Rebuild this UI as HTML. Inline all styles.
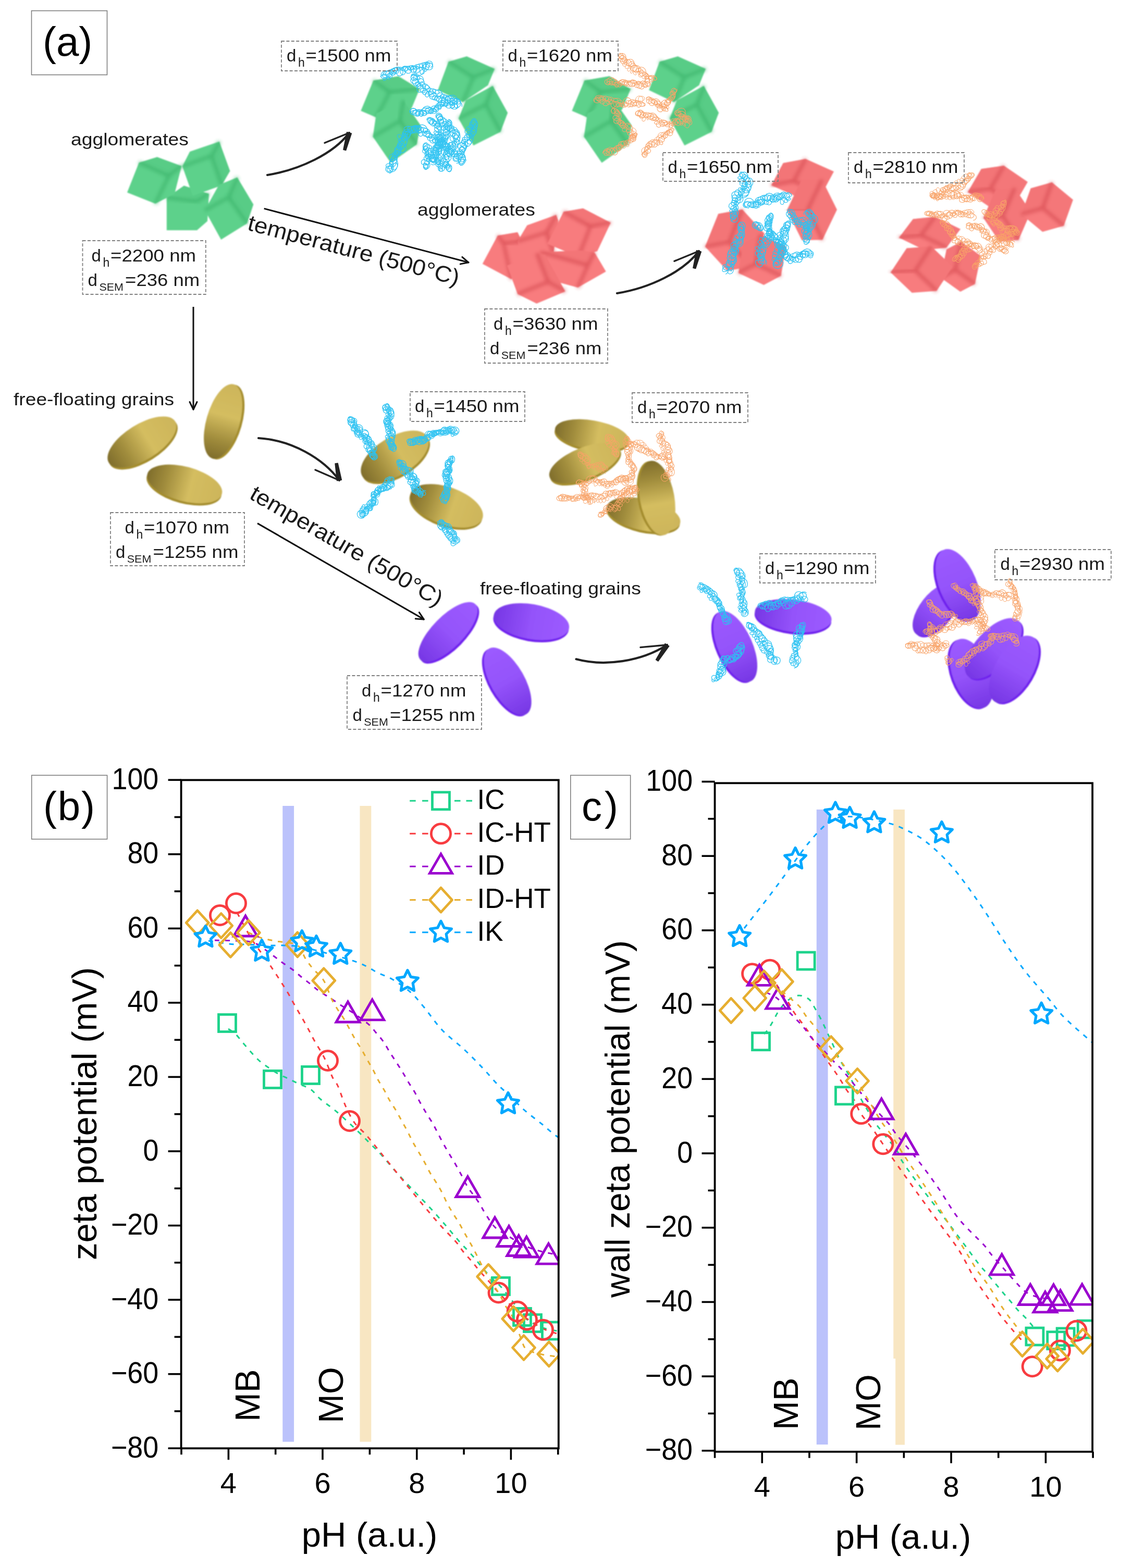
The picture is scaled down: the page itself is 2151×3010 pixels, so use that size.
<!DOCTYPE html>
<html><head><meta charset="utf-8"><title>Figure</title>
<style>html,body{margin:0;padding:0;background:#fff;overflow:hidden}svg{display:block}</style>
</head><body>
<svg width="2151" height="3010" viewBox="0 0 2151 3010">
<rect width="100%" height="100%" fill="#fff"/>
<defs>
<filter id="blur3" x="-50%" y="-50%" width="200%" height="200%"><feGaussianBlur stdDeviation="3"/></filter>
<filter id="blur1" x="-10%" y="-10%" width="120%" height="120%"><feGaussianBlur stdDeviation="0.8"/></filter>
<linearGradient id="ggold" x1="0" y1="0" x2="1" y2="0">
<stop offset="0" stop-color="#7f6d2b"/><stop offset="0.25" stop-color="#a08c3c"/><stop offset="0.58" stop-color="#d4bd60"/><stop offset="1" stop-color="#cdb55a"/></linearGradient>
<linearGradient id="gpurp" x1="0" y1="0" x2="1" y2="0">
<stop offset="0" stop-color="#7636e4"/><stop offset="0.5" stop-color="#9453fa"/><stop offset="1" stop-color="#9c5bff"/></linearGradient>
</defs>
<rect x="60.5" y="20.6" width="145" height="123" fill="none" stroke="#7f7f7f" stroke-width="1.6"/>
<text x="82" y="107" font-family="'Liberation Sans', Arial, sans-serif" font-size="78" fill="#000">(a)</text>
<g filter="url(#blur1)"><g><polygon points="319.8,379.7 353.0,356.4 401.0,372.0 398.0,424.6 378.0,442.0 319.8,442.0" fill="#5dd18b"/><polygon points="378.0,387.0 319.8,379.7 353.0,356.4 401.0,372.0" fill="#52c681" opacity="0.45"/><line x1="378.0" y1="387.0" x2="319.8" y2="379.7" stroke="#3db36b" stroke-width="7" opacity="0.65" filter="url(#blur3)"/><line x1="378.0" y1="387.0" x2="401.0" y2="372.0" stroke="#3db36b" stroke-width="7" opacity="0.65" filter="url(#blur3)"/><line x1="378.0" y1="387.0" x2="378.0" y2="442.0" stroke="#3db36b" stroke-width="7" opacity="0.65" filter="url(#blur3)"/></g>
<g><polygon points="266.6,312.3 301.5,301.6 348.4,318.7 335.0,372.0 298.0,391.0 244.0,369.4" fill="#5dd18b"/><polygon points="323.7,337.9 266.6,312.3 301.5,301.6 348.4,318.7" fill="#52c681" opacity="0.45"/><line x1="323.7" y1="337.9" x2="266.6" y2="312.3" stroke="#3db36b" stroke-width="7" opacity="0.65" filter="url(#blur3)"/><line x1="323.7" y1="337.9" x2="348.4" y2="318.7" stroke="#3db36b" stroke-width="7" opacity="0.65" filter="url(#blur3)"/><line x1="323.7" y1="337.9" x2="298.0" y2="391.0" stroke="#3db36b" stroke-width="7" opacity="0.65" filter="url(#blur3)"/></g>
<g><polygon points="364.3,291.0 420.8,271.7 441.3,328.2 425.3,355.9 369.9,375.8 349.9,319.3" fill="#5dd18b"/><polygon points="405.4,299.5 420.8,271.7 441.3,328.2 425.3,355.9" fill="#52c681" opacity="0.45"/><line x1="405.4" y1="299.5" x2="420.8" y2="271.7" stroke="#3db36b" stroke-width="7" opacity="0.65" filter="url(#blur3)"/><line x1="405.4" y1="299.5" x2="425.3" y2="355.9" stroke="#3db36b" stroke-width="7" opacity="0.65" filter="url(#blur3)"/><line x1="405.4" y1="299.5" x2="349.9" y2="319.3" stroke="#3db36b" stroke-width="7" opacity="0.65" filter="url(#blur3)"/></g>
<g><polygon points="455.2,340.4 486.2,392.5 474.0,429.0 424.2,460.1 393.1,403.6 420.0,355.0" fill="#5dd18b"/><polygon points="438.3,379.0 455.2,340.4 486.2,392.5 474.0,429.0" fill="#52c681" opacity="0.45"/><line x1="438.3" y1="379.0" x2="455.2" y2="340.4" stroke="#3db36b" stroke-width="7" opacity="0.65" filter="url(#blur3)"/><line x1="438.3" y1="379.0" x2="474.0" y2="429.0" stroke="#3db36b" stroke-width="7" opacity="0.65" filter="url(#blur3)"/><line x1="438.3" y1="379.0" x2="393.1" y2="403.6" stroke="#3db36b" stroke-width="7" opacity="0.65" filter="url(#blur3)"/></g>
<g><polygon points="716.4,154.5 764.4,146.2 805.1,171.1 788.5,210.8 722.0,225.6 692.4,212.7" fill="#5dd18b"/><polygon points="747.5,177.2 716.4,154.5 764.4,146.2 805.1,171.1" fill="#52c681" opacity="0.45"/><line x1="747.5" y1="177.2" x2="716.4" y2="154.5" stroke="#3db36b" stroke-width="7" opacity="0.65" filter="url(#blur3)"/><line x1="747.5" y1="177.2" x2="805.1" y2="171.1" stroke="#3db36b" stroke-width="7" opacity="0.65" filter="url(#blur3)"/><line x1="747.5" y1="177.2" x2="722.0" y2="225.6" stroke="#3db36b" stroke-width="7" opacity="0.65" filter="url(#blur3)"/></g>
<g><polygon points="773.7,192.4 807.0,240.4 799.5,277.4 749.7,312.4 715.5,262.6 722.0,218.0" fill="#5dd18b"/><polygon points="766.7,232.4 773.7,192.4 807.0,240.4 799.5,277.4" fill="#52c681" opacity="0.45"/><line x1="766.7" y1="232.4" x2="773.7" y2="192.4" stroke="#3db36b" stroke-width="7" opacity="0.65" filter="url(#blur3)"/><line x1="766.7" y1="232.4" x2="799.5" y2="277.4" stroke="#3db36b" stroke-width="7" opacity="0.65" filter="url(#blur3)"/><line x1="766.7" y1="232.4" x2="715.5" y2="262.6" stroke="#3db36b" stroke-width="7" opacity="0.65" filter="url(#blur3)"/></g>
<g><polygon points="860.5,118.5 895.6,108.3 949.2,132.3 936.3,163.7 888.2,196.0 840.2,173.0" fill="#5dd18b"/><polygon points="907.9,148.8 860.5,118.5 895.6,108.3 949.2,132.3" fill="#52c681" opacity="0.45"/><line x1="907.9" y1="148.8" x2="860.5" y2="118.5" stroke="#3db36b" stroke-width="7" opacity="0.65" filter="url(#blur3)"/><line x1="907.9" y1="148.8" x2="949.2" y2="132.3" stroke="#3db36b" stroke-width="7" opacity="0.65" filter="url(#blur3)"/><line x1="907.9" y1="148.8" x2="888.2" y2="196.0" stroke="#3db36b" stroke-width="7" opacity="0.65" filter="url(#blur3)"/></g>
<g><polygon points="893.8,192.4 945.5,164.7 974.1,216.4 960.3,253.3 908.5,279.2 879.9,227.5" fill="#5dd18b"/><polygon points="931.7,200.9 945.5,164.7 974.1,216.4 960.3,253.3" fill="#52c681" opacity="0.45"/><line x1="931.7" y1="200.9" x2="945.5" y2="164.7" stroke="#3db36b" stroke-width="7" opacity="0.65" filter="url(#blur3)"/><line x1="931.7" y1="200.9" x2="960.3" y2="253.3" stroke="#3db36b" stroke-width="7" opacity="0.65" filter="url(#blur3)"/><line x1="931.7" y1="200.9" x2="879.9" y2="227.5" stroke="#3db36b" stroke-width="7" opacity="0.65" filter="url(#blur3)"/></g>
<g><polygon points="1121.4,154.5 1169.4,146.2 1210.1,171.1 1193.5,210.8 1127.0,225.6 1097.4,212.7" fill="#5dd18b"/><polygon points="1152.5,177.2 1121.4,154.5 1169.4,146.2 1210.1,171.1" fill="#52c681" opacity="0.45"/><line x1="1152.5" y1="177.2" x2="1121.4" y2="154.5" stroke="#3db36b" stroke-width="7" opacity="0.65" filter="url(#blur3)"/><line x1="1152.5" y1="177.2" x2="1210.1" y2="171.1" stroke="#3db36b" stroke-width="7" opacity="0.65" filter="url(#blur3)"/><line x1="1152.5" y1="177.2" x2="1127.0" y2="225.6" stroke="#3db36b" stroke-width="7" opacity="0.65" filter="url(#blur3)"/></g>
<g><polygon points="1178.7,192.4 1212.0,240.4 1204.5,277.4 1154.7,312.4 1120.5,262.6 1127.0,218.0" fill="#5dd18b"/><polygon points="1171.7,232.4 1178.7,192.4 1212.0,240.4 1204.5,277.4" fill="#52c681" opacity="0.45"/><line x1="1171.7" y1="232.4" x2="1178.7" y2="192.4" stroke="#3db36b" stroke-width="7" opacity="0.65" filter="url(#blur3)"/><line x1="1171.7" y1="232.4" x2="1204.5" y2="277.4" stroke="#3db36b" stroke-width="7" opacity="0.65" filter="url(#blur3)"/><line x1="1171.7" y1="232.4" x2="1120.5" y2="262.6" stroke="#3db36b" stroke-width="7" opacity="0.65" filter="url(#blur3)"/></g>
<g><polygon points="1265.5,118.5 1300.6,108.3 1354.2,132.3 1341.3,163.7 1293.2,196.0 1245.2,173.0" fill="#5dd18b"/><polygon points="1312.9,148.8 1265.5,118.5 1300.6,108.3 1354.2,132.3" fill="#52c681" opacity="0.45"/><line x1="1312.9" y1="148.8" x2="1265.5" y2="118.5" stroke="#3db36b" stroke-width="7" opacity="0.65" filter="url(#blur3)"/><line x1="1312.9" y1="148.8" x2="1354.2" y2="132.3" stroke="#3db36b" stroke-width="7" opacity="0.65" filter="url(#blur3)"/><line x1="1312.9" y1="148.8" x2="1293.2" y2="196.0" stroke="#3db36b" stroke-width="7" opacity="0.65" filter="url(#blur3)"/></g>
<g><polygon points="1298.8,192.4 1350.5,164.7 1379.1,216.4 1365.3,253.3 1313.5,279.2 1284.9,227.5" fill="#5dd18b"/><polygon points="1336.7,200.9 1350.5,164.7 1379.1,216.4 1365.3,253.3" fill="#52c681" opacity="0.45"/><line x1="1336.7" y1="200.9" x2="1350.5" y2="164.7" stroke="#3db36b" stroke-width="7" opacity="0.65" filter="url(#blur3)"/><line x1="1336.7" y1="200.9" x2="1365.3" y2="253.3" stroke="#3db36b" stroke-width="7" opacity="0.65" filter="url(#blur3)"/><line x1="1336.7" y1="200.9" x2="1284.9" y2="227.5" stroke="#3db36b" stroke-width="7" opacity="0.65" filter="url(#blur3)"/></g>
<g><polygon points="954.9,452.3 993.1,445.7 1001.5,463.2 1001.5,496.4 981.5,536.3 925.8,506.4" fill="#f87c7e"/><polygon points="966.5,468.1 954.9,452.3 993.1,445.7 1001.5,463.2" fill="#ee6c6f" opacity="0.45"/><line x1="966.5" y1="468.1" x2="954.9" y2="452.3" stroke="#d64d52" stroke-width="7" opacity="0.65" filter="url(#blur3)"/><line x1="966.5" y1="468.1" x2="1001.5" y2="463.2" stroke="#d64d52" stroke-width="7" opacity="0.65" filter="url(#blur3)"/><line x1="966.5" y1="468.1" x2="981.5" y2="536.3" stroke="#d64d52" stroke-width="7" opacity="0.65" filter="url(#blur3)"/></g>
<g><polygon points="1011.4,432.4 1067.1,412.4 1071.3,423.2 1062.0,486.0 1000.0,501.0 993.1,463.2" fill="#f87c7e"/><polygon points="1048.0,446.5 1067.1,412.4 1071.3,423.2 1062.0,486.0" fill="#ee6c6f" opacity="0.45"/><line x1="1048.0" y1="446.5" x2="1067.1" y2="412.4" stroke="#d64d52" stroke-width="7" opacity="0.65" filter="url(#blur3)"/><line x1="1048.0" y1="446.5" x2="1062.0" y2="486.0" stroke="#d64d52" stroke-width="7" opacity="0.65" filter="url(#blur3)"/><line x1="1048.0" y1="446.5" x2="993.1" y2="463.2" stroke="#d64d52" stroke-width="7" opacity="0.65" filter="url(#blur3)"/></g>
<g><polygon points="1081.3,406.6 1118.7,400.0 1171.9,427.4 1146.1,482.3 1110.0,493.0 1050.0,468.0" fill="#f87c7e"/><polygon points="1132.8,434.9 1081.3,406.6 1118.7,400.0 1171.9,427.4" fill="#ee6c6f" opacity="0.45"/><line x1="1132.8" y1="434.9" x2="1081.3" y2="406.6" stroke="#d64d52" stroke-width="7" opacity="0.65" filter="url(#blur3)"/><line x1="1132.8" y1="434.9" x2="1171.9" y2="427.4" stroke="#d64d52" stroke-width="7" opacity="0.65" filter="url(#blur3)"/><line x1="1132.8" y1="434.9" x2="1110.0" y2="493.0" stroke="#d64d52" stroke-width="7" opacity="0.65" filter="url(#blur3)"/></g>
<g><polygon points="1037.0,484.0 1114.5,481.0 1141.1,484.8 1162.7,521.3 1108.7,552.1 1072.0,542.0" fill="#f87c7e"/><polygon points="1127.8,509.7 1037.0,484.0 1114.5,481.0 1141.1,484.8" fill="#ee6c6f" opacity="0.45"/><line x1="1127.8" y1="509.7" x2="1037.0" y2="484.0" stroke="#d64d52" stroke-width="7" opacity="0.65" filter="url(#blur3)"/><line x1="1127.8" y1="509.7" x2="1141.1" y2="484.8" stroke="#d64d52" stroke-width="7" opacity="0.65" filter="url(#blur3)"/><line x1="1127.8" y1="509.7" x2="1108.7" y2="552.1" stroke="#d64d52" stroke-width="7" opacity="0.65" filter="url(#blur3)"/></g>
<g><polygon points="973.2,509.7 1029.7,486.4 1046.3,489.7 1084.6,559.6 1029.7,582.8 993.1,564.6" fill="#f87c7e"/><polygon points="1051.3,541.3 1029.7,486.4 1046.3,489.7 1084.6,559.6" fill="#ee6c6f" opacity="0.45"/><line x1="1051.3" y1="541.3" x2="1029.7" y2="486.4" stroke="#d64d52" stroke-width="7" opacity="0.65" filter="url(#blur3)"/><line x1="1051.3" y1="541.3" x2="1084.6" y2="559.6" stroke="#d64d52" stroke-width="7" opacity="0.65" filter="url(#blur3)"/><line x1="1051.3" y1="541.3" x2="993.1" y2="564.6" stroke="#d64d52" stroke-width="7" opacity="0.65" filter="url(#blur3)"/></g>
<g><polygon points="1480.0,355.7 1502.8,313.0 1545.8,305.0 1600.0,329.3 1577.2,372.0 1534.2,380.0" fill="#f87c7e"/><polygon points="1523.0,347.8 1545.8,305.0 1502.8,313.0 1480.0,355.7" fill="#ee6c6f" opacity="0.45"/><polygon points="1523.0,347.8 1545.8,305.0 1600.0,329.3 1577.2,372.0" fill="#d64d52" opacity="0.10"/><line x1="1523.0" y1="347.8" x2="1545.8" y2="305.0" stroke="#d64d52" stroke-width="7" opacity="0.65" filter="url(#blur3)"/><line x1="1523.0" y1="347.8" x2="1480.0" y2="355.7" stroke="#d64d52" stroke-width="7" opacity="0.65" filter="url(#blur3)"/><line x1="1523.0" y1="347.8" x2="1577.2" y2="372.0" stroke="#d64d52" stroke-width="7" opacity="0.65" filter="url(#blur3)"/></g>
<g><polygon points="1510.0,403.5 1537.9,345.5 1577.5,345.0 1606.0,402.5 1578.1,460.5 1538.5,461.0" fill="#f87c7e"/><polygon points="1549.6,402.9 1577.5,345.0 1537.9,345.5 1510.0,403.5" fill="#ee6c6f" opacity="0.45"/><polygon points="1549.6,402.9 1577.5,345.0 1606.0,402.5 1578.1,460.5" fill="#d64d52" opacity="0.10"/><line x1="1549.6" y1="402.9" x2="1577.5" y2="345.0" stroke="#d64d52" stroke-width="7" opacity="0.65" filter="url(#blur3)"/><line x1="1549.6" y1="402.9" x2="1510.0" y2="403.5" stroke="#d64d52" stroke-width="7" opacity="0.65" filter="url(#blur3)"/><line x1="1549.6" y1="402.9" x2="1578.1" y2="460.5" stroke="#d64d52" stroke-width="7" opacity="0.65" filter="url(#blur3)"/></g>
<g><polygon points="1353.0,473.5 1378.3,410.4 1424.4,402.0 1467.0,448.5 1441.7,511.6 1395.6,520.0" fill="#f87c7e"/><polygon points="1399.2,465.1 1424.4,402.0 1378.3,410.4 1353.0,473.5" fill="#ee6c6f" opacity="0.45"/><polygon points="1399.2,465.1 1424.4,402.0 1467.0,448.5 1441.7,511.6" fill="#d64d52" opacity="0.10"/><line x1="1399.2" y1="465.1" x2="1424.4" y2="402.0" stroke="#d64d52" stroke-width="7" opacity="0.65" filter="url(#blur3)"/><line x1="1399.2" y1="465.1" x2="1353.0" y2="473.5" stroke="#d64d52" stroke-width="7" opacity="0.65" filter="url(#blur3)"/><line x1="1399.2" y1="465.1" x2="1441.7" y2="511.6" stroke="#d64d52" stroke-width="7" opacity="0.65" filter="url(#blur3)"/></g>
<g><polygon points="1417.0,524.2 1426.4,467.4 1459.4,450.0 1508.0,472.8 1498.6,529.6 1465.6,547.0" fill="#f87c7e"/><polygon points="1450.1,506.8 1459.4,450.0 1426.4,467.4 1417.0,524.2" fill="#ee6c6f" opacity="0.45"/><polygon points="1450.1,506.8 1459.4,450.0 1508.0,472.8 1498.6,529.6" fill="#d64d52" opacity="0.10"/><line x1="1450.1" y1="506.8" x2="1459.4" y2="450.0" stroke="#d64d52" stroke-width="7" opacity="0.65" filter="url(#blur3)"/><line x1="1450.1" y1="506.8" x2="1417.0" y2="524.2" stroke="#d64d52" stroke-width="7" opacity="0.65" filter="url(#blur3)"/><line x1="1450.1" y1="506.8" x2="1498.6" y2="529.6" stroke="#d64d52" stroke-width="7" opacity="0.65" filter="url(#blur3)"/></g>
<g><polygon points="1857.0,368.8 1882.9,324.2 1926.3,318.0 1972.0,349.2 1946.1,393.8 1902.7,400.0" fill="#f87c7e"/><polygon points="1900.4,362.6 1926.3,318.0 1882.9,324.2 1857.0,368.8" fill="#ee6c6f" opacity="0.45"/><polygon points="1900.4,362.6 1926.3,318.0 1972.0,349.2 1946.1,393.8" fill="#d64d52" opacity="0.10"/><line x1="1900.4" y1="362.6" x2="1926.3" y2="318.0" stroke="#d64d52" stroke-width="7" opacity="0.65" filter="url(#blur3)"/><line x1="1900.4" y1="362.6" x2="1857.0" y2="368.8" stroke="#d64d52" stroke-width="7" opacity="0.65" filter="url(#blur3)"/><line x1="1900.4" y1="362.6" x2="1946.1" y2="393.8" stroke="#d64d52" stroke-width="7" opacity="0.65" filter="url(#blur3)"/></g>
<g><polygon points="1887.0,418.5 1910.6,364.3 1947.3,361.0 1978.0,406.5 1954.4,460.7 1917.7,464.0" fill="#f87c7e"/><polygon points="1923.8,415.2 1947.3,361.0 1910.6,364.3 1887.0,418.5" fill="#ee6c6f" opacity="0.45"/><polygon points="1923.8,415.2 1947.3,361.0 1978.0,406.5 1954.4,460.7" fill="#d64d52" opacity="0.10"/><line x1="1923.8" y1="415.2" x2="1947.3" y2="361.0" stroke="#d64d52" stroke-width="7" opacity="0.65" filter="url(#blur3)"/><line x1="1923.8" y1="415.2" x2="1887.0" y2="418.5" stroke="#d64d52" stroke-width="7" opacity="0.65" filter="url(#blur3)"/><line x1="1923.8" y1="415.2" x2="1954.4" y2="460.7" stroke="#d64d52" stroke-width="7" opacity="0.65" filter="url(#blur3)"/></g>
<g><polygon points="1960.0,411.4 1977.8,361.5 2018.6,350.0 2059.0,383.6 2041.2,433.5 2000.4,445.0" fill="#f87c7e"/><polygon points="2000.8,399.8 2018.6,350.0 1977.8,361.5 1960.0,411.4" fill="#ee6c6f" opacity="0.45"/><polygon points="2000.8,399.8 2018.6,350.0 2059.0,383.6 2041.2,433.5" fill="#d64d52" opacity="0.10"/><line x1="2000.8" y1="399.8" x2="2018.6" y2="350.0" stroke="#d64d52" stroke-width="7" opacity="0.65" filter="url(#blur3)"/><line x1="2000.8" y1="399.8" x2="1960.0" y2="411.4" stroke="#d64d52" stroke-width="7" opacity="0.65" filter="url(#blur3)"/><line x1="2000.8" y1="399.8" x2="2041.2" y2="433.5" stroke="#d64d52" stroke-width="7" opacity="0.65" filter="url(#blur3)"/></g>
<g><polygon points="1725.0,456.3 1752.0,420.6 1794.1,416.0 1843.0,439.7 1816.0,475.4 1773.9,480.0" fill="#f87c7e"/><polygon points="1767.1,451.7 1794.1,416.0 1752.0,420.6 1725.0,456.3" fill="#ee6c6f" opacity="0.45"/><polygon points="1767.1,451.7 1794.1,416.0 1843.0,439.7 1816.0,475.4" fill="#d64d52" opacity="0.10"/><line x1="1767.1" y1="451.7" x2="1794.1" y2="416.0" stroke="#d64d52" stroke-width="7" opacity="0.65" filter="url(#blur3)"/><line x1="1767.1" y1="451.7" x2="1725.0" y2="456.3" stroke="#d64d52" stroke-width="7" opacity="0.65" filter="url(#blur3)"/><line x1="1767.1" y1="451.7" x2="1816.0" y2="475.4" stroke="#d64d52" stroke-width="7" opacity="0.65" filter="url(#blur3)"/></g>
<g><polygon points="1805.0,532.9 1816.2,478.8 1844.3,464.0 1882.0,491.1 1870.8,545.2 1842.7,560.0" fill="#f87c7e"/><polygon points="1833.1,518.1 1844.3,464.0 1816.2,478.8 1805.0,532.9" fill="#ee6c6f" opacity="0.45"/><polygon points="1833.1,518.1 1844.3,464.0 1882.0,491.1 1870.8,545.2" fill="#d64d52" opacity="0.10"/><line x1="1833.1" y1="518.1" x2="1844.3" y2="464.0" stroke="#d64d52" stroke-width="7" opacity="0.65" filter="url(#blur3)"/><line x1="1833.1" y1="518.1" x2="1805.0" y2="532.9" stroke="#d64d52" stroke-width="7" opacity="0.65" filter="url(#blur3)"/><line x1="1833.1" y1="518.1" x2="1870.8" y2="545.2" stroke="#d64d52" stroke-width="7" opacity="0.65" filter="url(#blur3)"/></g>
<g><polygon points="1709.0,523.0 1739.8,476.5 1787.1,473.0 1828.0,512.0 1797.2,558.5 1749.9,562.0" fill="#f87c7e"/><polygon points="1756.3,519.5 1787.1,473.0 1739.8,476.5 1709.0,523.0" fill="#ee6c6f" opacity="0.45"/><polygon points="1756.3,519.5 1787.1,473.0 1828.0,512.0 1797.2,558.5" fill="#d64d52" opacity="0.10"/><line x1="1756.3" y1="519.5" x2="1787.1" y2="473.0" stroke="#d64d52" stroke-width="7" opacity="0.65" filter="url(#blur3)"/><line x1="1756.3" y1="519.5" x2="1709.0" y2="523.0" stroke="#d64d52" stroke-width="7" opacity="0.65" filter="url(#blur3)"/><line x1="1756.3" y1="519.5" x2="1797.2" y2="558.5" stroke="#d64d52" stroke-width="7" opacity="0.65" filter="url(#blur3)"/></g></g>
<g filter="url(#blur1)"><ellipse cx="274.8" cy="852.3" rx="75.0" ry="34.0" transform="rotate(-32.0 274.8 852.3)" fill="#a48d2e"/><ellipse cx="272.4" cy="848.5" rx="75.0" ry="34.0" transform="rotate(-32.0 272.4 848.5)" fill="url(#ggold)"/>
<ellipse cx="432.3" cy="810.2" rx="74.0" ry="32.0" transform="rotate(-74.0 432.3 810.2)" fill="#a48d2e"/><ellipse cx="428.0" cy="809.0" rx="74.0" ry="32.0" transform="rotate(-74.0 428.0 809.0)" fill="url(#ggold)"/>
<ellipse cx="353.1" cy="933.3" rx="74.0" ry="33.0" transform="rotate(15.0 353.1 933.3)" fill="#a48d2e"/><ellipse cx="354.3" cy="929.0" rx="74.0" ry="33.0" transform="rotate(15.0 354.3 929.0)" fill="url(#ggold)"/>
<ellipse cx="759.9" cy="879.8" rx="73.0" ry="37.0" transform="rotate(-31.5 759.9 879.8)" fill="#a48d2e"/><ellipse cx="757.5" cy="876.0" rx="73.0" ry="37.0" transform="rotate(-31.5 757.5 876.0)" fill="url(#ggold)"/>
<ellipse cx="855.5" cy="975.2" rx="73.0" ry="36.0" transform="rotate(19.5 855.5 975.2)" fill="#a48d2e"/><ellipse cx="857.0" cy="971.0" rx="73.0" ry="36.0" transform="rotate(19.5 857.0 971.0)" fill="url(#ggold)"/>
<ellipse cx="1135.2" cy="839.4" rx="72.0" ry="28.0" transform="rotate(10.0 1135.2 839.4)" fill="#a48d2e"/><ellipse cx="1136.0" cy="835.0" rx="72.0" ry="28.0" transform="rotate(10.0 1136.0 835.0)" fill="url(#ggold)"/>
<ellipse cx="1123.7" cy="893.2" rx="72.5" ry="30.0" transform="rotate(-22.0 1123.7 893.2)" fill="#a48d2e"/><ellipse cx="1122.0" cy="889.0" rx="72.5" ry="30.0" transform="rotate(-22.0 1122.0 889.0)" fill="url(#ggold)"/>
<ellipse cx="1234.0" cy="992.4" rx="72.0" ry="30.0" transform="rotate(12.8 1234.0 992.4)" fill="#a48d2e"/><ellipse cx="1235.0" cy="988.0" rx="72.0" ry="30.0" transform="rotate(12.8 1235.0 988.0)" fill="url(#ggold)"/>
<ellipse cx="1256.6" cy="956.8" rx="72.4" ry="33.0" transform="rotate(79.9 1256.6 956.8)" fill="#a48d2e"/><ellipse cx="1261.0" cy="956.0" rx="72.4" ry="33.0" transform="rotate(79.9 1261.0 956.0)" fill="url(#ggold)"/>
<ellipse cx="862.7" cy="1216.4" rx="75.0" ry="30.0" transform="rotate(-45.5 862.7 1216.4)" fill="#6f22ee"/><ellipse cx="859.5" cy="1213.2" rx="75.0" ry="30.0" transform="rotate(-45.5 859.5 1213.2)" fill="url(#gpurp)"/>
<ellipse cx="1018.9" cy="1197.7" rx="73.3" ry="33.5" transform="rotate(9.9 1018.9 1197.7)" fill="#6f22ee"/><ellipse cx="1019.7" cy="1193.3" rx="73.3" ry="33.5" transform="rotate(9.9 1019.7 1193.3)" fill="url(#gpurp)"/>
<ellipse cx="970.3" cy="1310.2" rx="72.3" ry="32.5" transform="rotate(-119.5 970.3 1310.2)" fill="#6f22ee"/><ellipse cx="974.2" cy="1308.0" rx="72.3" ry="32.5" transform="rotate(-119.5 974.2 1308.0)" fill="url(#gpurp)"/>
<ellipse cx="1406.9" cy="1242.8" rx="73.0" ry="33.0" transform="rotate(-113.7 1406.9 1242.8)" fill="#6f22ee"/><ellipse cx="1411.0" cy="1241.0" rx="73.0" ry="33.0" transform="rotate(-113.7 1411.0 1241.0)" fill="url(#gpurp)"/>
<ellipse cx="1521.5" cy="1186.5" rx="74.0" ry="31.0" transform="rotate(6.8 1521.5 1186.5)" fill="#6f22ee"/><ellipse cx="1522.0" cy="1182.0" rx="74.0" ry="31.0" transform="rotate(6.8 1522.0 1182.0)" fill="url(#gpurp)"/>
<ellipse cx="1798.5" cy="1172.8" rx="60.0" ry="30.0" transform="rotate(-52.0 1798.5 1172.8)" fill="#6f22ee"/><ellipse cx="1795.0" cy="1170.0" rx="60.0" ry="30.0" transform="rotate(-52.0 1795.0 1170.0)" fill="url(#gpurp)"/>
<ellipse cx="1834.3" cy="1124.7" rx="73.0" ry="36.0" transform="rotate(-112.2 1834.3 1124.7)" fill="#6f22ee"/><ellipse cx="1838.5" cy="1123.0" rx="73.0" ry="36.0" transform="rotate(-112.2 1838.5 1123.0)" fill="url(#gpurp)"/>
<ellipse cx="1859.8" cy="1294.6" rx="70.0" ry="36.0" transform="rotate(-110.4 1859.8 1294.6)" fill="#6f22ee"/><ellipse cx="1864.0" cy="1293.0" rx="70.0" ry="36.0" transform="rotate(-110.4 1864.0 1293.0)" fill="url(#gpurp)"/>
<ellipse cx="1909.3" cy="1248.0" rx="72.0" ry="35.0" transform="rotate(-48.0 1909.3 1248.0)" fill="#6f22ee"/><ellipse cx="1906.0" cy="1245.0" rx="72.0" ry="35.0" transform="rotate(-48.0 1906.0 1245.0)" fill="url(#gpurp)"/>
<ellipse cx="1949.4" cy="1287.3" rx="72.0" ry="36.0" transform="rotate(-59.8 1949.4 1287.3)" fill="#6f22ee"/><ellipse cx="1945.5" cy="1285.0" rx="72.0" ry="36.0" transform="rotate(-59.8 1945.5 1285.0)" fill="url(#gpurp)"/></g>
<g opacity="0.95"><path d="M730,147.8 l 1.9,-3.1 3.7,-2.3 3.9,-.3 3.3,1.5 .9,2.9 -1.3,2.7 -2.9,1.8 -3.5,.3 -3.5,-1.8 -1.4,-3.1 .1,-3.7 2,-3.4 3.6,-2.5 4.3,-.9 4.5,1.3 2.4,2.6 -.2,3.9 -2.1,3.3 -4.4,2.2 -4,-.1 -2.9,-1.8 -.6,-3.1 2.2,-4.2 4.2,-3 4.4,-.9 4.4,.8 2.7,2.6 .6,3.2 -1.6,3 -3.1,1.9 -3.8,.2 -3.1,-2.3 -.9,-3.1 1.3,-3.8 2.8,-3.1 3.9,-1.4 3.9,.4 2.5,2 .7,2.7 -1.2,2.3 -2.5,1.3 -2.8,-.3 -1.5,-1.3 -.1,-3 1.5,-3.4 2.5,-2.2 3.2,-.6 3.7,1.2 2.1,2.4 .3,2.9 -1.4,2.2 -2.2,1.3 -2.8,-.6 -2,-2.2 -.3,-2.8 1.3,-3.4 2.7,-2.3 3.8,-.9 3.4,1.1 2.5,2.7 .4,3.4 -1.9,3 -3.3,1.2 -2.6,-.9 -1.8,-2.3 .1,-2.8 1,-3.7 3.5,-2.5 3.9,-.2 4.8,2.3 3.4,4.4 .7,4.2 -1.7,4.3 -3.8,1.9 -4.1,-.8 -2.4,-2.8 -1,-4.3 2.1,-4.1 4.4,-2.8 5,-.2 3.8,2 1.7,3.5 .2,3.4 -2,3.2 -3,.6 -2.6,-1.4 -1.7,-2.9 -.1,-3.9 1.2,-3.2 3.2,-2.6 4.4,-1.2 4,.7 2.2,1.8 .2,1.6 -1.5,2 -2.8,1.7 -3,.3 -2.5,-1.7 -.6,-2.2 1,-2.6 2.7,-1.9 4.1,-.7 4.1,.6 3.8,2.8 1.4,3.9 -1.5,3.9 -2.8,2 -3.4,.3 -3.3,-1.7 -1.9,-3.1 .6,-4.3 2.8,-3 4.5,-2.1 3.9,-.2 2.5,1 1.3,1.9 -.5,2.5 -1.9,2 -2.5,.9 -2.4,-.4 -1.5,-1.5 .1,-2 1.3,-3 2.9,-1.9 4.3,-.3 3.4,1.6 2.4,2.7 .5,4 -1.8,3.4 -3.6,1.6 -3.4,-.7 -2.4,-2.3 -.4,-3.8 1.8,-2.8 3.7,-2.3 4.7,-.5 4.8,1.4 2.8,2.9 .7,3.8 -1.9,3.6 -3.1,1.8 -3.5,.3 -2.8,-1.5 -1.1,-3.4 1.4,-4 3.7,-2.6 5.2,-.7 4.9,1.9 3.5,3.5 .7,3.9 -1.6,3.9 -3.8,2.6 -4.4,.3 -3.5,-1.9 -1.5,-3.2 1.4,-5.2 3.7,-3.5 4,-1.5 4.5,.9 2.8,3.2 .9,3.9 -1.5,3.3 -2.5,2 -2.7,-.1 -2.1,-1.6 -.6,-2.6 1.2,-2.3 2.3,-2.3 3.1,-1.4 3.5,-.3 2.4,.9 .8,2 -.7,1.3 -2.2,.9 -2.5,-.6 -2.3,-1.6 -1.4,-2.9 0,-3.9 2.4,-3.4 3.1,-1.8 4,.3 2.8,2.2 1.1,3.2 -1.1,3.6 -2.3,1.4 -3.5,-.1 -3.2,-2.2 -1.2,-3.8 1.2,-3.2 3.7,-2.8 4.5,-1 4.7,.8 3.3,2.6 1.2,3.7 -1.3,3.9 -3.7,2.8 -4.5,.2 -3.8,-2.2 -1.4,-3.7 1.6,-4.5 3.7,-2.2 5,-.3 4.7,2.5" fill="none" stroke="#2cc2f2" stroke-width="1.25" stroke-linejoin="round"/>
<path d="M733.3,145.4 l 2.5,-1.3 2.9,0 2.5,1.1 1.4,2.3 0,2.7 -1.6,2.5 -2.2,1.6 -2,.4 -1.6,-1.1 0,-2 1.7,-1.9 3.6,-1.5 3.3,.2 2.6,.6 1.5,1.2 .5,1.2 -.7,1 -1.6,.4 -2.1,-.9 -1.5,-2 -.3,-2.8 .7,-2.7 1.5,-2.7 2.3,-.9 3,.2 2.3,1.9 .9,2.1 -.1,2.7 -1.6,1.5 -2.6,.2 -2.1,-1.8 -1.2,-2.6 .3,-3.5 2.6,-1.4 3.4,-1.8 3.9,-.2 2.5,1.1 .9,2.1 -.9,1.7 -2.9,1.4 -3.5,-.2 -2.4,-2.2 -.6,-2.8 1,-3 2.5,-3.5 3.7,-2.1 3.4,-.3 2.6,1.2 1.2,2.4 -.9,3 -2.1,1.7 -3.5,.5 -2.3,-.7 -1.1,-2.6 .5,-3.3 3.4,-2.3 3.6,-1.1 3,0 2.4,.8 1.5,1.9 -.3,1.9 -1.3,1.7 -1.7,.5 -1.6,-.5 -.6,-1.7 .5,-2.4 2.2,-2.1 2.9,-.5 2.7,.5 2.3,1.2 1,2 -.4,1.6 -1.5,1.1 -1.7,0 -1.1,-1.2 .3,-1.8 2,-1.8 2.5,-2.8 3.4,-.8 3,.8 2,2 .4,3.2 -1.6,3.1 -2.3,1.4 -3,-.2 -2.1,-2.7 -.4,-3.1 1.7,-3.2 3.6,-.6 3.4,-.3 3.4,.9 2.1,1.9 .4,2.3 -1.4,1.7 -1.8,.1 -1.9,-.5 -.9,-1.5 .1,-2.3 1.4,-2.1 2.9,-1.1 3.3,-.3 2.6,.6 1.9,2.4 -.2,2.4 -1.9,2 -2.2,.7 -2.2,-.4 -1.1,-1.4 .8,-2.3 2.9,-1.9 3.3,-.7 3,.2 2.4,1 .9,1.3 -.5,1.5 -1.4,1.3 -1.8,.3 -1.8,-.8 -1.1,-1.6 .5,-2.3 1.7,-2 2.8,-2.4 3.6,-.3 2.4,1 1.7,2.5 -.1,2.6 -1.3,1.8 -2,.5 -2,-.8 -1.7,-2.3 .2,-2.7 2,-2.4 3.3,-1.5 3.7,.1 2.7,1.5 1.4,2.4 .1,2.5 -1.6,1.7 -2.2,-.2 -2.2,-1.8 -.8,-2.9 .9,-3 2.7,-1.4 2.9,-.8 3.8,.4 2.5,2 1,2.5 -1.1,2.6 -2.6,1.6 -2.8,-.3 -1.8,-1.5 -.7,-2.4 .8,-2.6 2.8,-2.8 4.3,-1 3.6,.8 2.4,2 1.1,3.3 -.7,2.6 -2.2,1.3 -2.5,0 -2.3,-1.6 -1.1,-2.3 .1,-3 2.2,-3.1 3.6,-2.1 4.3,.5 2.7,2.5 .9,3.4 -.8,3.6 -2.7,3" fill="none" stroke="#2cc2f2" stroke-width="1.15" stroke-linejoin="round"/>
<path d="M789,144.2 l 2.6,-2.4 3.6,-.1 3.7,1.9 2.1,3.2 .2,4 -2.2,3.2 -3.2,1.1 -3.3,-.8 -2.6,-1.9 -1.5,-3.5 .3,-3 3,-1.8 3.6,.3 3.5,2.2 2.7,4.3 .3,4.7 -2.3,4 -3.7,1.5 -4.1,-1.1 -2.7,-2.4 -1,-3.4 1.1,-3.2 2.5,-1.8 4,0 3.7,2.2 3.2,4.4 .8,4.3 -1.6,4 -2.6,1.5 -3.1,-.9 -2.6,-2.6 -1.8,-4.1 .5,-4.4 3.4,-1.8 3.5,.3 3.9,2.7 2.7,3.9 .4,3.3 -.8,2.8 -2.3,1.3 -2.2,-.6 -2.2,-1.8 -1.6,-2.6 .1,-2.3 1.6,-1.4 2.3,.2 3.1,2 2.3,2.7 1,3 -.6,2.9 -1.6,1.5 -2.8,-.3 -2.1,-1.4 -1.2,-2 -.1,-1.9 3.1,-2.5 4.1,-.8 3.9,1.6 2.7,4.3 .2,4.5 -2,4 -4.1,2 -4.1,-.4 -2.4,-2.8 -.6,-4 2.7,-4.2 3.1,-1.1 3.8,.6 3.8,2.8 2.2,3.2 .6,3.1 -1.2,2.9 -2.4,.9 -2.8,-.6 -2.2,-1.9 -.9,-2.6 .2,-1.6 2.7,-1.6 3.3,-.7 3.3,.9 2.2,2.1 1.1,3.3 -.6,3.6 -1.6,2 -2.3,.8 -2.3,-.8 -1.4,-1.9 0,-2.8 2.1,-2.5 3,-1.1 3.2,.6 3,2.5 1.6,2.9 -.2,3.6 -1.5,2.6 -2.8,1.5 -2.1,-.8 -1.3,-2.2 .3,-3.2 1.1,-2.6 2.6,-1.5 3.5,-.3 4.6,1.7 3.5,2.6 1.4,2.7 -.9,2.4 -3.2,.7 -3.6,-.9 -3,-2.1 -1.5,-3.1 1,-2.9 3.5,-2 4.6,.2 3.8,2.2 3.2,4.3 .1,4.1 -2,3.7 -3.5,1.3 -4.3,-.8 -2.4,-2.3 -.7,-3.8 2,-3.2 3.3,-1.6 3.9,.1 3.4,1.8 2.2,3.3 0,3.9 -1.6,2.7 -3.1,1.3 -3.2,-.7 -1.9,-2.5 .5,-3.2 1.5,-1.7 3.1,-.5 3.7,1.5 2.6,2.2 1.8,2.9 -.1,2 -1.5,1.4 -2.3,-.1 -2.8,-1.1 -1.9,-1.8 -.4,-2.1 1.4,-2.3 3.7,-1.5 4.1,.3 3.4,1.8 2.3,2.8 .6,3.8 -1.6,2.6 -3.2,1 -3.6,-1.1 -2.4,-2.8 -.1,-3.1 2.5,-3.5 4.1,-1.5 4.9,.8 4,3.5 1.3,4.4 -1,4.1 -3.3,2.9 -3.7,.6 -3.3,-1.7 -1.8,-3.5 .1,-4.1 2.6,-3.2 4.4,-1.6 5,1.4 3.7,3.1 2.2,4.4 -.8,4.8 -3.3,2.6 -4.4,.1 -4,-2.9 -1.8,-4.3 1.4,-4.9 4.9,-4.5 5.7,-1.5 5,1.5 3,3.9 .2,4.5 -1.8,2.6 -3.1,1.1 -3.1,-.7 -2.5,-2.6 -.5,-3.7 1.4,-4.8 4,-3 4.6,-.5 4.7,2.1 2.9,4.1 .2,5.5 -2.4,3.2 -3.8,1.6 -4.5,-1.5 -3,-3.8 -.4,-4.9 2.3,-4.9 4.7,-2.6 4.8,-.1 4.9,2.9 2.4,5.2 -.4,5.4 -3.1,3.8 -4,1.6 -4.1,-.8 -3,-3.7 .6,-4.9 1.9,-2.4 3.8,-1.3 4.3,.9 3.8,2.5 1.7,3 -.2,2.7 -1.7,1.6 -2.6,.4 -2.5,-.6 -1.8,-1.6 -1.3,-1.7 1,-3.6 3.3,-2.8 3.6,-.6 3.8,1.5 3,4 .9,4.4 -1.3,4.4 -3,3.4 -3.6,1 -3.7,-1.3 -1.9,-4.1 1,-4.7 3.4,-3 4.3,-.3 4.1,2.1 2.6,4.3 .1,4.5" fill="none" stroke="#2cc2f2" stroke-width="1.25" stroke-linejoin="round"/>
<path d="M790.3,147.4 l .4,-2.5 1.8,-1.9 2.7,-.4 2.8,1 2,2.1 .7,2.8 -.8,2.9 -2.1,1.6 -2.1,.2 -2,-1.4 -1,-2.8 1,-2 2.1,-1.6 2.8,-.6 3.3,.8 2.6,2.1 1.2,2 .2,2.1 -.9,1.2 -1.3,.2 -2,-.8 -1.1,-1.6 -.6,-1.8 1.3,-2.4 2.7,-1.2 3.6,.7 3.2,2 1.9,4 -.4,3.6 -2.1,2.8 -3.1,1.3 -2.9,-.4 -2.2,-2.1 -.1,-3.2 1.3,-2.7 2.9,-1 3.5,.9 2.7,2.3 1.8,3.5 .2,3.9 -1.5,2.7 -2.4,.9 -2.4,-.5 -1.9,-2.2 -.3,-2.4 1.1,-1.7 2.1,-.9 2.9,1.1 2.7,2.2 1.4,2.9 .5,3.3 -.9,2.7 -1.8,1.4 -2,-.4 -1.7,-2 -.6,-2.8 .5,-2.4 2.6,-1.8 3,-.2 3.3,1.1 3,2.6 1.4,3.1 -.3,2.6 -1.9,1.3 -2.6,-.4 -2.6,-2.2 -1,-2.5 .7,-1.8 2.2,-1.3 2.6,.6 2.8,1.8 2.1,2.7 .7,3 -.7,2.4 -1.6,1.4 -1.9,.3 -1.9,-1.1 -1.6,-1.2 .7,-2.1 2.1,-1.7 3,-.6 3.8,1.6 2.4,2.9 .9,3.6 -.8,3 -2.1,2.1 -2.7,.4 -2.5,-1.7 -.8,-4.2 1.4,-3.4 2.2,-2.2 3.4,-1 3.1,.5 2.6,2 .8,2.4 -.5,2.1 -1.4,1.2 -1.7,-.2 -1.6,-1.5 .1,-2.9 .7,-1.8 1.8,-.4 3.3,.5 3,1.4 2.3,1.8 .6,2.3 -.3,1.9 -2.2,1 -2.1,-.3 -2.2,-1.7 -.9,-1 1.1,-2.6 2.7,-1.8 3.1,-.5 3.5,1.4 2.5,2.6 .6,3.7 -1.1,3.1 -2.8,1.8 -2.7,.1 -1.8,-1.3 -.1,-2.7 1.4,-2.1 2.5,-.9 3.3,.4 2.8,1.8 2,2.4 .6,3.4 -1.3,2.6 -2.6,.9 -2.6,-.9 -1.8,-2.1 -.2,-1.9 1.7,-2.5 3.4,-1.2 3.3,.1 2.9,1.6 1.4,2 0,2.7 -1.2,2.2 -1.9,.7 -2,-.7 -.8,-2.5 -.3,-2 1.6,-2 3.3,-.5 3.5,.9 3.2,2.5 1.3,2.8 -.3,2.7 -2.1,1.5 -2.9,.1 -2.4,-1.6 -1.5,-1.6 1.3,-3.1 2.6,-2.4 3.9,-.6 3.5,1.7 2,2.7 .7,3.3 -.9,2.9 -2.5,2.2 -2.9,.2 -1.8,-1.2 -.7,-2.6 .6,-2.4 2.4,-1.9 3,-.4 3.5,1.1 2.5,2.4 1.5,3.5 -.2,3.5 -2.3,3 -2.6,1.1 -3.1,-.7 -2,-2.4 .1,-3.8 1.8,-2.1 2.9,-1.4 3.5,.1 3.5,1.2 2.3,1.8 1.1,2.4 -.7,1.7 -2.2,.5 -2.9,-.9 -2.1,-2 -.5,-2.1 1.4,-3.4 3.1,-2.4 3.4,-.1 3,1.5 2,2.2 1,2.8 -.6,2.5 -1.8,1.7 -2.9,-.3 -2.4,-2.5 -1,-2.4 .9,-2.3 2.7,-1.2 3,.4" fill="none" stroke="#2cc2f2" stroke-width="1.15" stroke-linejoin="round"/>
<path d="M786.1,216 l .1,-3.6 2.2,-2.7 3.9,-1.5 4.1,.5 2.6,1.6 1.1,3.2 -1.2,3.1 -2.7,2.3 -3.7,1.3 -3.7,-.9 -1.6,-2 .1,-2 2.3,-2 4.1,-1.4 5.3,.3 4,1.8 1.9,2.7 -.8,2.7 -3,2 -4.3,.5 -3.4,-1.1 -1.6,-2.3 .7,-3.3 2.5,-3.2 3.5,-1.4 4.5,.5 3,1.7 1.5,2.8 -.2,2.9 -1.7,2.2 -2.2,1.2 -3,-.6 -1.5,-1.7 -.3,-2.6 1.7,-2.2 2.7,-1.2 3.8,-.1 3.7,.7 2.1,2.1 .4,3.1 -1.4,2.6 -2.8,1.5 -3,-1 -1.7,-2 -.5,-2.8 1.5,-3.1 4,-2 4.8,0 3.3,1.7 2,2.1 -.3,2.8 -2.3,2.1 -3.4,.5 -3.9,-1.4 -2,-2.6 -.6,-3.8 1.9,-3.5 3.9,-2.6 5.3,-.7 4,1.4 2.5,2.6 -.4,3.7 -2.8,2.7 -4.1,1.1 -4,-.8 -2.8,-2.5 -.2,-4.6 2.5,-3.9 3.9,-2.5 4.9,-.7 4.4,2.2 2.4,3.9 -.4,4.3 -2.5,3 -4.1,1 -3.3,-1.4 -2.1,-2.9 .5,-3.1 2.3,-2.3 4.1,-1.5 3.9,.2 3.7,2 1.7,2.4 0,2.8 -1.6,2.4 -2.4,1.4 -2.5,.2 -2.1,-1 -.9,-2.3 .9,-3.6 3,-2.7 4.2,-.9 4.6,1.3 2.5,2.3 .2,3.5 -1.8,2.2 -3,.9 -3.7,-.6 -2.8,-2.7 -.6,-3.5 1.4,-4.5 2.9,-2.9 4.3,-.9 4.2,1.4 2.5,2.8 .3,3.6 -1.2,3 -3,1.4 -3,-1 -1.9,-2.5 -.5,-3.5 1.7,-2.9 2.8,-2.2 4,-1.2 3.5,.6 1.9,1.6 .1,2.6 -1.8,1.9 -2.7,.6 -2.6,-.8 -2.1,-2.1 -.9,-3.1 1.2,-2.7 3.1,-2.5 4.1,-1.5 3.8,0 3,1.7 .9,2.4 -1.5,2.6 -3.6,1.8 -3.9,.2 -2.8,-1.5 -.2,-3 2,-4.7 3.6,-2.8 3.7,-.8 2.9,.8 1.9,2.3 .7,2.9 -1.3,2.8 -2.2,1.9 -2.8,-.6 -1.9,-2.5 -.3,-3.5 1.4,-2.8 3.5,-1.5 3.3,-.4 3.1,1.3 2.2,2.7 .2,3.5 -1.8,2.9 -2.3,1.3 -2.6,-.4 -1.6,-1.7 -.4,-2.8 1.4,-3.3 2.9,-2 4.2,-.8 4.8,1.5 3.2,3.8 .3,4.1 -1.8,3.7 -3.6,2.3 -3.7,-.3 -2.9,-2 -.5,-3.7 2,-3.4 4.2,-2.4 4.6,0 3.2,1.7 2.4,2.9 .4,2.6 -1.3,2.4 -2.3,1.7 -2.5,-.1 -1.6,-1 -1.1,-2.4 .8,-2 3.2,-2 4.1,-.7 4.6,1.1 2.4,2.4 .1,2.9 -1.9,2.8 -3.4,1.2 -3.9,-.1 -2.8,-1.2 -1.6,-2.7" fill="none" stroke="#2cc2f2" stroke-width="1.25" stroke-linejoin="round"/>
<path d="M790.6,217.9 l -2.2,-1.7 -1,-2.9 .7,-2.7 2.5,-2.1 3.4,-.7 2.6,1 1.9,2.1 .3,2.6 -1.3,2.6 -2.4,1.2 -2.3,-.2 -1.3,-1.4 .6,-1.8 2.2,-1.7 3.4,-.9 3.4,.6 3,2.1 1.5,3.1 -.4,3.4 -2.2,2.7 -2.4,.4 -2.3,-.8 -1.1,-3.6 .4,-4 2,-3.2 4,-1.9 4.1,.8 2.8,2.3 1.5,3.4 -.5,3.3 -2.1,2.6 -2.9,.3 -2.4,-2.6 -1,-2.2 .8,-3.2 2.3,-2.3 4.1,-1.3 4.5,.6 3.1,2.3 1,3.2 -.9,2.6 -1.9,1.6 -3.1,.5 -2.3,-2.4 -.2,-2.1 1.3,-1.9 2.6,-1.9 2.6,-1.2 3,-.2 2.5,.3 .9,.8 -.3,1 -1.3,.5 -1.8,0 -2,.2 -1.4,-2.5 .4,-2.9 2.6,-2.5 3.4,-1 3.5,.5 2.6,1.9 1.3,2.7 -.1,3.2 -2.1,2.2 -2.4,.7 -2.3,-2.3 -.7,-1.8 .9,-1.8 2.3,-1.4 3.6,-1.1 2.9,.2 3,1.1 1,1.4 -.3,1.5 -1.6,1.3 -1.9,.2 -2.2,-.6 -1.4,-1.4 .3,-2.1 1.4,-2.1 2.8,-1.8 3.7,-.9 3.2,.3 2,1.1 .1,1.6 -1.3,1.4 -2.3,.7 -2.5,1.4 -2,-2.7 -.2,-3.3 1.4,-2.8 2.5,-1.9 3.1,-.8 3,.8 1.9,1.9 .7,2.3 -.5,2.5 -1.3,1.4 -2.3,.2 -2.3,-2.2 -.6,-2 1.1,-2.2 2,-1.6 3,-1 2.9,.2 1.9,1 .7,1.1 -.6,.7 -1.5,.4 -1.7,.7 -1.3,-1.7 -.5,-2.3 .9,-2.6 2.3,-2.1 3.1,-.9 3.3,.8 2.4,2.5 .7,2.9 -.7,2.4 -1.6,1 -1.8,-.3 -1.6,-2.5 -.2,-2.2 1,-1.8 2.1,-1.9 2.6,-.8 2.4,.1 1.9,1.1 1,1.6 -.3,1.7 -1.3,1.3 -1.6,.5 -1.2,.5 -1,-1.6 .8,-2.6 2.5,-1.9 3.8,-.8 3.8,1 2.6,2.8 .5,3.7 -.9,2.7 -2.3,1.9 -3,.4 -2.1,-1.8 -.2,-2.5 1.2,-2.4 3,-2.1 3.9,-.5 3.1,.9 2.2,2.3 .3,3.2 -1.2,2.6 -2.2,2" fill="none" stroke="#2cc2f2" stroke-width="1.15" stroke-linejoin="round"/>
<path d="M836.4,225.7 l -.2,-4.2 1.6,-3.1 3.2,-1.6 3.4,.7 3.3,2.8 1.4,3.6 -.7,4 -2.5,3.1 -2.8,.7 -3.2,-1.5 -1.8,-3 -.4,-3.3 1.6,-2.4 3.2,-.9 3.3,1.2 3,3 1.7,3.6 .3,3.5 -1.3,2.7 -2.7,1.3 -2.9,-.6 -2.5,-2.5 -2.7,-2.5 1.7,-3.9 3.4,-2.1 4.9,-.2 4.4,2.7 2.4,4.7 0,4.7 -2.5,3.8 -4.1,2.2 -4.2,-.7 -2.4,-2.6 .9,-4.9 2.1,-3.8 3.4,-2.4 4.4,-.1 3.6,1.6 3,4 .2,4.5 -1.8,3.7 -2.8,1.5 -2.6,-.2 -2.8,-1.8 -.7,-3.3 .9,-2.7 2.4,-1.9 2.8,.1 2.6,1.5 2,3.7 .5,3.3 -1.3,3.5 -2.3,1.7 -2.4,.3 -1.9,-1.7 -1.7,-2.6 1,-2.7 2.6,-1.6 3.6,-.2 3.2,2.2 1.3,3.9 .2,3.2 -1.7,3.2 -3.3,2 -3.4,0 -2.6,-2.3 -1.6,-2.4 2,-2.9 3,-1.4 4.2,.3 3.1,2.7 1.1,4.8 -1.4,4 -2.9,2.5 -3.9,1.2 -3.4,-1.4 -1.8,-2.9 .6,-3.2 2.4,-2.6 3.1,-.5 4.2,1.4 3,4.3 .6,4.5 -1.6,3.8 -3.4,2.5 -4.4,.3 -3.6,-2.3 -1.4,-3.7 1.7,-3.5 2.8,-2 3.8,0 3.1,3.1 .8,4.7 -1.7,4.5 -4.7,3.6 -5,.6 -4.6,-1.9 -2.8,-3.8 -.2,-4.3 2.3,-3.2 3.5,-1 4.1,1.5 1.9,3.1 .2,3.9 -1.6,3.8 -3.2,2.7 -4.1,1 -4.8,-1.3 -3.1,-3.3 -.6,-4 1.4,-3.7 3.1,-1.6 3.4,.5 3,3 .8,3.8 -1.4,5 -3.4,3.3 -3.6,1.1 -4,-1.1 -2.1,-3.2 0,-3.7 1.9,-2.4 3.6,-1.2 4,1 3.3,3 1.4,4.3 -.9,4.1 -2.8,3 -3.3,.7 -2.8,-1.3 -.9,-1.7 .4,-2.7 1.9,-2.3 2.8,-1.4 3.1,.6 2.7,2.9 .9,4 -1.2,4.7 -3.6,3.6 -4,1.2 -3.9,-1.5 -2.4,-3.2 -.1,-4.4 1.9,-3.7 3.1,-1.3 4.5,.8 3.3,3.8 .7,4.3 -1.1,4.5 -3.6,4.2 -3.6,1.5 -4.4,-1.1 -2.7,-2.8 -.7,-3.5 1.2,-4.3 3.3,-2.3 4.8,-.2 3.8,2.5 2.2,4.1 -.3,6 -2.7,4.3 -3.9,2.5 -5.1,.2 -4.1,-2.8 -1.9,-4.5 2.1,-3.8 2.8,-2.9 3.7,-.6 3,1.9 1.5,3.9 -.2,4 -1.7,3.8 -2.9,2.6 -3.3,.4 -2.3,-2 -.8,-3.1 -.8,-3.3 2.3,-2.2 3.6,-.5 3.8,2.1 2,4 -.2,4.1 -2.4,4.2 -4.1,2.3 -3.9,0 -3.4,-1.9 -1.8,-3.3 2.6,-3.1 1.8,-3.3 2.3,-1.2 2.7,1.3 1.6,3.4 .3,4.9 -1.7,4.8 -2.7,2.8 -3.2,.4 -2.6,-1.4 -1.8,-3.4 -.9,-4.2 3.2,-2.7 3.2,-.4 3,1.5 1.6,2.7 .7,3.9 -1,3 -2.2,2 -2.9,.6 -2.6,-.7 -1.8,-2.1 0,-2.5 1.8,-2.4 2.7,-1.8 3.2,.5 2.6,2.4 1.3,4.1 -1.2,4.3 -3.3,2.7 -3.2,.3 -2.9,-1.9" fill="none" stroke="#2cc2f2" stroke-width="1.25" stroke-linejoin="round"/>
<path d="M845.8,227.4 l -2.3,1.9 -2.7,0 -2.3,-2 -.9,-2.7 .5,-3.1 2,-2.1 3,-.5 2.8,1.3 2,2.8 1,3.4 -.6,3.6 -1.5,2 -2.4,.5 -2.2,-1.2 -1.5,-2.6 -.1,-2.6 1.1,-1.8 2.4,-1.1 3.1,1.1 2.2,2.5 1.4,3.7 -.2,3.5 -1,2.9 -3,1.4 -3.2,-.2 -2,-1.8 -.8,-2.6 .9,-3.2 2.4,-1.5 3,.1 3.6,2 1.8,3.3 .3,4.7 -2.1,4.2 -2.8,1.8 -2.8,-.7 -2.1,-2 -.6,-2.8 1.3,-2.8 2.6,-1.3 3.8,.2 3.4,2.8 1.8,3.4 -.1,3.3 -1.2,2.8 -2.8,1.7 -2.7,-.1 -2,-1.8 -.3,-2.8 1.8,-2.6 2.7,-1.5 3.8,.3 3.1,1.9 2,2.9 .6,3.7 -1.2,3.1 -3.1,2 -2.9,.1 -1.7,-1.2 -.6,-2.2 .9,-2 1.9,-1 3.1,.4 2.7,1.8 1.6,2.2 .3,3.4 -.9,2.4 -2.5,1.9 -2.1,.6 -1.2,-1.1 -.3,-1.5 1,-1.7 1.9,-.3 1.5,.6 1.3,2.5 .1,2.8 -1,2.9 -2.4,2.5 -2.5,1.1 -3.2,-1.3 -1.7,-2.1 0,-2.6 2,-2.2 2.9,-.2 3.2,1.2 1.9,3.4 .1,4 -1.9,4 -3.3,2.3 -3.4,-.2 -3.1,-2.2 -1.3,-2.7 .5,-2.5 1.6,-1.4 1.8,.4 1.9,1.8 .5,2.2 -.7,2.7 -2.1,2.6 -3.3,1.1 -2.9,.1 -2,-1.2 -.7,-2.1 .9,-2 2,-.9 2.7,.5 2.2,2 1.5,2.7 .2,4.2 -1.1,2.9 -2.2,1.9 -1.9,-.1 -1,-1.3 .1,-1.6 .5,-2 1.2,-1.1 1.4,.1 1.2,1.1 .8,2.7 -.1,2.9 -1.6,2.6 -2.4,1.9 -2.9,.6 -2.4,-1.5 -1.3,-2.1 .7,-3 2.3,-1.7 2.2,0 2.6,2.1 1.3,3.9 -.5,4.7 -2,3.2 -3.1,1.5 -3.4,-.7 -2.2,-2 -.8,-2.7 1.1,-2.2 1.9,-.5 1.9,.6 2.1,2 .8,2.9 -.6,2.8 -2.1,2.4 -2.7,1.4 -3,-.1 -2,-1.8 -.5,-2.2 1.3,-2.6 2.8,-1.3 4,.3 3.4,2.5 2.1,3.5 .1,4.3 -2,3.5 -2.7,.8 -2.6,-.7 -1.1,-1.7 .1,-2.1 1.2,-1.8 2.3,-1 2.1,.2 2.2,1.7 1.3,2.6 -.5,3.4 -2,3 -2.5,1.4 -2.8,-.4 -2.9,-1.2 -1.3,-2 .1,-2.2 1.1,-1.6 2.1,-.7 2.1,.7" fill="none" stroke="#2cc2f2" stroke-width="1.15" stroke-linejoin="round"/>
<path d="M806.8,255.1 l -3.9,-.2 -3.4,-1.9 -2,-3.1 -.1,-3.8 2.5,-2.9 4.1,-.9 4.5,1.3 3.3,2.8 1.1,3.1 -.6,3.1 -3.1,2.4 -3.9,-.2 -3.2,-2.9 -1.3,-4.2 1.2,-4.3 3.2,-3 5.2,-1.1 4.5,1.5 3.6,3.7 1.4,4.5 -1.5,4.3 -3.2,.9 -3.2,-.6 -3.1,-2.1 -1.6,-3 .6,-2.2 2.1,-1.5 3.3,0 3.5,1.2 2.7,1.7 1.5,2.4 .1,2.3 -1.6,1.7 -2.8,1.7 -2.8,-.6 -1.9,-2.1 -.4,-3.2 1.6,-2.4 3.3,-1 3.5,.8 3.2,2.5 1.9,4 -.1,4 -1.9,3 -3.8,1.5 -3.6,-.6 -2.2,-2.5 -.4,-3.1 2.2,-3 3.6,-1.4 3.6,.3 3.6,2.4 1.5,3.6 -.4,3.2 -2,2.3 -3,1 -2.8,-.4 -1.8,-1.6 -.5,-3 1.7,-2.7 3.4,-1.1 3.9,.5 3.9,2.4 2.3,4.1 -.1,3.6 -1.9,3.2 -3.7,.6 -3.5,-.6 -2.2,-1.6 -.7,-2.4 1.1,-2 2.5,-.9 4.2,0 3.8,1.6 3.1,2.7 1.2,3.2 -.9,2.6 -2.7,2 -3.1,.1 -3.6,-2.1 -1.5,-3.1 .7,-3.3 2.9,-2.3 4.6,-1.1 5.3,1 3.8,2.7 1.5,3.5 -1.1,3.6 -3.7,1.1 -3.9,-.1 -3,-1.4 -1.8,-2.4 .4,-2.6 2.6,-1.4 4.2,.1 3.9,1.6 3.2,2.5 1.5,3.3 -.8,2.2 -3.5,3.5 -3.3,-.1 -2.7,-2.3 -.8,-4.1 1.5,-3.6 3,-2.9 3.3,-.8 3.5,.9 3,3.2 .3,4 -1.4,3.7 -2.1,2.5 -4.3,.4 -3.1,-1.9 -1.2,-3.3 .9,-4.4 3.1,-3.3 4.4,-1.3 5.3,1 4,3.1 1.8,5.2 -1.6,4.4 -3.7,.7 -4.4,-1.3 -3.1,-2.9 -.7,-3.7 1.5,-2.6 3.8,-1.6 4.1,.6 3.9,2.6 2.4,3.4 .4,3.5 -1.5,1.9 -3.4,.8 -3.6,-1.6 -1.7,-3 .1,-3.1 2.1,-2 3,-.4 3.3,1.5 2.8,3.7 1,3.8 -.9,3.7 -2.5,2.2 -3.6,.8 -3.2,-1.3 -1.8,-2.3 -.1,-2.8 2.2,-3.1 3.7,-.8 3.3,.8 3,2.8 1.3,3.7 -1,3.6 -2.4,2.4 -2.3,.2 -3.1,-1.9 -1.5,-2.7 .3,-3.1 1.7,-1.6 3.1,-.2 3.1,1.9 2.4,3.7 .4,3.4 -.2,3 -1.7,1.2 -3.8,.9 -3.1,-1.8 -1.5,-3.3 .8,-4 3.6,-3.6 4.8,-.9 5.2,2.4 2.7,4.5 0,5.6 -2.8,5 -3.5,2.6 -2.9,-1.7 -2.7,-3.4 -.7,-4 1.1,-3.1 2.6,-2 3.6,.2 3.9,2.4 2.6,3.4 1.2,3.4 -.2,2.4 -1.8,1.3 -2.4,-.5 -1.2,-2.5 .1,-3.3 1.5,-2.6 3.4,-1.6 3.6,.5 3.2,2.6 1.6,4.1 0,3.7 -1.5,2.7 -2.8,1.1 -1.7,-.9 -1.8,-2.9 -.5,-3.1 1.1,-2.3 1.8,-1.4 2.9,.8 2.2,2.6 1.2,4.3 -.1,3.7 -1.5,3.3 -2.2,1.2 -4,-.2 -3.3,-2.3 -1.1,-4.4 1.6,-3.8 2.9,-2.4 4.8,-.8 4.3,2.5 1.9,4 -.3,5 -3.3,4.2 -5,1.8" fill="none" stroke="#2cc2f2" stroke-width="1.25" stroke-linejoin="round"/>
<path d="M799.7,245.6 l 1.8,-1.1 2.9,0 2.5,1.5 1.5,2.4 .2,3.1 -1.4,2.7 -1.9,1.5 -2.4,.1 -2.5,-1.3 -.8,-2.2 .8,-2.3 1.7,-1 3.2,.7 2.6,1.7 2.3,3 1.2,3.5 -1.1,2.4 -2.2,1.3 -2.3,-.1 -2.1,-1.4 -.9,-2.1 .6,-2.2 2.3,-1.6 3.2,-.9 3.8,.5 3,1.7 1.6,2 .1,2.2 -1.5,1.6 -2,0 -2.2,-1.5 -1.4,-2.5 .4,-2.8 2.5,-2.2 3,-1.1 3.2,.3 3.2,2.3 1.6,3.5 -.4,3.3 -1.7,2.6 -2.6,.6 -1.7,-1 -.7,-2.1 .5,-2.5 2.3,-2.1 2.9,-.6 3.4,.9 2.3,1.8 .9,2.4 0,2.5 -1.3,1.7 -2.1,.7 -2,-.6 -.7,-1.7 .2,-2.4 1.2,-1.7 2.6,-.8 2.7,0 2.6,1.1 2,2.2 .6,2.4 -1.1,2.4 -1.6,1.3 -2.3,-.4 -1.4,-1.4 -.5,-2.3 .8,-2.8 2.7,-2.1 3.8,-.1 3.1,1.7 1.9,3.2 .4,3.9 -1,3.8 -2.4,2.5 -2.9,1 -3.2,-1.5 -1,-3.6 1.3,-2.7 2.7,-1.1 3.6,.3 3.4,1.2 2.4,2 1.2,1.8 -.7,1.6 -1.8,1 -2,.2 -1.8,-.5 -.9,-1.3 .2,-1.1 1.4,-1.2 2.1,-.5 3,.7 2.6,1.8 1.5,2.5 -.3,2.4 -1.2,1.8 -2.3,.4 -1.9,-.7 -1.5,-2.2 .2,-2 2.2,-2.7 3.4,-1.6 3.8,.5 2.5,2.2 1.5,4 -1,3.6 -2.5,2.8 -3,.9 -3.5,-1.6 -1.2,-3 1,-4.4 3.4,-2.8 4.1,-.5 3.8,1.7 2.2,2.5 .9,3.3 -.8,3.1 -1.9,1.6 -2.7,.5 -2.5,-1.4 -.6,-2.5 1,-2.7 2.4,-2 3.7,-.4 3.6,1.3 2.7,3.4 .4,3.5 -1.4,3.9 -2.6,1.9 -2.6,.3 -2.2,-1.2 -1.1,-2.7 .7,-2.6 2.4,-1.8 2.8,-.2 3.3,1.3 2.7,2.6 1.3,3 -.3,3.7 -1.9,1.8 -2.2,.4 -2.5,-1.4 -1.3,-2.6 .4,-2.7 2.1,-2 2.8,-.1 3.4,1.7 2.5,2.7 1,3.5 -.3,2.8 -1.9,1.1 -1.4,-.7 -1.1,-1.8 -.2,-3 1.1,-2.3 2.5,-1.6 3.4,.6 2.7,1.7 1.5,3.2 .2,3.9 -1,3.1 -1.9,1.2 -1.5,.1 -1.1,-1.7 0,-1.9 .9,-1.8 .8,-.8 2,.2 2.6,1.9 1.5,2.8 .2,3.3 -1.4,3.4 -2.1,1.8 -3.1,0 -2.5,-1.4 -1.2,-2.1 0,-2.5 1.8,-2.1 2.3,-.9 2.7,1.2 1.7,2.5 .4,3.7" fill="none" stroke="#2cc2f2" stroke-width="1.15" stroke-linejoin="round"/>
<path d="M818.4,288 l -3.4,-.3 -2.4,-2.2 -1.2,-4.1 .8,-3.8 2.1,-2.8 3.5,-.9 3.6,2.3 2.1,3.8 .3,4.6 -1.8,4.2 -2.8,2.6 -3.1,-.4 -2.5,-2.6 -.3,-3.9 1.7,-3.9 4.1,-2.8 4.4,0 3.8,2.6 2.2,5.2 -.1,5.3 -2.8,5 -3.8,1.6 -3.6,-1.1 -2.1,-3.3 -.8,-4.1 1.2,-3.4 2.5,-2 3.3,.5 2.5,2.1 1.6,4.1 -.4,4.9 -2,3.6 -3.5,2.5 -2.4,-.3 -1.7,-2.2 -.6,-4.3 1,-3.8 2.2,-2.7 3.7,0 2.6,2.9 1.6,5.1 -.2,5.2 -1.6,4.2 -3.2,1.1 -4.2,-1.4 -2.2,-2.8 -.3,-3.1 1.3,-2.6 2.4,-1.4 2.7,0 2.9,1.7 1.3,2.7 0,3.3 -1.7,3.4 -2.4,2.6 -3.9,1.1 -3.7,-1.5 -1.7,-2.6 .3,-3.5 2.3,-2.7 3.6,-.9 4,1.7 2,3.2 .2,4.6 -1.8,4.7 -4,3.2 -4.7,1 -3.8,-.8 -2.7,-2.6 -.4,-3.7 2,-3 3.7,-1.1 4.3,1.3 3.3,3.8 1.1,4.8 -1.2,4.2 -3.2,2.5 -2.5,-.2 -2.2,-2.1 -1.2,-3.1 .2,-2.7 1.7,-1.9 2.6,.4 2.2,1.9 1.5,3.6 0,3.2 -1,2.6 -2.3,1.4 -2.1,-.5 -2.2,-2.5 -1.1,-3.4" fill="none" stroke="#2cc2f2" stroke-width="1.25" stroke-linejoin="round"/>
<path d="M814.4,285.3 l -1.5,-2.8 0,-3.3 1.4,-2.6 2.1,-1.1 1.9,.5 1.5,2.1 .6,2.9 -.9,3.9 -1.8,2.3 -2.7,1.2 -2,-.4 -1.3,-1.8 0,-2.5 1.7,-2.1 2.5,-1 2.8,.4 2.2,2 .8,3.5 -.8,3.3 -2.2,3 -2.6,1.5 -2.8,-.6 -2.5,-2.1 -.1,-2.9 1.8,-2 3,-.8 3.3,.8 2.8,2.1 1.1,2.7 -.4,3.1 -1.8,2.7 -2.4,1.1 -2.6,-.1 -.4,-1.4 -.4,-2.5 .7,-1.8 2,-.8 2.3,.5 1.7,2 1.3,2.6 .3,3.1 -1,2.9 -1.5,1.6 -2,-.2 -1.7,-1.8 -.5,-2.3 .8,-2.1 2,-.6 2.1,.5 2.3,2.2 1.2,2.7 0,2.8 -1.1,2.3 -2.2,1.2 -1,-.1 -1,-1.1 -.7,-2.2 0,-1.9 1.2,-1 1.6,.7 1.5,1.9 1.1,3.4 .1,3.1 -.8,2.4 -1.6,1.5 -3.7,.3 -2.5,-1.2 -1.3,-2.3 .9,-2.8 2.6,-1.2 3.4,.7 2.9,2.7 1.1,3.6 -1,4.5 -3.1,3.3 -4.1,1.1 -2.2,-1.9 -1.8,-2.7 -.4,-3 .7,-2.1 1.8,-.6 3,.8 1.6,2.3" fill="none" stroke="#2cc2f2" stroke-width="1.15" stroke-linejoin="round"/>
<path d="M818.7,230.9 l .9,-3.4 2.6,-2 3.1,-.1 3.2,1.6 2.7,3.4 .5,4 -1.1,2.8 -2.5,1.4 -2.8,-.3 -2.7,-1.9 -1.8,-3 -.1,-3.6 2.5,-2.6 4.4,-.9 4.7,1.8 3.4,3.8 1.4,4.4 -.8,3.4 -2.7,2.3 -3.7,0 -3.7,-2.4 -1.7,-4.4 1.9,-3.9 1.8,-1.3 3,.3 3.2,1.8 3.1,3.1 1.7,2.8 .4,2.6 -.9,.9 -1.8,-.1 -1.7,-1.6 -1.9,-2.1 -1.9,-1.3 1.5,-2.5 3.6,-1.3 3.5,.3 3.1,1.8 1.7,3.7 -.4,3.6 -2.5,2.9 -3.4,1.4 -3.1,-.6 -2.1,-2.6 .4,-3.5 1.2,-2.4 2.6,-1.1 3.5,.5 3.6,2.7 2.2,4.3 0,4.8 -2.5,3.4 -3.8,1.1 -4,-1.2 -2.8,-2.7 .4,-3.9 1.3,-1.4 1.9,.5 2.5,2.4 1.8,3.3 .8,3.4 -.4,2.9 -1.5,2.3 -2.8,.5 -2.7,-1.2 -1.8,-1.8 -.7,-1.8 .8,-2 2.3,-.6 3.1,1.5 2.7,2.7 1.4,2.6 -.1,3.3 -.9,1.8 -2.4,.1 -2,-1.3 -1.8,-2.8 -1.8,-1.7 2.6,-3.2 3.8,-1.1 3.8,1 3.2,3.6 .8,4.2 -1.9,4.3 -4.4,2.5 -3.6,0 -2.9,-1.9 -1.1,-3.2 1.9,-3.9 3.4,-2.9 4.8,.2 3.4,2.2 1.8,4.3 -.8,4.2 -2.1,2.8 -3.3,1.2 -2.8,-.5 -2.2,-1.9 -.8,-2.9 3,-4.3 1.6,-1.2 2.7,.4 2.2,1.8 1.9,3.5 .1,3.5 -.9,2.5 -2.4,.4 -1.8,-1.3 -.8,-2.4 .5,-2.4 1.2,-3.2 2.9,-.8 3,.9 2.4,3.4 .7,5.1 -1.8,4.5 -3,3 -5.2,.1 -2.5,-2.3 -.9,-3.9 2,-5 4.3,-2.5 3.2,-.5 2.8,2.2 .9,3.8 -1.2,4.4 -3,4.2 -4.2,2.7 -4.2,0 -2.2,-2 -.6,-4.1 1.7,-4.1 3.4,-3.1 4,-.6 2.4,2.2 .1,4.1 -2.1,4.1 -3.5,3.5 -3.9,1.5 -4,-.6 -1.9,-2.5 .7,-3.7 2.4,-3 3.4,-1.7 2.8,-.1 2.4,2.8 .4,4.2 -1.6,4 -2.8,2.7 -3.5,1 -4,-.9 -2.4,-2.7 -.5,-3 1.1,-2.7 2.5,-1.8 2.6,-.2 2.7,1.4 1.3,3.6 -.6,4.4 -2.6,3.7 -4,2.3 -3.8,.2 -2.7,-2.1 -.9,-3.6 1.4,-3 3.1,-2.3 3.5,-.3 3.6,2.4 1.4,3.7 -.5,4.2 -3,3.7 -4.4,1.8 -4.9,.3 -4,-2 -2.1,-3.9 .8,-4.3 2.3,-2.3 4.7,.1 2.3,1.2 .5,2.8 .2,3.8 -1.3,4.9 -1.9,4.2 -2.8,2.2 -2.7,-.5 -1.8,-2.8 0,-2 1.1,-4 1.4,-1.5 4,-.2 3.6,2.1 2.4,4.5 .9,4.1 -1,4.1 -2.9,2.7 -3.3,.5 -2.8,-1.6 -1.7,-3.6 .1,-3.7 2.2,-2.3 2.6,-.9 2.7,1.2 2.6,2.6 1.6,3.1 .4,3.7 -1.3,3 -1.7,.9 -2.1,-.5 -1.5,-2.1 -.2,-2.4 -.2,-2.6 3.1,-2.3 3.9,-.6 3.8,1.3 3,2.9 1.4,3.7 -.4,2.9 -1.6,1.8 -2.8,.3 -2.4,-1.8 -1,-2.6 1,-3.5 1.1,-1.8 2.7,-.4 2.6,1.5 2,2.9 .9,3.8 -.7,3.4 -1.8,2.5 -2.5,.8 -2.6,-1.1 -1.7,-2.2 -1.3,-2.3 2.6,-2.5 3.6,-.9 4,.9 2.7,2.3 1.1,3.8 -.3,3.1 -2,2.1 -2.8,.7 -2.8,-1.5 -1.1,-2.7 .6,-3.2 3,-2.4 3.7,-.5 3.7,1.6 2.4,3.8 0,3.9 -2.1,3.8 -3.3,1.9 -3.5,-.6 -1.9,-2.6 .9,-3.9 .4,-3.1 2.5,-1.3 2.6,.9 2.7,2.5 1.7,3.6" fill="none" stroke="#2cc2f2" stroke-width="1.25" stroke-linejoin="round"/>
<path d="M820.2,231 l .7,-2.5 2,-1.5 2.6,.1 2.5,1.7 1.5,2.4 .8,3.2 -.7,2.5 -1.9,1.5 -2.1,-.2 -1.9,-1.9 -.9,-2.7 .8,-2.3 2.6,-2.1 4,-.1 3.5,1.5 2.8,2.6 .8,3.9 -.8,2.8 -2.4,1.5 -2.5,-.5 -1.9,-2.4 1,-4 1.1,-2.4 2,-.2 2.9,.9 2.5,2.2 2.2,3 .8,2.4 -.4,2 -1.3,.8 -2.2,-.7 -1.8,-1.4 -1.9,-.8 1.2,-2.1 2.3,-1.6 3.7,-.3 3.1,1.4 2.1,2.8 .2,3.7 -1,2.8 -2.5,2 -2.6,-.1 -2.7,-1.6 -.9,-2.4 2,-2.6 1.7,-.4 2,.5 2.2,1.9 2,2.8 .6,3 -.7,2 -1.5,1 -2,.1 -2,-1 -.9,-1.5 -.2,-.9 1.1,-.6 1.5,.4 2.4,1.6 1.1,2.1 .7,2.7 -.4,2.1 -1.1,1.9 -1.9,.9 -1.8,-.9 -1.1,-1.8 .1,-1.9 2.1,-1.5 2.7,-.5 3.3,1 2.2,2.2 .7,3.2 -.8,2.8 -1.8,1.7 -2.4,-.1 -1.5,-1.3 -.3,-2.3 1.9,-2.3 1.6,-.6 3,1.1 2.3,2.2 1.3,3.1 0,3.2 -1.6,2.4 -1.9,.5 -1.8,-.9 -.3,-1.9 .6,-1.6 1.3,-1.3 2.8,.8 1.6,1.7 .9,2.7 -.9,4 -1.8,2.5 -2.8,1.3 -1.7,-.8 -.8,-1.3 .2,-1.9 1.2,-1.1 1.5,-.7 1.8,1 1.3,3 -.4,3.3 -2,3 -4,1.6 -3.3,-.6 -2.9,-2 -1.6,-2.6 .2,-3.4 1.3,-1.7 3.3,.3 1.8,.9 .5,2.3 -1.1,3.3 -2.9,3.3 -3.4,2 -3.2,0 -2.2,-1.5 -.3,-2.9 1.5,-2.9 2.5,-1.8 1.8,-.7 2.3,2.1 .5,3 -1,3.3 -2.8,2.8 -3.2,1.2 -3.4,-.3 -1.7,-1.4 -.2,-2.3 1.4,-1.7 2.7,-.8 2.6,.3 2.6,2.4 1,3.5 -.5,3.7 -1.6,3.1 -3,1.8 -2.7,.1 -2.8,-1.7 -.8,-2.5 .9,-2.5 1.8,-1.8 3.7,0 1.7,0 1.7,1.8 .2,3.8 -1.3,4 -2,2.9 -2.8,1.9 -2.6,-.2 -1.7,-2.3 .4,-3 1.4,-3.1 1.9,-2.1 2.7,-.3 2.7,2.4 .9,2.3 .6,3.5 -.9,3.3 -1.3,2.1 -2.4,1.2 -2.1,-.5 -1.6,-1.6 -.5,-2.7 .8,-2 1.7,-1.3 2.9,.3 2.4,1.9 1.9,3.1 .6,3.3 -.6,2.5 -1.5,1.5 -1.4,-.1 -1.5,-1.9 -.6,-2.5 -.2,-2.2 1.5,-1.5 2.7,-.4 2.5,1.7 2,2.8 1,3.5 -.4,3.3 -1.9,2.6 -2.6,.2 -2.2,-1.1 -1.6,-2.6 .2,-2.4 2,-2 2.8,-1 3.6,.3 2.5,1.9 1,2.9 -.3,3.5 -1.7,2.9 -2.2,1.1 -2.7,.2 -1.5,-.9 -.4,-2 1.3,-2 1.2,-.7 2,.5 2.6,2.6 1.7,3.9 .1,3.3 -.9,2.5 -2.4,1.1 -2.3,-.5 -2.1,-2 -.9,-2.6 .1,-2.2 2,-1.3 2.2,.6 2.3,2.2 1.5,3.3" fill="none" stroke="#2cc2f2" stroke-width="1.15" stroke-linejoin="round"/>
<path d="M860.1,229.1 l 3.4,.8 2.8,3 1,3.4 -.5,3.6 -2.4,2.8 -3.8,.5 -3.6,-2.1 -1.7,-3 0,-3 1.4,-2.6 2.2,-.8 3.3,1.4 2.7,3.4 1.6,5.4 -.7,4.9 -2.8,3.1 -3.2,.1 -3.5,-2.5 -2.2,-3.5 -.8,-4 1.6,-3.3 4,-.4 4.4,2.1 3.5,4.6 1,4.7 -1.3,4.1 -2.6,1.6 -2.6,-.4 -2.8,-2.3 -.7,-3.8 1.3,-3.7 3.2,-1.7 3.5,.2 3.3,1.8 2.3,3.6 .3,3.6 -1.3,3.1 -2.2,1.3 -2.8,-.5 -2.2,-1.7 -1,-2.4 .7,-2.4 2.7,-1.6 2.9,-.1 3.1,2 1.9,3.4 .5,4.2 -1.4,3.5 -2.7,1.8 -3.3,-.4 -2.6,-1.9 -1,-3.3 1.6,-4 3.4,-1.9 5,-.2 4.5,2.2 2.6,3.9 .2,5.9 -1.9,3.6 -4.3,2.2 -3.9,-1.3 -2,-3.3 .4,-4.6 3.4,-3.8 4.2,-1.9 3.7,.9 2.3,3.6 .9,5.3 -1.1,5.4 -3.1,3.8 -3.3,.9 -3.8,-1.7 -1.5,-3.6 .5,-4.7 2.9,-2.9 3.1,-.7 3.4,2.7 1.9,5.2 -.5,5.5 -3,5 -2.6,1.3 -3,-.7 -1.1,-2.8 -.2,-3.6 2,-2.7 3.1,-1.3 2.4,1 1.8,2.8 -.6,5.2 -2,3.4 -3.7,2.9 -4.1,.3 -2.6,-1.6 -1.1,-3.6 1.1,-3.7 2.9,-2.4 2.8,-.1 2.8,1.8 1.8,3.8 -.7,5.3 -2.6,3.7 -4.1,2.1 -4.9,-.4 -4.2,-3 -1.6,-4.3 1.5,-4.8 3.6,-2.6 4.6,-.1 4.3,2.8 .6,3.7 -1.7,5 -3,3.7 -4.3,2.4 -3.4,.3 -2.4,-2 -.4,-4 1.6,-3.4 2.9,-2.5 3.8,-1.1 3.1,1.3 2.6,3.9 .2,5.7 -2.3,4.7 -4.4,3.1 -5.1,-.4 -3.3,-2.4 -1.6,-4.3 .9,-4.5 2.8,-3.5 3.9,-1 3.6,1.3 2.5,3.4 .8,5.3 -1.5,4.4 -3.7,3.1 -5.1,1.1 -3.5,-1.2 -3.5,-3.2 -.9,-3.8 .9,-3.7 2.5,-2.5 4.2,-.8 3.5,2.1 1.8,3.6 -.4,4.4 -2.5,4.6 -3.9,2.5 -4,.1 -2.9,-1.6 -2,-3.3 .2,-3.1 1.7,-3.2 3.1,-2 3.6,.4 1.5,1.3 1.9,3.5 .5,4.4 -1.2,4.3 -1.9,3.1 -3.7,.8 -3,-1.9 -1.8,-3.7 -.2,-3.6 1.4,-3.4 2.7,-1.6 3.7,.2 4.3,2.2 2.7,4.9 -.4,5.3 -2.4,4 -4.6,2.6 -4.5,-.1 -4,-3.1 -1,-4.1 1.1,-3.7 3.9,-2.9 3.1,.6 3,3.4 1.3,4.4 -.2,4.8 -1.3,3 -2.6,1.6 -2.8,-.3 -2.5,-1.4 -1.9,-2.6 -.5,-2.4 .9,-2.1 2.1,-.1 3.1,1 3,2.3 1.8,4.1 -.6,4.1 -2.6,2.9 -3.1,.8 -2.7,-1.1 -1.7,-2.3 .3,-3.1 1.8,-2.6 3.2,-.9 2.6,1.3 2.8,2.6 1.5,3.5 0,4.1 -1.5,2.3 -2.3,.5 -2.5,-1.3 -1.3,-2.3 -.3,-2.9 1,-2.3 2.4,-1.1 2.8,1 2.6,2.4 2,3.8 .7,3.6 -.8,2.5 -2.3,1.2 -2.8,-.9 -2.4,-2.3 -1.3,-3.4 .1,-3.5 1.8,-2.2 3.4,-.3 3.1,1.6" fill="none" stroke="#2cc2f2" stroke-width="1.25" stroke-linejoin="round"/>
<path d="M859.5,231.1 l 2.3,-.4 2.2,1.1 1.4,2.2 .5,3.4 -1.2,2.8 -2.6,1.6 -2.9,0 -2.5,-1.7 -.8,-1.9 .5,-2.5 2.1,-1.9 2.9,.1 2.5,1.6 1.7,2.2 1,2.9 0,2.7 -1.2,1.4 -1.6,-.1 -1.1,-.9 -.9,-1.3 .3,-1.6 1.2,-1.1 2.2,-.2 2.9,1 2,2.5 .8,3.5 -1.3,3.6 -2.5,2.2 -2.9,.3 -2.4,-1.5 -.6,-2.7 1.8,-2.7 3.3,-2 4.4,-.2 4.2,1.9 2.5,3.6 .3,3.8 -1.7,3.4 -3.3,1.2 -2.8,-.5 -1.9,-2.5 .3,-3.1 2.3,-1.9 3.2,-1.1 3.8,.9 2.8,2.8 1.4,4.3 -1.2,5 -3.6,3.4 -4.1,1 -3.9,-1.3 -2,-3.3 .5,-3 2.5,-2.3 4.7,.6 2.4,2.1 1.2,3.6 -.7,5.4 -2.6,3.1 -3.8,1.5 -4.7,-.9 -2.7,-2.7 -.7,-3.1 1.5,-3.1 3.3,-1.3 3.1,1.4 1.8,2.8 .2,3.8 -.8,3.6 -2.1,3.2 -1.8,1 -1.3,-.8 -.4,-1.9 .7,-2.2 1.6,-1.9 2.3,-.9 1.8,1 1.6,2.8 -.2,3.3 -1.6,3.1 -3.3,2 -4.2,0 -3,-1.5 -1.6,-2.5 -.1,-2.4 2,-1.7 2.3,.2 2.9,1.7 1.6,2.4 .1,3.4 -2.1,3.4 -4,2.3 -3.9,-.1 -3.6,-2 -1.7,-3.1 .2,-3.4 2.4,-2.4 3.5,-.5 2.4,2.1 .7,3 -1.3,3.9 -2.6,3.3 -3.2,1.8 -3,.4 -2.6,-1.4 -.9,-2.7 .3,-2.8 1.9,-2 2.2,-.1 2.9,.8 2.9,3.2 .9,4.5 -1.3,3.8 -3.2,2.9 -3.5,1.4 -4.1,-.9 -2.6,-1.8 -.3,-3.1 1.1,-1.8 3.3,-1.1 2.2,1.2 1.4,2.3 .4,3 -.5,3.1 -1,3.4 -1.9,1.7 -2.2,.1 -.8,-.2 -.7,-1.7 .1,-2.2 .8,-.8 1.6,-.8 2.4,.9 1.8,2.9 .8,3.9 -.4,3.6 -1,2.5 -2.1,.9 -2.3,-.4 -1.8,-2.9 -.1,-3.2 1.2,-1.7 3,-.3 3,1.2 2.7,2.5 1.7,3.8 -.1,3.7 -1.3,2.2 -2.6,.8 -2.1,-.9 -1.3,-2.1 -.2,-2.6 1.1,-1.8 2.8,-.5 3,1.3 2.3,1.9 1.3,3.2 .1,2.6 -.9,2.3 -1.9,1.1 -1.8,-.4 -1.4,-1.2 -.6,-2.4 1,-1.9 2,-1.8 3.1,-.1 3.2,1.6 2,3.1 .5,4 -1.1,3.4 -3.2,1.7 -2.9,-.1 -2.8,-2.2 -.6,-3.3 1.5,-3.5 2.6,-2.1 2.5,0 2.5,1.9 1.6,3.1" fill="none" stroke="#2cc2f2" stroke-width="1.15" stroke-linejoin="round"/>
<path d="M797.9,242.5 l 3.6,-1.4 3.9,.3 2.7,1.8 .9,2.7 -1.4,3.4 -3,2 -4.1,.4 -4.3,-1.2 -2.5,-2.5 -.5,-3.5 1.8,-2.9 3,-1.2 3.4,.9 1.9,2.3 .4,3.3 -1.6,3.4 -3,2.1 -3.6,.9 -2.9,-.6 -2.2,-2.2 -.7,-2.9 1.2,-2.7 1.8,-3.4 2.9,-.5 2.6,1.7 1.3,3.5 -.6,3.8 -2.2,3.5 -3.9,2.1 -4.5,-.1 -3.9,-2.5 -2.3,-4.4 .4,-4.4 3.5,-1 4.4,-.8 3,.6 1.9,2.2 -.9,3.2 -3,2.4 -4.9,2 -5.2,.1 -4.3,-1.6 -1.8,-3.1 .6,-3.1 4.1,-2.3 4.2,-.7 4.1,1.3 1.8,3 -1,4.2 -2.8,3.1 -5,3.2 -4.6,1.3 -3.3,-.9 -1,-2 1.5,-3.3 2.7,-2.7 4,-1.3 3.7,.3 2.7,2.8 .9,3.5 -.9,4.4 -2.2,4.1 -3.6,3.3 -3.5,.9 -2.1,-1.3 -1.7,-4.3 -1.3,-5.1 2.3,-3.1 3.5,-1.7 4.8,.9 3,2.9 .9,4.5 -1.3,4 -3.3,3.5 -5.1,1.6 -4.9,-1.2 -3.2,-3.7 2.6,-3 1.9,-3.7 2.9,-1.7 2.1,.7 1.3,2.5 .1,3.7 -1.4,4.1 -2.4,3.7 -2.8,1.5 -2.2,-1 -1,-2.7 -.2,-3.3 2.1,-3.1 3.1,-1.6 3.5,.6 2.5,2.8 .8,4.9 -1.4,5.7 -3.5,4 -3.9,1.3 -3.2,-1.1 -2,-4 -2.1,-6 2.9,-3.6 4.3,-.8 4.8,2.4 2.5,4.5 -.1,5.7 -3.2,4.7 -5.3,2.3 -5.1,-.8 -3.5,-3.3 1.5,-2.9 1.9,-4.6 3.2,-2.5 3.2,.2 2.8,2.7 .9,4.1 -.8,4.8 -2.4,3.9 -3.7,2.3 -3.3,-.2 -2.2,-2.2 -2.9,-5.2 1.8,-3.6 3.6,-1.8 5.2,.4 4.6,3 2.5,4.6 -.3,5.4 -2.7,3.6 -4.3,1.6 -4.8,-.7 -4.2,-2.7 .8,-2.9 .9,-3.7 2.1,-2.6 1.7,-.5 1.7,1.6 .4,3.3 -1.1,3.5 -2.2,3.1 -2.6,2.1 -2.8,.4 -1.9,-1.9 -2.1,-4 1.3,-2.9 2.6,-1.7 3.4,0 3.1,2.2 1.6,3.9 -.3,4 -2.4,3.4 -2.9,1.5 -3.3,-.4 -2.4,-1.9 .9,-2.9 .7,-2.9 1.6,-2 1.7,0 1.3,2 .3,3 -.8,3.5 -1.8,3.1 -2.9,2.1 -2.5,.3 -1.6,-1.3 -2.4,-2.9 .1,-3.3 2.1,-2.7 2.9,-.8 3.1,1.7 1.6,3.9 -.2,5.1 -2.6,4.2 -3.6,2.4 -4.6,.3 -3.2,-2.5 -2.2,-3.9 1.6,-4.7 2.9,-2.2 4.5,-.3 4.3,2.4 2.6,5.1 -.4,5.2 -2.5,4.3 -4.8,2.6 -4.6,-.5 -2.7,-2.7 1.3,-3.4 1.7,-4 3.3,-3.2 3.5,-.5 2.9,2.6 1.3,4.4 -.9,5.7 -2.8,4.6 -3.7,2.5 -3.9,-.6 -1.8,-2.8 -1.3,-5.4 2.5,-4.4 3.8,-2.2 5,.5 3.8,3.2 1.5,4.9 -.7,5.8 -3.1,4.8 -3.5,1.7 -3.3,-.7 -1.9,-3 1.7,-3.8 2.6,-3.8 2.4,-2 2.5,-.5 2.1,2.3 .2,4.2 -1.4,4.4 -3.2,4.5 -4,2 -3.4,-.6 -2.6,-2.2 -2.1,-3.8 .5,-3.6 2.5,-2.6 3.4,-.2 2.2,1.8 1,4 -1,3.5 -2.3,2.8 -3.5,2 -3.5,.3 -2.8,-1.7 -2.4,-3.3 .4,-4.1 2.6,-2.9 3.6,-.8 4.1,1.3 2.8,3.8" fill="none" stroke="#2cc2f2" stroke-width="1.25" stroke-linejoin="round"/>
<path d="M805.6,243.2 l 1.6,1.9 -.1,2.3 -1.7,2.3 -3,1.2 -3.3,-.4 -2.5,-1.5 -1.6,-2.9 .5,-2.2 1.7,-1.3 2.9,-.1 2.6,.3 1.1,3.5 -.6,4.2 -2.2,3.1 -3.5,1.9 -4.1,-.6 -3,-2.1 -1.6,-3.8 .5,-4 2,-2.3 2.9,-.9 3.1,1.5 1,3.7 -1,3.6 -2.5,2.6 -3.1,1.3 -3.5,0 -2.9,-1.7 -1.4,-2.3 .4,-2 1.6,-1.3 2.6,0 1.7,1.1 1.1,1.7 0,3.3 -1.3,2.8 -2.6,2.3 -3.4,.6 -3.7,-.9 -2,-2.2 -.1,-2.6 1.5,-1.9 2.8,-.8 2.7,.6 2,2.2 .9,3.3 -.3,2.7 -2,2.5 -3.2,.8 -2.4,-.8 -2,-1.7 -.5,-2.3 -.1,-2 1.1,-1.8 1.7,-.5 1.5,.7 1,1.7 -.2,2.9 -1.5,2.1 -2.4,1.5 -2.8,.3 -2.5,-.9 -1.6,-1.2 -.7,-2.3 .6,-1.7 1.3,-1 1.4,-.1 1.2,1.6 .4,2.4 -1.2,3 -2.6,2.7 -2.7,1.2 -2.9,0 -2.8,-1.6 -1.5,-2.6 .6,-3 2,-1.3 2.9,.6 2.7,2.6 1.4,3 -.1,3.6 -1.3,2.6 -2.3,1.5 -2.5,0 -1.7,-1.2 -.1,-2 1.3,-1.9 2.8,-.6 2.5,.4 2.4,2.6 .7,2.8 -.4,3.2 -1.8,2.9 -2.5,1.8 -2.5,-.1 -2.6,-1.6 -.8,-2.6 .9,-2.4 2.2,-1.1 2.7,.2 1.6,1.2 .8,2.1 -.6,3.4 -1.7,3.4 -2.5,2.5 -2.5,.6 -1.8,-1.3 -.6,-2.2 .8,-2.3 1.8,-1.7 1.4,-.7 2.3,1 1.4,3 -.2,3.8 -2,3.9 -3,2.3 -3.6,.1 -2.5,-1.9 -.8,-2.6 .8,-2.8 2.4,-2.3 3.6,-.6 3.1,1.8 1.9,3.3 .4,4.1 -1.4,3.5 -2.6,2.4 -3.4,1.3 -3.4,-1.1 -2,-2.3 -.2,-3 1.9,-2.9 4.2,.1 1.9,.8 1.1,2.1 -.1,3.2 -1,2.9 -1.9,2.3 -2.3,1 -2.4,-.4 -1.4,-1.3 -.4,-2.5 .5,-2 1.1,-.9 1.4,.6 .5,2 0,2.9 -.9,2.8 -2,2.6 -2.4,1.4 -2.2,0 -1,-2.1 .2,-2.3 1.4,-2.5 1.8,-.9 2.4,1.3 1.2,3 -.2,3.5 -1.7,3.1 -2.8,1.8 -2.4,.2 -1.8,-1.3 -.3,-2.4 .8,-1.9 1.8,-1.1 1.5,.4 1.6,1.8 .4,2.8 -.5,2.9 -1.6,2.9 -2.3,1.5 -2.2,.1 -1.4,-1.5 .2,-2.2 1.5,-2.4 .7,-1.4 3,1.1 2.2,2.8 .5,4.5 -1.6,3.1 -3.7,2.5 -3.7,.3 -3.5,-1.4 -1.7,-2.5 -.2,-2.8 2.1,-2.2 4.2,-.6 2.4,.4 1.8,2 .8,3.6 -.5,4 -2.1,3.7 -2.2,1.7 -2.5,-.2 -1.6,-2.1 -.3,-3.1 1.6,-3.4 1.9,-1.6 3.2,.5 2.4,1.9 1.2,2.8 -.3,4 -1.9,3 -2.7,1.2 -2.1,-.9" fill="none" stroke="#2cc2f2" stroke-width="1.15" stroke-linejoin="round"/>
<path d="M914.5,231.8 l -.3,4.1 -2.2,3.7 -2.7,1.5 -2.7,-.5 -1.9,-2.3 -.4,-3.3 .9,-3.9 2.4,-2.9 3.2,-.7 2.4,1.7 1.8,3.9 1.8,4.7 -2,4.2 -3.3,2.3 -4,.6 -4,-1.5 -2.2,-3.9 .4,-4.1 2.7,-3 4.1,-1.1 4.5,1.4 3.3,3.4 -.1,4.3 -.7,4.3 -1.9,2.9 -2.7,1.2 -2.8,-.8 -1.6,-2.5 -.3,-2.8 1.1,-2.5 2.3,-1.1 2.9,.7 1.9,2.1 .9,2.8 -.8,4.1 -2.4,3 -2.9,1.5 -3.1,-.8 -2,-2.5 -.2,-3 1.5,-2.6 3.1,-1 3.2,1 2.2,2.4 .9,3.7 -1.1,4.5 -2.3,3 -3.8,1.4 -3.2,-1.4 -1.9,-3.1 .4,-4.1 1.9,-2.8 2.9,-1.1 2.9,.9 2,3.2 0,5 -2.2,4 -2.8,1.9 -3.5,.6 -2.3,-1.7 -1,-2.8 .6,-3.1 1.8,-2.3 2.5,-.7 2.1,.7 1.5,2.7 .6,3.4 -1.4,3.5 -3.1,2.5 -5.1,1 -3.5,-1.5 -2.2,-3.5 .1,-3.4 1.9,-2.8 3.2,-1.3 2.8,.8 1.9,2.5 -.8,3.6 -1.9,4.6 -3.1,2.9 -3.2,.8 -2.8,-.8 -1.4,-2.3 0,-3.2 1.5,-2.7 2.2,-1.9 2.5,-.4 2.1,1.8 .6,3.6 .6,4.8 -3.2,3.2 -4.3,1.4 -3.4,-.8 -2.2,-2.2 -.4,-2.3 .9,-2.3 2.5,-1 2.6,.4 2.8,1.9 1.1,2.8 -1.9,2.1 -2.2,2.9 -2.8,1.5 -2.6,.3 -1.7,-1.1 -.5,-1.9 .5,-2.6 1.7,-1.9 2.5,-.3 1.8,1 1.3,2.6 .1,3 -1.4,3.4 -2.5,2.5 -3.2,.9 -2.8,-1.1 -.8,-2.6 1,-3.6 2.5,-2.5 3.3,-.4 2.7,1.8 1.4,3.8 1,5.3 -2.9,4 -4.8,2.1 -4.5,-.6 -3.4,-3.2 -.4,-4.9 3.1,-3.8 4.6,-1.5 5.5,1.4 3.8,4.3 -.5,4.6 -1.9,4.9 -3.6,3.1 -3.9,.8 -3.2,-1.6 -1.5,-2.5 .1,-3.2 1.7,-2.7 3.3,-1.6 3.4,1 1.9,3.3 .6,4 -2,3.7 -3.7,2.4 -3.9,.4 -3,-1.5 -1.5,-2.2 .3,-3.3 2,-1.8 3,-.4 3.1,1.7 1.4,2.9 -2.1,3 -1.7,2.9 -2.6,2.2 -2.8,.7 -2,-1.1 -.6,-2.2 .7,-3.2 1.9,-2.4 2.6,-.9 3,1.2 1.7,3 1.6,4.3 -1,4.4 -3,3 -3.1,.9 -2.9,-1.3 -1.3,-2.6 .7,-4.2 2.9,-3.1 4,-1.6 4.1,.8 3.2,2.9 1.7,4.1 -.2,5.1 -2.3,4.6 -3.4,2.4 -3.4,-.3 -2.6,-2.5 -.6,-4.1 1.5,-3.6 2.9,-2.5 3.8,-.4 3.9,2.1 2.1,4.6 -2.4,4.3 -2.6,3.6 -3,2.1 -2.6,-.2 -1.6,-1.9 -.1,-2.9 1.3,-3.7 2.7,-2.4 2.8,-.5 2.5,1.4" fill="none" stroke="#2cc2f2" stroke-width="1.25" stroke-linejoin="round"/>
<path d="M907.2,239.1 l -2.1,-2.1 -.7,-3.3 .8,-2.8 1.7,-1.9 2.3,-.6 2.2,1.3 1,3.2 -.5,3.3 -1.8,3 -2.2,1.7 -2.6,.5 -2.5,-1.8 -.7,-2.1 .7,-2 1.5,-1.1 2.4,-.1 2.6,1.6 1.3,2.4 0,3.2 -1.6,2.8 -2.7,1.8 -2.5,.5 -2.7,-1 -1.4,-1.9 .2,-2.4 1.9,-1.6 2.3,.1 2.6,1.7 1.5,2.7 -.4,3.7 -2.6,2.9 -3.3,1.2 -3.9,.1 -2.6,-1.7 -1.1,-3 1,-2.6 2.3,-1.4 3.5,.2 3.3,2.7 1.7,4.4 -1,3.9 -2.8,2.7 -3.9,1.2 -4,-1 -2.2,-3.2 -.1,-3.1 1.9,-2.2 3.4,-1 4.2,.8 3.2,3 1.7,4.5 -.8,4 -2.8,3 -3.6,.9 -2.3,-1.5 -1,-2.2 .7,-2.1 2.7,-1.3 3,.2 3.3,1.8 2.2,2.9 .6,3.6 -.4,2.6 -1.4,2 -1.9,1.1 -2.4,-.4 -1.3,-1.4 .4,-2 1.6,-1.6 1.5,-.6 1.7,.9 .8,2.2 -.3,3.3 -1.4,2.6 -2.5,1.9 -2.7,.3 -2.5,-1.3 -1.1,-2.6 .4,-2.7 1.8,-1.8 2.3,0 1.8,1.4 1.4,3.3 -.6,3.3 -2.9,3.6 -3.5,1.6 -3.6,-.4 -2.8,-1.6 -1.3,-2.7 .2,-2.5 1.4,-1.6 2.4,-.3 2.2,1.4 1.6,2.6 .2,2.7 -1,2.6 -2.1,2.2 -2.9,.6 -2.6,-.2 -2.1,-1.9 -1.2,-2.6 .8,-2.7 2.1,-1.3 2.8,.6 2.2,2.5 .8,3.5 -.9,3.5 -2.8,3.4 -3.8,1.6 -3.1,-.2 -1.3,-1.4 -.3,-2.4 1.4,-3 2.3,-1.4 3,.2 2.1,1.5 1.1,3.4 -.3,3.6 -1.5,3.5 -2.6,2.5 -3.1,.6 -2.6,-2.2 -.3,-2.2 1,-2.3 2.1,-1.3 2.5,.4 1.9,1.6 1.6,3 .3,3.4 -1.1,3 -1.5,1.4 -2.3,.6 -.7,-.3 .2,-1.8 1.1,-1.8 1.6,-1.2 2,-.4 1.9,1.5 .8,2.5 -.4,3.3 -1.5,3.1 -2.6,2.3 -2.5,.6 -2.4,-1.2 -.6,-2.6 .7,-2.3 2,-1.6 2.3,.1 1.7,1.9 .7,3.1 -.8,3.8 -2.6,3.2 -3.4,1.3 -2.6,-1.2 -1.6,-2.8 -.1,-3.1 1.3,-2.6 2.2,-1.2" fill="none" stroke="#2cc2f2" stroke-width="1.15" stroke-linejoin="round"/></g>
<g opacity="0.95"><path d="M1187.9,102.8 l 2.7,-.6 3,1 2.5,2.9 .7,3.4 -1,2.4 -2.8,1.3 -2.8,-.6 -2.3,-2.1 -.8,-2.8 .9,-2.8 2.8,-2.1 3.8,-.4 3.9,1.7 2.4,3.4 .2,4.6 -2.3,3.9 -4.1,2.4 -4.3,-.6 -2.6,-2.6 -.2,-3.9 1.9,-3.1 3.5,-1.6 4.1,.8 3.6,2.9 1.7,4.3 -.6,4.3 -2.1,2.8 -3.4,1.2 -3.4,-1.2 -2.3,-2.8 0,-3.5 1.8,-3.2 4.1,-1.1 4.2,.6 3.1,2.5 1.5,3.6 -.5,3.5 -1.8,2.1 -2.3,.7 -2,-.9 -1.3,-1.9 .1,-2.5 1.4,-2.5 2.5,-1.8 3.4,-.4 3.4,1.2 2.3,2.7 .9,3.3 -.7,3 -2.5,2 -3.3,.2 -2.3,-2.1 -.8,-3.8 1.6,-4.5 3.9,-2.4 4,.1 3.6,2.2 1.9,3.4 -.2,3.9 -1.4,3.1 -2.4,1.7 -3,0 -2.2,-2 -.7,-3.3 1.1,-2.9 2.4,-1.7 2.8,.2 2.8,1.6 2.5,3.1 .9,3.4 -.8,2.5 -1.9,1.5 -3,-.2 -2.4,-1.7 -1.4,-2 0,-2.2 1.8,-1.9 3.6,-.6 3.8,1.8 2.1,2.9 .9,3.5 -1,4.2 -2.8,2.3 -4,0 -3.2,-2 -1.2,-3.2 1.1,-3.5 3.2,-2.1 4.2,-.3 4.2,1.8 2.9,3.2 .6,3.9 -1.6,3.3 -2.8,1.4 -3.1,-.7 -2.8,-2.4 -1.3,-4.2 1,-3.5 2.4,-2.1 3.4,-.8 3.6,1.2 3,2.6 1.5,3.1 0,3 -1.6,2.5 -3,.8 -2.6,-.8 -2,-2.1 0,-2.2 1.5,-1.7 2.5,-.8 4,.5 3.9,2 1.8,2.7 .1,2.4 -1.7,1.4 -2.8,.1 -2.9,-1.5 -1.9,-2.6 -.4,-2.9 1.2,-2.5 4.1,-1.9 4.7,.9 3.6,3.2 1.7,4.9 -1.3,4.6 -2.8,3.2 -3.9,1 -3.4,-1.4 -2.1,-3.7 .4,-4.3 2.3,-1.2 4.2,.2 4,1.8 3,2.3 1.8,2.9 -.5,2.3 -2.2,1.1 -2.7,-.4 -2.3,-1.6 -1,-2.4 1,-1.9 2.8,-1.2 3.5,.8 2.6,2 1.6,2.9 .1,3.3 -1.2,2 -2,1.1 -2.8,-.1 -1.9,-.9 -.4,-1.7 .9,-1.2 2.4,-1.1 2.4,.5 2.8,2.5 1.5,3.6 .3,3.8 -1.2,2.6 -2.7,1.4 -2.9,-.6 -2.1,-2.8 -.2,-3.7 1.5,-3.9 3.7,-3.1 5,-.9 4.1,1.2 2.2,2.6 .9,3.3 -1.6,3.2 -2.5,1.5 -3.1,-.2 -2.7,-2.6 -.4,-4.2 1.5,-4 2.6,-1.6 4,0 4.1,1.7 2.8,2.6 .7,2.2 -.7,1.9 -1.8,.9 -2.2,-.1 -2.3,-1.8 -1.2,-2.8 .5,-2.4 1.8,-1.5 2.7,.3" fill="none" stroke="#f8a368" stroke-width="1.06" stroke-linejoin="round"/>
<path d="M1194.8,110.6 l -1.4,1.3 -2.4,-.1 -2.3,-1.7 -1.2,-1.9 -.4,-2.1 1.2,-1.3 2.4,-.3 2.7,1.1 2.4,2.1 1.3,2.5 .3,2.5 -1.4,2.2 -2.6,.3 -2.4,-1.4 -1.1,-2.4 .5,-2.4 1.6,-1.7 3.4,-.5 3.9,1.7 2.6,3.5 .6,4 -1.6,2.8 -2,1.4 -2.6,-.5 -2.1,-1.9 -.7,-2.2 .4,-1.7 1.4,-.7 2.2,.6 2.1,1.7 2.1,2.7 .9,3.7 -.3,2.7 -1.9,2.2 -3,.5 -2.1,-1.2 -.7,-2.3 1,-2.9 2,-1.7 3.2,-.2 2.9,1.3 2.2,2.9 .9,3.3 -.7,2.9 -1.5,1.7 -2.5,.6 -2,-.8 -.7,-1.9 .8,-2.1 1.5,-1.5 2.3,-.3 2.5,1.2 1.9,2.2 1.3,3.2 -.5,3.2 -1.6,1.6 -1.7,.2 -1.3,-.5 -.8,-1.6 .4,-1.9 1.2,-1.3 2.1,-.7 2.3,.1 2.8,1.4 1.5,2.2 .3,2.6 -.7,2.4 -1.5,1 -1.1,.2 -1.3,-.7 -.3,-1.1 .6,-1.8 1.7,-1 2.8,.4 2.8,1.2 2,1.9 1.4,2.3 -.1,1.7 -1.3,.5 -1.9,-.5 -1.6,-1.8 -.5,-1.8 .8,-2 2.8,-1.2 3.5,.2 3.4,1.2 2.2,1.9 1,1.4 -.8,1.2 -1.3,.3 -1.9,-.6 -1.8,-1.7 -.5,-1.7 .6,-1.9 2.3,-.6 2.8,.6 2.2,1.6 1.7,2.2 1.3,2.4 -.9,2.6 -2.4,2 -2.4,.2 -1.8,-1 -1,-2.2 .7,-2.6 2.5,-1.9 3.9,-.6 3.3,.9 2.6,2.1 1.3,3.7 -.9,3.2 -2.1,1.8 -2.8,-.5 -1.8,-2.1 .1,-2.2 1.7,-2.7 2.7,-1.5 3,-.6 3.6,1.1 2,2.3 .6,3.3 -1.2,2.5 -2.1,.7 -2.5,-.8 -1.4,-2 .3,-2.2 2,-2 3.1,-.4 3.1,1 2.4,2.1 1.2,2.8 -.5,2.5 -1.7,.7 -2,-.8 -1.2,-1.4 -.5,-1.7 .7,-1.7 1.5,-1 2.3,-.3 2.6,.8 2.2,1.2 1.4,2.1 0,1.8 -1.2,1.5 -1.5,.2 -1.2,-.8 -.8,-1.4 .5,-1.9 1.9,-1.7 2.3,-.7 2.3,.5 1.9,1.1 .7,1.8 -.4,1.9 -1.7,1.1 -2.6,0" fill="none" stroke="#f8a368" stroke-width="0.98" stroke-linejoin="round"/>
<path d="M1172,160.1 l -1.4,1.9 -2.6,1 -3.2,-.2 -2.7,-1.4 -1.8,-2.7 0,-2.8 1.9,-2.5 3.8,-1.7 4,.4 3.3,1.8 1.7,2.6 -.8,2.9 -2.8,1.8 -3.2,-.1 -2.8,-1.9 -1.2,-3.3 1.3,-4 3,-2.4 4.4,-1 4.7,1.6 2.6,3 1.1,4.1 -1.3,3 -3,1.7 -3.5,.2 -3.1,-1.8 -1.2,-3 .8,-3 2.3,-2.4 4.5,-1 4.5,1.3 3.5,3 1,3.1 -1.6,3 -2.7,2 -3,.1 -2.6,-1.4 -1,-2.5 .7,-2.8 1.7,-1.8 3.5,-.8 3.1,1.1 2.3,2.2 1.1,2.9 .2,3 -1.9,2 -3,.5 -2.7,-1 -1.3,-2.3 .5,-2.1 2.4,-1.9 3.3,-.9 4,.3 2.8,1.3 1.7,1.9 -.3,2.3 -1.9,2.5 -2.6,1 -2.8,-.9 -1.9,-2.5 .1,-3.2 2,-3 3,-1.8 3.4,0 3.2,1.2 2.4,2.7 .4,2.7 -2,1.4 -3,.2 -3.1,-1.2 -1.8,-2.1 -.5,-2.8 1.9,-2.5 3.3,-1.8 4.6,-.5 4.1,1.2 2,2.5 -.8,3.6 -2.4,2.6 -2.8,.5 -2.3,-1.3 -1.1,-1.9 .3,-2.8 1.8,-1.8 2.7,-.9 3.1,.3 2.4,1.4 1.5,2.7 .6,2 -1.1,2 -2.5,1.3 -3,-.4 -2.3,-1.7 -.2,-2.7 1.9,-2.6 3.9,-1.7 4.4,0 3.8,1.8 1.8,3 -.3,2.8 -2.3,2.5 -3.3,.9 -3.6,-.4 -2.2,-1.7 0,-2.9 2.4,-2.8 4.6,-1.5 5.1,.4 4,2 1,3.2 -1.4,2.7 -3.1,1.2 -3.6,-.2 -3.4,-2 -1.3,-3.3 .6,-2.9 3.2,-2.7 3.9,-.9 4.4,.6 3.1,2.1 .9,2.8 -1.2,2.6 -2.6,2 -2.9,.7 -2.1,-.5 -.9,-1.1 1.1,-1.9 2.6,-1.3 3.7,-.7 3.2,.6 2.6,1.5 1,2.3 -.9,2.5 -2.1,1.4 -3.3,.1 -2.3,-1.9 -.8,-3 1.4,-3.3 3.2,-2.3 4.5,-.2 3.4,1.6 2.1,2.8 .1,4 -1.9,2.6 -3,1.6 -2.7,-.5 -2.2,-2.4 -.2,-2.9 1.9,-2.7 2.9,-1.4 3.5,-.2 3,1.1 2.4,2.7 .3,3.3 -1.3,3 -3.4,1.3 -3.5,-1.3 -2,-3.6 .5,-4.6 2.2,-4 4.4,-2.4 5,.6 3.2,2.7 1.5,4 -1.1,2.6 -2.3,1.4 -3,0 -2.7,-1.3 -1.3,-2.4 .5,-3.2 2.2,-2.1 3.1,-1.4 4,0 3.2,1.2 1.9,2.4 -.5,2.8 -1.8,2 -3.2,.6 -2.8,-1.4 -1.7,-3.5 .1,-4.2 2.3,-3.7 3.4,-1.5 3.7,.3 2.7,1.9 1.2,3.2" fill="none" stroke="#f8a368" stroke-width="1.06" stroke-linejoin="round"/>
<path d="M1165.1,155.3 l 2.9,.4 1.8,1.1 .9,2.3 -.7,1.7 -2.1,1.5 -1.9,.3 -1.6,-.5 -1,-1.6 .2,-1.8 1.9,-1.5 2.6,-.5 3.2,.1 2.8,1.6 1.5,1.9 -.3,2.1 -1.3,1.1 -2.1,0 -1.8,-1 -1.1,-1.7 .1,-2.1 1.6,-1.6 3.1,-1.1 2.9,1.1 2.8,1.3 1.4,1.8 -.3,1.8 -1.3,1.4 -1.9,.4 -1.9,-.6 -.9,-1.1 .8,-1.6 2.1,-1.2 3.7,-2 2.8,.7 2.5,2.3 1.1,3 -.9,3 -2,1.4 -2.3,0 -2,-1.3 -.5,-2.6 .6,-3.1 1.9,-2.8 3.1,0 3.2,.4 2.3,1.4 1.2,1.4 0,1.7 -1.2,1 -1.8,-.1 -2.2,-1.4 -1.1,-2.5 .7,-3 2.3,-2.3 3.2,-1.5 3.1,-.1 2.7,1.8 1.3,3.1 -.7,2.4 -1.9,2 -3.1,.8 -2.5,-.6 -.7,-1.4 .6,-1.7 2.5,-2 3.9,-.9 3,.5 2.9,1.9 1.4,2.1 -.2,2.4 -1.9,1.9 -2.1,.3 -2.1,-1 -.8,-2.1 .5,-2.7 2.2,-2.1 3.5,0 3.6,.4 2.7,1.2 .9,1.5 -.4,1.7 -1.9,.9 -2.4,-.2 -1.6,-1.1 -.6,-2.2 1.1,-2.4 2.5,-1.8 3.6,-1.1 3.2,.3 2.1,.9 .9,1.9 -1.1,1.7 -2.2,.8 -2.3,-.5 -2.1,-1.5 -.5,-2.2 1.3,-1.7 3,-1.3 3.2,.7 3,1.3 2.2,2 .5,2.2 -.4,1.8 -1.5,1 -1.5,.3 -1.3,-.7 -.2,-1.4 1.2,-1.4 2.3,-1.5 2.4,-1.3 2.8,0 2.8,1.3 .9,1.9 -.5,2.1 -1.5,1.7 -2.3,.7 -2.2,-.8 -.6,-1.6 .5,-2.1 2.3,-1.5 3.1,-.4 3.1,.8 2.5,1.7 1,2.4 -.1,2.4 -1.3,1.4 -1.8,.4 -1.7,-.4 -.7,-1.2 .7,-1.9 1.3,-1 2.5,-.7 2.9,-.1 3.1,1.1 1.9,2.1 .1,1.9 -1.2,1.7 -2.7,.5 -2,-.6 -1.4,-2.1 .1,-3 2.2,-2.7 3,-1.4 3.9,-1.4 3.2,1.5 1.1,2.4 -.5,3.2 -2.1,2.1 -2.8,.3 -2.4,-1.4" fill="none" stroke="#f8a368" stroke-width="0.98" stroke-linejoin="round"/>
<path d="M1150.1,195.8 l -2.5,1.5 -3.5,.1 -3.4,-1.4 -1.7,-2.9 .6,-3.3 2.5,-2.2 3.9,-.8 3.6,.5 2.3,1.4 1,1.7 -.2,1.6 -2.3,1.2 -3.4,-.4 -2.9,-1.4 -1.9,-2.6 .5,-2.9 2.3,-1.9 3.6,-.9 4.1,.2 4.4,2.3 2,3.1 -.6,3.1 -3,3.4 -3.6,.9 -3.2,-1.4 -1.6,-2.1 .4,-2.8 2.2,-1.9 3.2,-1 3.4,.6 3.6,2.1 1.8,3.4 -.5,3.7 -1.5,1.4 -3.1,1.3 -3.3,-.5 -2.1,-2.1 0,-2.3 1.9,-1.9 3.7,-1.3 5.1,.7 4.3,2.2 2.1,3 -.6,2.9 -3.1,2.5 -3,.3 -3.1,-1 -1.7,-2.5 .7,-2.8 2.4,-1.9 3,-1 3.2,.1 3,1.2 2,2.1 .1,1.8 -1.5,1.7 -2,.2 -2.4,-1.5 -1.4,-2.4 0,-2.5 1.9,-2.3 2.7,-1.2 3.2,-.1 2.7,1 1.8,2.1 .6,2.5 -.8,2 -2.1,1.3 -2.7,-.2 -1.9,-1.4 -.5,-2.5 1.4,-2 2.7,-1.3 3.3,.4 3,1.8 2,2.8 .8,3.2 -.6,2.8 -2.2,2.4 -2.9,.8 -2.9,-1.5 -1.4,-3.4 .8,-3.1 2.5,-2.8 4.5,-1.3 4.1,.6 3.7,2.6 1.3,3.5 -1.6,3.3 -3.1,1.4 -3,-.5 -2.4,-1.8 -1.2,-2.3 .4,-3 2.6,-2.3 3.8,-.6 3.2,.8 2.7,2.2 1,2.5 -.5,2.4 -1.9,1.2 -2.5,.4 -2,-.6 -1.3,-1.6 -.1,-1.8 1.2,-2 3,-1.3 3.2,-.2 2.5,.6 1.5,1.6 .1,1.8 -1,2.1 -2.3,.8 -2.4,-.5 -1.1,-1.1 -.2,-1.6 1.2,-1.9 3,-1.2 2.8,.2 2.9,1.3 1.8,2.2 .5,2.5 -1.4,1.7 -2.1,.4 -2.2,-.8 -1.8,-1.8 0,-2.7 1.7,-2.6 2.8,-1.8 3.6,-.5 2.7,.8 1.7,1.8 .4,2.6 -1.7,2.1 -3,.5 -2.9,-1.9 -1.9,-3.8 .5,-5 2.5,-3.7 3.7,-2 4.5,.5 3.5,2.9 1.4,4.3 -1.3,1.6 -2.4,1.3 -3.7,.4 -2.5,-1 -1.1,-1.5 1.2,-1.7 3.1,-.9 3.6,.1 3.5,1.3 2.1,2 .8,2.5 -1,3.7 -2.4,1.9 -3.1,-.2 -2.5,-2 -1,-3.9 1,-3.7 3.1,-2.9 4.7,-1 4.5,1.9 2.8,3.6 .4,3.8 -1.9,2.1 -3.2,1.1 -2.8,-.6 -2.4,-2.1 -.3,-3.3 1.5,-2.8 2.8,-1.9 3.9,-.9 3.8,.9 2.5,2.1 .7,2.7 -.9,3.2 -2.3,1.6 -2.6,.4 -2.7,-1.6 -1,-2.1 .6,-2.8 2.6,-2.4 4,-.6 3.8,1.4 2.4,2.6 .7,3 -1,3.4 -2.4,1.8 -2.8,.3 -2.6,-2 -.8,-2.7 .8,-3.8 2.9,-2.7 4.3,-.9 4.1,1.8 2.4,3.1 .8,3.8 -1.5,1 -2.4,.9 -2.6,-.2 -2,-1 -.9,-1.7 .7,-2 1.9,-1.5 2.6,-.8 2.9,.2 2,1 1.1,1.7 -.4,2.4 -1.5,1.1 -2.9,.6 -2.6,-.2" fill="none" stroke="#f8a368" stroke-width="1.06" stroke-linejoin="round"/>
<path d="M1141.2,195 l -.9,-2.2 .9,-2.2 1.9,-1.4 2.5,-.7 2.7,.8 1.4,1.4 .8,1.7 -1,1.3 -1.9,.5 -2,-.8 -1.3,-2.6 0,-2.2 1.6,-1.9 2.8,-1.1 3.4,-.2 3.3,.9 1.7,1.6 0,1.8 -1.1,1.5 -2.3,.5 -2.3,-.6 -1.4,-.3 .3,-2.9 1.6,-2.7 3,-1.2 3,.1 2.6,1.3 1.5,2.3 .4,2.5 -1.3,2.3 -2.2,.9 -1.9,-.5 -1.1,-1.7 .2,-2.4 1.3,-2.6 2.4,-1.6 3.2,-.3 2.8,1.6 1.7,2 .8,2.5 -.9,2.4 -2.1,1.2 -2.4,.1 -1.1,-1.6 -.3,-2.6 1.3,-2.8 2,-1.6 2.7,0 2.5,.6 2.3,2 .6,2.6 -.3,2.2 -1.7,1.6 -2.1,-.1 -1.4,-1 -.4,-2.1 1.2,-2.7 1.8,-1.6 3.1,-.6 2.4,.9 1.7,1.8 .8,2.5 -.7,2.2 -1.2,1 -1.4,-.1 -1.2,-.8 -.7,-2 .1,-1.4 1.6,-1.2 3.1,-1 3.3,.2 2.9,1.3 1.9,2.2 -.5,2.2 -1.7,1.1 -2.2,.6 -2.3,-.6 -1.6,-1.5 .1,-2 1.9,-1.9 3.2,-1.2 3.9,0 3.3,1.6 1.5,2.3 .1,2.3 -1.5,2.2 -2.5,1.1 -2.8,.1 -1.4,-.3 .2,-2.3 1.5,-1.8 2.6,-1.2 3.6,-.1 2.9,1.6 2.5,3.1 .4,3.7 -.9,2.9 -2.4,1.5 -2.1,-.5 -.9,-2.1 .5,-2.9 2.2,-2.6 2.9,-1.2 3.5,.5 2.1,1.9 1.4,2.8 -.1,2.6 -1.2,1.6 -2.2,.4 -1.4,-1.3 -.7,-2.5 .9,-2 1.6,-1.2 3.2,-.5 2.5,.5 2.4,1.7 1.2,2.1 0,1.6 -1.4,1.3 -1.8,.2 -1.7,-.6 -.9,-1.5 .2,-1.7 2.2,-1.9 3.1,-.9 3.1,.4 2.2,1 1.3,1.7 -.2,1.7 -1.8,1.2 -2.1,-.3 -1.7,-.6 -.7,-3 .8,-2.5 2.8,-2.1 3.1,-.6 3.2,.8 1.7,1.7 .4,2.7 -1.1,2 -1.8,.9 -2,-.5 -1.5,-2.5 -.6,-1.5 1,-1.8 3,-1.8 4,-1.1 3.2,-.1 2.1,.7 .5,1.1 -1.1,1 -2.6,.2 -2.4,-1 -2.1,-.4 -.7,-4.6 1.6,-4.3 2.5,-2.4 3.5,-1.1 3.4,.8 2.8,2 1,3.5 -.9,3.6 -2.3,2 -2.7,-.1 -2.4,-1.8 -.9,-3.8 1,-3.4 2.6,-2.1 3.3,-.2 3,.8 1.8,1.5 .4,2.7 -1.1,2.6 -2.3,1.4" fill="none" stroke="#f8a368" stroke-width="0.98" stroke-linejoin="round"/>
<path d="M1174.3,207.4 l 3.1,.8 2.7,2.5 1.1,3.3 -.8,3.1 -2.4,1.5 -2.5,-.5 -2.2,-1.9 -.8,-3 1,-3.2 3,-2.2 3.5,.2 3.3,1.7 2.7,2.7 1.2,2.9 -.3,2.8 -1.5,.7 -2.4,-.5 -2.7,-1.6 -1.8,-2.8 -.1,-3.2 1.7,-1.8 2.4,.1 3.1,2 2.5,3.2 1.4,3.6 0,3.9 -1.8,2.3 -3.1,.1 -2.7,-1.8 -2.1,-2.8 -.8,-3.3 1.3,-2 3.8,-.9 4.2,1.3 3.2,3.6 .8,4.1 -1.2,4.5 -3.9,3.5 -4.7,1.3 -4.2,-1.4 -2.1,-2.5 0,-3.3 2.9,-3 3.3,-.4 4.1,1.9 1.8,3 .7,4.2 -1.2,3.8 -2.4,2.6 -2.9,.7 -3,-.9 -1.7,-2.2 -.1,-2.9 1.7,-2.7 3.2,-1.5 3.1,.7 2.7,1.5 1.9,2.8 1,3.4 -1,2.4 -2.1,1 -2.2,-.6 -1.7,-2.3 -.7,-2.9 .9,-1.8 2.2,-1.1 3.8,.1 3.4,2.1 2,2.7 .5,3.3 -1.4,2.5 -2.6,1.2 -3.4,-1.1 -2.3,-2.7 -.5,-2.9 1.7,-2.9 3.2,-1 4.2,1.1 3.2,2.7 1.8,4.2 -.7,3.7 -2.6,2.4 -3.2,.3 -2.5,-1.6 -1.7,-2.8 .3,-2.8 2,-1.9 3.8,-.7 3.6,1 2.6,2.5 1.1,3.1 -.4,2.4 -1.6,2 -1.8,.4 -1.8,-1.4 -.7,-2.7 1,-2.8 2.1,-2.5 3,-1.6 3.3,.3 3.1,2.1 1.6,2.4 .3,2.4 -.9,1.7 -2,0 -2.3,-.9 -1.8,-1.9 -.1,-2 1.5,-1.7 2.4,-.2 3,1.5 2.4,3.4 .7,4.1 -1,3.6 -2.7,2.8 -3.5,.6 -3.2,-1.4 -1.3,-2.4 .1,-2.2 2,-1.5 3,.4 3.1,1.9 2,2.9 .7,3.2 -.7,2.8 -1.9,1.9 -2.9,.2 -2,-1.1 -1.3,-1.9 .1,-2.2 1.1,-1.5 2.4,-.3 3.2,1.4 2.3,2.5 .9,2.9 .1,2.4 -1.7,1.8 -2.2,.2 -1.5,-1.2 -.6,-2 .7,-2.1 1.6,-1.3 1.7,-.6 2.9,.8 2.8,2.6 1.7,2.9 .2,3 -1.6,1.8 -2.6,-.1 -2.9,-2.1 -1.9,-2.8 -.2,-3 1.9,-1.9 4,-.2 3,2 1.5,3.1" fill="none" stroke="#f8a368" stroke-width="1.06" stroke-linejoin="round"/>
<path d="M1179.6,215.9 l -1.3,1 -1.6,-.3 -1.9,-1.3 -1.3,-2.1 -.2,-2.4 1.5,-2.1 2.7,-.8 3.1,.5 2.9,1.4 2,2.6 .7,2.6 -1.1,1.5 -1.7,.6 -1.8,-.5 -1,-1.3 .1,-1.8 1.1,-1.5 2.2,-.7 2,.4 1.6,1.4 1.2,2.3 -.1,2.6 -.9,2.3 -1.2,.8 -1.7,.1 -1.3,-.8 -.7,-1.1 -.1,-1.1 .8,-.6 1.3,.7 1.4,1.6 1.3,2.6 .6,2.3 -.2,2.1 -1,1.2 -1.6,.1 -1.4,-.7 -.7,-1.4 .1,-1.3 1.1,-.5 2.3,.7 1.9,1.5 1.8,2.5 .8,2.6 -.2,2.3 -.9,.9 -1.5,0 -1.7,-1 -.4,-1.6 0,-1.6 1.5,-1.3 2.6,.3 2.8,1.6 2.1,2.3 .9,2.7 -.6,2.3 -2.2,1.7 -2.5,.1 -1.5,-1.2 -.2,-1.8 1.2,-1.5 2,-.8 3.1,.1 2.5,1.3 1.8,2.7 .3,2.9 -1.4,2.7 -2,1.3 -2.2,.1 -1.2,-.9 -.4,-1.6 .9,-1.3 1.5,-.8 2.6,.1 2,1.5 1.5,2.3 .6,2.8 -.9,3 -1.7,1.5 -2.7,.2 -1.9,-1 -1.1,-2.3 1.3,-3.2 2.2,-1.7 3.5,-.4 3,1.6 2.5,2.2 .9,2.8 -.7,3.2 -1.7,1 -1.7,0 -1.1,-1.2 -.4,-2.3 1.1,-2.2 2.3,-1.5 2.8,-.5 3.1,.7 2.4,1.3 1.4,1.4 .5,1.4 -.8,.5 -1.1,-.7 -.9,-2 .2,-2.2 .9,-1.8 1.1,-.5 2,.5 2.2,1.9 1.3,2.2 .6,2.3 -.8,2 -1.2,1.2 -1.9,.1 -1.3,-.7 -.7,-1.1 .1,-1.2 1.6,-.4 1.7,.7 1.9,1.8 1.1,2.5 0,2.9 -.9,2.5 -1.8,2.1 -2.6,.5 -1.8,-.8 -1,-1.6 .2,-1.9 1.4,-1 2.2,.2 1.8,1.6" fill="none" stroke="#f8a368" stroke-width="0.98" stroke-linejoin="round"/>
<path d="M1156.2,294.9 l .5,-2.9 2.2,-2.3 3.1,-1.1 3,.2 2.6,1.7 .7,2.4 -.7,3.1 -2.1,2 -2.9,.7 -2.6,-1.1 -1.2,-2.1 0,-3.9 2.2,-3.2 3.6,-2 4.4,.4 3.6,2.7 1.3,3.1 -.8,3.4 -2.1,2.1 -3.1,.4 -3.2,-1.5 -2.2,-3.5 .5,-2.6 2.5,-3.2 3.9,-2 3.9,-.6 3.3,1.3 2.1,3 -.1,3.3 -1.4,2.9 -2.6,2.1 -2.5,.5 -2.3,-1.8 -.6,-4.4 1.5,-4.3 3.3,-3 4,-.9 4.1,1.2 2.7,3.3 .6,4.5 -2,3.4 -3,1.5 -3.7,-.5 -2.5,-2.7 .1,-3.7 1.8,-3.9 3.9,-3 3.4,-1 3.1,.6 1.9,1.6 .4,2.8 -2,2.5 -2.9,.8 -3,-.6 -2.3,-2.1 -.3,-3.2 1.3,-3.1 2.7,-2.4 4,-1.2 3.4,.3 2.5,2.2 .5,3.2 -1.3,3.2 -2.9,2.2 -3.1,.1 -2.5,-1.9 -.4,-4.2 1.8,-4.1 3.1,-2.5 3.3,-.8 2.6,1 1.6,1.9 .3,2 -1.4,2.4 -2.2,.9 -2.2,-.7 -1.7,-2.1 -1.3,-3.2 .9,-3.6 2.3,-2.5 2.9,-.9 3.1,.8 2.8,2.5 .8,2.9 -.9,2.3 -2.2,1.5 -2.5,-.2 -2.1,-2.1 -.5,-2.5 .7,-3.1 1.9,-2.1 2.9,-1.1 2.7,.4 2.5,1.1 1.4,2.3 0,2.4 -1,1.9 -2,.8 -1.7,-1.1 -1.6,-1.7 .5,-2.3 1.9,-3 2.9,-2 3.1,-.8 2.7,.8 1.2,1.7 0,2.8 -1.5,2.9 -2.4,1.6 -2.5,.1 -.6,-2.2 .9,-3.2 2,-2.7 2.9,-2.2 3.1,-1.3 2.3,.6 1.3,1.5 0,2.6 -1.7,1.8 -2.1,1.2 -1.8,-.3 -2.1,-2.2 -.6,-3.3 .5,-3.7 2.4,-2.8 3.5,-1.4 4.1,.9 2.7,2.2 .7,3.4 -1.2,3 -3.5,1.7 -3.5,-.7 -2.5,-2.6 -1.1,-3.7 .6,-3.7 2.2,-3 3.1,-1.6 3.3,.3 2.5,1.3 1.1,2.3 0,2.3 -1.8,2.6 -2.9,.5 -2.2,-1.2 -.8,-2.1 .8,-3 2.1,-2.9 2.8,-1.5 2.5,.3 1.1,1.4 -.3,2.1 -1.7,2.4 -2.7,1.6 -2.5,.4 -2.1,-.9" fill="none" stroke="#f8a368" stroke-width="1.06" stroke-linejoin="round"/>
<path d="M1162.4,289.1 l 2.1,.3 1.5,1.1 .2,1.7 -1.1,1.9 -2.1,1.1 -2.4,.2 -1.8,-1.2 -.9,-1.7 .2,-2.8 1.9,-2.8 2.8,-1.5 2.7,-.6 2.9,1.2 1.4,1.8 .4,2.2 -1.1,1.9 -2.2,.7 -2.2,-.8 -1.1,-1.8 .4,-2.9 2.1,-2.6 2.9,-1.7 2.6,-.3 2.7,1.3 1.4,2.1 .1,2.4 -.7,1.6 -1.6,.5 -1.3,-.5 -.7,-1.1 -.1,-1.7 1.2,-1.9 2.6,-1.6 2.6,.4 2.3,0 1.6,.9 .7,1.2 -.7,1.4 -1.6,.8 -2.1,-.1 -1,-1.6 0,-1.9 1.5,-2 2.7,-1.8 2.9,-1.1 2.9,1 1.5,1.8 0,1.9 -1,1.1 -2.2,.4 -1.4,-.7 -1,-1.6 .1,-2 1.4,-2.4 2.3,-1.1 3.2,-.2 2.4,.6 1.7,1.7 .2,2.1 -1.2,2.3 -2,1.5 -1.4,.2 -.9,-1.2 .4,-1.8 1.8,-2.1 2.3,-1.6 3.4,-.6 3.1,.3 1.4,1 .2,1.3 -1.1,1.5 -1.6,1.1 -2.2,.4 -1.2,-.9 -.6,-1.5 1,-2.6 2.2,-2.5 1.9,-3.3 3.2,.2 2.6,1.7 1.2,2.1 0,2.2 -1.4,1.4 -1.9,-.2 -2,-1.5 -1,-3.2 -.1,-2.7 1,-3 1.9,-2.1 3.7,-.1 1.9,.4 1,1.1 -.1,1.7 -.6,1.2 -1.5,.7 -1.5,0 -.9,-1.2 0,-1.6 1,-2.5 2.1,-2.1 2.2,-1.4 2.5,0 2.4,.6 1.3,1.6 0,2.2 -1.5,1.5 -1.8,0 -2,-.9 -.9,-2.2 .2,-3.4 1.3,-3 1.4,-2 2.6,-.6 2.4,.9 1.3,1.5 -.3,1.7 -1.6,1.6 -1.9,0 -1.7,-1.5 -.7,-2.5 .7,-2.8 1.7,-1.7 2.7,-.3 2.2,.3 1.7,1.5 .1,1.7" fill="none" stroke="#f8a368" stroke-width="0.98" stroke-linejoin="round"/>
<path d="M1298.9,170.6 l .4,3.2 -1.8,3.2 -3,2 -3,.2 -2.7,-1.7 -1.1,-2.4 .3,-2.3 1.8,-2.2 2.6,-1.3 2.7,.3 2.2,2.3 .4,3.6 -1.7,3.8 -3.3,2.7 -3.4,1 -2.7,-.6 -1.3,-2.4 .2,-2.6 1.6,-1.9 3.3,-1.2 3.3,1.2 1.8,2.6 .5,3.7 -1.4,3.9 -2.7,3.1 -2.9,1.8 -2.5,-.5 -1,-2 1,-3.3 2.5,-2.9 3.3,-1.5 2.5,.6 1.1,3.3 -1,3.3 -2.6,3.6 -3.5,2.4 -3.5,.3 -2.3,-1.4 -.5,-2.4 .9,-2.5 1.9,-2.1 2.1,-.6 1.8,.9 1,1.7 -.3,3 -1.6,3.2 -2.6,2.8 -3.2,1.3 -3,-.6 -1.2,-2 .6,-2.9 1.9,-2 2.3,-1.4 2.5,0 1.8,1.8 .5,3.3 -1.2,3.5 -2.3,2.9 -3.4,1.6 -3.2,.2 -2.6,-1.2 -.8,-2.5 1,-3.2 2.3,-2.2 3.3,-1.4 2.8,.8 1.8,2.2 -.1,3.6 -1.9,3.7 -3.7,2.8 -4.5,1.1 -3.7,-1.2 -2.4,-3.1 .2,-4.2 1.9,-3.1 2.6,-2.1 3.1,-.1 2.2,2.4 .1,3.7 -2,4.2 -3.8,3.1 -3.4,.7 -3,-.9 -1.4,-2.3 .5,-3.6 2.3,-3.3 3.1,-1.7" fill="none" stroke="#f8a368" stroke-width="1.06" stroke-linejoin="round"/>
<path d="M1296.4,176.6 l -2.2,1.4 -2.1,.1 -1.4,-.9 -.4,-1.8 1,-2.5 2,-1.5 2.5,-.6 1.6,1.4 .2,2.5 -.9,2.8 -1.4,2.5 -2.6,1.1 -3.5,-.1 -1.8,-1.3 -.8,-1.7 .5,-1.5 1.6,-.9 1.9,.1 1.8,1.5 1.1,2.5 .2,2.6 -1,2.8 -1.7,2.1 -2.3,.6 -2,-.7 -.9,-1.3 .8,-1.6 1.3,-1.4 2,-.5 2.4,1 1.8,2.6 -.1,3.2 -2,3 -4.1,.8 -3.3,.2 -2.2,-1.3 -.7,-2.1 .4,-2.3 1.4,-1.5 1.9,-.2 1.7,1.1 .4,2.3 -.4,2.6 -1.7,2.7 -1.3,3.1 -2.7,.6 -2.8,-1.1 -1.8,-2.5 .3,-2.7 1.8,-1.9 3,-.3 2.8,1.4 1.5,2.8 .6,3.3 -1.6,3.8 -4,.4 -2.9,.6 -1.9,-.7 -.8,-1.3 .4,-1.9 1.7,-1.7 1.9,-1.1 1.5,.3 1.1,1.5 -.5,2.8 -1.6,3.1 -.9,3.2 -3.1,.3 -3.2,-1.1 -2,-2.6 -.5,-2.3 1.1,-2.2 2,-.7 1.9,.5 1.1,1.6 -.3,1.4" fill="none" stroke="#f8a368" stroke-width="0.98" stroke-linejoin="round"/>
<path d="M1241.2,192.6 l -1.4,-2.9 .8,-2.5 2.2,-1 3.2,.4 3,2.1 2,3.3 .1,3 -1.7,2.5 -2.5,1.1 -3.1,-.4 -2.3,-1.6 -1,-2.4 1.3,-2.8 3.2,-1.4 4.4,.4 3.6,1.8 2.3,3.2 .5,3.6 -1.6,2.7 -2.6,1.2 -3.7,-1 -2.4,-2.2 -.9,-3.7 .7,-3.1 2.7,-2.3 4.4,-.7 4.3,1.5 3.4,2.4 2.1,3.6 -.7,2.8 -2.6,1.4 -3.3,-.6 -3.1,-2.4 -1.6,-2.7 .4,-3 2.6,-2.6 4.5,-.9 4.3,1.4 3.3,3.1 1.1,3.7 -1.2,2.9 -2.5,1.6 -3.4,-.2 -2.5,-1.6 -1.1,-3.7 .2,-2.2 2.4,-1.2 3.5,.6 3.9,2.3 2.5,3.2 .8,3.8 -1,2.8 -2.3,1.5 -3.4,-.3 -3.5,-1.9 -2,-1.6 .2,-2.4 1.9,-1.7 4,-.3 3.8,1.7 3,3.5 1.3,4 -.5,3.9 -2,2.3 -3.7,0 -2.9,-1.9 -1.5,-3.2 0,-3 2.1,-2.7 3.1,-.9 4.2,.7 3.2,1.9 2.4,2.8 .7,2.9 -.9,1.6 -2,.5 -2.5,-1.3 -1.8,-2.1 -.2,-2.8 .7,-1.7 2.1,-1 3.4,.4 3.1,1.4 2.3,2.1 1,2.7 -.2,1.9 -1.9,.9 -2.2,-.1 -3,-1.6 -2.1,-1.2 .3,-2.4 1.6,-1.6 2.4,-.3 2.4,1.3 1.5,2.6" fill="none" stroke="#f8a368" stroke-width="1.06" stroke-linejoin="round"/>
<path d="M1241.5,189.8 l .6,-2.4 1.8,-1.4 2.6,-.2 2.5,1.4 1.4,2.3 -.1,2.4 -.7,1.6 -1.9,.7 -2,-.4 -1.4,-1.1 -.4,-1.9 1,-1.9 2.5,-1.2 3,-.2 3.2,1.6 2.2,2.9 .9,3.2 -.8,2.6 -1.9,1.1 -2.4,-.2 -2.1,-1.5 -1,-2.3 .8,-2.2 2,-1.4 3.4,0 2.7,1.2 2.4,2.3 .9,2.7 -.3,2.5 -1.6,1.4 -1.9,.6 -2,-.8 -1,-1.8 .3,-1.9 1.7,-1.5 2.4,0 2.8,1 2.5,1.9 1.4,2.5 .1,2.1 -.9,1.3 -1.5,.3 -2,-.6 -1.3,-1 -.1,-1.3 1.6,-1 2.5,-.2 2.7,.6 2,1.5 .9,1.9 .4,2 -.9,1.2 -1.3,-.1 -1,-1.2 -.6,-2 .4,-2 2.3,-2.2 3.2,-.8 3.4,.5 2.5,2 .8,2.3 -.2,2.5 -2,1.9 -2,.2 -1.9,-1.5 -.8,-2.4 1.3,-3.2 1.9,-1 2.9,-.1 2.9,1.3 2.1,1.7 1.1,2 0,1.5 -.7,1 -1.7,-.5 -1.3,-1.5 -1.3,-1.6 -.8,-1.2 .9,-1.4 1.9,-.8" fill="none" stroke="#f8a368" stroke-width="0.98" stroke-linejoin="round"/>
<path d="M1223.5,212.7 l 3.4,1 2.4,2.2 .8,2.9 -1.2,2.5 -2.9,1.6 -3.7,-.5 -2.3,-1.7 -1,-2.7 1.1,-2.9 2.7,-2 3.7,-2 3.5,.5 3.2,3 1.1,3.6 -.8,3.9 -2.4,2.4 -3,.4 -2.6,-1.8 -1.6,-3.6 .4,-3.7 2,-2.9 3.6,-1.7 3.3,2.3 3.3,2.4 1.6,2.9 .3,2.9 -1.6,2.5 -2.4,1.4 -3.3,-.2 -2.2,-1.9 -.6,-2.8 1.6,-2.9 3.2,-1.6 4.2,.1 4,2.1 2.2,3 0,2.4 -1.9,2.1 -2.2,.1 -2.7,-1 -1.9,-2.7 -.1,-2.9 2.2,-2.3 3.1,-1.3 4.1,.7 3.8,1.4 1.7,2.8 -.8,2.7 -2.6,1.4 -3.5,-.1 -2.7,-1.4 -1.3,-2 1,-2 2.7,-1.1 4.2,-1.3 3.9,1.2 2.7,2.7 1.2,3.6 -1.2,3 -2.8,1.8 -3.6,-.1 -2.6,-1.8 -1.4,-3.4 1.2,-3.6 3.4,-2.7 4.5,-.9 4,1.1 3.3,3 .8,4.6 -1.5,3.9 -3.2,2.1 -3.6,.1 -3.4,-2 -1.7,-3.7 1.1,-4 3.5,-2.7 4.3,1.4 3.9,1.4 3,2.7 1.1,3.3 -1.2,2.5 -3.1,1.4 -3.2,-.2 -2.6,-1.1 -1.4,-1.9 .6,-1.9 2.3,-1 4.5,-1.2 3.5,1.9 2.1,3.1 .6,3.7 -1.1,2.9 -2,2 -3,.5 -2.3,-.7 -1.5,-1.7 .2,-1.7 1.5,-1.5 3.1,-.5 3.2,1.4 2.6,2 1.8,3.1 -.3,2.9 -1.6,2 -2.6,.5 -2.6,-1.1 -1.5,-2.2 -.1,-3.1 1.4,-2.6 3.1,-1.7 4.3,-.2 4,1.4 2.8,2.9 .4,3 -1.7,1.6 -3,.2 -3.3,-1.3 -2.5,-2.9 -.5,-3 1.1,-3 3.2,-2 4.5,0 3.8,1.5 2.6,2.3 1,3.2 -1.3,2.8 -2.3,1.2 -3,-.2 -1.9,-1.1 -1.1,-1.9 .5,-2.1 2.5,-1.6 3.4,.3 3.6,1.1 2.8,1.8 .8,2.2 -.8,2 -2,1.2 -2.9,.1 -1.7,-.5 -.6,-1.3 .9,-2.1 2.8,-1.6 3.3,-2 3.4,.7 2.5,1.8 1.4,2.3 -.2,2.2 -1.7,1.9 -2.1,.6 -2.1,-.8 -.9,-2.4 .8,-3.1 2,-1.9 3.1,-1.4 3.2,.1 2.1,1.5 .5,2.1 -1.1,2 -1.9,1 -2.5,-.2 -1.6,-1.7 -.4,-2.5 .7,-2.3 2.4,-2.7 3.6,-1.3 3.1,0 2.2,1.7 .8,2.6 -1.8,2.6 -2.5,1 -3.3,-.1 -2.7,-2 -.4,-3 1.9,-3.3 3.6,-3.9 4.3,0 3.8,2.4 2,3.7 0,4 -2,3 -2.8,1 -3.3,-1.2 -2.1,-3.1 -.3,-3.5 1.5,-3.9 3.1,-.7 4.7,-.8 3.9,1.1 2.3,2.2 0,2.9 -2.3,2.7 -3.3,.8 -3.7,-1 -2.2,-2.6 -.5,-3.4 1.9,-3.7 4.4,-4.5 4.4,-.2 3.6,1.7 2.1,3.2 -.1,3.6 -2.1,2.6 -3,.6 -3,-.3 -2.1,-2.5 -.4,-3.1 1.7,-3.4 3.6,-.6 3.9,-.3 3.3,.9 2.6,2.3 .4,3.1 -1.6,2 -2.9,1.1 -3.2,-.6 -2.7,-2.2 -.3,-2.8 1.2,-2.7 3.6,-2.7 3.9,0 3.6,1.8 1.8,2.9 .3,3.2 -1.3,2.4 -3,1.1 -2.8,-.5 -2.2,-2 -.5,-2.7 1.4,-2" fill="none" stroke="#f8a368" stroke-width="1.06" stroke-linejoin="round"/>
<path d="M1227,221.4 l -2.5,.6 -2.3,-.8 -1.8,-2.1 -.6,-2.4 .8,-2.3 2,-1.3 3.1,-.2 3,1.4 1.8,2.2 .1,2.4 -1.3,2.2 -2.2,1.5 -2.6,-.7 -1.4,-2.2 .5,-2.2 1.9,-2.2 3.1,-1 3.9,.7 2.4,2.4 1.1,3.6 -.7,3.1 -2.1,2.5 -2.9,.7 -2.4,-.9 -.8,-2 1,-2.3 1.8,-1.7 2.8,-.1 2.7,.8 2.1,2.2 1,2.9 0,3.2 -1.4,2.6 -2.1,.9 -1.9,-.4 -1.1,-1.5 .2,-2.3 1.5,-2 2.7,-1.4 2.8,-.3 2.9,.9 1.3,1.3 .4,1.7 -.4,1.4 -.7,-.2 -1.2,-.8 -.7,-1.6 .2,-2.1 1.3,-1.6 2.8,-1.4 3.1,0 2.2,.8 1.8,1.6 .5,1.6 -.6,1 -1.1,.1 -1.5,-.5 -1.1,-1 -.3,-1.5 .9,-1.4 1.8,-.6 2.3,.2 2.4,1.1 1.6,1.8 .6,2 -.7,1.6 -1.4,.7 -1.5,-.2 -1,-1.3 -.2,-1.8 1.3,-1.3 2.3,-1.1 3.4,.1 2.8,1 1.7,1.3 .4,2.1 -1,1.7 -1.4,1 -1.9,-.3 -1,-1.2 -.3,-1.5 1,-1.2 2.4,-.9 2.4,.3 2.5,1.3 2.2,2.4 .4,2.4 -.8,2.1 -1.5,.8 -2,0 -1.1,-.9 -.4,-1.3 .9,-1 1.5,-.8 2.2,-.1 2.8,1.2 2,1.5 1.1,1.6 -.1,1.4 -1.3,2.2 -1.8,.8 -2.1,-1 -.9,-1.9 .5,-2.4 1.8,-2.4 2.8,-1.8 3.3,.1 2.7,1.6 1.5,2.8 .4,2.9 -.9,1.2 -1.7,.6 -2.5,-.1 -1.9,-.9 -.4,-1.8 .8,-1.7 2.4,-1.6 3.2,-.9 2.9,.2 2.2,1.1 1,1.6 -.1,2.1 -1.4,1.2 -2.2,.8 -2.2,0 -1.3,-1.1 0,-1.5 1.9,-1.7 2.7,-1.3 3.1,-.7 2.8,.1 1.6,1 .5,1.4 -.3,3.6 -2.1,1.4 -2.3,-.1 -1.9,-1.9 -1,-2.9 .4,-3.3 1.9,-2.9 3.7,-2.2 3.3,0 2.9,1.4 1.6,3.2 -.7,1.4 -2.4,1.5 -2.6,-.1 -1.4,-1.1 -.4,-1.6 1.5,-2.3 2.5,-1.5 3.6,-.7 2.6,.3 2.1,1.6 .7,2.1 -1.1,1.9 -1.3,1.2 -1.4,.6 -1.2,.1 0,-.3 1.3,-.6 2.3,-.3 2.7,.1 2.5,.7 1.5,1.2 .5,1.7 -.7,1.5 -1.1,.7 -1.8,-.1 -.7,-.5 .2,-1 1.7,-1 2,-.4 2,-.2 2,.6 1.8,1.1 .6,.8 .1,1.2 -1.4,.6 -1.9,-.2 -1.9,-1.4 -.9,-1.8 .5,-1.6 2.4,-1.7 3.8,-.5 3.2,.5 2.5,1.4 1.5,2.1 -.4,2 -1.9,4 -2.3,1 -3,-1 -1.8,-2.1 -.3,-3.7 1.3,-2.7 2.2,-1.8" fill="none" stroke="#f8a368" stroke-width="0.98" stroke-linejoin="round"/>
<path d="M1231.5,297.3 l 1.6,-3.2 2.5,-2.1 2.8,-.8 2.7,1.3 1.3,2.7 -.5,3.3 -1.7,2.5 -2.8,1.6 -2.3,-.4 -2,-2.5 -.5,-3.6 1.5,-3.3 2.6,-2.7 2.8,-1.4 2.5,.6 1.4,1.8 -.4,3 -1.5,2.3 -2.1,1.1 -2.1,-.1 -1.4,-1.7 .1,-2.6 2.1,-3.3 3,-2.2 3.5,-1.1 3,.6 1.1,1.9 -.8,2.7 -2.4,2.2 -3.6,1.1 -3.3,-1 -2,-2.8 -.3,-3.5 1.4,-4.2 3.2,-2.9 2.9,-.8 2.3,.4 1.1,1.6 -.7,2.5 -1.7,1.6 -2.9,1.2 -2.6,-.3 -1.5,-2 .5,-2.4 .6,-4 2.7,-2.8 3.8,-1.1 3.6,1.6 1.4,2.5 -.1,2.7 -2,2.4 -2.5,.8 -2.4,-.9 -1.7,-1.9 -.3,-3.8 1.4,-4.2 3.4,-2.5 3.7,-.1 3.8,1.9 1.8,3 .3,3.3 -1.7,2.7 -3.2,.8 -3.2,-1 -2.5,-3.1 -.3,-3.8 1.3,-3.1 3.8,-3.1 4,-.8 3.8,1 3.2,3.2 .6,4.9 -1.4,3.7 -2.8,1.8 -4.1,-.4 -2.3,-2.4 -.7,-3.7 1.8,-4.7 3.4,-2.4 3.8,-.8 3.5,.8 2.5,2.7 .8,2.7 -.4,2.4 -1.9,1.9 -2.2,0 -2.3,-1.5 -.7,-2.6 1.5,-2.2 2.4,-1.9 3.3,-1 3.2,.8 2.1,2.1 .8,2.5 -.7,2.2 -1.8,.9 -2.3,-.8 -1.7,-2 -.6,-2.7 -.9,-3.7 1.1,-3.5 3,-2.5 3.1,-.4 3.1,2.2 1,2.7 -.9,3.3 -2.8,2.3 -4,.2 -3,-2.4 -1.4,-3.5 2.9,-2.6 3,-2.4 4,-1.3 3.4,.3 1.4,1.9 -.4,2.2 -2,1.6 -2.4,.4 -2.4,-.5 -1.1,-1.8 .7,-2.5 1.2,-3.4 2.9,-2.2 3.1,-.3 2.6,.8 1.3,1.8 -.1,2.7 -1.4,2 -2.9,1.1 -2.6,-.7 -1.7,-2.7 .1,-3.5 2.6,-3.1 2.8,-1.8 3.2,-.6 2.4,1.1 1,1.9 -.5,1.8 -1.7,1.7 -2.6,.7 -2.1,-.8 -.9,-2 .6,-2 1.6,-3.9 3.7,-1.9 3.8,.2 2.7,1.9 1.7,3.8 -.7,3 -2.5,2.5 -3.4,.1 -3.1,-2.1 -1.2,-3.4 .2,-3.9 3.2,-1.5 3.2,-1.9 3.3,-1 2.4,.6 1,1.6 -.6,1.7 -2.2,2.3 -2.5,.7 -2.9,-.4 -1.6,-1.5 -.1,-2.8 .1,-5 2.6,-2" fill="none" stroke="#f8a368" stroke-width="1.06" stroke-linejoin="round"/>
<path d="M1241.1,296 l -.6,2.1 -2,1.7 -3,.6 -2.6,-.9 -1.3,-1.9 .1,-2.8 1.6,-2.4 2.2,-1.4 2.6,-.7 1.6,.5 .9,1.5 0,2.1 -1.9,1.3 -2.5,.3 -2.7,-1 -2.3,-3 0,-4 1.9,-3.2 3.4,-2 3.2,-.5 3,1.2 1.5,2.3 -1.2,2.5 -1.9,1.6 -2,-.2 -1.6,-1.1 -.5,-2.3 .9,-2.5 1.5,-2.1 2,-1.4 1.9,-.5 1.4,.5 1,1 -.6,1.9 -1.1,1.5 -1.1,.5 -.9,-.3 -.1,-1.2 1.1,-2.2 1.6,-2.1 2.7,-2.1 1.9,-.6 1.6,.3 .5,1.7 -.7,1.4 -1.6,1.2 -2.4,.3 -1.8,-1.1 -.6,-1.9 1,-2.1 2.5,-2.5 2.5,-1.4 3.2,-.6 2.2,.5 1.1,1.7 .8,2.8 -1.3,1.5 -1.8,.3 -2.1,-.7 -1.4,-1.9 .2,-2.6 1.4,-2.6 2.8,-2 2.9,-.7 2.6,1 1.7,1.9 .9,2.5 -.8,2 -2.1,.8 -2.5,-.9 -2.2,-3 -.3,-3.4 1.1,-3.2 2.3,-2.5 3.6,-.9 3.5,.8 2.3,2.7 -1.2,1.3 -2,1.8 -2.4,.6 -2,-.7 -1,-2 .3,-2.6 2,-2.9 2.4,-1.9 2.2,-.7 1.8,.2 1.1,1.1 -.1,1.8 -1.7,1.3 -1.8,1.1 -2.2,-.6 -1.4,-1.8 .3,-2.9 1.7,-2.8 2.4,-1.5 2.6,-.6 3.2,.7 1.6,2.4 0,2.6 -1.4,2 -1.9,.9 -1.9,-.7 -.8,-2.3 .6,-2.5 2.3,-2.5 3.2,-1.5 3.2,.2 3.2,1.4 1.2,2.2 -.9,.8 -1.7,1.2 -1.7,.3 -1.7,-.9 -.6,-1.6 .6,-2.4 1.5,-2.4 2.2,-1.6 2.5,-.7 1.9,.7 .5,1.4 .1,2 -1,1.5 -1.8,.5 -1.2,-.8 -.2,-1.5 .9,-2.2 2.4,-1.7 2.5,-.9 2.8,0 1.7,1 .8,2.1 -.2,2.6 -1.7,1.1 -2.5,-.4 -1.7,-2 -.6,-2.8 .5,-2.7 1.8,-2 2.2,-.7 2.1,.5 1.3,1.6 .6,2.5" fill="none" stroke="#f8a368" stroke-width="0.98" stroke-linejoin="round"/>
<path d="M1299,222.8 l -2.8,-1.6 -1.7,-3 .1,-2.8 2.1,-2.7 3.1,-.9 3.7,.9 2.6,2.2 .9,2.7 -.5,2.1 -2,1.7 -3.9,1.7 -2.6,-1.6 -1.3,-3.9 1.4,-4.6 3.8,-3.8 5.2,-1.8 5,1.1 2.9,3.9 0,4.9 -2.4,4.8 -4.1,3 -3.5,-.8 -3.4,-2.3 -1.1,-3.7 1.5,-3.1 3.5,-1.8 4.3,.3 3.6,2.1 2.9,4.4 -.1,4 -2.3,3.7 -3.4,1.6 -3.2,-1.9 -2.6,-2.3 -.9,-2.9 1.4,-2.9 3.1,-.8 3.9,1.2 2.6,2.4 1.6,3.8 -.3,3.8 -2,1.7 -2.5,0 -1.7,-2.2 -1,-2.8 .6,-2.6 2.4,-1.5 3.1,0 2.9,.8 2.3,1.9 1.2,2.5 .1,1.7 -.9,.3 -1.3,-.4 -2.3,-.2 -.5,-2.5 .4,-2 1.1,-1.7 2.2,-.8 2.4,.9 2.3,2 1.4,3.2 -.4,3.2 -2.2,2.8 -2.6,1.4 -1.6,-1 -2.1,-1.4 -1.1,-2.8 .8,-2.1 2.5,-1.3 2.8,.5 3.4,2.6 1.9,3.7 -.2,3.5 -1.9,2.2 -3.2,.6" fill="none" stroke="#f8a368" stroke-width="1.06" stroke-linejoin="round"/>
<path d="M1300,213.9 l 2.4,1.1 1.8,2 .5,1.8 -.8,1.6 -2.2,.8 -2.8,-.5 -1.7,-1 -.7,-1.3 .4,-1.6 2.4,-1.2 3,-.5 2.7,1.2 1.8,1.9 .5,2.1 -.7,2.3 -1.6,1.3 -1.7,0 -.8,-1.1 -.3,-1.6 .6,-1.6 2,-1.4 2.7,-.1 2.7,1.3 1.5,2.2 0,1.9 -.5,1.8 -.9,.7 -1.5,-.1 -.8,-1.1 .5,-1.7 1.6,-1.4 2.3,-.9 2.1,.7 2.2,1.8 1,2.1 0,2.6 -1.2,1.5 -1.9,.4 -1.7,-.8 -1,-1.2 0,-1.7 1.4,-1 2.2,.1 3.2,.6 1.7,2.2 .4,2.4 -.9,2.9 -1.9,2.1 -2.1,.7 -1.6,-.6 -.5,-1.8 .8,-2.4 2.1,-1.8 2.6,-.9 2.1,1.6 2.5,2 1,2.4 -.6,1.9 -1.6,.9 -2.2,-.5 -1.5,-1.5" fill="none" stroke="#f8a368" stroke-width="0.98" stroke-linejoin="round"/></g>
<g opacity="0.95"><path d="M1419.3,330.8 l 3.4,-.7 4,1.7 2.7,3.3 .8,3.9 -1.1,2.5 -2.7,1.2 -3.3,-.7 -2.4,-2.6 -.9,-3.4 1.5,-3.6 3.7,-2 4.2,0 3.9,2.3 2.1,4 -.1,4.2 -2.4,3.2 -3.3,1.1 -3.1,-1.1 -2.1,-2.4 -.2,-3.1 1.7,-2.4 2.4,-1.2 3.6,.7 3.3,3 1.9,3.8 -.1,3.3 -1.5,2.2 -2.2,.7 -3,-1 -2.2,-2.3 -.8,-2.9 .8,-2.6 2.3,-1.9 3.8,.9 3.1,2.5 2.8,4 1.2,4.9 -.9,2.9 -2.5,.8 -2.8,-1.2 -2.6,-3.2 -1.4,-4.5 1.2,-3.6 3.5,-.9 5.5,1.9 2.7,3.2 1.1,4 -1,4.8 -3.5,3.4 -4.8,1.6 -3.5,-1.4 -2,-3.6 .9,-2.8 3.2,-1.9 3.6,-.3 3,2.7 1.2,4.4 -1.3,5.7 -2.9,3.3 -4,1.2 -3.5,-1.3 -1.3,-3.6 .6,-4 2.6,-3.7 3.4,-1.1 2.9,1.3 2.1,4.4 -.4,5 -2.4,3.8 -4.3,2.5 -4.2,0 -4.1,-2.6 -1.4,-3.4 1.2,-3.6 3.2,-2.1 4.4,.5 3.9,2 1.9,3.4 -.3,4.7 -3.2,4.9 -4.4,2.5 -5,-.3 -3.5,-2.8 -.9,-4.1 1.6,-4.2 4.2,-2.9 4.7,0 3.5,2.9 1.5,4.9 -1.2,4.6 -3.8,3.7 -4.6,1.3 -4.3,-1 -4.5,-3.8 -1.4,-3.8 .9,-4.8 3.5,-3.1 4.4,-.4 2.8,2 .4,3.7 -1.7,3.3 -3.1,3.2 -4.7,2.3 -4.5,-.1 -3.5,-2.2 -1.7,-3.4 .4,-3.4 2.4,-2.8 2.5,-.6 2.9,.8 3.1,3.3 1,4.4 -1.8,4.8 -4.7,3.2 -4.7,.7 -4.6,-2.3 -2.3,-4.1 .9,-4.5 3.7,-2.8 5.6,-.1 4.3,2.9 2.6,4.3 .3,4.8 -2,3.8 -4.5,2.7 -4.2,.1 -3.9,-2.2 -2.2,-3.9 .2,-3.3 2.7,-2.8 3.9,-.4 3.4,1.5 1.2,2.4 -.2,3.7 -1.6,3.7 -2.8,3.2 -3.4,1.5 -2.3,-1 -1.1,-2.8 .6,-3.1 2,-2.7 2.8,-1.4 2.5,.6 2.1,2.6 .2,4.1 -1.5,3.9 -2.1,2.7 -3,1.6 -2.7,-.5 -1.9,-2 0,-3.1 1.1,-2.8 2.6,-1.7 2.7,.1 2.5,2.6 .9,4.5 -1.3,4.8 -3.4,3.5 -4.4,1.3 -3.6,-1.1 -2,-3.5 .7,-4.2 2.9,-2.8 4.3,-1.2 4.3,1.6 1.6,3.2 .3,4.5 -1.1,4.1 -2,3.5 -1.8,1.3 -1.8,-.8 -.6,-1.9 .5,-2.7 1.8,-2.8 2.2,-1.3 2.6,.2 1.9,2.3 .6,3.1 -.5,3.6 -1.7,3.7 -2.4,1.8 -2,-.4 -1.4,-2.5 .2,-3.2 1,-2.7 2.3,-1.8 2.6,.1 2.5,2 1.4,3.4 -.3,4.2 -2.4,3.7 -3.7,1.8 -4.1,.2 -3.3,-1.6 -1.9,-3.7 .6,-3.2 2.8,-2.5 4.1,-.4 2.6,1.9 1.7,3.1 .4,4.3 -1.4,4.1 -2.3,2.4 -2.8,.5 -2.5,-1.1 -1.8,-2.7 .1,-3.4 2.1,-3 3.6,-1 3.8,1.3 3.1,3.8 .7,4.9 -1.8,4.1 -3.7,2.3 -3.9,-.2 -3.5,-2.8 -1.3,-4.7 .5,-4.5 2.8,-3.3" fill="none" stroke="#2cc2f2" stroke-width="1.25" stroke-linejoin="round"/>
<path d="M1418.3,337 l 0,-2.6 1.6,-1.9 2.2,0 2.4,1.7 1.5,3.1 0,3.1 -1.5,2.7 -2.2,1.2 -2.4,.2 -2.6,-1.4 -1.6,-1.3 .3,-1.5 2,-1.3 3.6,-.1 2.9,1.7 1.8,2.7 .8,3.9 -1.2,3 -2.5,1.3 -2.7,-.2 -2,-1.9 -1.3,-2.5 1.1,-2.9 2.4,-1.4 3.8,-.4 3.7,1.4 2.5,2.9 .4,4.1 -2.2,4 -3.7,1.7 -3.9,-.4 -2,-2 .6,-4.1 1.8,-2.5 3.4,-.8 3,1.4 1.9,2.8 .8,3.2 -.6,3.1 -2,1.6 -2.2,0 -1.9,-2.3 -.2,-2.5 1.1,-3.4 3.6,-1.2 2.5,1.1 2.5,2.7 .4,3.7 -1.5,3.4 -2.7,2 -3.7,-.7 -2.1,-1.8 -.8,-3.6 1.7,-3 3.2,-1.2 2.6,.7 1.7,1.8 .7,4 -1,3.2 -2.5,2.4 -2.8,.8 -3.5,-.8 -1.5,-1.8 -.2,-2.8 1.6,-1.9 1.7,-1 2.6,1.2 1.7,2.6 .6,2.7 -1.2,3.1 -3.2,2.3 -3.2,.2 -3.3,-1.1 -2.2,-2 -.4,-2.5 1.7,-2.4 3,.2 2.5,1.1 1.9,2.5 .2,3.4 -.7,3.1 -1.9,2.7 -2.7,1.6 -2.1,.2 -1.5,-.9 -.6,-1.6 .4,-1.7 1.1,-2.1 2.1,-.5 2.7,1.5 1.8,2.8 .4,4.2 -1.2,3.7 -2.5,2.3 -3.7,.8 -3.3,-1.4 -1.3,-2.7 .8,-3.3 2.4,-2.3 4.3,0 3.6,2.2 1.9,4.1 -.2,4 -2.5,3.6 -4.1,1.5 -3.6,-.6 -3.1,-2.1 -1.2,-3.9 .9,-3.1 3.9,-.8 2.7,.4 1.8,2.3 .1,4.1 -1.9,4.3 -3.3,2.8 -3,.9 -2.4,-1 -1,-2 .3,-2.4 1.4,-2.2 1.3,-1.5 2.2,1 2,2.6 .2,2.9 -.6,2.5 -1.9,2.6 -2.7,1.5 -2.1,-.1 -1.7,-1 -.4,-1.8 1,-1.5 .9,-1.5 2.6,0 2.6,1.4 2.4,3.3 .2,4 -2.2,3.5 -3.9,1.9 -3.7,-.5 -3.1,-2.1 -1.5,-3.3 .6,-3.1 3.1,-1.7 2.7,-.3 2.8,1.1 1.4,2.4 .5,3.7 -1.3,3.2 -3.1,2.7 -3.1,.8 -3.1,-.7 -2.3,-1.9 -.3,-2.5 1.7,-2.4 2.8,-.9 3.5,.8 2.6,2.5 1.2,3.4 -.5,3.6 -2.1,2.6 -3.3,1.6 -2.8,-.3 -2.2,-2.3 -.1,-2.5 1.3,-2.5 2.9,-1 3.3,.7 2.6,2.2 1.2,2.7 -.1,3.3 -1.6,2.7 -2.9,1.6 -3.3,.1 -2.4,-1.3 -1,-2.5 1,-2.1 1,-1.5 2.3,-.1 2.2,1.4 .9,2.7 -.6,3.9 -2.4,3 -2.8,1.2" fill="none" stroke="#2cc2f2" stroke-width="1.15" stroke-linejoin="round"/>
<path d="M1435.1,398.4 l -3.7,.3 -3.6,-1.4 -2,-3.2 .6,-3.6 3.2,-2.9 4.3,-1.1 4,.5 2.6,2.4 .4,3.2 -2.1,3 -2.4,3.8 -4.2,-1 -3.3,-4.3 -.8,-5.4 2.2,-5.3 4.3,-2.9 5.1,.1 4.9,3.2 2.8,5.5 -.6,5.4 -3.1,3.9 -5.4,-1.9 -2.8,-1.5 -.5,-2.5 1.3,-2.9 2.9,-2.4 4.4,-.9 3.5,.6 2.7,2.2 1,2.7 -.4,2.8 -1.8,2.3 -2.5,1.8 -2.4,-.6 -1.1,-2.4 .4,-3.7 2.2,-2.9 3.7,-1.6 3.8,.2 2.6,1.9 .9,3.1 -.8,2.2 -2.2,1.7 -3.3,.7 -2.4,-2.3 -1.3,-3.7 .9,-4.2 2.5,-2.8 3.5,-.9 3.5,1.1 2.2,2.4 .5,3.1 -1.2,2.1 -2,1.2 -3.8,-.3 -2.7,-2.7 -.9,-4.2 1.7,-4.5 4.4,-3.2 4.7,-.6 4.7,2.2 2.5,3.3 .2,4.4 -2.3,3.4 -4.2,-.4 -3.7,-1.1 -2.8,-2.8 -.3,-3.7 1.6,-3.1 3.1,-2.6 3.3,-1.1 3.5,.3 2.3,1.5 .7,2.1 -.8,2.3 -2.5,1.5 -2.7,0 -2.2,-1.8 -.8,-2.6 .9,-2.4 2.7,-2.1 3.9,-.6 3.1,1 2.5,2.3 .8,2.5 -1.1,2.7 -2.9,.8 -3.3,-.1 -2.2,-1.4 -.6,-2.2 1.1,-2.8 2.9,-2.1 5.1,-1.2 4.3,.7 2.9,2 1.1,3.3 -1.3,2.7 -2.7,1.5 -3.6,2.8 -3.6,-2 -1.8,-3.9 .5,-4.9 3,-4 5.1,-1.6 5.1,1.4 3.1,2.9 1.5,4.9 -1.5,4 -3.6,2.9 -4.2,-1.9 -3.2,-1.6 -1.5,-2.7 1.4,-3.3 3.5,-2.3 5.2,-.6 5,1.6 3.3,3.3 .4,4 -2.1,2.8 -3.3,1.3 -4.4,1 -2.8,-2.8 -.9,-3.8 1.2,-4.1 3.3,-3.2 5.2,-1.2 4.4,1.7 2.9,4 .1,4.7 -2.1,3.4 -4.3,.9 -3.4,-1.6 -2.3,-4.1 .2,-4.6 2.3,-4.3 4,-2.5 4.9,-.6 3.9,2 2.1,4.5 -.8,4.4 -3,2.8 -4.2,-2.2 -3.8,-1.1 -1.4,-1.8 .5,-2.4 2,-2 3.7,-1.7 4.2,-.4 3.5,.6 3,2.4 -.3,2.8 -2.6,2.8 -3.1,2.6 -3.3,-.2 -2.5,-2.2 -.1,-3.3 1.5,-3 3.1,-2.6 3.9,-1.2 3,.3 2,1.4 .5,3 -1.5,2.6 -2.7,1.3 -2.9,-.1 -1.9,-1.5 -.8,-2.6 .9,-2.8 2.7,-2.5 4,-1.6 3.4,.5 3,1.9 .8,2.7 -1.1,2.9 -2.5,2.8 -3,.4 -2.3,-1.4 -.4,-2.8 1.1,-2.5 2.5,-2.1 3,-.7 3.7,.7 2.8,2.1 1.3,2.9 -.4,2.8 -1.2,3.4 -2.8,1.1 -3.1,-1.4 -1.8,-3.5 .3,-4.1 2.1,-3.2 3.1,-1.5 3.8,.6 2.7,2 1.3,3.7" fill="none" stroke="#2cc2f2" stroke-width="1.25" stroke-linejoin="round"/>
<path d="M1438.3,392.4 l -1,2.2 -2.4,1.7 -3.3,.5 -2.5,-.9 -1.6,-1.9 .2,-2.5 1.9,-2.2 3.4,-1.3 3.2,0 3.1,1.3 1.4,2.6 -.5,2.3 -1.7,1 -2.3,.1 -1.7,-.7 -.4,-1.6 .8,-1.8 1.9,-1.5 2.7,-.9 3.1,.1 2.3,1.2 1.8,2.3 0,3.1 -1.3,2.2 -2,1.1 -2.2,-.3 -1.4,-2.3 .1,-3.2 2.1,-3.2 3.5,-1.8 3.8,-.2 4,1.9 2.1,3.3 -.3,4 -1.9,2.4 -3.2,.7 -2.8,-1.4 -2.1,-3.5 .2,-3.7 2.2,-3.4 3.5,-1.8 3.6,.4 3,2.5 1.2,3.1 -.4,3.2 -1.8,2.3 -2.6,0 -2.5,-1.4 -1.6,-3.5 .3,-3.9 2,-3.9 3.5,-2 4.2,.3 2.9,2.1 1.4,3 -.6,3.4 -1.9,2 -2.5,.5 -2.8,-1.6 -1.6,-3.4 .4,-3.3 2.4,-2.7 2.9,-1.4 3,.3 2.9,2.1 1.4,3.5 0,1.9 -1.5,2.1 -2.3,1.2 -2.5,.4 -1.7,-1.6 .5,-2.7 2.1,-2.3 3.7,-1.7 3.8,-.3 3.2,.8 1.9,2.1 -.1,2.3 -2.4,2 -2.6,.3 -2.7,-1.1 -1.3,-2.3 .8,-2.7 2.3,-2 3.5,-1 3.9,.5 2.8,2 1.1,2.8 -.5,2.4 -2,1.8 -2.4,.7 -3.2,-1.4 -1,-2.7 .9,-3.5 2.4,-2.4 4.3,-1.3 4.4,.3 2.7,1.6 .8,1.8 -1.2,1.8 -2.5,.5 -2.5,-.9 -1.7,-2.1 -.9,-2.8 .7,-2.8 2.4,-2.2 3.4,-.7 3.1,.4 2.4,1.3 1.4,2 -.4,1.9 -1.7,1.4 -2.5,-.1 -1.9,-1 -1,-1.8 .5,-2.4 2.5,-2.2 3,-.9 3,.5 2.3,1.4 1.8,2.9 -.5,2.8 -1.8,2 -2.1,.9 -1.3,-.1 -.6,-1.3 .8,-1.2 2.3,-1.1 2.4,-.2 2.5,.3 2.6,1.2 1.7,2 1.4,3.1 -1,2.9 -2.2,1.3 -2.6,-.9 -1.2,-2.6 .2,-3.5 2.1,-3.4 3.5,-1.8 3.8,-.1 2.9,1.6 2.5,2.8 -.7,1.9 -1.9,1.8 -2.1,.4 -2,-.7 -.8,-1.7 .5,-2.2 1.3,-2 2.3,-2.3 3.1,-1.2 2.8,.2 1.5,1.1 .9,1.6 -1.1,1.9 -2.1,1.4 -2.5,.5 -2.3,-1 -.8,-1.5 .9,-2.9 2.7,-2.4 3.7,-1 3.1,.5" fill="none" stroke="#2cc2f2" stroke-width="1.15" stroke-linejoin="round"/>
<path d="M1421.1,440.2 l -3.3,-1.1 -1.8,-3 .1,-4.4 2.1,-3.4 3.5,-1.9 3.8,0 3.3,2.4 1.3,4.7 -.9,4.6 -2.5,3.1 -3.4,.9 -2.5,-1 -1.2,-2.5 0,-3.2 1.3,-2.6 2.3,-1.6 2.1,.5 1.7,2.2 .4,4.1 -.9,4.2 -2.1,2.9 -2.9,1 -3.3,-.9 -1.9,-2.7 -.3,-3.6 1.7,-2.8 2.9,-1.2 3.8,1.1 3.1,3.5 .9,3.8 -.7,4.1 -3.1,3.7 -3.6,1.4 -2.4,-.7 -1.5,-2.2 -.1,-3.1 1.7,-3.5 2.9,-1.9 3.3,.3 2.7,2.9 1.4,4.6 -.6,5.1 -1.7,3.3 -2.9,2 -2.4,-1 -1.5,-2.9 -.3,-3.4 1.4,-2.6 2.4,-.9 1.9,.6 1.6,2.4 .3,4.2 -1,3.5 -1.9,2.6 -2.3,1.2 -2.5,-.1 -1.9,-1.9 0,-3.4 2,-3.4 2.5,-1.5 2.5,1 1.4,3.1 -.3,4.7 -2,5 -3.4,3.3 -3,.5 -3.2,-2.3 -.9,-3.9 1.3,-3.2 2.8,-2.2 3.8,-.1 3,1.3 2.1,3.3 -.4,4.5 -2.9,4.1 -3.6,1.9 -4.6,.6 -3.6,-1.8 -1.9,-3.1 -.1,-4.1 1.5,-3.5 3.3,-1.9 2.7,.6 2.1,2.7 .3,4.6 -1.5,4.4 -4,4.7 -4.8,2.1 -3.8,-1.3 -2.4,-3.2 -.5,-4.2 1.6,-3.7 3.2,-2 3.9,.5 2.8,2.2 1.9,3.9 .1,4 -2.2,4.2 -3,2.1 -3.1,.4 -3.4,-1.9 -1.4,-3 .6,-3.2 3,-2.5 3.9,-.4 3.5,1.9 2.6,4.1 .4,4.2 -2,3.8 -3,2.2 -3.8,.6 -3.4,-1.3 -2.1,-2.7 -.4,-3.8 1.8,-3.5 3.6,-1.2 3.3,1.3 2.3,3.2 .4,4.4 -1.7,4.1 -3,2.6 -4.3,1 -4,-1.5 -2.6,-2.7 -.5,-3.8 2.1,-3.7 4,-1.6 4.3,1 3.3,2.8 1.8,4.6 -.9,5.1 -3.3,3.4 -4.2,1.1 -4.7,-1.1 -2.8,-3 -.9,-3.9 1.7,-3.9 4.3,-2.4 5,.7 3.9,3.7 1.7,5.4 -1.1,5.1 -3.4,4.1 -4.7,1.8 -4.2,-1.1 -2.8,-3.2 -1,-4.3 1.6,-3.9 4.9,-2.6 5.6,.5 4.5,3.9 1.9,4.8 -.5,5 -3.3,4.4 -5.2,1.8 -4.6,-.5 -2.9,-3.1 -.5,-3.7 1.7,-4.4 3.2,-2.5 3.9,.1 2.5,2.4 1.4,4.8 -1.5,5.1 -3.2,3.8 -4.4,1.8 -3.7,-.9 -2.6,-2.6 -.7,-3.3 .9,-3.4 2.1,-1.7 3.1,-.3 2.7,1.3 2,3.2 0,3.7 -1.6,3.5 -2.7,2 -3.2,.7 -2.5,-1.2 -1.1,-2.2 .5,-3.3 1.9,-2.9 2.4,-1.3 2.4,.8 1.6,2.4 .1,4 -2.2,4.8 -2.9,2.7 -3.3,.9 -4.2,-1.9 -2.2,-3 -.3,-3.2 1.4,-2.1 2.9,-.9 3.4,.9 2.4,2.8 .8,3.6 -1.2,3.3 -3,2.4 -4.3,.8 -2,-.5 -1,-2.5 .7,-3.3 2.5,-2.8 3.3,-1.3 2.8,.8 2,2.8 0,4.5 -1.6,4.3 -3.4,2.7" fill="none" stroke="#2cc2f2" stroke-width="1.25" stroke-linejoin="round"/>
<path d="M1421.9,438.3 l -2.3,0 -2,-1.4 -1,-2.7 .5,-3.3 1.8,-2.3 2.3,-.5 2.5,1.1 2,2.8 .8,3.5 -.6,3.4 -1.9,2.6 -2.2,1.2 -3.3,-.7 -2.2,-2.3 0,-2.6 1.7,-1.9 2.9,-1 3.6,.9 2.6,2.3 1.5,2.9 -.5,3.6 -2.2,3.3 -3.3,1.3 -2,-.3 -1,-1.7 0,-2.5 .9,-1.7 1.5,-.3 1.6,1 .9,2.3 -.1,3.2 -1.2,2.8 -2,2 -2.5,1.3 -2.4,-.6 -1.5,-2.2 .7,-2.5 1.9,-1.6 3,-.5 3.2,1.4 1.9,3 .2,3.5 -1.8,3.7 -3.3,2.1 -3.7,.2 -3.9,-1.5 -2.6,-2.5 -.7,-3 1,-2.1 2.9,-1 3.3,1.4 1.9,3.2 .1,3.8 -1.9,3.2 -3.5,2.3 -4.3,.1 -1.7,-1.2 -.7,-2.5 .6,-2.3 1.8,-1.7 2.5,-.5 2.3,1.1 1.2,3 -.2,3.9 -1.4,3.4 -1.6,2 -2.4,.9 -1.9,-1 -1.1,-2.9 .8,-2.6 2.2,-1.8 2.9,-.6 3.1,1.6 1.5,2.9 .1,3.7 -1.9,3.9 -2.6,2.2 -2.7,.5 -2.2,-1.2 -1,-2.4 1,-2.6 2.3,-1.7 2.3,.4 2.1,1.5 1.1,3.2 -.3,3 -1.3,2.7 -2.1,1.9 -2.6,1 -2.5,-1.1 -1.1,-2.7 1.4,-3.2 2.4,-1.6 3.6,0 3.2,2.7 1.4,3.9 -.5,3.9 -1.9,3.4 -3.6,2.1 -3.7,-.6 -2.9,-2.1 -1.1,-3.1 1,-2.3 2.5,-1.6 2.7,0 2.3,2.1 1.3,3.3 -.5,3.4 -1.8,2.9 -3,1.8 -3.2,.7 -2.3,-1.3 -.9,-2.6 .7,-2.5 1.7,-1.9 2.9,-.5 2.8,1.9 1.8,3.9 .1,4.1 -1.5,4.1 -2.8,2.8 -2.3,-.2 -2.1,-2 -.4,-2.4 1.3,-2.3 2.9,-1.1 2.4,.5 1.6,1.8 .7,2.4 -.3,3 -1.3,3.1 -2.1,1.9 -2.6,.2 -2,-1.1 -1.3,-1.8 .2,-2.3 1.6,-1.1 2,.3 2,1.3 1.4,2.5 .1,2.7 -1.1,2.7 -1.8,1.5 -2.5,.6 -1.5,-.3 -.6,-1.2 .4,-1.9 .7,-2.1 1.3,-.8 1.6,.2 1.3,1.8 -.1,3.2 -.7,2.9 -1.7,3 -1.8,2.1 -3.3,-.3 -1.8,-2.3 0,-2.6 1.6,-1.8 2.9,-1.2 2.5,1.2 1.9,2.6 .4,4 -1.4,3.6 -2.4,2.2 -3.4,.8 -2.5,-1.3 -1.1,-2.1 .3,-2.4 1.3,-2.1 1.9,-1.2 1.9,.5 1.3,1.8 .1,2.3" fill="none" stroke="#2cc2f2" stroke-width="1.15" stroke-linejoin="round"/>
<path d="M1451.2,424.6 l 2.5,2.6 1.1,4 -.6,4.2 -2.6,2.8 -3.6,.2 -2.9,-2 -1.7,-3.5 .5,-3.6 1.9,-2.8 3.5,-1.1 4.5,1.1 3.7,3.1 1.8,3.7 -.1,4.5 -1.9,2.7 -3.3,.6 -3.2,-1.3 -2.3,-3.5 -.1,-4.8 2.2,-3 3.9,-1.7 4.6,1.3 3.2,3.3 1.5,4.1 -.2,3.8 -2.2,2.7 -2.2,.5 -3.1,-1 -2,-2.5 -.6,-2.7 .9,-3 1.8,-1 2.3,.8 1.9,2.6 .4,3.4 -1.3,3.4" fill="none" stroke="#2cc2f2" stroke-width="1.25" stroke-linejoin="round"/>
<path d="M1454.1,429.3 l .5,3.1 -.9,2.5 -1.8,1.2 -2.4,0 -2.1,-1.6 -1.5,-3 .3,-2.5 1.6,-1.7 2.8,-.2 2.8,1.1 2.4,2.2 2.5,2.5 -.2,2.8 -2,2.5 -2.1,.8 -2,-.5 -1,-1.9 .7,-2.2 2,-1.9 3,-1.1 3.4,.8 2.5,1.9 1.5,3 .2,3.1 -1.7,2.2 -2.7,1.1 -3.6,-.7 -2.7,-2.4" fill="none" stroke="#2cc2f2" stroke-width="1.15" stroke-linejoin="round"/>
<path d="M1483.3,422.5 l -3.3,.6 -2.9,-1.6 -2,-3.2 -.4,-4.4 1.4,-3.5 2.8,-1.7 2.7,.9 1.8,2.6 .9,3.8 -1.1,3.9 -2.6,3.5 -4,1.8 -3.3,-.8 -2.2,-2.9 -.6,-3.7 1.1,-3.7 3.1,-1.9 3.5,.7 2.8,2.6 1.3,4.2 -.6,4.8 -2.5,3.9 -3.8,2.2 -3.9,-.5 -3.2,-3.2 -.7,-4.4 1.9,-4.3 3.4,-2.2 4.3,.6 3.5,3.8 1.2,5.6 -1.4,4.7 -3.5,3.7 -4.6,.8 -2.6,-1.6 -1.1,-2.8 .3,-4.1 2.1,-3.2 3.3,-1.3 2.8,.6 2,2.3 .9,3.6 -.2,3.8 -2.1,3.7 -2.6,2 -3.5,0 -2.3,-2.2 -.9,-3.4 1,-3.9 2.3,-2.5 2.9,-.4 2.7,2.5 1,4.8 -1.4,5.3 -2.7,3.5 -3,1.6 -3.8,-1.4 -1.6,-2.7 .2,-4.2 2.3,-3.6 4.1,-1.9 3.9,.6 3.7,3.8 1.1,4.6 -1,5.3 -2.5,4 -3.6,1 -2.3,-.9 -.5,-2.6 1.2,-3 2.2,-2.4 2.3,-.8 2.3,.9 1.5,2.6 0,3.1 -1.1,3.6 -2.3,2.8 -2.4,1.4 -3.4,-1.3 -1.2,-2.6 .4,-3 2.9,-2.5 3.9,-.1 3.6,1.7 3.1,3.7 .8,4.5 -1.9,4 -4.2,3 -5,-.3 -2,-1.4 -.3,-2.4 .9,-2.8 2.2,-3 2.7,-1.5 1.9,.6 1.4,3.2 -.6,4.1 -2.2,4.2 -3.1,2.6 -3.1,.7 -3.3,-2.2 -1.9,-3.9 .4,-3.6 3.2,-3 4.6,.1 4.2,2.6 1.7,4.5 -.9,5.3 -4.1,4.3 -5.6,1.3 -4.4,-1.2 -3.2,-3.3 -.6,-4.7 2.2,-3.8 4,-1.6 4.3,.7 3.7,3.2 1.5,4.9 -.7,5 -3.8,4.5 -4.2,1.7 -4.2,-1.4 -1.4,-2.5 .1,-3.5 1.5,-3.2 2.6,-2 2.3,0 2,1.9 .3,2.8 -1.5,3.8 -2.6,2.9 -2.9,1.7 -3.8,-.4 -2.2,-1.9 -.9,-2.8 .4,-2.6 2.1,-2.4 2.5,-.7 2.6,1.6 1.4,3.3 -.2,3.9 -2.1,4.2 -2.5,2.5 -2.9,.5 -2,-1.2 -.7,-3 1.1,-2.8 2.3,-2 3.7,-.5 3.2,1.5 2.5,2.5 .7,3.7 -1.6,3.9 -3.8,2.9 -4.3,1.1 -4.3,-1.3 -2.6,-2.8 -.5,-3.9 2.2,-3.5 4,-1.5 4.8,1.2 3.4,3 1.7,5 -1.5,5.5 -4.7,3.4 -4.4,.3 -2.9,-1.6 -1.7,-3.5 .5,-3.6 2.3,-2.7 2.9,-.5 3.2,.9 2.3,2.6 .6,4.1 -1.1,3.7 -1.6,2.5 -3.5,1.5 -3.5,-.5 -2.7,-1.9 -.6,-3.2 1.5,-2.9 2.9,-1.5 4.3,.1 3.7,2.1 1.8,3.4 0,3.7 -1.6,3 -3.5,2 -2.9,-.3 -2.6,-1.6 -1.1,-2.3 .4,-2.5 1.5,-1.5 2.8,-.2 2.6,1.1 2.3,2.7 .7,3.8 -.9,2.8 -2,2.5 -2.9,.6 -2.8,-.9 -2.1,-2.9 -.4,-3.2 1.7,-2.3 2.8,-.8 3.3,1.7 1.9,4 0,4.8 -2.3,4.3 -3.9,2.3 -3.1,-.6 -2.9,-2.4 -2.1,-3.6 -.5,-3.5 1.2,-2.7 2.5,-1.2 2.6,1" fill="none" stroke="#2cc2f2" stroke-width="1.25" stroke-linejoin="round"/>
<path d="M1477.2,419.4 l -1,-2.5 -.1,-2.8 1.2,-2.6 2.2,-1.2 2.2,.9 .8,2 -.5,3.6 -1.8,3.6 -2.9,2.3 -2.6,.4 -2.9,-1.6 -1.4,-2.1 -.1,-2.6 1.6,-2.2 2.3,-.8 3,1.5 2.2,2.6 .9,3.8 -.7,3.2 -2.5,2.7 -2.7,1 -2.7,-.7 -.2,-2 0,-3.1 1.4,-2.5 2.2,-1.2 2.2,.7 1.7,2.1 .4,3.6 -.8,3.6 -2.1,3.4 -3.2,1.5 -2.3,-.5 -3.4,-2.9 0,-2.7 1.8,-2.4 3.1,-1.2 3.9,.5 3,2.7 1.6,4.3 -.5,3.8 -2.4,3 -3.5,1.9 -3.9,-.5 -1.9,-2.4 -.4,-3 1.3,-2.2 2.7,-.9 2.5,.6 2,1.9 .9,3.1 -.3,2.9 -1.2,2.2 -1.7,1.3 -1.9,0 -1.1,-1 .5,-1.3 1.1,-1.7 2.4,-1.2 2.8,0 2.6,2.1 1.2,3.2 -.6,3.9 -1.9,3 -3.1,2.1 -2.9,-.1 -2.6,-2.7 -.2,-3.3 1.8,-2.6 3.3,-.8 3.4,1.4 1.9,3.2 .2,3.6 -1.5,3.5 -2.6,2.4 -3.4,1 -3.8,-1.3 -2.2,-2.8 -.7,-2.9 1.2,-2.3 2.1,-.8 2.7,.3 2,2.1 1.1,3.4 -.8,3.3 -1.9,2.6 -2.6,1.1 -3.4,0 -2.5,-1.8 -1,-2.5 .6,-2 1.7,-1.3 2.4,.2 1.7,1.5 .8,2.5 -.6,3.3 -2.3,2.4 -3.4,1.1 -3.7,-.7 -2.8,-2.1 -1.1,-2.6 .4,-2.2 1.6,-1.3 1.8,.2 1.5,1.8 .7,2.8 -.7,3.2 -1.7,2.5 -2.6,1.6 -2.2,-.4 -1.4,-1 -.6,-1.6 .7,-1.8 2.7,-1.3 3.4,.5 3.1,2.4 1,3.6 -.2,3.6 -1.8,3 -3.3,1.6 -2.9,-.1 -2.6,-1.5 .9,-2.1 1.4,-2.3 1.9,-1.5 1.6,.2 1.1,1.8 .4,2.9 -.7,2.8 -2.1,2.9 -2.2,1.4 -2.9,.3 -3.3,-1.5 -1.6,-1.8 -.2,-2.3 2,-2.1 3.4,-.2 2.4,2 2,4.1 .2,4.2 -2,4.2 -3.4,2.2 -2.9,.3 -1.1,-1.9 -.3,-2.7 1.8,-2.5 2.8,-1 3.3,.6 2.5,1.9 1.7,2.7 .9,3.7 -.5,2.7 -1.6,1.5 -1.7,.3 -2.2,-.7 -1.4,-1.6 -.2,-1.7 1.4,-1.7 2.5,-.9 3.1,.6 2.5,1.6 1.5,3.1 .2,2.9 -1.4,2.9 -1.9,1.2 -2.7,-.2 -1.3,-1.6 -.4,-2.4 1.3,-2.5 2.4,-.8 2.8,.5 2.9,2 1.8,3.6 -.2,3.2 -1.3,2.7 -2.9,1.6 -2.8,-.3 -1.5,-1.5 .1,-2.7 1.9,-3 2.6,-1.4 3.4,.5 2.2,2.6 .4,3.5 -1.2,2.9" fill="none" stroke="#2cc2f2" stroke-width="1.15" stroke-linejoin="round"/>
<path d="M1480,451.6 l -3.6,-.2 -3.7,-2.3 -2,-3.4 .2,-3.3 2.3,-2.2 3.6,-.3 3.7,2 2.9,3.5 1.1,3.8 -1.1,3.1 -3.7,1.7 -3.1,-.6 -2,-2.1 -.7,-3.2 1.2,-3.1 2.6,-1.9 3.3,-.4 3.3,1 2.5,2.6 1.1,3.4 -.7,3.1 -2.2,2.4 -2.3,.5 -2.8,-1.1 -2.1,-3 .1,-3.2 1.9,-2.6 3.3,-.6 4.2,1.7 3.2,3.1 1.7,4.3 -.4,4 -1.9,2.3 -3.1,.1 -3.8,-2.4 -2,-3.5 -.2,-3.5 1.6,-2.4 3.2,-.7 4.3,2.1 3.4,3.5 2,5 -.6,4.1 -2.7,2.3 -4.1,.2 -3.2,-1.9 -1.8,-3 .4,-3 2,-1.5 3.5,-.1 2.9,1.7 1.9,3.2 .6,3.8 -1.1,2.8 -1.7,1.3 -2.5,-.4 -2.5,-1.9 -1.4,-3.3 .6,-2.6 2.5,-1.6 3.3,1 2.8,2.5 2.1,4.4 .6,4.4 -1.2,2.7 -3.6,1.1 -4.2,-1.8 -1.9,-4 .8,-4.8 3,-3.1 4.6,-1.2 4.7,2.3 3,4.8 .3,4.6 -2,4.7 -3.8,2.4 -3.3,-1.5 -2.4,-2.6 -1.6,-4.2 .9,-3.4 2.3,-1.2 2.7,1 2.9,2.3 2.1,3.5 .8,4.2 -.6,2.7 -2.1,1.3 -3.1,-.4 -2.1,-2.5 -.6,-3.3 1.5,-3.7 3.4,-2.3 4,.3 3.9,2.8 2.7,4.6 .5,4.6 -1.5,3.8 -3.4,2.2 -4.9,-.2 -2.7,-2 -1.2,-2.9 .7,-3.4 2.5,-2.5 4,-1 3.9,1.9 2.3,3.6 .3,4.3 -1.8,4 -2.8,1.9 -3.3,1 -3.6,-1.8 -1.8,-3.5 .5,-4 3,-2.5 5,-.7 4.2,1.7 3.6,3.8 1.1,4.8 -1,4.4 -3.2,3.3 -2.2,-.2 -2.9,-1.9 -2.4,-4.1 -.7,-4.2 1.9,-3.6 2.8,-1.1 4,.8 4.3,2.2 3.4,3 2.4,4.5 .1,2.8 -3,2.7 -6.2,2 -3.2,-.9 -2.4,-2.2 -1,-3.2 1.7,-4.2 3.1,-1.3 3.9,0 4.3,1.3 3.6,3 1.8,4.1 .2,4.1 -1.7,3.5 -3.5,1.9 -3,-1.1 -1.4,-2.3 -.5,-3.2 1.2,-3 3,-3 4.2,-1 3.1,.8 2.3,1.7 1.1,2.8 -.6,1.9 -2.4,1.8 -2.9,.3 -2.5,-1.1 -1.3,-2.3 .8,-2.6 2.8,-1.9 4.1,-.7 3.9,1 2.7,2 1.1,2.5 -.4,2.4 -2.8,2.2 -4.3,.3 -3.3,-1.9 -1,-3.4 1.4,-3.1 3.5,-2.2 4.6,-1.3 5.4,.6 3.1,2.3 .9,2.8 -1.9,4.3 -3.5,2 -3.2,-.5 -3.1,-2.3 -1.4,-3.6 .1,-4.3 2.4,-3.8 3.9,-2 4.2,.5 2.9,2.5 1.5,3.5 -.4,1.9 -2.6,1.9 -3.2,.3 -3.2,-1.4 -1.3,-2.5 .7,-3.3 2.4,-2.5 4.1,-1.8 4.3,.1 2.9,2 .8,2.6 -1.2,1.8 -2.6,1.2 -2.8,-.3 -2.8,-1.9 -1.1,-3 1,-3.2 2.8,-2.4 4,-1 3.6,.2 3.4,1.8 .9,2.7 -.7,4.6 -2.8,2.8 -3.9,.3 -3.5,-2.2 -1.8,-4.5 1.2,-4.9 3.3,-3.7 5.3,-1.8 5.5,1.1 3.7,3.7 .8,4.7 -2.8,1.6 -3.7,1.2 -4.1,-.4 -2.3,-1.3 -.6,-2.3 1.3,-2.2 3.9,-1.8 3.8,-.3 3.8,.9 2.9,1.9 .5,2.4 -1.4,3.1 -2.6,1.6 -3.4,.4 -2.7,-1.2 -1.3,-2" fill="none" stroke="#2cc2f2" stroke-width="1.25" stroke-linejoin="round"/>
<path d="M1479.8,449.9 l -2.7,-.5 -2.6,-2 -1.4,-2.6 .2,-2.7 1.9,-1.5 2.2,.3 2.8,2.1 2,3 .6,3.4 -1.1,3.3 -2.9,2.8 -3.3,.9 -2.7,-1.2 -1.1,-2.9 1.1,-2.5 2.6,-2.2 3.3,-.3 4.1,.9 2.8,3 .8,4 -1.3,4.4 -2.6,2.4 -2.5,-1 -2.1,-1.9 -1,-2.8 1,-2.3 2.1,-1.1 2.9,0 3.1,1.7 2.4,3 .8,3.3 -.9,2.8 -1.3,.7 -1.8,-.4 -1.5,-1.5 -.8,-2.2 1,-1.9 1.8,-.7 2.7,.2 2.7,1 2.3,2.3 1.2,2.2 0,1.8 -.9,1.4 -2.6,.6 -1.8,-1.2 -.8,-2 .6,-2.9 2.1,-1.2 3.1,0 2.6,1.4 2.1,2.5 1,3.5 -.8,3.4 -1.7,1.7 -3.6,.8 -3.1,-1.6 -.7,-3 1.7,-3.8 3.2,-1.9 4,0 3.6,1.7 2.7,3.5 .7,4.8 -1.5,4.2 -2.8,2 -2.9,-.4 -2.2,-2 -.3,-3.1 1.9,-3 3.6,-1.8 4.1,-.2 4.1,1.4 2.8,3 .5,3.3 -1.7,3.2 -2.8,2.2 -1.9,.2 -2.4,-1.2 -1.7,-2.4 -.5,-1.9 .9,-1.5 2.5,0 2.7,2 1.9,3.2 .7,4 -.6,2.8 -2,2 -3,.2 -2,-1.5 -1.1,-2.3 .6,-2.6 1.9,-1.1 2.7,.3 2.7,1.9 1.4,2.8 .1,3 -1.3,2.7 -1.7,1.3 -2.7,1.1 -2.6,-.7 -1.4,-1.6 .3,-1.8 2.1,-2.2 2.8,-.8 3.6,.5 2.9,1.9 2,3.2 .4,3.9 -.7,3.3 -1.4,1.2 -2.3,.4 -2.9,-1.6 -1.3,-2.5 .9,-2.7 2.6,-2.7 3.8,-1.2 4.4,.1 3.7,1.5 1.6,2.5 -.3,2.1 -2.4,1.5 -3,.3 -2.9,-1.2 -1.6,-2.5 .5,-3.2 2.2,-3.1 3.6,-2.5 3.8,-1.1 3.7,.4 2.9,2.3 .4,3 -1.8,2.6 -3.1,.9 -3.3,-.6 -2,-2.6 .1,-2.8 2,-3.1 3.7,-1.9 3.7,-.2 3.7,1.2 2.1,2.8 .1,2.7 -2,1.3 -2.6,.8 -2.3,-.6 -1.3,-1.7 .2,-2.4 2.3,-2.1 3,-.9 2.9,.2 2.4,.9 1.3,1.4 0,2.1 -.9,2.8 -1.8,.6 -2,-.7 -1.8,-2 -.3,-2.8 1.7,-2.9 2.5,-1.9 2.9,-.4 2.8,.6 1.8,1.7 .5,2 -1.2,1.2 -2.2,.7 -2.5,-.4 -2.1,-1.4 -.3,-2.3 1.5,-2.1 3.3,-1.3 3.7,0 3.5,1.3 2.6,2.5 .9,3.1 -.8,2.2 -2.3,1.8 -2.6,.5 -2.2,-1 -.1,-2 1.6,-2 2.9,-1.2 4.3,-.6 3.6,.8 2.6,2.1 0,2.3 -1.5,3.6 -3.6,.9 -3.3,-1.3 -2,-2.8 -.1,-3.3" fill="none" stroke="#2cc2f2" stroke-width="1.15" stroke-linejoin="round"/>
<path d="M1509.5,437.7 l -2.8,-2 -1,-3.8 1,-3.8 2.9,-3.3 3,-1 3,1 1.7,3.2 -.6,3.9 -2.1,3.7 -3.2,2.5 -3.3,.5 -2.7,-1.3 -1.7,-2.6 -.1,-3.8 1.7,-3.1 3,-1.4 4.2,.6 3,2.8 1.2,4.6 -1.6,4.8 -3,3.1 -4.1,1.5 -3.2,-.7 -2.7,-2.7 -.5,-3.3 1.3,-3.1 2.7,-1.9 3.7,-.3 3.8,1.8 2.2,4.1 -.4,3.9 -2.5,4.1 -4,2.1 -4.6,-.4 -3.6,-2.8 -1.4,-4.3 1.2,-3.4 2.6,-1.6 4,.1 3.7,2.4 2.3,3.8 .3,4.2 -2,3.8 -3.6,2.3 -4.7,.4 -3.3,-2 -1.2,-3.1 .5,-4 2.1,-3 3.5,-1.7 3.6,.9 2.8,4 .4,5.1 -1.8,4.7 -3.3,3.4 -3.9,.9 -3.7,-1.9 -1.6,-4 1.2,-4.7 2.9,-3.2 4.7,-1 4.3,2 2.8,4.5 .4,5.5 -1.9,4.7 -3.9,3.5 -4.1,-.3 -3.7,-2.4 -1.4,-3.6 1,-3.7 3.5,-2.6 4,.1 3.8,2.2 2.6,3.2 .2,4.2 -2.5,4.2 -4.1,2.2 -4.9,.3 -3.9,-2.3 -2,-4.3 1,-3.8 3.1,-2.4 3.5,-.1 3.7,2 2.5,4.4 -.6,5.9 -3.1,4.2 -4.7,2.4 -4.1,-.2 -2.2,-3 -.3,-4.2 1.2,-3.7 2,-2.4 2.9,-.4 2.5,2.4 .7,4.3 -1,5.1 -2.3,4.1 -2.8,2 -3.4,-.6 -2.5,-3.4 .4,-3.9 2.7,-3.6 4.6,-2.1 4.3,.6 3.9,3.5 1.4,4.8 -.9,5.4 -3,4.1 -4.6,2.4 -3.6,-.8 -1.9,-2.8 .1,-3.9 2.2,-4 3.3,-2.3 3.7,.7 2.2,2.8 .8,4.5 -.8,5 -2.2,3.7 -4.1,2.3 -4.2,-1.2 -3.1,-3.6 0,-4.1 2.6,-3.2 4.1,-1 4.4,1.9 2.4,4.2 0,4.6 -2.1,3.9 -4,2.9 -3.8,-.1 -2.2,-2 -1.5,-3 .8,-3.1 2.4,-2 3.5,-.4 2.8,2.1 1.5,2.9 -.1,3.9 -2.1,3.3 -2.9,2.2 -3.8,.3 -2.6,-1.1 -1.5,-2.5 .2,-2.8 1.8,-2.2 2.7,-.6 3,1.3 1.7,2.7 .2,4.3 -1.3,3.3 -2.6,2.5 -3.3,1 -2.8,-1 -1.6,-2.4 -.2,-3.2 1.8,-3 2.9,-1 2.9,.8 2.3,2.4 1,4 -.9,4.4 -2.9,3.4 -3.4,1.7 -4,-1.2 -3.2,-3.8 -.3,-4.3 2.4,-3.4 4.3,-1.5 5.3,1.2 3.9,3.2 1.9,4.5 -.9,5.5 -3.9,4.4 -5.8,1.7 -5.2,-1.7 -3.2,-3.7 -.6,-5.3 2.8,-4.5 4.8,-2.8 4.7,.3" fill="none" stroke="#2cc2f2" stroke-width="1.25" stroke-linejoin="round"/>
<path d="M1507.2,433.1 l .2,-3.2 1.7,-2.9 2.6,-1.3 2.6,.3 1.6,2.4 .3,3.3 -2,3.6 -2.4,2.1 -2.6,1 -2.3,-.8 -.4,-2.2 .7,-1.9 2,-1.7 2.5,.1 1.6,1.2 .7,2.6 -.6,2.6 -1.8,2.6 -2.3,1.5 -2.3,.6 -1.5,-1 -.6,-1.1 .4,-2.1 1.3,-2 1.7,-1.2 1.5,.9 .2,2.4 -.8,3.3 -2.1,3.7 -2.9,2.6 -3.1,.7 -2.5,-.4 -2,-3 -.1,-3.1 1.2,-3 1.9,-1.2 2.3,.8 1.5,3.3 .1,3.4 -1.6,4.5 -2.4,3.3 -2.5,1.6 -2.8,-.4 -2.9,-2.7 -.1,-3.1 1.7,-2.4 3,-1.1 2.9,1 2.4,2.6 .9,4 -.9,3.2 -2.2,2.3 -2.6,.9 -2.7,-1 -2.5,-1.8 0,-2.5 1.8,-2.1 3.3,-1 4,1.4 3,3.2 .8,4.8 -1.5,4 -2.8,2.5 -3.9,.7 -2.5,-1.7 -.5,-3 1.4,-2.8 2.6,-1.2 3.2,.3 3,1.7 2.3,3.2 .5,4.4 -1.2,3.5 -2.3,2.3 -2.6,.5 -2.5,-1 -.2,-2.4 .4,-2.3 1.4,-1.8 1.6,-.3 1.2,1 .5,2.4 -.8,3.1 -1.7,2.3 -2.7,1.6 -2.8,.2 -2.5,-.8 -1.2,-2.6 .4,-2.3 1.4,-1.5 1.8,-.5 2.3,1.5 1.4,3.3 -.8,4.5 -2.3,3.3 -3.6,2 -3.2,-.2 -1.9,-2.7 -.3,-3.2 1.2,-2.4 2.1,-.8 2.8,.8 1.6,2.4 .5,3.7 -1.2,3.7 -2.2,2.1 -2.6,.9 -2.2,-.4 -2.2,-1.8 -.4,-2 1.4,-2.5 2.5,-1 2.6,.6 2.3,2.9 .9,3.6 -.6,3.2 -2.7,3.2 -2.9,1.1 -2.9,-.7 -1.3,-1.7 -.5,-2.9 .9,-2.3 2.3,-1.2 2.2,.6 2.1,2.4 .9,3.2 -.2,3.4 -1.8,3.3 -2.8,1.6 -2.2,-.3 -1.7,-1.5 -.3,-2 1.3,-2.8 2.7,-1.2 3.2,0 2.9,1.9 1.8,3.4 .6,4.1 -1,3.5 -2.1,2.3 -3.5,.8 -2.3,-1.5 -.9,-2.9 1.6,-2.6 2.7,-1.7 3.4,0 2.1,1.3 1,2.1 -.1,2.5" fill="none" stroke="#2cc2f2" stroke-width="1.15" stroke-linejoin="round"/>
<path d="M1520,413.8 l -3.3,-.2 -3.3,-2 -2.3,-3.7 -.2,-3.6 2,-2.7 3,-.2 3.3,2.3 2.1,3.9 .2,4.5 -1.5,3.5 -3.2,2 -3.8,-.5 -2.9,-2.2 -1.5,-3.3 .5,-3.4 2.4,-2.5 4,-.6 4.5,2.1 3.3,3.7 1.4,5.3 -1,3.8 -3.3,2.8 -2.8,-.7 -3.1,-2 -2.1,-3.5 -.7,-3 1.2,-2.3 2.4,-.3 2.9,1.5 3.5,3.6 2.3,4.3 .5,3.9 -.7,2.4 -3.1,.7 -2.9,-1.4 -2,-2.8 -.5,-2.7 .9,-2.5 2.4,-1.2 3.5,0 3.6,2.6 2.6,3.4 .9,3.5 -.3,2.9 -2.8,2.1 -1.9,.3 -3.4,-2 -1,-2.4 .3,-3.2 2,-2.6 3.7,-1.5 4.2,-.2 3.8,1.6 2.6,2.6 1,3.3 -.7,2.7 -2.8,1.6 -3.5,-.5 -3.4,-2 -1.7,-3.5 .7,-4.1 3.4,-2.8 4.8,-.9 6.1,1.6 3.7,3.2 1.7,4 -1,2.2 -3.9,1.7 -4.3,-1.1 -2.4,-3.3 -.7,-3.6 2.5,-4.1 4.7,-1.5 4.4,1.1 3.7,3.4 1.3,4.5 -.9,5.4 -3.4,3.4 -2.8,.1 -3.5,-1.9 -2.4,-3.7 -.1,-4 1.7,-2.1 3.3,-.5 4.4,2 3.3,3.2 2.1,3.9 .2,4.2 -2,2.2 -5.1,.8 -3.3,-2.6 -1,-4 1.2,-3.4 3.1,-1.9 4.7,-.3 3.9,2.3 1.8,4.4 -.5,4.4 -3,3.9 -3.2,1.4 -2.8,-1.2 -2.2,-2.7 -.5,-3.1 .8,-2.5 2.6,-1.6 3.2,1.4 2.3,3.5 .9,4.2 -.8,4.2 -2.3,3.2 -4.2,1.4 -4.4,-.8 -2.9,-3.7 0,-3.3 3.3,-3.6 4.6,-1.2 5.3,1.8 3.3,4.6 .1,5.3 -2.4,3.7 -5.1,2.7 -3.8,-.8 -2.3,-2.6 -.5,-4.2 1.4,-2.7 3.5,-1.9 4,.9 2.5,2.8 .8,4.2 -1.3,4.2 -2.8,2.5 -3.8,1.1 -2.8,-.9 -1.6,-2.5 -.1,-2.9 2,-2.8 2.8,-1 3.4,.7 2,2.2 .7,4 -1.3,4.5 -2.6,3 -3.8,1.3 -2.4,-1.2 -.6,-2.6 1,-2.7 2.4,-2.5 3.5,-.6 3.2,1.6 1.8,3.6 0,3.4 -1.5,3.4 -2.7,2 -2.7,.4 -2.4,-1.3 -.8,-3.1 .7,-3.8 1.9,-2.6 2.6,-1.2 2.2,.7" fill="none" stroke="#2cc2f2" stroke-width="1.25" stroke-linejoin="round"/>
<path d="M1522.6,407.7 l -.3,2.4 -1.7,1.7 -2.2,.2 -2.6,-1.5 -1.2,-2.6 0,-3.1 1.6,-2.1 3,-.7 3,1.3 2.7,3 1,3.5 -.3,3.5 -2.2,2.5 -2.9,.7 -2.7,-1.1 -1.6,-2.4 .1,-3.2 1.8,-1.7 3.3,-.5 3.4,2 2.3,3.7 .4,4.5 -1.8,3 -2.4,1.7 -2.7,-.2 -2,-1.7 -.6,-2.9 1.1,-2.7 2.4,-1.8 3,-.2 2.9,1 2.4,2.6 1.1,3 -1,3.5 -2,2.1 -2.4,.8 -2.1,-.5 -1,-1.1 0,-1.9 .9,-1.7 2.3,-.8 2.5,-.1 2.4,1.2 1.7,2.9 1.3,2.7 .3,2.4 -1.7,1.9 -2.3,.7 -2.4,-.9 -1.4,-1.8 .3,-1.8 2.3,-1.8 2.8,.1 3,1 2.7,1.9 .2,4.1 -.9,2.3 -2.8,1.1 -2.3,-.7 -1.7,-2.4 .3,-2.9 2.1,-2.6 2.8,-1.2 3.6,.7 2.3,1.6 1.2,2.7 .3,3.1 -1,2.2 -1.9,.8 -2.2,-1 -1.4,-2.3 .3,-2.9 1.7,-2.9 3.1,-1.5 4,.4 3.1,1.6 2.5,3 1.6,3 -1.3,3.8 -3.1,1.7 -3.3,-.4 -2.3,-2.4 .1,-3.4 1.9,-2.7 3,-1.6 4.4,.5 3.6,2.3 2.6,4 -1.1,4.2 -1.2,3.3 -2,1.7 -3.1,-.3 -1.8,-2 0,-2.8 .8,-2 2.2,-.9 3,1.5 2,2.9 .4,3.1 -.2,3.1 -2.3,3.4 -3,1.8 -2.7,-.6 -2,-2.4 .2,-3 2.5,-2.5 3.5,-.9 3.2,1.4 1.9,3.7 -.1,4.5 -2.3,4.7 -3.3,2.1 -4.2,-.4 -2.9,-1.9 -.9,-2.8 1.1,-2.9 2.3,-1 3.3,.1 2.9,2.2 1,3.3 -.6,3.7 -1.8,2.8 -2.8,1.8 -3.1,.5 -2.2,-1.1 -1.1,-2.3 .6,-3 2,-2.1 2.6,.1 2.6,1.5 1.9,3.1 .2,3.4 -3.9,2 -1.5,1.3 -1.4,0" fill="none" stroke="#2cc2f2" stroke-width="1.15" stroke-linejoin="round"/>
<path d="M1545.2,404.3 l 4,.5 3.4,2.3 1.7,3.9 -.3,3.1 -1.9,1.7 -2.9,-.1 -2,-1.8 -1.5,-2.7 -.5,-3.7 1.7,-3.7 3.2,-1.8 4.2,0 3.6,2.5 2.1,3.5 .3,4 -1.5,3.3 -3.1,1.7 -3.3,-.4 -2,-1.7 -.6,-2.8 1.1,-3 3.4,-2.3 4,.5 2.9,1.8 2.8,4.2 0,3.3 -1.5,2.9 -3.1,1.6 -2.9,-.6 -2,-2.2 -.1,-2.8 1.8,-2.6 3.6,-.7 4.2,.1 4.1,4.1 1.4,4 -1.1,5.2 -3.2,2.9 -5.1,1.3 -4.2,-1.9 -2.1,-3.7 .6,-3.8 3.1,-2.6 4.2,-.7 2.9,3.1 .9,4 -.5,4.6 -2.1,3.6 -2.7,2 -2.7,-.2 -2.5,-1.7 -.7,-2.8 1,-2.7 1.7,-1.4 2.7,-.1 2,1.3 2.7,3.1 0,3.5 -2,3.7 -3.8,2.4 -3.8,.3 -3.5,-1.3 -2.1,-2.5 -.3,-2.9 2.3,-2.7 3.6,-.7 3.6,1.2 1.7,3.3 .1,3.4 -1.6,3.9 -2.5,2.2 -3.1,.7 -2.7,-1.4 -1.2,-2.4 .2,-2.8 1.2,-1.8 1.6,-.5 1.3,.6 .1,1.5 -.3,2.6 -1.7,3.5 -2.5,2.7 -2.9,1.1 -2.2,-.3 -.8,-1.5 .2,-2.9 1.1,-2.7 2,-2.2 2.2,-.6 1.6,1.5 .7,3.4 -.5,2.9 -1.9,2.8" fill="none" stroke="#2cc2f2" stroke-width="1.25" stroke-linejoin="round"/>
<path d="M1542.8,412.2 l -.4,-3.2 1.3,-2.4 2.8,-1.4 3.1,.4 2.6,1.9 1.5,2.8 .2,2.2 -1.1,1.7 -1.9,.1 -2.2,-1.2 -2.2,-1 .3,-3.3 2.2,-2.8 3.4,-1.5 4.1,-.3 3.1,2 1.9,3.9 -.2,3.8 -1.9,3.2 -2.9,1.8 -3.4,-.1 -2.4,-1.7 .3,-2.9 1.2,-1.9 3,-.3 2.8,1.6 1.9,2.8 .6,3.6 -1.1,3.1 -2.6,2.4 -2.7,.3 -2.2,-1.3 -1.2,-1.8 .9,-1.9 2.1,-.9 2.1,.9 1.4,2.7 -.1,2.9 -1.6,2.9 -2.7,1.3 -2.6,-.3 -1.9,-1.6 -.9,-1.9 .4,-1.7 2,-.7 2.3,.6 2.5,2.6 .7,3 -1.4,3.3 -3,2.2 -2.7,.7 -2.5,-1.3 -1.1,-1.9 .2,-2 1.7,-1.2 2,-.7 2.8,.8 2,2.8 .4,3.9 -1.7,4 -3.2,2.2 -3.5,0 -2.6,-1.5 -.9,-3.1 1.2,-2.9 3.2,-1.6 2,-.3 1.9,1.6 1.3,3.2 -.1,4.6 -1.6,4.2 -2.5,2.5 -2.2,-.1 -2.2,-2.3 -.5,-3.4 .6,-3.9 2.3,-2.2" fill="none" stroke="#2cc2f2" stroke-width="1.15" stroke-linejoin="round"/></g>
<g opacity="0.95"><path d="M1861.4,342.3 l -2.4,-1.7 -.9,-2.6 .9,-3.3 2.4,-2.3 3,-1 2.8,.5 2.2,2.3 -.1,3.1 -2.3,3.4 -3.6,1.9 -3.7,.4 -3,-2 -1.2,-3.4 .4,-3.5 2.5,-2.1 3.2,.2 2.8,2.3 .7,3.5 -.6,3.4 -2.8,3.7 -3.7,1.3 -3.8,-1 -1.8,-.9 0,-2.3 1.8,-2.7 2.9,-1.6 2.9,.2 2.4,1.7 .6,3.2 -1.3,3.3 -3.1,3.2 -3.4,1.7 -3.3,.3 -2,-1.4 -.3,-2.7 1.2,-2.5 2.8,-2 3.2,-.1 2,1.5 .3,2.6 -1.6,3.2 -3.1,2.6 -3.6,1.5 -3.8,-.1 -2,-1.3 -.2,-2.7 2.2,-2.6 2.9,-1.6 3.5,0 2.1,1.6 .5,2.7 -1.1,3.1 -2.9,3.6 -3.9,2.2 -2.2,.8 -2.6,-2.3 -1.1,-3.4 1.4,-3.1 2.8,-1.3 2.6,.5 2.5,2 1.2,3 -.4,3.6 -2.4,2.7 -3.2,1.4 -3.3,0 -3.4,-2.2 -1.5,-3.1 .6,-3.2 2.1,-2.3 3.3,-.6 3,2.1 1.8,3.2 -.1,4.3 -3.1,3.6 -4.6,1 -4.9,-2.7 -1.6,-2 .3,-2.4 1.8,-1.8 2.3,-1.1 2.5,.1 1.1,1.8 -.5,2.2 -1.9,2.2 -2.8,1.6 -3.2,1 -2.2,.4 -2.3,-2.6 -.2,-3.2 1.5,-2.3 2.7,-1.1 2.8,.9 1.7,2.7 -.3,3.2 -2.1,2.5 -3.8,1.7 -4,-.2 -3.7,-2.2 -1.6,-2.5 .5,-2.9 2.6,-2.7 3.4,-.8 3.2,1.2 1.3,3 -1.1,3.2 -3.1,2.5 -4.8,1.1 -4.4,-1 -3.1,-2.8 -.9,-3.5 1.3,-3.2 2.3,-2.3 2.7,-.8 2.7,.8 1.2,2.4 -.5,2.9 -2.2,3.2 -3.4,2 -4,.4 -2.5,-1.4 -1.5,-2.8 .3,-2.9 2.1,-1.6 2.8,-.6 2.5,1.2 1.2,2.4 -.2,2.6 -1.5,2.3 -2.3,1.5 -3.1,.5 -3,-.4 -2.2,-1.3 -.7,-2.5 1,-2.1 2.3,-1.7 2.5,-.4 2.7,1 1.2,2.5 -1,3.1 -2.3,2.3 -4.1,1.8 -3.5,.1 -2.1,-.9 -1.1,-2.6 .8,-2.8 2.5,-1.7 3.5,.2 2.7,2.3 .9,3.3 -.8,3.8 -2.5,2.9 -3.7,1.1 -3.1,-.8 -2.2,-2.3 -.3,-2.2 1.1,-1.9 2.1,-.7 2.4,.9 2.1,2.3 .8,3.1 -.2,3.4 -1.7,3.1 -2.6,1.8 -2.6,.4 -2.9,-1.7 -1.2,-2.6 .2,-2.3 2.2,-1.9 2.4,-.2 2.2,.6 1.5,2.6 -.8,3.6 -3.1,2.8 -3.8,.8 -3.3,-1.2 -3.3,-2.8 -.9,-3.1 1.3,-3.1 3,-1.8 3.1,.3 1.9,1.7 0,3.2 -1.6,2.7 -3.4,2.1 -3.5,.6 -3.6,-.9 -1.8,-2.1 -.5,-3.6 1.1,-3.3 2.6,-1.8 2.8,.4 1.6,1.9 .5,3 -.9,2.8 -2.6,1.9 -3.6,.5 -2.7,-1 -1.9,-2.2 -.4,-2.2 1.1,-1.9 2.3,-1.2 2.6,-.1 2.1,.8 1.4,1.9" fill="none" stroke="#f8a368" stroke-width="1.06" stroke-linejoin="round"/>
<path d="M1864.5,333.1 l 2.1,.3 1.5,1.3 .3,1.8 -1.1,2 -2.4,1.5 -2.5,.2 -3.1,-1 -1.8,-1.9 -.7,-2 .7,-2.2 2,-1.2 1.2,-.7 1.9,1.8 .3,3.4 -1.2,3.3 -2.6,2.3 -3.2,.9 -3.1,-.5 -2.5,-2 -.6,-2.9 1.4,-2.6 2.2,-1.2 3.1,1.2 1.4,1.3 .1,2 -1.8,2.6 -3.1,1.8 -3.6,.8 -2.8,-.7 -1.3,-1 .2,-2 .9,-1.4 1.9,-.9 1.2,-.3 1.4,2 .2,2.6 -1,2.5 -2.3,2.1 -2.2,.7 -1.9,-.1 -1.2,-1.3 -.1,-2 .9,-1.3 1.7,-.5 1.6,.8 1.4,2 0,2.8 -1.6,2.7 -1.8,1.2 -2.5,.4 -2.8,-1 -1.9,-1.9 -.6,-2.5 .6,-1.7 1.4,-.8 2.2,.9 1.1,1.5 -.1,2.3 -1.7,2.7 -2.3,1.6 -2.6,.2 -2.3,-.5 -1.5,-1.2 -.2,-2 .9,-1.5 1.8,-.8 2.6,.8 1.1,1.1 -.6,2.1 -1.6,3.1 -2.9,1.8 -2.7,.5 -2.2,-.3 -.9,-1.9 .5,-1.7 1.2,-1.7 1.9,-1 1.6,.2 1.3,2 -.2,2.8 -1.4,1.9 -2.7,1.4 -2.5,.3 -2.6,-.4 -1,-1.3 .2,-1.4 1.8,-1.2 2,-.3 1.5,.9 .9,1.5 -.7,2.1 -1.5,1.9 -2.8,1.4 -2.5,.2 -2.3,-.8 -1.1,-2 .3,-2.2 1.2,-1 1.8,-.2 2.1,.4 1.2,1.4 0,2.6 -2.1,2.7 -3.5,1.9 -2.9,.2 -2.6,-.9 -1.2,-1.6 .3,-2.2 1.8,-1.7 2.7,-.5 2.1,0 1.6,2.4 .3,2.9 -1.3,3 -2.2,2.4 -3.4,1 -2.9,-.8 -1.8,-2.3 -.5,-2.3 1.1,-2.2 1.7,-.6 2.2,1.5 .7,1.2 -.4,1.9 -1.6,1.9 -2.5,1 -2.8,.1 -2,-.9 -1.1,-1.5 .1,-1.2 1.4,-1.2 1.8,-.2 1.1,-.2 .9,1.5 -.6,2.6 -1.8,2.2 -3.3,1.3 -3.3,-.4 -2.7,-1.9 -1.9,-3.3 .1,-3.3 1.8,-2.2 2.5,.1 2.5,2.4 .5,2.2 -1.1,3 -2.7,2.8 -3.6,1.2 -3.8,-.2 -2.2,-2 -.5,-2.6 1.6,-2 2.2,-.9 2.3,-.7 1.8,1.9 .4,3.7 -1.3,3.4 -2.3,2.7 -3.7,1.2 -3.4,-.7 -2.6,-2.2 -.9,-2.5 1,-2.6 2.3,-1.3 3.1,.9 3,3.4 .9,2.3 -.4,2.6 -1.9,2.6 -2.5,1.3 -2.6,.1" fill="none" stroke="#f8a368" stroke-width="0.98" stroke-linejoin="round"/>
<path d="M1787.8,379.1 l -2.1,-1.6 -.8,-3 1.2,-2.5 2.8,-1.6 3.7,-.2 2.8,1.4 1.5,2.4 .1,3.1 -1.8,2.4 -2.5,1.1 -3,-.5 -1.9,-2.2 -.3,-2.1 1.2,-1.9 2.5,-1.1 2.9,-.1 3.2,1.2 2,2 .6,2.1 -1,1.6 -1.8,.8 -2.3,-.4 -1.9,-.9 -.8,-1.8 1,-2.1 2.9,-1.7 3.8,-.1 3.2,1.1 2.2,2.1 1,3 -1.3,2.4 -2.7,1.3 -3.3,0 -2.7,-.5 -.5,-3.2 1.4,-3.7 3.1,-2.3 3.5,-.4 3.7,1.3 2.2,2.5 .4,3 -1.3,2.4 -2.8,.7 -2.4,-1.1 -1.6,-2.7 0,-3.8 1.6,-3 2.7,-2.1 3.5,-.8 3,.8 1.7,2.4 0,2.5 -1.1,1.5 -2,.4 -2.2,-1.8 -2,-2.1 -.3,-2.4 1.4,-2.2 3.4,-1.2 3.7,.2 3.9,2.2 2,2.9 -.2,3 -2.1,2.3 -3.6,.6 -2.8,-.1 -.9,-3.3 .9,-3.8 2.1,-2.6 3,-1.5 3.4,.1 2.5,1.6 1.4,2.3 -.3,2.7 -1.7,2.2 -2.1,.4 -2,-.8 -1.7,-2.4 0,-2.6 1.3,-3 3.8,-2.1 4,0 3.6,2.1 2,3.1 .5,4.7 -1.9,3.3 -2.9,1.6 -4.1,-1.4 -2.7,-2.6 -.3,-3.3 1.8,-2.9 3.9,-2.1 4,-.4 4.3,1.8 2.4,3.4 -.1,3.5 -2.1,3.1 -3.6,.8 -3.6,-.1 -2.7,-4 -.3,-4.6 2,-4.5 3.5,-2.4 4,-.1 4.7,2.1 2.9,4.2 .4,4.6 -1.5,3.6 -3.6,2.3 -3.9,-.3 -2.3,-4.3 -.2,-2.1 1.3,-2 3.4,-1.6 3.8,-.1 3.5,.9 2.3,2 .4,2.7 -1.1,2.3 -2.7,1.5 -2.4,.4 -1.8,0 -.7,-1.3 1,-1.3 3.2,-1 4.3,.4 4,1.6 2.4,2.7 .6,3 -1.5,2.7 -2.8,1 -3.2,-.5 -2.5,-1.1 -1.2,-3.4 1.2,-3.6 3.1,-3 3.8,-1.4 4.4,.6 3.4,2.6 1.1,3.5 -1.4,3.2 -3.4,1.3 -3.2,-.6 -3,-2.4 -1.7,-3.5 1.3,-3.4 3,-2.4 4.4,-.8 4.6,1.1 3,2.7 .7,3.7 -1.5,3.4 -2.9,2.3 -3.5,.6 -2.9,-1.9 -1.8,-1.8 .6,-2.1 2.6,-1.5 4,-.5 4.8,.1 3.8,1.5 1.9,2.7 -1,2.3 -3.1,1.4 -3.9,-.3 -2.9,-.5 -1.5,-3.4 .9,-3.7 2.8,-2.7 4.5,-1.3 4,.9 2.7,2.2 1,2.9 -1.5,2.4 -2.7,.8 -2.8,-1.1 -2.4,-3.8 -.6,-2.5 1.4,-2.6 3.1,-1.8 3.5,-.7 3.6,.2 2.3,1.1 .8,1.3 -1.2,1 -2.4,.5 -2.5,-.4 -2.2,-1 -.8,-1.7 .8,-2 2.1,-1.1 3.4,-.3 3.1,.4 2.5,1.3 1.6,2 -.1,2.2 -1.7,1.7 -2.8,.7 -2.8,1.7 -1.5,-2.4 .6,-3.3 2.2,-2.1 4.3,-1.2 4.4,1.4 3.4,3.6 1,4.4 -1.9,4.2 -3.5,2.3 -3.3,-.3 -2.3,-2.2 -.8,-3.8 1.4,-3.6 2.7,-2.3 3.2,-.4 3.3,1.4 2.2,2.9 .5,3.6" fill="none" stroke="#f8a368" stroke-width="1.06" stroke-linejoin="round"/>
<path d="M1794.3,378 l -2.6,1.1 -2.3,-.1 -2.2,-1 -1,-1.6 .3,-1.3 1.6,-1 2.3,-.2 2.7,1.1 2.3,2 1,2.5 -.6,2 -2,1.9 -1.6,-.1 -1.4,-1.1 -.6,-1.9 .9,-1.9 1.9,-1.6 2.6,-.6 2.3,.9 2.3,2 1.1,2.4 -.2,2.4 -1.2,1.2 -1.9,.6 -1.2,-.9 -.5,-2.2 .6,-2.4 1.6,-2 2.9,-1.4 3.1,0 2.3,1.2 1.2,2 -.5,1.7 -1.3,1.1 -2.2,-.3 -1.7,-1.3 -1.1,-2.6 .5,-2.8 2.2,-2.4 3.9,-1.3 3.2,.4 2.6,1.6 1.3,2.3 -.4,2.6 -2.1,2.1 -2.6,0 -1.8,-1.1 -.8,-2.3 .6,-2.4 1.7,-1.8 3.2,-.7 2.9,.8 2.4,1.7 1.7,2.9 -.1,2.9 -1.2,.7 -2.1,.7 -2.1,-.5 -1.4,-1.5 .3,-1.7 2,-1.7 3.2,-.8 3.1,.2 2.9,.9 1.9,1.8 -.2,1.9 -1.5,1.9 -2.4,.4 -2.6,-1 -.9,-2.2 .7,-2.1 2.3,-1.7 3.8,-.5 3.8,.7 2.9,1.8 1,2.5 -1.4,1.5 -2.4,.7 -2.4,-.6 -1.9,-1.6 -.2,-2.1 .8,-2.1 2.8,-1.7 3.3,-.8 2.6,0 1.9,.6 1,.9 -.3,1.5 -1.8,.3 -2.1,-.7 -1.9,-1.6 -1,-2.4 .6,-2.6 2.4,-1.7 3.6,-.7 3.7,.8 2.8,2.5 .7,2.7 -.5,2.2 -1.6,2.3 -3.1,0 -2.2,-1.6 -1,-2.2 .7,-2.7 2.3,-2 3.8,-1.2 3.2,.8 2.7,2 1.6,3.5 -.1,3.7 -1.8,1 -2.6,.2 -2.1,-.7 -.6,-1.7 .7,-1.7 2.3,-1.1 2.9,-.2 2.9,.6 2.4,1.8 .8,2.3 -.8,1.9 -1.3,.9 -1.7,.1 -1.5,-.8 -.5,-1.3 .6,-1.7 2,-1.6 2.7,-.9 2.5,.2 2.2,1.1 1.1,1.3 -.3,1.4 -1.5,1.5 -1.9,0 -1.7,-1.2 -.5,-2 1.1,-1.9 2.3,-1.6 3.2,-.4 3,.9 2.5,2 .5,2.3 -.4,3.3 -2.3,1.7 -2.7,-.1 -1.6,-1.8 -.2,-3.2 1.2,-2.9 2.7,-2 3.6,-.2 3.6,1.4 2.4,3 .6,3.6 -1.7,2.7 -2.5,.9 -2.2,-.8 -1.2,-2.3 -.1,-3.3 2,-2.7 2.8,-1.8 2.8,-.1 2.8,1.2 1.7,2.1 -.1,2.9 -1,.3 -1.6,.3 -1.8,-.7 -1.3,-1.3 -.1,-2 1.2,-1.8 2.3,-1.2 2.7,0 2.4,.9 2.3,1.8 .5,2.1 -.7,1.7 -1.3,2.9 -2.1,.6 -1.5,-1.3 -.9,-2.3 .7,-2.2 1.7,-1.9 2.2,-.3 2.7,1 1.9,2.3 .7,2.9" fill="none" stroke="#f8a368" stroke-width="0.98" stroke-linejoin="round"/>
<path d="M1785,412.2 l -3.1,1.7 -3.3,.1 -3.1,-1.4 -1.6,-2.1 .2,-2.4 2.1,-1.9 3.2,-.6 3.5,.7 3.3,2.3 1,3 -.7,2.5 -2.1,.9 -3.4,-.5 -2.7,-1.6 -1,-2.2 .8,-2.1 2.7,-1.8 4,-.3 3.5,1.3 2.7,2.1 .9,2.6 -1.9,2.8 -2.4,1 -3,-.5 -1.6,-1.5 -.3,-2.3 1.3,-1.8 2.8,-1.2 2.8,.1 2.8,1.3 1.8,2 .9,2.7 -.5,1.7 -1.7,1.1 -2,-.1 -1.8,-1.4 -.8,-2 .4,-2.7 1.7,-2 2.5,-1.4 3.3,-.3 2.9,.9 1.5,2.1 0,2.3 -1.6,2 -3,.6 -2.4,-.9 -1.7,-2.5 .3,-3.3 2.5,-2.9 3.7,-1.3 4.2,.7 3.7,2.9 1.2,3.7 -1.3,3.6 -2.6,1.7 -3.4,0 -2.6,-2 -.8,-3.1 .8,-3.8 3.1,-2.5 4.3,-.7 3.8,1.7 2.5,2.9 .9,3.4 -1,2.5 -2.4,1.6 -3,.4 -2.9,-1.2 -1.4,-2.1 .7,-1.8 3,-1.5 4.1,-.1 4.3,1.5 3,2.9 .9,4 -1.7,4.1 -2.2,1.7 -3.3,.3 -2.5,-2.6 -.5,-3.1 1.6,-3.4 3.8,-2.2 4.4,-.5 3,1 1.7,1.9 .1,2.1 -1.3,1.5 -2.8,.8 -2.9,-1 -2.2,-2.5 -.3,-3.2 1.5,-3.3 3.2,-2.4 4,-.8 3.6,.4 2.4,2.4 .5,2.2 -1,4.1 -2.3,1.7 -3.2,0 -3,-2.3 -1,-4 1.5,-4.6 3.3,-3.5 4.9,-1.3 4.3,1.7 2.1,3.2 -.3,4.1 -1.9,2.1 -3,1 -2.3,-.6 -1.8,-2 .3,-2.4 1.9,-1.8 2.8,-.8 3.2,.5 2.7,1.8 1.5,2.7 .2,2.2 -1.2,1.9 -2.8,.9 -3.1,-1 -1.7,-2.9 .6,-3.6 2.8,-3.3 3.4,-1.7 4.6,.3 3,2 1.1,2.5 -.5,1.4 -2.8,1.4 -3.4,0 -2.5,-1.2 -1.9,-2.5 .5,-2.5 2.7,-1.9 4.3,-.7 3.9,.6 3.7,2.2 1.4,2.8 -1.4,4.6 -2.8,2.3 -2.8,-.1 -2.2,-1.4 -1,-2.8 .8,-3.2 2.1,-1.7 3,-.6 3.7,1.2 2,2.2 .8,2.9 -.2,1.8 -1.9,1.6 -2.3,.3 -2.1,-1.1 -.7,-2.2 1,-2.7 2.4,-2.3 2.9,-.6 3.5,.6 2.1,1.9 1.1,2.5 -.6,1.6 -1.7,1.3 -2.2,.6 -2.1,-.7 -.7,-1.5 .3,-1.4 1.8,-1.4 2.9,-.7 3.4,.3 2.4,1.1 1.7,1.6 .3,2.4 -1.1,1.7 -2.8,.5 -3.2,-1.3 -1.8,-3.1 .3,-3 2.1,-2.6 3.5,-1.6 4,.2 3.5,2 2.1,2.9 .1,3.3 -1.8,2.1 -2.7,1.3 -3.3,.1 -2.7,-1.4 -1.1,-2.3 1.1,-2.3 3.6,-1.8 4.8,-.2 3.6,1.5 2.6,2.8 .6,3.7 -2.5,3.4 -3.8,1.1" fill="none" stroke="#f8a368" stroke-width="1.06" stroke-linejoin="round"/>
<path d="M1782.4,405.9 l 1.8,1.6 .5,1.8 -.7,1.6 -2.1,1.3 -2.3,.1 -2.7,-1.2 -.6,-1.9 .8,-2.2 2.3,-1.6 3,-.7 3.2,.5 2.6,1.3 .7,2.8 -.8,2.2 -1.7,1.7 -1.8,.1 -1.4,-.8 -.4,-2.2 1.3,-2.2 2.3,-1.8 2.9,-.7 2.3,2.2 2.1,.9 .7,1.4 -.8,1.3 -2,.5 -2,-.5 -1.6,-1.3 0,-1.5 1.4,-.9 2.4,-.1 3.1,.9 2.8,-.5 2.2,3.1 .3,2.9 -.7,2.5 -1.9,1.7 -2.3,.2 -1.5,-1.1 -.6,-2.1 1.2,-2.3 2.4,-1.4 2.9,-.1 2.6,1.2 1.8,2.2 .7,2.7 -.5,2.3 -1.3,1.2 -1.3,.3 -1.4,-1.1 -.5,-2.2 1.1,-2.6 1.9,-1.8 2.3,-.6 2.7,.7 2.5,1.1 1,1.3 -.4,1.6 -1.6,1.5 -2.1,.2 -2.2,-.9 -1.2,-1.6 .1,-2.2 1.2,-2.4 3.5,-2.1 3.5,-.4 3.4,1.3 2.2,1.9 0,1.9 -1.7,.9 -2.5,.2 -2.5,-1.1 -1.6,-2.3 -.3,-3 1.4,-3.1 3.2,-2.4 3.7,-.4 3.5,1 1.9,3.1 .1,3.5 -1.6,2.6 -2.4,1.4 -2.1,-.2 -1.3,-1.3 .1,-2.3 1.1,-2.7 2.6,-1.9 3.6,-.8 2.9,2 1.7,1.4 .4,1.9 -.8,1.5 -1.7,1.2 -1.2,.4 -.9,-.6 -.1,-.9 1,-1.2 1.8,-1 2.4,-.6 2.2,-.9 1.7,1.3 .8,1.7 -.5,1.5 -1,.6 -1.6,-.4 -1.6,-1.8 -.4,-2.8 .8,-2.9 2.3,-2.2 2.4,-1.1 2.6,.6 1.6,1.4 .7,1.7 -.6,1.4 -1.1,1.5 -1.6,-.3 -1.1,-1.1 -.1,-2 .8,-2 1.8,-1.3 2.6,0 2.7,2.4 1.4,1 .4,1.4 -.3,1.8 -1.6,.9 -2,.1 -.8,-1 .3,-1.4 1.5,-1.5 2.1,-1 2.5,-.3 2.5,.2 1.9,1.5 .9,2.1 -.8,1.8 -1.9,1 -1.9,-.3 -1.3,-1.5 .2,-2.5 1.9,-2.5 3.1,-1.4 3.4,-.2 2.4,1.2 1.7,2.1 0,2.3 -1.7,1.4 -2.4,.1 -1.7,-1.1 -.8,-1.7 .3,-2.6 2.2,-2.1 2.8,-1.1 3.1,.2 2.8,1.7 1.2,2.4 0,1.7 -1.4,1.5 -2.3,0 -2,-1.2 -.8,-2.1 .7,-2.5 2.8,-1.4 3.5,-.6 3,2 1.7,1.6 .4,1.7 -.3,1.7 -1.6,1.3 -2.3,.1 -2,-.6 -.9,-1.1 .8,-1.5 2,-.6" fill="none" stroke="#f8a368" stroke-width="0.98" stroke-linejoin="round"/>
<path d="M1804.7,430.5 l -1.2,-3.1 .6,-3 1.9,-1.6 2.5,-.3 3,1.4 2.3,3 .6,3.5 -1.2,3.2 -2.6,1.4 -2.8,-.4 -1.6,-2.7 -1.1,-2.8 .5,-1.9 2.1,-.9 2.7,.6 2.9,2 2.1,2.3 1.1,2.6 -.2,2.3 -1.5,1.2 -2,-.2 -2.4,-1.5 -2,-2 .2,-2.3 1.7,-1.6 2.8,-.4 3.3,1.5 2.5,2.6 1,3.3 -.3,3.9 -1.8,2.1 -2.6,.4 -2.3,-1.5 -.6,-3.8 .2,-3.1 1.7,-1.9 3.2,-.6 3.5,1.2 2.9,2.4 1.5,2.6 .2,2.7 -1.1,2 -2,.4 -2.7,-.8 -3.7,-.8 -.8,-3 1.3,-2.8 3.4,-1.6 4,.2 3.8,2.4 2.1,4.3 -.4,4.6 -2.5,3.6 -4,.8 -3.7,-1.5 -.9,-3.7 .1,-3.4 2,-1.9 2.8,-.9 3.2,.7 3,2.1 1.9,2.9 0,3.2 -1.4,1.9 -2.4,.9 -2.1,-.4 -1.7,-2.5 -.9,-2.5 .5,-1.8 2.3,-.7 3.2,.7 2.9,2.3 2.3,3.8 .7,3.3 -1.2,2.8 -2.8,1.1 -3.2,-.5 -3.6,-1.6 -.9,-2.5 1.1,-2.3 2.4,-1 3.4,.7 2.8,1.9 2.2,3.3 .3,3.2 -1.1,2.8 -2.4,1 -2.4,-.4 -1.8,-1.6 -1.7,-2.1 -.1,-2.2 2.3,-1.5 3.2,.4 4,2.2 2.8,3.6 .7,3.4 -1.4,3.2 -2.2,.5 -3,-.8 -4.7,-.8 -.3,-3.4 1.7,-3.6 3.6,-2 3.8,-.1 3.4,1.9 2.2,3.4 0,3.9 -1.6,2.9 -3.1,1.4 -2.6,-.4 -1.2,-3.2 -.6,-2.5 .8,-2.7 3,-1.7 3.8,.4 3.7,2.4 2.3,3 .8,3.7 -1.3,2.1 -2.2,.8 -3.2,-.6 -1.7,-2.7 -.8,-2.7 1.1,-1.7 2.4,-.3 3,.4 3.1,1.6 2.5,2.6 1.2,2.1 -.3,1.7 -2,.4 -2.3,-1.1 -2.1,-1.4 .5,-2.7 1.7,-2.4 3.5,-1.5 3.1,.2 2.7,1.5 1.5,2 .4,2.5 -.8,1.8 -2.1,.8 -1.9,-.8 -2.1,-1.4 -.3,-2.2 1.1,-2.2 2.5,-2 3.7,-.5 3.2,1.4 2.1,2.4 1,2.6 -.6,2.2 -1.7,1 -2.2,-.3 -1.7,-2.7 -.9,-2.6 .6,-2.5 1.8,-1.2 2.4,.1 2.5,1 2.7,2.1 1.1,2.6 -.4,2.1 -1.7,1.6 -2.4,.4 -3.3,.4 -.9,-2.3 .6,-2.6 2.5,-2.1 3.2,-.8 3.6,.9 2.3,1.7 1.2,3.3 -1,3.2 -2.3,2 -3,.1 -1.8,-2.2 -1,-2.4 .7,-2.5 2.4,-2.4 3.4,-1 3.7,.6 2.6,1.8 1.6,2.7 0,2.8 -1.3,2.1 -2.3,.8 -2.6,-.9 -2.8,-1.7 -.7,-2.9 1.6,-3.4 3.1,-1.8 4.6,-.1 3.9,2.5 1.9,4.1 -.4,4.5 -2.5,3.4 -3.2,1.6 -2.6,-2.7 -2.3,-2.2 -.1,-2 1.8,-1.4 2.9,-.6 3.4,.7 2.9,2 1.6,2.7 -.3,2.7 -1.8,2 -2.5,1.1 -3,0 -2.2,-1.1 -1.4,-1.5" fill="none" stroke="#f8a368" stroke-width="1.06" stroke-linejoin="round"/>
<path d="M1805.4,428.7 l -.2,-2.8 1.3,-1.9 2.3,-.4 2.2,.8 1.9,1.5 1.4,2.6 .1,2.2 -1.2,1.4 -1.5,0 -1.8,-1.3 -1.3,-1.6 .4,-2.7 2.1,-1.9 3,-.8 3.8,.9 2.9,2.3 1.5,2.9 -.6,2.7 -2,1.4 -2.2,.2 -2.1,-1.5 -.3,-2.2 .9,-2.1 2.1,-1 2.1,.4 2.6,1.7 1.4,2.3 .1,2.8 -1.2,2.4 -1.7,1.4 -2,.7 -1.5,-.3 -1.2,-1 .1,-1.4 1.2,-.9 1.9,.5 2.5,1.9 1.9,3.1 .2,3 -1.2,2.8 -1.9,1.6 -1.9,.2 -1.7,-1 0,-2.1 -.1,-1.2 1,-.2 1.8,.6 2.1,2 2,2.7 1.4,2.6 -.3,1.9 -1,1 -1.4,-.3 -1.4,-1.2 -1.2,-1.8 .6,-1.6 1.4,-.7 1.9,.2 2.2,1.1 1.5,2.1 1.2,2.4 0,1.9 -.7,1.2 -1,.5 -1.1,-.9 -.5,-1.5 .8,-1.9 1.3,-1.2 2.4,-.4 2.6,.8 2.4,1.5 2,1.9 .8,1.3 0,.8 -1,.1 -1.3,-1 -1.4,-.8 -.1,-1.8 1.7,-1.8 2.6,-.8 2.8,.4 2.7,2 1.5,2.8 .3,2.4 -.7,1.6 -1.6,.6 -2.1,-.8 -.9,-2.2 -.3,-2.7 1.1,-2.1 2.3,-1.2 3.4,.7 3.1,1.8 2.1,2.9 .1,2.9 -1.4,2 -2.6,.5 -2.4,-.6 -1.7,-2 -.1,-2.1 1.3,-1.8 2.6,-.6 2.9,.8 2.4,1.7 1.4,2.3 .4,2.4 -.5,1.3 -1.2,.5 -1.6,-.7 -1.5,-.4 -.3,-2.6 1.2,-2.4 2.5,-1.6 2.6,-.2 3.1,1.4 1.6,2.2 .4,3.3 -.9,2.6 -2.4,1.7 -2.2,-.1 -1.3,-1.2 -.6,-2.6 .7,-2.6 2.3,-1.7 2.5,-.2 3.5,1.2 2.4,2.6 .7,2.8 -.6,2.9 -1.7,2.6 -2.7,.9 -2,-.4 -.9,-2.4 -.3,-1.6 .9,-1.7 2.7,-.8 3.2,.6 3.5,2 1.9,2.7 .5,2.5 -1.4,1.1 -2.6,-.1 -2.2,-1.3 -1.6,-1.3 .2,-3.2 2,-3.1 3.7,-2 3.8,.7 2.5,1.9 2,2.9 .2,3.6 -1.5,2.7 -2.6,1.3 -2.3,-.2 -1.2,-3.2 -.5,-1.7 .9,-1.1 1.9,-.6 2.5,0 2.9,.9 2.2,1.5 .6,1.2 -.1,1 -1.5,.7 -1.4,-.1 -1.5,.2 -.7,-1 .2,-1.8 2.3,-1.5 3,-.4 2.8,.9 1.8,1.7 .6,1.9 -.8,1.9 -2.6,1.5" fill="none" stroke="#f8a368" stroke-width="0.98" stroke-linejoin="round"/>
<path d="M1832.1,490.6 l 2.6,0 2.2,1.9 .5,2.9 -1.2,3.1 -2.4,1.9 -3.2,1.1 -2.4,-.7 -.9,-2.4 1.4,-3.4 3,-2.9 2.3,-2.2 4.3,.8 3.7,2.6 1.7,3.4 -.8,4 -2.1,2.3 -3.2,.5 -2.7,-1.8 -1.5,-3.2 -.1,-4.1 2.3,-3.7 3.3,-2.1 3.9,.4 2.9,1.9 1.2,3 -.6,2.8 -1.8,2 -2.3,.2 -2.3,-1.5 -1.5,-3.5 .5,-3.4 2.1,-2.4 3.8,-1.5 3.2,0 2.4,1.4 1,2.7 -1.2,3.3 -2.6,1.6 -3.2,0 -3,-1.8 -1.9,-3.3 -.1,-4.6 2.3,-4 3.4,-1.9 4.3,.1 3.4,2.4 1.4,3.7 -.7,2.9 -2.4,1.9 -3.8,-.1 -3,-2.5 -1.5,-3.8 .6,-4 2.7,-3 3.7,-1.3 3.7,1.2 2.2,1.5 .1,2.3 -1.1,2.2 -2.1,1.5 -2.3,.4 -1.8,-1.1 -.3,-2.2 1.4,-2.5 2.7,-1.9 3,-1.1 3.1,.3 2.1,1.6 .6,2.6 -1.1,1.7 -2.2,1.4 -2.7,.2 -1.8,-1.3 -.8,-2.8 1.2,-2.7 2.4,-2.2 3.5,-1.7 2.9,-.7 2.6,2.8 .5,3.2 -1.2,2.5 -2.4,1.4 -2.9,-.2 -2.5,-2.5 -1.2,-3.6 .8,-3.2 2.5,-2.4 4.4,1 2,.2" fill="none" stroke="#f8a368" stroke-width="1.06" stroke-linejoin="round"/>
<path d="M1830.7,492.3 l 2.2,-.5 2.1,.6 1.1,1.5 .2,2.8 -1.3,2.6 -1.8,1.5 -1.8,.1 -.9,-1.5 .5,-2.3 1.4,-2.1 1.7,-2.9 2.9,-.5 3.2,.5 2.1,2.1 .7,2.7 -.9,2.3 -2.4,.6 -2.2,-.6 -2.2,-2.5 -.8,-3.2 .6,-3.1 2.5,-2.6 3.8,.3 2.2,0 1.4,1.1 .4,1.8 -.5,1.5 -1.3,1.2 -1.9,.3 -1.2,-1.2 -.7,-1.7 .6,-2.4 1.6,-2.5 1.2,-2.3 2.4,-.9 2.5,.6 1.7,1.8 .2,2.1 -1.6,1.7 -2.4,.7 -2.6,-.9 -2,-2.7 -.7,-3.7 1.4,-3.3 2.6,-2.5 3.6,-.5 3.2,.9 1.5,2 -.3,2.2 -1.8,1.3 -2.4,.3 -2.3,-.9 -1.2,-2 -.1,-2.6 1.6,-2.8 2.4,-1.8 3.9,-.1 2,.3 1,1.1 -.2,1.5 -1.2,1 -1.7,.6 -1.6,0 -.6,-.9 .3,-1.4 1.4,-1.5 1.9,-1.5 1.7,-1.5 2.6,0 1.6,.9 .8,1.3 -.5,1.1 -1.2,.7 -1.7,.3 -1.9,-.5 -1.1,-1.3 -.1,-1.9 .9,-1.4" fill="none" stroke="#f8a368" stroke-width="0.98" stroke-linejoin="round"/>
<path d="M1928,383.3 l 2.1,1.2 1,2.7 -.7,3.5 -2.3,3 -2.8,1 -2.6,-.5 -1.8,-1.5 -.4,-2.4 1.2,-3.1 2.2,-1.6 3.1,-.3 2.5,2 1.4,3.1 -.3,3.4 -1.7,2.8 -3.3,1.7 -2.8,-.3 -2.6,-1.4 -.8,-2.1 .4,-2.1 1.7,-1.4 2.3,-.1 2.4,1.5 .6,2.6 -.8,2.7 -1.8,2.8 -2.5,1.7 -2.7,-.1 -1.8,-1.3 -.9,-2.5 .3,-2.3 1.2,-1.5 1.6,-.3 1.4,1.1 .2,2.4 -1.1,3.2 -2.5,2.7 -3.2,1.2 -3,-.5 -1.9,-1.8 -.3,-3.2 .9,-2.6 2.2,-1.9 1.5,-.5 2.5,2.1 1.2,3.7 -.6,3.8 -2.2,3.4 -3.5,2.2 -3.4,-.5 -2.1,-2.8 .2,-3.2 1.4,-2.5 3.6,-1.8 3.8,1.1 1.9,2.2 .3,3.3 -1.2,3.3 -2.4,3 -2.8,1.7 -2.3,-.1 -2,-1.7 -.3,-2.4 1.1,-2.6 1.8,-1.7 2.3,-.3 1.7,1.4 1.1,2.9 -.5,3.6 -1.8,2.6 -2.6,1.7 -3.7,.1 -2.4,-1.8 -1,-2.6 .3,-2.1 1.7,-1.8 2.1,-.3 2.4,.5 1.3,1.9 -.5,3.4 -2.5,3.1 -3.2,1.7 -3.9,.2 -3.6,-1.9 -1.9,-3.5 .4,-3.6 2.8,-2.9 3.6,-1.1 4.4,1.3 1.9,2.9 -1.5,3.5 -3.4,3.3 -4,.8 -3.2,-1.5 -1.4,-2.2 1.6,-2.8 3.3,-1.4 3.6,.9 2.1,1.7 1.1,2.5 -.9,1.8 -1.9,1.2 -3.1,-.3 -2.9,-1.4 -2,-2.7 -.6,-2.6 1,-1.9 2.3,-.8 2.2,.6 2.3,1.8 .5,1.9 -1,1.9 -2.3,1.1 -3.1,-.2 -3.1,-1.9 -2.1,-2.9 -.3,-3 1.2,-1.9 2.2,-.5 2.7,1.2 1.8,2.3 .4,2.6 -.9,2.3 -3.1,1.4 -4,-.8 -3.6,-2.6 -2.2,-3.2 -.9,-3.2 1.4,-2.2 2.9,-.8 3.9,1.4 2.5,3 1.5,4" fill="none" stroke="#f8a368" stroke-width="1.06" stroke-linejoin="round"/>
<path d="M1926.9,384.5 l 1.5,.5 .6,1.7 -.5,2.5 -1.8,2.3 -2,1 -2.2,-.2 -1.6,-1.2 -.7,-1.8 .9,-1.8 1.7,-1.1 2.3,.1 1.6,1.4 .8,2.3 -.3,3.5 -1.5,3 -1.8,2.1 -1.8,.7 -1.4,-.6 -.2,-1.8 1.3,-2.1 1.7,-1.3 1.4,-.9 2.4,1.3 1.6,3 -.2,4.1 -1.9,3.4 -2.9,2 -3,.1 -2.3,-1.6 -.8,-2.5 .4,-2.2 1.8,-1.9 2.9,-.6 2.3,1.3 .7,2.5 -.2,3.1 -1.1,2.9 -2.4,2.5 -2.7,1 -1.9,-.6 -.7,-1.4 1.2,-2.2 1.4,-1.2 1.6,-.8 1.5,1.5 .7,3 -.8,2.9 -2.3,1.8 -2.9,.8 -2.5,-.2 -1.2,-1.6 .1,-1.4 .7,-1.2 1.6,-.5 1.6,.2 .6,1.3 -.1,2.1 -.9,2.6 -1.8,2 -2.1,1.3 -2,.1 -1.3,-1.1 -.7,-1.5 .2,-1.6 1.4,-1.1 1.4,0 1.1,.9 .2,2.5 -1.1,2.5 -2.2,1.9 -3.1,.7 -2.7,-.9 -1.2,-1.9 -.2,-2.1 1,-1.3 1.7,-.4 1.3,.3 .9,2.9 -1,3 -3.3,2.6 -4.3,.1 -4.2,-2.7 -1.2,-4.2 1.3,-2.9 2.6,-1.7 3.5,.9 1.4,2.2 -.6,3.1 -2.3,1.8 -3.5,.2 -3.3,-1.4 -2.2,-2.6 -.6,-3.4 .9,-2.1 1.8,-1.6 2.2,-.1 1.9,1.3 .6,1.9 -.9,1.8 -1.8,1 -2.5,-.2 -2.6,-1.8 -1.6,-2.6 -.7,-3.7 1.4,-2.7 1.6,-1.8 2.5,-.2 1.7,.7 1.1,2.1 -.6,2.4 -2.1,2.1 -2.4,.6 -2.4,-.8" fill="none" stroke="#f8a368" stroke-width="0.98" stroke-linejoin="round"/>
<path d="M1854.7,434 l -.8,-2.5 .8,-2.1 2.3,-1.1 3,.1 3.1,1.8 2,3 -.2,2.9 -1.7,2.4 -3.2,1.1 -3.2,-.4 -2.3,-1.5 -.8,-1.8 1.6,-2.4 3,-1.2 4.2,.2 3.8,2 1.9,3 -.1,3 -1.5,2.2 -2.8,.7 -2.7,-1.7 -1.4,-2.9 .2,-4.4 1.5,-2.9 2.8,-2 4.3,-.4 3.5,1.4 2,2.7 0,3.3 -1.6,2.1 -2.3,.6 -2.8,-1 -2,-3.3 -.1,-2.9 1.7,-2.4 3,-1.2 4.1,.3 3.9,2.4 2,3.6 -.1,3.7 -2.4,2.5 -2.8,.6 -3.3,-1.3 -1.6,-3.9 -.1,-3 2.4,-2 4.1,-.4 3.7,.9 3,1.9 1.7,2.5 -.2,2.7 -1.8,1.4 -2.9,-.4 -2.7,-1.9 -1.9,-1.8 .7,-3.6 3,-3 3.2,-.7 3.8,1.5 2.5,3.2 1.1,4.3 -1,3.5 -2.5,2.3 -3.5,.5 -2.3,-1.2 -.7,-3.3 -.1,-2 1.7,-1.4 3.1,.1 3.9,1.4 3.4,2.9 1.5,3.4 -.9,2.8 -2.7,1.7 -3.1,0 -3.3,-1.4 -2.9,-1.4 1.6,-3.5 3.3,-2.1 4.7,-.5 4.3,2.3 2.4,4.4 .1,4.5 -2,4 -3.5,2.3 -4.7,-.3 -2.9,-2.6 -.2,-4.5 .9,-2.7 3,-1.9 3.8,.1 4.3,2.2 2.9,3.4 .8,3.8 -1.2,3.3 -2.9,1.5 -3.6,-.2 -3.3,-2.5 -.6,-3.4 1.6,-2.5 3.3,-1.4 3.2,.3 3.2,2 1.8,2.7 .3,3 -1.3,2.7 -2.1,1.4 -2.2,-.5 -1.4,-2.1 -.4,-2.3 1.3,-2.1 2.5,-1.1 3.2,.2 2.6,1.4 1.7,2.1 .5,3.1 -.8,2.7 -2.2,1.7 -2,.2 -1.6,-1.6 -1.1,-2.1 1.2,-3.1 2.9,-3 4.2,-1.3 3.6,.6 2.8,2.3 1.5,3.1 -.4,3.3 -1.6,2.1 -2.8,.7 -2.7,-1.3 -1.8,-3.6 -.2,-3.9 1.5,-3.1 3.2,-2.4 4.7,-.4 3.5,1.7 2.5,3.4 .2,4.2 -2,2.8 -2.8,1.1 -3,-.8 -2,-2.2 -.7,-3.3 1,-3.4 2.6,-2.8 3.6,-1.3 3.6,.6 3.3,2.8 1.6,3.5 -.4,3.4 -2.4,2.6 -2.9,.8 -2.7,-1.1 -1.4,-2.7 .2,-2.6 1.7,-2.4 2.9,-1.3 3.5,.3 2.9,1.7 1.9,3.1 0,3 -1.2,2.6 -2.6,1.7 -2.8,-.1 -2.6,-.7 -.5,-2.4 1.4,-3.3 3,-1.8 4.7,-.6 3.7,1.8 2.3,3.8 -.8,4.7 -2.4,3.3 -4.8,1.6 -3.6,-1.7 -.5,-6 -.1,-2.2 2.4,-1.9 3.4,.5 4,2.1 2.4,3.1 .5,2.8 -.7,2.2 -1.9,.5 -2.4,-1.1 -2.2,-2.6 -1.3,-2.5 1.4,-2.5 2.6,-1.6 3.8,.1 3,1.7 1.8,2.4 .3,3.3 -1.2,2.4 -2,.7 -2,-1.1 -1.4,-2.2 .2,-3.7 1.5,-2.2 2.4,-.6 3.6,1.1 3,2.6 2.2,3.9 .3,2.5 -.9,1.6 -2.2,-.1 -3.2,-1.8 -2.6,-3.3 -.2,-3.8 1.8,-2.5 3.3,-1 3.5,.8 3.1,2.1" fill="none" stroke="#f8a368" stroke-width="1.06" stroke-linejoin="round"/>
<path d="M1856.3,433.4 l -.6,-2.6 .8,-2.1 2.2,-1.3 2.8,.2 2.2,1.3 1.7,1.9 .3,2.1 -.8,2.3 -2.1,1 -2.1,-.5 -1.1,-1.1 -.4,-1.6 1,-1.6 2.4,-1.2 2.8,.1 2.6,1.4 1.9,2.2 .5,2.1 -.7,1.8 -1.5,1.3 -1.9,-.1 -1.3,-1.5 0,-2.1 .6,-1.7 2.1,-1.5 2.9,-.4 2.9,.9 2.2,1.4 1.1,1.9 -.2,2.1 -1.3,1.1 -2.2,0 -1.8,-1 -.9,-1.4 .4,-.9 1.6,-.9 2.9,-.1 2.9,.8 2.7,1.9 .8,2.1 -.4,1.5 -1.4,1.1 -2,-.1 -1.7,-.9 -1,-.7 .4,-1.4 1.6,-1.2 2.6,-.3 3.1,.7 2.7,2 1.5,2.4 -.1,2 -2,1.1 -2.1,-.2 -2.1,-1.7 -.7,-2.3 1.6,-2.1 2.5,-1.6 2.7,0 2.9,1.6 1.6,2.2 .4,2.4 -.5,2.2 -1.1,.6 -1.5,-.5 -1.1,-1.2 -.4,-2.1 .7,-2.3 2.3,-1.3 2.8,0 2.7,1 2.4,2.7 .5,3.6 -1.1,2.8 -2.2,1.8 -2.2,.2 -2.1,-.9 -.9,-1.9 .4,-1.7 1.8,-.7 2.3,.2 3.2,1.6 2.3,2.5 .9,3.3 -.4,3.3 -1.6,3 -2.9,1.3 -2.8,-.1 -1.8,-2.3 -.1,-3.1 1.4,-1.9 2.4,-.5 3.7,.6 3.7,1.9 1.9,2 1,1.8 -.9,1.3 -1.6,.8 -2.2,-.5 -1.4,-1.4 -.8,-1.5 1.1,-2.4 2.8,-2 3.2,-.6 3.9,.7 3,2.1 1,2.3 -.4,2.7 -1.9,1.6 -3,-.1 -1.7,-1.8 -.6,-2.2 1.3,-2.1 2.4,-1.4 3.3,-.6 4.1,.9 2.5,1.6 1.3,2.4 -.3,2.2 -1.7,.9 -2.2,-.5 -1.6,-1.7 -.9,-2.5 1.1,-2.4 2.8,-1.7 3.7,-.2 3.3,1.3 2.5,1.9 .8,2.7 -1.3,2.3 -2.3,.8 -2.3,-.8 -1.5,-2.4 .2,-2.2 2.4,-2 2.5,-.2 3,.7 2.3,1.7 1.4,1.9 -.1,1.9 -1.2,1.3 -1.5,0 -1.2,-.9 -1,-.8 .4,-1.9 1.5,-1.3 2.7,-.3 3.1,1.4 2.2,3 .4,3.8 -1.8,3.1 -2.8,1.8 -2.7,-.1 -2,-1.7 -.3,-2.2 1.9,-2.5 2.7,-1.3 4.2,.3 3.2,1.7 1.8,2.7 0,3.4 -1.5,2.1 -2.7,1.1 -2.4,-.6 -.8,-1.8 .7,-4 1.3,-2.1 2.1,-.9 2.9,.4 2.4,1.5 1.2,2" fill="none" stroke="#f8a368" stroke-width="0.98" stroke-linejoin="round"/>
<path d="M1868.4,507.6 l 2.5,-1.4 2.7,.2 1.7,1.6 .5,3.3 -1.2,3 -2.7,2.4 -2.7,.5 -2.4,-1.3 -1.3,-2.7 .2,-3.5 2.5,-3.6 3.4,-1.6 3,.4 2.1,1.6 .4,2.9 -1,2.6 -1.9,1.3 -2,-.4 -1.6,-1.8 .2,-2.1 1.5,-2.4 2.6,-2.3 2.8,-.6 3.2,.6 1.7,2 .3,2.3 -.7,2 -1.5,1.1 -2.1,0 -1.6,-1.7 -.3,-2.5 1,-2.6 2.2,-2.4 2.6,-1.2 2.8,0 1.7,1.7 .4,2.5 -.9,2.7 -2,1.5 -2.7,.3 -2.4,-1.5 -.7,-2.7 1.4,-3.9 1.8,-4.5 4,-1.2 4,1 2.9,3.3 .5,3.7 -1.6,2.4 -3.4,1 -4.5,-1.2 -3.7,-3.6 -1.3,-4.9 1.1,-4.8 5,-1.7 2.9,-.6 2.5,1.1 1,1.7 -.2,2.2 -1.8,1.7 -2.7,1 -2.2,-.8 -1.3,-2.2 0,-2.7 1.7,-2.9 2.3,-2 3,-.6 3,1.1 1.4,2.5 .2,2.7 -1.2,2.3 -2.6,1.2 -2.7,-.7 -1.3,-2 .2,-3.5 2,-2.8 3.5,-1.6 3.2,-.8 3.1,1 1.8,2.7 -.2,3.4 -1.9,3.1 -3,.6 -2.6,-1.3 -1.5,-3.4 .4,-3.3 2.5,-3.6 3,-2.4 3.2,-.2 2.1,1 .8,2.4 -.7,2 -2,1.8 -2.1,.4 -2.5,-1 -1.5,-2 -.2,-2.8 1.2,-2.9 2.4,-2.6 2.9,-.6 2.6,.4 1.4,1.8 .2,2 -1.1,1.6 -2.1,.7 -2.3,-.4 -1.4,-1.6 -.6,-2.6 1,-2.6 2.1,-1.9 2.7,-1.6 3.1,.2 2.7,1.9 1.4,3 -.2,2.9 -1.6,2.1 -2.7,.6 -2.4,-.9 -1.8,-3.1 .3,-3 2,-3.6 4.1,-1.3 3.3,-.6 2.1,1.1 .5,2 -1.1,1.9 -2.1,1.2 -2.2,.3 -1.9,-1 -1.2,-2.6 .3,-3.2 1.8,-2.7 2,-2.8 4,.3 2.7,1.6 1.1,3.2 -.9,2.8 -2.8,2 -4,-.2 -3.3,-2.6 -1.9,-4.3 .3,-4.4 2.3,-4 5.4,-.8 3.9,.4 1.9,2 0,2.7 -2.1,3.2 -3.6,1.9 -3.6,-.4 -2.2,-2.4 0,-3.9 2.1,-3.7 4.2,-3 4.1,-.7 2.7,1.2 1,1.9 -.7,2.2 -2.3,1.9 -3,.3 -2.4,-1.3 -.8,-2.5 .8,-2.5 1.8,-2.2 3.4,-1.2 3.6,-.3 2.3,1.3 1,2.2 -.5,2.5 -1.9,1.6 -3,-.1 -2.5,-2 -1.1,-2.7 .6,-2.7 2.3,-2.6 3.4,-1.5 3.6,.3 2.7,1.1 1.3,2 -.2,3.3 -2.5,2.1 -2.7,.5 -2.9,-1.2 -1,-2.5 .9,-3.2 3.2,-2.6 3.2,-2.8 3.5,.5 2.6,2.4 1.2,4 -.8,2.7 -2.7,1.8 -2.9,.3 -2.9,-1.8 -1,-3.3 .9,-3.6 1.9,-2.8 3.3,-1.5 3.8,.9 2.6,2.5 1.2,2.6 -.8,2.6 -1.9,1.5 -3,.1 -2.2,-.9 -1,-2.4 .3,-2.8 2,-2.9 3.1,-1.8 2.9,.6 2.5,2.4 1,2.5 -.5,2.4 -1.5,1.7 -1.9,.6 -1.8,-1.1 -1.2,-2.2 .4,-2.6 1.4,-2.4 2.3,-1.5 2.8,-1 2.7,.8 1.9,2.5 .3,2.5 -1.7,2.4 -2.4,.8 -2.8,-.1 -2.6,-2.6 -1,-3.4 .7,-3.5 3,-3.1 4.5,.2 3.3,.2 2.3,2.4 .3,2.9 -1.2,2.5 -2.2,1.5 -2.3,.1 -1.3,-1.4 .1,-2.7 1.3,-2.4 2.3,-2.1 2,-2.6 3.7,.9 1.9,2.6 .1,3.8 -1.6,2.6 -2.9,1.3" fill="none" stroke="#f8a368" stroke-width="1.06" stroke-linejoin="round"/>
<path d="M1866.9,511.6 l 1,-2.4 1.8,-1.7 2.2,-.3 1.9,1.2 .5,2.2 -.6,1.9 -1.4,1.4 -1.7,.7 -2.3,-.7 -1.1,-2.4 .7,-2.5 1.6,-2.5 2,-1.8 2.3,-.5 1.3,.3 .4,1.3 -.4,1.4 -1.3,.9 -1.7,.3 -1.1,-.8 -.5,-1.7 .3,-1.9 1.5,-2.4 2.1,-1.4 2.2,-.4 1.8,.3 .9,1.5 -.3,1.5 -.9,.9 -1.4,-.1 -1,-1 -.3,-1.3 .4,-2.1 1.4,-2.3 2.1,-1.5 2.7,-.4 2.2,1.2 .7,2.4 -1,2.3 -2.1,1.1 -2,-.3 -1.2,-1.6 0,-3.3 .1,-4.1 2.5,-2.7 2.8,-.7 2.9,.5 1.5,1.8 0,2.4 -1.6,1.6 -2.1,.4 -2.6,-1 -2.1,-2.5 -1.2,-3.3 1.2,-2.9 1.7,-2.8 2.9,-1.6 2.7,-.1 1.8,.8 .6,1.4 -.6,1.9 -1.5,.9 -1.6,.1 -1.5,-1.3 -.4,-2 .7,-2.1 2,-2.5 2.3,-1.7 2.8,-.6 1.6,.8 .8,1.9 -.7,2.4 -1.4,1.6 -1.8,.9 -1.9,-.3 -.5,-1.9 1.2,-3.2 2.3,-3.4 3.5,-1.9 2.9,-.4 2,1.2 .5,2.3 -1.2,2.6 -2.5,1.8 -2.6,0 -1.7,-1.5 -.3,-3 -.3,-4.6 2.3,-2.8 2.7,-1.3 3.6,.3 2.1,1.3 1.3,3.2 -.3,2.4 -1.3,1.5 -2.3,.3 -1.7,-1 -1,-2.5 .4,-3.4 3,-1.6 3.1,-1.9 3.6,-.4 2.5,1.1 1.1,2.7 -.3,2.8 -1.5,1.7 -1.9,.9 -1.6,-.7 -.7,-1.9 .9,-2.8 1.2,-3.6 3.1,-2 3,-.1 2.8,1.4 1.5,2 .1,2.4 -1.1,2.2 -2.5,.8 -2.5,-.8 -1.8,-2.4 -.7,-3.6 2.1,-3.1 2.5,-2.1 2.7,-1 2.7,.8 1.2,1.7 -.3,2.3 -1.4,1.3 -2.5,0 -2.4,-1.4 -.8,-2.8 .3,-2.5 1.5,-3.3 3,-1.8 2.9,-.4 3,1.3 1.6,2.6 -.5,3 -2.1,2 -2.7,.1 -2.1,-1.9 -1.1,-2.9 .8,-3.3 4,-.8 4,-.7 3,.5 2.3,1.3 .6,1.9 -1,1.9 -1.9,1.4 -2.7,.6 -2.3,-.8 -.1,-1.5 1.2,-1.7 2.2,-1.8 3.6,-.8 3.9,.6 2.8,2 1.6,2.4 -.2,2.6 -1.6,2.1 -2.9,1.1 -2.2,-.6 -1.4,-2 -.1,-2.2 1.5,-2.5 3.2,-2.5 3.2,-1.1 3.4,0 1.9,1.4 1.1,2.3 -.7,2.2 -2.2,1.5 -2.6,0 -2,-1.7 -1.1,-2.8 .6,-3.3 2.6,-3.4 2.7,-1.6 3.3,-.3 2,.7 .6,1.6 -.9,1.7 -2.3,1.2 -2.4,-.4 -1.6,-1.3 -.9,-2.4 .8,-2.5 1.7,-2.4 2.4,-1.2 2.7,-.2 1.7,1.3 .5,2.1 -.5,1.4 -1.5,1 -1.4,0 -1.5,-1.3 -.6,-2.2 1.2,-2.7 2.7,-1.1 1.8,-.6 1.6,.2 .7,.8 -.3,1.4 -1,1.4" fill="none" stroke="#f8a368" stroke-width="0.98" stroke-linejoin="round"/>
<path d="M1909.6,425.4 l 1.5,3 -.5,2.2 -2.1,1.1 -3,-.5 -2.9,-2.4 -1.3,-3.3 .6,-3.4 3,-2.3 3.3,-.7 4.2,1.2 3.1,2.8 .6,3.7 -1.8,2.6 -2.2,.9 -2.4,-.5 -1.5,-1.5 -.8,-2.3 1.2,-2.2 2.6,-1.5 2.8,-.1 2.6,1 1.8,3.2 1.5,2.7 .2,2.4 -1.5,1.4 -2.5,.4 -3.2,-1.8 -2.1,-2.6 -.7,-2.4 1.2,-2.3 3.5,-.7 4.3,1.2 3.4,2.8 2,3.1 -.6,4 -2.4,2.6 -3.2,.8 -3.2,-.9 -2.2,-2.2 -.5,-2.5 1.6,-2.1 3.3,-.7 3.1,1 3.3,3 2.2,3 .3,2.9 -1.5,2.1 -3.6,1 -3.6,-.6 -2.2,-1.6 -1,-2.3 1.7,-1.5 2.7,-.6 3.9,.8 4.5,1.6 2.2,3.6 .1,3.5 -1.8,2.9 -2.9,1.5 -3.1,0 -2,-1.9 -.9,-2.6 1,-2.6 2.8,-2.4 4.1,-.7 4,-.4 2.8,3.2 .7,3.7 -1.7,3.9 -3.4,2.3 -3.2,-.3 -2.6,-1.9 -1.1,-3.6 1.1,-4 2.9,-3.1 4.6,-1.5 4.5,.8 2.9,3.8 1.5,2.8 -.7,2.3 -2.5,1.5 -3.1,-.6 -3,-2 -2.2,-3.9 .6,-4.1 2.4,-3 4.5,-1.7 5.6,.8 3.7,3.1 1.1,3.4 -1.6,3 -3.3,1.1 -4,-1.1 -2.6,-3 -.5,-3.4 2,-3.4 3.7,-1.6 4.2,.3 3.6,1.5 2.6,2 -.2,3.6 -2.4,2.9 -2.9,1.2 -2.1,-.6 -1.4,-2.3 .1,-3.2 1.7,-2.4 3.2,-1.3 2.9,.5 3,2.3 1,3.2 -.6,3.8 -2.2,2.7 -2.4,1.2 -1.7,-.4 -1.4,-1.7 .2,-1.7 1.6,-1.9 2.5,-1.1 2.6,-.1 2.5,1.4 1.5,2.8 .6,3 -1.4,2.2 -2.5,1.3 -3,-.3 -2.3,-1.6 -1.2,-2.7 .4,-2.8" fill="none" stroke="#f8a368" stroke-width="1.06" stroke-linejoin="round"/>
<path d="M1907.1,431.9 l -2.6,-.1 -2.1,-1.1 -1.7,-1.9 -.2,-2.3 1.2,-1.6 2.3,-.5 3.2,1.3 1.8,2.1 .9,2.7 -.2,2.8 -1.2,1 -2.1,.1 -1.7,-1 -.8,-1.9 .3,-2 2,-1.6 2.8,-.6 3.1,1.2 3.1,2.2 1.3,2.4 -.3,1.8 -1.7,.4 -1.3,-.8 -1.1,-1.8 -.3,-2.4 .9,-2.2 2.3,-1.7 3.1,-.4 3,1.2 1.9,2.5 .7,2.3 -.5,1.8 -2,.9 -2.1,.1 -1.7,-1.3 -.2,-1.9 .5,-2 2,-1.2 2.3,0 2.1,1.2 1.9,1.7 .7,2.1 .1,2.5 -1,2.2 -1.7,1.1 -2.3,0 -1.8,-1.2 -.6,-2 .9,-1.8 2.1,-1.4 3.1,-.2 3,.9 2.4,2.6 1.1,3.5 -.5,3.2 -2,1.5 -2.2,.3 -1.8,-1.3 -1,-2.5 .7,-2.8 2.2,-2.6 2.6,-1.6 3.1,-.3 3,1.4 1,1.3 -.1,1.6 -1.3,.6 -1.3,-.3 -1.6,-1 0,-1.9 1.2,-1.7 2.3,-.8 2.9,.5 2,1.8 1.2,2.3 .3,2.5 -1.1,2 -1.7,.7 -1.8,-1.1 -.5,-2.2 .6,-2.6 2.1,-2.2 3,-.9 3.2,.6 1.7,2 .8,2.9 -.7,2.9 -1.6,1.7 -1.8,.5 -1.4,-.4 -1.1,-1.1 0,-1.7 1.1,-.8 2.1,0 2.7,1 1.9,1.9 1.4,2.7 -.1,2.6 -.8,1.7 -1.4,.7 -1.4,-.6 -1.2,-1.7 .1,-2.7 1.2,-2.4 2.3,-1.4 3.2,.1 2.2,1.5 1.3,2.6" fill="none" stroke="#f8a368" stroke-width="0.98" stroke-linejoin="round"/>
<path d="M1922,482.4 l -3,.5 -3,-1 -2.5,-2.7 -.4,-3 1.7,-2.9 3.3,-1.4 3.3,.4 2.8,1.3 1.7,2 .2,2.3 -1.5,1.7 -2.7,.4 -2.9,-.1 -2.5,-1.7 -.8,-2.7 1.3,-2.1 3.2,-1.2 4.5,.4 3.8,1.8 2.9,2.9 .8,3.3 -1.4,3.2 -3.2,1.3 -3.4,-.2 -2.8,-1.6 -1.1,-2.6 1.2,-2.1 2.8,-1.2 4.1,.1 4,1.5 2.3,2.6 .3,2.5 -1.7,2 -3.4,1.5 -3.9,-1 -2.9,-2.6 -.4,-3.3 1.6,-2.3 3.6,-1.6" fill="none" stroke="#f8a368" stroke-width="1.06" stroke-linejoin="round"/>
<path d="M1914.7,476.3 l 1.8,-1.6 2.7,-.4 2.5,.9 1.7,1.9 .2,1.9 -.9,1.7 -1.9,.9 -1.8,0 -1.6,-1 -.4,-1.8 1.1,-2.5 2.6,-1.8 3,0 2.8,1.5 1.8,2.3 .4,2.7 -.6,2.3 -1.8,1.2 -2.1,-.4 -1.5,-2.1 .4,-2.8 1.7,-2.2 2.2,-1.5 3.4,-.5 2.9,.7 1.2,1.4 -.2,1.7 -1.7,1 -2.3,0" fill="none" stroke="#f8a368" stroke-width="0.98" stroke-linejoin="round"/></g>
<g opacity="0.95"><path d="M670.5,810.5 l -2.4,-3 -.8,-3.3 1.3,-3.1 2.6,-1.5 3.4,.4 3.1,2 1.8,3.4 -.2,3 -1.7,2.3 -2.6,.9 -3.7,-.6 -3.5,-1.4 -1,-3.6 1.2,-3.3 3,-2.1 4,0 3.3,1.8 2.4,3.9 .4,5 -1.6,3.4 -3.5,2.4 -4.5,-.1 -3.2,-2.9 -.9,-3.3 1.1,-2.9 2.8,-2.1 3.7,0 3.4,2 2,3.8 -.1,3.3 -1.7,2.8 -2.7,1.8 -2.9,-.1 -1.7,-2.9 -1.6,-2.7 0,-2.6 1.9,-2 3.1,-.1 3.4,1.8 3,3.3 1.3,3.6 -.5,3.2 -2.2,1.5 -2.8,-.5 -3.8,-2 -.9,-3.2 .7,-3.1 2.5,-2.3 3.4,-.8 3.6,1.1 2.4,2.2 1.1,3.3 -.8,2.8 -2.1,1.6 -3,.3 -1.5,-1.7 -1.8,-2.5 -.3,-2.2 1,-1.4 2.4,.5 2.9,2.4 1.5,3.1 .3,3.5 -.8,2.7 -2,1.5 -3.4,-.1 -3.5,-.7 -1.2,-3.4 .9,-3.5 2.9,-2.7 4.5,-1 4.4,1.2 2.9,2.4 1.4,3.7 -.6,2.5 -2.4,1.8 -3,0 -2.9,-1.7 -1.1,-3.2 .5,-3.8 2.3,-2.7 3.5,-1.5 4.3,.5 3.4,2.6 1.6,3.8 -.9,4.7 -2.6,3.1 -3.7,1.1 -3.5,-1 -2.7,-3.1 -.4,-4.1 1.5,-2.8 3.1,-1.4 4,.7 3.3,2.9 1.6,4.6 -.9,4.6 -3.3,3.8 -4.8,1.4 -2.9,-2.6 -2.7,-3.1 -.9,-3 1.1,-2.9 2.9,-1.2 3.8,1.1 3.3,3 2,3.7 .4,3.7 -1.5,3.2 -3,1.3 -3.6,-.6 -4,-1.8 -.7,-3.7 1.4,-3.9 3.5,-2.2 4.5,-.1 3.8,1.6 2.6,3.3 .7,3.1 -.9,2.2 -2.1,.8 -2.4,-1.3 -2.7,-2.5 0,-4.3 2,-3.7 3.9,-2.2 5.4,.1 4,2.2 2.1,3.5 -.1,4 -1.9,3.3 -4,2 -3.5,-1 -2.1,-3.8 -.8,-3.2 1.8,-3.6 3.6,-1.7 3.8,.6 2.9,2.9 1.1,4.3 -1.1,3.5 -2.6,2.6 -3.1,.7 -2.9,-1.1 -.9,-2.7 -.5,-3 .9,-1.8 2.1,-.6 2.3,1.1 2.2,2.2 1.3,2.9 0,2.8 -1.1,2 -2.1,.7 -2.1,-1 -2.9,-1.5 -.3,-2.7 1.2,-2.3 2.6,-1.6 3.5,.1 3.4,2.3 1.3,3 -.3,3.7 -1.9,2.9 -3,1.6 -2.9,-.4 -2.4,-2.3 -1,-3.6 1,-3 3.2,-2.5 4.1,-.1 3.7,1.7 2.7,3.6 .7,4.1 -1.2,2.6 -2.9,.9 -3.6,-.7 -1.8,-2.6 -1,-3.4 .8,-2.4 2.7,-1.3 2.9,.6 2.8,1.9 1.4,2.7 .2,2.9 -1.3,2.9 -2.6,1.1 -2.6,-.8 -1.6,-2.2 -.8,-2.3 .6,-2.3 2.1,-1.2 2.8,.7 2.6,2.8 1.2,3.8 -.3,3 -2,2.8 -2.8,.6 -3.2,-.9 -4,-1.1 -.6,-2.8 .8,-1.8 1.8,-.7 2.4,.9 1.6,2.3 .6,3.4 -.3,3.2 -1.4,2.6 -2.3,1.2 -2.9,-.4 -2,-1.9 -.7,-3 1.1,-3.3 2.9,-2.4 4,-.7 4.5,1.8 2.8,3.3 1,4.2 -1.3,4 -3.4,2.4 -4.1,.1 -1.8,-3.7 -.8,-3.8 1.3,-3.2 2.3,-1.4 2.7,.4 2.3,2.2 1.2,2.8 -.1,3.6 -1.5,3.1 -3.1,2 -3.1,.3 -1.9,-1.5 -1.2,-2.7 .3,-3.3 1.9,-2.1 3.6,-.6 3.6,1.8 3.1,3.4 1,4 -.8,3.4 -2.2,1.4 -3.2,-.7 -3.7,-2.1 -1,-3.6 1.2,-3.2 3.1,-2 4.4,-.1 4,2.1 2.3,3.7 .2,4.2 -1.8,3.4 -3.5,1.4 -3.4,-.9 -3.2,-1.8 -1.1,-3 .5,-3.1 3.1,-2.4 3.6,-.3 3.6,1.5 2.5,3.7 .5,4.6 -2,3.8 -3.4,2 -3.7,0 -2.4,-3.2 -.9,-3.4 1,-3.2 2.7,-2.2 3,-.3 3.5,1.7 2.7,3.7 .7,4 -1.6,3.6 -2.9,1.4 -3.8,-1.1 -3,-2.3 -.2,-3 2,-3.4 3.4,-1.9 3.6,0 3.4,2.2 1.8,3.7 -.2,3.2 -1.9,2.2 -3.1,.7 -2,-2.7 -1.7,-2.6 -.6,-2.6 .6,-2 1.6,-1 2.3,.5 2,2.1 1,3" fill="none" stroke="#2cc2f2" stroke-width="1.25" stroke-linejoin="round"/>
<path d="M668.9,802.9 l 1.9,-1.5 2.3,-.1 2.4,1.5 1.4,2.3 .4,2.8 -.9,2 -2,.7 -2.3,-1.1 -1.5,-2.2 -.7,-3.1 1.1,-2.8 2.4,-1.1 2.8,.3 2.6,1.8 1.9,2.6 .5,3 -.9,2.5 -1.9,.8 -2.5,-.9 -1.5,-1.7 -.5,-2.5 1.3,-2.4 2.2,-.9 2.7,0 2.7,1.2 1.7,2.3 .4,2.4 -.6,1.7 -1.7,1.1 -1.8,-.1 -1.6,-1.3 -.6,-1.8 .6,-1.6 1.4,-.3 1.6,1 1.6,2.2 .7,2.8 -.3,2.5 -1.2,1.7 -1.8,.5 -2,-.4 -1.3,-1.2 -.6,-1.7 0,-1.4 1.4,-1.2 2.2,0 2.6,1.4 1.6,2.5 .3,3.2 -1.2,2.7 -2,1.3 -2.8,-.2 -2.4,-1.7 -1,-2.5 .5,-2.3 2.7,-1.5 3.3,.2 3,2.3 1.7,3.1 -.3,3.9 -2,3.2 -3.4,1.3 -3,-.5 -2.6,-2.3 -.7,-3.2 1.5,-2.4 2.2,-.8 3.2,1 2.8,2.2 1.9,2.9 .3,2.9 -1.3,2.6 -2.6,1 -2.2,-.6 -1.8,-1.9 -.5,-3 .7,-2.2 3.3,-2 4.1,-.2 3.1,1.6 1.7,3 -.2,4.2 -2,2.8 -3.4,1.9 -3.4,-.3 -2.6,-2.2 -.6,-3.1 1.6,-2.5 3.2,-1.2 3.5,.4 2.6,1.8 1.7,2.4 .2,2.9 -1.2,2.4 -2.2,.8 -2.1,-.4 -1.6,-1.6 -.4,-2.4 1,-2.4 2.1,-1.2 2.3,.7 1.9,1.7 1.2,3.2 -.1,2.6 -1,1.9 -2,.7 -1.9,-.6 -1.2,-1.5 -.3,-1.6 .5,-1.4 2.1,-.9 2.9,.5 2.5,1.8 1.4,3 -.3,2.8 -1.6,2.1 -2.7,.1 -2.1,-1.8 -.6,-2.5 .8,-3.3 2.4,-2 3.3,-.3 3.2,1.4 2.2,2 1.1,2.6 -.5,2.9 -2,1.3 -2.4,-.3 -2.2,-1.8 -.7,-2.4 .7,-2.3 2.1,-1 2.5,.6 2.6,2.3 1.2,3 -.1,3.3 -1.3,2 -2.1,.3 -2.2,-1.2 -1.1,-2.4 -.1,-2.1 1,-1.8 2.6,-.9 2.7,.9 2.1,2 1.2,3.2 -.5,3.2 -1.9,2.5 -2.7,.7 -2.4,-.9 -1.8,-2 -.5,-2.6 1.5,-2.6 2.3,-1.1 3.2,.6 2.5,1.8 1.1,2.5 .2,3.1 -1.5,2.1 -2.2,.7 -2.1,-.9 -1.5,-1.9 0,-2.4 1.2,-2.2 2.2,-1.1 2.7,.1 3.3,1.9 1.9,2.5 .8,3.1 -.7,2 -1.8,.8 -1.8,-.7 -1.9,-2.2 -.7,-2.8 .6,-2.5 2.1,-1.9 3.6,-.7 3.5,1 2.9,3 1.2,3 -.7,3.3 -2,2 -3.5,.7 -3.4,-.9 -2.5,-3 .1,-3.5 2.7,-2.5 2.9,-.3 2.9,1.1 2.3,2.9 .8,3.3 -.6,3.3 -2.5,2.1 -2.6,.4 -2.5,-1.4 -1,-2.9 .5,-3 1.6,-1.9 1.9,-.4 2.4,1.3 2.4,2.9 1.2,3.1 -.4,3.5 -1.7,2 -2.6,-.1 -2.3,-1.8 -1.5,-2.8 0,-2.8 1.1,-2.2 4,-1.1 3.5,.7 2.7,2.2 1.6,3.8 -.9,3.7 -2.6,2.3 -3.3,.6 -2.9,-1 -1.7,-2.6 .3,-3.6 2.6,-2.4 2.8,.1 2.2,1.4 1.7,2.5 .6,2.8 -.8,2.7 -1.8,1.7 -2.4,.4 -2.1,-.7 -1.6,-1.4 -.8,-1.2 .4,-1.1 1.4,-.3 2.1,1.5 1.5,2.1 .8,3.1 -.1,2.6 -1.6,2.1 -2,.7 -2.6,-.7 -2.1,-1.9 -.7,-1.8 .4,-1.2 1.7,-.3 2.5,1 2.7,2.6 1.6,3.1 .4,2.4 -1.1,2.1 -2.5,.6 -2.3,-1.3 -1.9,-2.4 -.3,-2.7 1.3,-2 2.8,-1.1 3.7,.1 3,2.2 1.2,3.4 -.9,3.4 -3.1,2.2 -3.5,-.3 -2.4,-2 -1,-3.5" fill="none" stroke="#2cc2f2" stroke-width="1.15" stroke-linejoin="round"/>
<path d="M742.5,787 l -2.6,-2.4 -1.2,-3.8 .8,-3.7 1.8,-2.1 2.3,-.3 2.1,1.4 1.6,3.1 -.2,4.2 -2.1,3.3 -3.1,1.5 -4,0 -2.8,-1.6 -1.4,-3.5 1.1,-4.2 3.4,-2.8 4.5,-.3 4.4,2.6 1.9,4.8 -.8,4.9 -3.4,3.7 -4.6,1.5 -3.3,-1.7 -1.9,-3.7 .8,-4.3 2.9,-3.2 3.6,-.9 3.9,.8 3.3,3.3 1.4,4.5 -.9,4 -2.4,2.4 -2.7,0 -2.2,-2.2 -1,-3.2 .7,-3.9 2.9,-3 4,-.5 3.4,2.2 1.9,3.4 .2,4.4 -1.7,3.7 -2.7,1.7 -2.5,-.8 -2,-2.6 -.6,-3.4 .8,-3.2 2.2,-2.3 3.1,0 2.6,2.1 1.8,3.6 .4,3.8 -1.1,3.9 -2.6,2 -3.2,-.3 -2.2,-2.3 -.9,-3.4 .6,-4 2.4,-2.1 2.9,.1 2.3,2.1 1.6,3.8 -.1,5.1 -1.5,4 -2.5,2.2 -3.2,0 -2.4,-2.8 -1.3,-3.9 .4,-3 1.5,-2.4 2.1,-.3 2.2,1.8 1.3,3.5 .1,3.6 -1.1,3.4 -2.3,2.2 -2.5,-.2 -3.7,-1.7 -1.2,-2.8 1,-2.8 2.2,-1.8 3.2,-.1 2.5,1.5 1.3,2.8 -.4,3.4 -1.9,3 -2.9,1.4 -2.9,-.2 -3,-1.7 -.8,-2.7 1.4,-3.1 2.8,-1.4 2.8,.5 2.6,2 .7,3 -.7,3.9 -3,3 -4,1 -3.4,-.3 -3.1,-2.7 -.4,-3.6 2.1,-3.8 3.5,-1.6 3.8,1.3 3,3 1.4,4.7 -1.2,4.9 -2.8,2.7 -3,.5 -1.7,-1.4 -1.3,-3.1 .1,-4.4 1.8,-3.4 2.5,-1.2 2.8,.4 2.3,2.4 1.5,3.6 .1,4.5 -1.2,3.2 -2.7,1.8 -2.2,-.4 -2,-2.5 -.4,-3.6 1.6,-3.4 2.9,-1.8 3.7,.2 2.7,2.1 1.3,3.9 -.3,3.5 -2.1,3 -2.7,1.2 -2.6,-.5 -1.7,-1.9 -.4,-2.9 .8,-3 2,-2.3 2.6,-.2 2.8,1.8 1.5,3.9 -.5,4.3 -2.3,3.6 -3,1.7 -2.7,-.6 -1.2,-2.2 -.3,-3.2 1.1,-3.8 2.4,-2 2.8,.1 2.2,2.7 1.1,3.8 -.1,4.2 -1.5,3.1 -1.7,.8 -2.2,-1.2 -1.2,-2.5 -.1,-3.4 1.1,-2.7 2.5,-1.4 2.5,.4 2.2,1.9 1.8,3.7 .2,3.2 -.9,3.2 -2.2,1.2 -3.1,-.6 -2.3,-2.3 -.3,-2.9 .8,-2.6 2,-1.8 3.2,0 2.6,2 1.5,3.3 0,3.6 -1.3,3.1 -2.5,1.9 -3.2,.2 -1.7,-1.8 -1,-2.9 0,-3.9 1.5,-2.6 2.8,-.9 2.6,1.4 2.3,4.1 .5,4.2 -.8,4.4 -2.4,2.9 -3.3,.7 -4.7,-2.1 -2,-3.8 .2,-3.6 2.2,-2.8 2.9,-.5 2.9,1.2 2.4,3.1 .5,4.2 -1.3,3.5 -2.9,1.8 -2.6,-.2 -1.8,-2 -.4,-2.3 1,-3.1 1.8,-1.5 2.3,-.3 2.3,1.3 1.5,2.5 .3,3.4 -1,3 -2.3,1.6 -2.3,.2 -2.1,-1.8 -1.3,-2.6 -.2,-3.4 1.7,-2.7 2.3,-.3 2.7,1.8 2,3.5 .6,4.9 -1.1,4.2 -2.3,2.1 -2.7,-.1 -3.6,-2.8 -.9,-3.5 .7,-2.7 2.2,-1.8 2.6,.2 2.1,2.3 .6,3.5 -.9,3.4 -1.8,2.3 -2.6,1.4 -3.2,-.2 -2.3,-2.3 -.3,-2.4 1.3,-2.7 2.5,-1.4 3.6,-.1 2.8,1.7 1.7,2.9 .2,4 -1.9,3.4 -3.4,1.7 -2.6,-.3 -2.3,-2.4 -.5,-3.5 1.3,-3.4 2.9,-2.5 3.8,-.1 3.6,2.3 2.1,4 .6,4.7 -1.4,3.9 -3.3,2.3 -3.9,-.7 -2.9,-3.3 -.8,-4.3 1.6,-3.8 3.8,-1.9 4,.8 3.1,3 1.6,4.1 -.6,4.8 -2.8,3.1 -3.7,.5 -2.7,-2.6 -1.2,-3.5 .2,-3.3 1.8,-2.6 2.6,-1 2.8,.9 2.1,2.7 .4,3.1 -1,2.3" fill="none" stroke="#2cc2f2" stroke-width="1.25" stroke-linejoin="round"/>
<path d="M740.1,778.3 l 1,-1.7 2,-.6 1.9,1.2 1,2.3 -.3,2.8 -1.5,2.6 -2.6,1.8 -2.7,0 -2.6,-1.4 -1.7,-2.3 -.3,-2.4 1.5,-2.1 2.2,-.3 2.3,.9 1.9,2.1 1,2.4 .3,2.5 -.5,1.7 -1.1,.9 -1.4,-.5 -1,-1.3 0,-2.4 1,-1.9 1.6,-.9 2.1,.2 1.7,1.4 .8,2.1 -.1,2.7 -.9,2.2 -1.3,1 -1.6,-.2 -.9,-1.1 0,-1.8 .2,-1.7 2,-1.3 2.3,0 2.3,1.3 1.6,2.4 .2,2.6 -1,2.1 -1.9,1.6 -2.5,0 -1.8,-1.5 -.6,-2.1 .1,-1.7 2.3,-1.3 2.6,.3 2.3,1.9 1.1,2.5 -.5,3.2 -2.3,2.5 -2.4,1 -2.9,-.5 -2.1,-1.8 -.7,-2.4 1.2,-2.3 1.4,-.9 2.2,.4 1.9,1.6 1.1,2.6 .3,2.8 -.8,2.5 -1.7,1.1 -1.8,-.3 -1.5,-1.2 -.5,-2 .8,-2.3 1.3,-1.5 2.1,.1 1.9,1.7 1.3,3.2 -.5,3.4 -1.6,2.5 -2.8,1.5 -3,-.3 -2.4,-2.1 -.9,-2.8 .1,-2.4 2,-1.6 3.4,.6 2.3,2.1 1.5,3.6 -.6,3.7 -1.9,3.2 -3.2,1.2 -2.7,-.9 -2,-2.6 -.2,-3.5 .8,-2.4 3.4,-1.5 3.4,.6 2.7,2.5 1.2,3.1 -.6,3.4 -2.1,2.5 -3.4,1.2 -3.3,-.5 -2.1,-2.2 -.1,-2.3 1.5,-2.5 3.2,-1.8 2.8,.4 1.8,1.8 1.2,2.9 -.1,3.5 -1.6,3 -2.7,2 -2.7,-.1 -2.3,-2.3 -.4,-2.7 1.1,-3.5 2.5,-1.7 2.1,.1 2,1.9 1.3,3.5 0,4 -1.5,3.2 -1.8,1.7 -2.2,-.4 -1.7,-1.9 -.4,-2.7 1,-3.3 .9,-1.7 3.9,.1 3,1.7 2,3.3 0,3.2 -1.5,2.9 -2.6,1.9 -2.7,0 -2.1,-1.6 -.8,-2.3 .7,-2.6 1.6,-1.9 3.1,-.8 2.9,1.2 2.4,2.9 .8,3.9 -1.4,3.6 -2.5,2.2 -2.9,.7 -2.9,-1.3 -1.6,-2.7 .1,-3 3.6,-2 1.5,-.6 1.9,1.2 1.3,2.5 .2,2.8 -.6,2.4 -1.1,1.8 -1.7,.9 -1.3,-.6 -1.2,-1.4 -.1,-1.9 -.2,-1.4 2,-.8 2.7,.6 2,1.8 .9,2.1 -.4,2.3 -1.5,1.7 -1.9,1 -2.3,-.4 -1.6,-1.1 -.7,-1.9 .8,-1.9 1.1,-.8 1.5,.2 1.3,1.5 .7,2.3 -.1,3 -1.1,2.1 -1.9,1.2 -2,-.1 -1.8,-1 -.9,-2.3 .1,-1.9 1.4,-1.3 2.6,-.4 2.4,1 2,2.5 .9,2.9 -.6,2.8 -1.7,1.7 -2.3,.4 -2.3,-1 -1.3,-2.1 .1,-2.4 1.5,-1.5 1.8,-.3 2.1,1 1.2,2.2 .6,3 -.6,3.1 -1.7,1.7 -2.3,.2 -2,-1.1 -.8,-2.1 .1,-2.3 1.2,-2.1 1.9,-.8 2.7,1 2.1,1.8 1.2,3.2 -.1,3 -1.3,2.9 -2.2,.9 -2,-.7 -1.2,-2.7 .4,-3.1 1.6,-2.6 2.6,-1.3 3.1,.7 3,2.6 1.3,3.4 -.2,3.3 -1.8,3.1 -2.3,.9 -2.1,-.8 -1.9,-2.7 -.3,-3.2 1.9,-3.1 2.4,-1.3 2.7,.8 2.5,2.2 1.5,4 -.2,3.4 -1.5,2.5 -2.5,.9 -2.4,-.8 -1.9,-2.7 -1,-3.1 -.2,-1.7 2.5,-.8 3.3,.8 2.5,2.4 .4,2.9 -1.1,3.3 -2.1,1.7 -2.9,.8 -2.7,-.7 -1.6,-2 .1,-2.1 1.4,-1.9 2.2,-.9 2.5,.3 1.8,1.3 1,2 -.2,2.4 -1.7,1.8 -2.2,.3 -1.8,-1.2 -.9,-2" fill="none" stroke="#2cc2f2" stroke-width="1.15" stroke-linejoin="round"/>
<path d="M782.1,850 l -1.5,-2.5 .8,-3 2.8,-1.9 4.2,-.5 3.2,1.4 2.3,2.8 .2,3.5 -2,3.3 -3.3,2.2 -3,.1 -2.9,-1.9 -.7,-2.9 1.4,-3.2 4,-2.4 4.6,-.9 3.4,1.1 1.7,2.5 -.2,3.2 -2.3,2.4 -3.3,1.4 -3.9,-.4 -1.8,-2.5 1,-2.6 3.1,-2 3.6,-.5 3,.4 2.3,1.1 .7,1.4 -.6,1.7 -2.2,1.7 -2.4,.4 -1.9,-.6 -1.3,-1.3 -.4,-3.2 1.8,-3.5 3.1,-2.1 3.4,-.4 3.2,1.5 1.5,2.9 -.3,2.9 -2.2,2.8 -3.2,.9 -3.4,-1.1 -2.3,-4 .4,-2.8 2.3,-2.1 3.2,-1.6 3.5,-.2 2.7,.9 1.4,2 -.5,2.2 -2,1.9 -2.9,1.3 -2.1,0 -1.8,-.1 -.7,-2.8 1.2,-3.8 3.4,-2.6 4.3,-.5 3.8,1.9 2,3.1 .1,4.4 -2.2,3.2 -3.9,1.4 -3.8,-1.1 -2.3,-3.5 .1,-3.6 2.6,-3.1 3.5,-1.9 4.3,-.1 3.8,2 1.2,2.6 -1,3.3 -3.1,2 -3.6,.1 -3.5,-1.7 -1.6,-3 .7,-4.3 2.3,-2.9 4.4,-1.4 4.2,1.3 2.9,2.9 1.2,4.3 -.9,3.8 -2.4,2.5 -3.5,.6 -3.4,-2 -1.5,-3.2 .6,-3.6 2.7,-2.8 4.1,-1.1 3.6,.6 2.5,2.7 .6,3.9 -1.4,2.5 -3.1,1.6 -3.4,-.4 -2.7,-2.8 -.5,-2.4 1.1,-2.5 3.1,-2.3 3.3,-.5 3.2,.6 2.2,2 .1,2.4 -1.6,1.8 -2.6,1 -3.2,-.3 -2.4,-1.5 -1,-3.1 .9,-3.2 2.2,-2.5 3.8,-1.2 3.5,.3 3.2,2.2 .8,2.8 -.8,2.9 -2.9,2.3 -3.3,.3 -3.3,-1.6 -1.1,-3.4 .8,-3.5 2.5,-2.2 3.8,-.7 3.6,1.1 2.3,2.7 .5,2.4 -1.5,2.5 -2.7,.9 -2.9,-.8 -2.2,-3 -.7,-3 1.4,-2.8 3,-1.9 3.9,-.5 2.9,1 1.7,1.8 -.4,2.2 -1.8,1.2 -3,.7 -3.5,-.8 -2.1,-1.4 -.2,-4 2.2,-4 3.6,-2.4 4,-.1 3.5,2 2.1,3.2 0,4.5 -2.6,3.6 -3.7,1.2 -3.7,-1.3 -2.3,-3.9 0,-2.8 2.2,-2.7 4.3,-1.8 4.7,-.3 3.2,1.2 1.3,1.9 -.6,2.4 -2.7,2 -3.9,.8 -3.8,-.8 -1.6,-1.7 0,-3.7 1.8,-3.2 3.5,-2.3 3.2,.2 2.9,1.8 1.4,2.9 -.4,3.2 -1.8,2.1 -2.2,.7 -2.5,-.9 -1.8,-2.6 .1,-2.9 1.7,-2.5 3.3,-1.7 3.3,-.1 2.8,1.4 1.3,2.3 -.5,3.1 -1.9,2.1 -2.9,1.1 -2.6,-.7 -1.6,-2.2 0,-1.8 1.6,-2 3.4,-1.6 3.3,-.2 2.7,.7 1.8,1.5 -.2,1.5 -1.4,1.2 -2.7,1 -3.4,-.2 -1.7,-1.1 -.5,-1.8 1.2,-2.2 2.7,-1.5 3.5,-.7 2.5,.5 1.6,1.5 .3,1.8 -1.2,1.8 -2.5,1 -2.2,0 -1.9,-1.1 -1.5,-1.8 .7,-2.5 2.5,-2 3.7,-1 3.8,.4 3.4,2 1.4,3.2 -.8,3.1 -2.9,2.7 -3.6,1.3 -3.3,-.5 -1.8,-2.5 .6,-3.1 2.2,-2.5 3.5,-1.8 3.6,-.3 3.5,1.2 1.2,1.9 -.3,2.1 -2,2.2 -3.1,1 -2.6,-.8 -2.2,-1.2 -1.2,-4 1.1,-3.5 3.2,-2.7 4.3,-1 4.9,1.9 2.6,3.5 .4,3.7 -1.6,3.2 -3.2,1.7 -4.4,-.1 -3.7,-2.7 -1.5,-4.8 .9,-4.7 3.4,-3 3.9,-.6 3.9,1.4 3,3.3 .7,3.5 -.9,3 -3,1.7 -3.3,-.3 -2.8,-2.3 -.8,-3.2 1.1,-3.3 3.3,-2.3 3.7,-.4 3.3,1.3 2.1,2.9 -.1,3.2 -1.9,2.7 -3.3,.7 -2.7,-1.1 -2.1,-3 0,-3.2 1.9,-3.2 3.1,-1.2 3.8,0 3,1.4 1.7,2.5 -.3,3.1 -2.4,2.5 -3.4,.8 -2.9,-1.1 -1.3,-1.8 -.1,-4.3 1.9,-2.9 3.6,-1.8 3.7,.2 3.7,2.6 1.6,4.1 -.6,3.6 -2.4,2.7 -2.9,.7 -3.7,-1.6 -2.1,-3.6 .4,-2.7 2.5,-2.3 3.9,-1.3 4.6,0 3.1,1.4 1.5,2.2 -.4,2.6 -2.5,2.5 -3.4,1.4 -3.4,.1 -2.3,-.4 -1,-3.6 1.5,-4.1 3.3,-2.8 4.4,-.9 4.6,1.5 3.4,3.6 .6,4.3 -2.4,4.5 -3.8,2.2 -5.1,-.2 -2.8,-3 -1,-3.4 1.5,-3.2 3.5,-2 4,.2" fill="none" stroke="#2cc2f2" stroke-width="1.25" stroke-linejoin="round"/>
<path d="M782.3,844.7 l 1.8,-1.6 3.1,-.6 2.7,.6 2.1,2 .4,2.1 -1.2,2.3 -2.2,1.5 -2.9,.6 -2.2,-.8 -.8,-2.1 .7,-3 2.2,-2.1 3.8,-.8 4,1.2 2.5,2.9 1,3.9 -1.3,3.4 -2.8,1.4 -3.1,-.8 -2.2,-2.7 -.9,-4.4 1.5,-2.8 2.6,-2.5 3,-.6 2.7,.6 1.7,2.1 -.1,2.6 -1.2,1.7 -2.5,.7 -2.1,-1 -1.8,-2 -.3,-2.6 1.3,-2.5 2.5,-1.8 2.9,-.4 2.6,1.2 1.4,2.2 .3,2.3 -1.2,2 -2,.8 -2.3,-.5 -1.3,-2 .2,-2.2 1.1,-1.6 2.3,-1.1 3.6,-.3 3.2,.9 1.8,2.2 .4,2.3 -1.6,2.5 -3.1,1.6 -3,-.3 -2.1,-1.5 -.9,-3.4 1.5,-3.8 3.3,-2.5 4,-.5 3.2,1.4 1.4,2.3 -.3,3.3 -1.8,2.4 -2.6,.8 -2.7,-.9 -1.7,-2.1 0,-2.9 1.9,-1.4 3.5,-1.3 3.7,.2 3.2,1.7 1.4,2.7 -1,2.5 -2.6,1.9 -3,.5 -2.3,-1.1 -1.2,-2.1 .5,-2.3 2.5,-3.4 3.7,-1.1 3.3,.7 2.7,2.6 .8,3.4 -.9,2.7 -2.3,1.9 -2.3,.5 -2.3,-1 -1.4,-2.6 .4,-2.9 2.1,-1.8 2.5,-1.1 3.3,.1 2.1,.9 1.1,2 -.6,1.8 -1.4,.7 -2.2,-.4 -1.7,-1.5 -1.1,-2.6 .3,-3.3 1.3,-2.6 2.7,-1.9 3.2,-.5 2.3,.9 1.2,1.8 -.7,2 -2,1 -2.8,.1 -2.7,-1.5 -1.1,-2.9 .9,-3 2.4,-3.3 3.6,-1.6 3.2,.6 2.5,2.5 .5,3.1 -1,2.4 -2.5,1.1 -2.6,-.2 -2,-1.1 -1,-2.6 1.1,-2.6 2.6,-1.7 3.2,-.5 3.5,1.1 2.1,2.3 .9,2.8 -1,3.1 -2.4,2 -2.8,.3 -2.2,-.9 -1.2,-2.4 1,-2.7 3.1,-1.1 3,-.3 2.8,.8 1.6,1.7 .4,1.7 -1.1,1.4 -1.6,.6 -2.2,-.4 -1.7,-1.3 -.3,-2.2 .6,-3 1.5,-2.3 3,-1.3 2.9,.6 2,1.8 .9,2.5 -.8,2.3 -2.1,1.5 -2.3,0 -2.3,-1.6 -1,-3 .6,-3.1 2.4,-2.3 3,-.8 3.5,.5 2.2,1.9 .5,3.1 -1.1,2.3 -2.8,1.5 -2.6,-.4 -2.2,-1.7 -.7,-2.7 1,-2.7 2.7,-1.8 3.5,-.5 3.6,.6 1.9,1.5 .5,2.1 -.8,2.1 -2,1.7 -2.3,.8 -2.3,-.4 -1.6,-1.9 .3,-2.7 2.2,-3.1 3.1,-1 3.5,.8 2.2,1.9 1.2,2.8 -.4,2.2 -1.9,1.4 -2,.3 -2.4,-1.1 -1.2,-2.4 .3,-2.5 2,-1.1 2.8,-.7 2.6,.1 1.8,.9 1,1.4 -.3,1.6 -1.4,1.2 -1.8,.4 -1.5,-.4 -1.1,-1.4 .3,-1.6 1.2,-1.4 2,-1 3.2,-.2 2.5,.7 1.5,1.5 0,1.9 -1,1.6 -2.5,1 -2.1,0 -1.5,-.7 0,-1.4 .9,-2.7 2.1,-1.7 2.9,-.7 3,.9 2,1.8 .9,2.5 -.6,2.2 -2.2,1.3 -2.6,-.2 -2.6,-2.2 -1,-2.9 .7,-3 2.4,-2.2 3.1,-.9 3.4,.6 2.1,1.9 .5,2.3 -.8,1.9 -2.2,1.5 -2.4,0 -1.6,-1 -.9,-2.2 .6,-2.4 2.1,-2.5 3.1,-.8 2.7,1 1.9,2.5 .7,2.7 -.8,2.6 -1.7,1.6 -2,-.3 -1.4,-1.3 -.4,-2.3 .9,-1.8 2,-1.1 2.5,-.1 2.7,.8 2.3,2.4 .6,2.9 -.9,3.2 -1.8,2 -2.5,.6 -1.6,-1.3 -.4,-2.1 1.8,-.9 2.9,-1.3 2.7,-.9 2.3,.4 1.1,1 -.4,1.3 -1.2,1 -1.7,.3 -1.8,-.6 -1,-1.3 -.1,-1.6 .1,-2.8 1.8,-2.3 2.5,-1.1 2.6,.6 1.4,2.2 -.4,2.2 -2,1.6 -3,.1" fill="none" stroke="#2cc2f2" stroke-width="1.15" stroke-linejoin="round"/>
<path d="M771.9,891 l -1.2,2.6 -2.4,.9 -2.8,-.7 -2.5,-2.2 -1.8,-3.6 .2,-3.3 2.4,-2.3 3,-.2 3.6,1.7 2.5,3.1 -.1,3.6 -1.1,1.6 -2.3,.3 -2.7,-1.6 -2.1,-2.3 -.7,-2.2 .9,-1.7 2.6,-.6 3.4,1.3 2.2,2.2 1.7,3.2 .1,2.7 -2.1,2.1 -2.7,.6 -2.8,-1.1 -2.3,-3.2 0,-3.8 1.8,-2.9 3.2,-1.5 3.9,.3 3.3,2.3 2.3,3.9 -.7,4.2 -2.1,2.1 -3.2,.2 -2.6,-1 -2.1,-2.3 -.3,-2.5 1.3,-1.8 2.5,-.5 2.8,.9 2.3,1.6 1.4,2.3 .8,2.4 -.9,2.2 -2.6,.8 -2.7,-.5 -2.2,-1.9 -1.2,-3.1 .8,-2.4 2.3,-1.1 3.1,.7 3,2.3 2.1,3.3 1.1,3.3 -1.7,3.5 -3.5,1.6 -3.7,-.2 -3.3,-2 -1.9,-3.4 .5,-3 2.4,-1.5 3.5,.6 3.2,2.3 2.3,3.9 .9,5.1 -1.7,3.7 -2.5,1.3 -3.9,-.7 -2.7,-2 -1.9,-3.1 .1,-3.1 2,-2.1 3.4,-.1 3.6,1.9 2.5,3.2 1.1,3 -.4,2.1 -2.5,1.3 -2.6,-.5 -2.2,-2.2 -1.1,-3.5 1.2,-3.2 2.8,-1.7 3.1,0 3.5,2.1 2,2.9 .4,3.2 -1.3,2.2 -2,1 -2.5,-.2 -2.3,-1.3 -1.2,-2.2 .6,-2.9 2,-1.9 2.5,0 2.6,1.2 1.9,2.9 .3,2.9 -.9,3.6 -1.9,2.1 -2.5,.6 -3.2,-1.8 -2.1,-2.5 -.5,-2.9 1.1,-2.5 3.1,-.6 3.4,1.2 3.1,2.9 1.8,4.2 -.1,2.9 -2.5,2.3 -3.3,-.1 -2.5,-1.8 -1.2,-3.4 .7,-3.1 2.4,-1.9 3.6,-.3 3.4,1.5 2.3,2.3 1.1,2.5 .1,2.5 -2.4,2.3 -3,.1 -2.9,-1.8 -1.2,-2.9 1,-3.9 3.4,-3.2 4.1,-1.3 5,1.2 3,2.6 1.1,4.1 -1,3.4 -3.3,2.6 -4,.3 -3,-2 -1.4,-3.3 .8,-4.2 3.1,-3 3.8,-.6 3.4,1.7 2.3,3.3 0,5.2 -2.6,4.6 -4.7,2.8 -5,.3 -3.8,-2.4 -1,-3.7 1.6,-3.5 3.4,-2 4.4,.3 3.7,2.5 1.6,4.1 -.8,4 -2.9,3.7 -4.5,1.9 -3.6,-.8 -3,-2.8 -.6,-3.2 2,-3.3 3.2,-1.7 4.6,.2 3.7,2.5 1.6,3.7 0,4 -2.5,2.7 -3.7,.9 -2.9,-1.2 -1.5,-2.9 .2,-3.7 2.2,-3.5 4.3,-2.4 4.9,.2 3.7,1.8 2.2,4.1 -.5,4.2 -3,3.3 -3,1 -2.8,-.9 -2.2,-2.2 -1,-2.9 .4,-2.7 1.7,-1.4 2.2,.4 2.6,2 1.6,3.1 .6,3.6 -1.1,2.9 -1.9,1.8 -2.8,.2 -2.8,-1.8 -1.7,-2.3 -.6,-2.7 1,-1.8 3.2,-.1 2.9,1.8 2.4,3.7 .9,3.9 .3,2.6 -3.2,2.3 -3.7,.1 -2.8,-1.9 -1.6,-4.1 1.2,-4.5 3.7,-3.5 4.3,-.8 4.6,1.6 3.3,3.4 .8,5.1 -1.8,4.4 -4.8,3.2 -4.4,.6 -4.2,-1.7 -2,-3.9 1.1,-4.6 3.5,-3.3 4.8,-1.2 4.4,1.4 3.1,4 .3,4.4 -3.5,5.5 -2.5,1.9 -3.1,-.6 -2.7,-3.1 -1.1,-3.4 .2,-3.5 1.8,-2.3 3.2,-.6 3.2,1.2 3.6,3.3 1.7,3.3 1.3,2.6 -2.2,2.4 -3,.5 -3.4,-1.7 -1.7,-3.3 .4,-4 2.1,-2.6 3.4,-1.1 4,1 2.7,2.8 1.2,4.4 -1.5,3.7 -2.8,2.3 -3.2,.4 -2.6,-1.3 -1.4,-2.2 -.2,-2.5 1.8,-2.4 2.6,-.9 3.2,.8 2.2,2.3 .8,3.1 -.3,2.8 -1.6,1.9 -2.4,.8 -2.7,-.3 -1.9,-1.7 -.8,-2.5 1,-2.6 2.1,-1.3 2.9,0 1.8,1.4 1,2.3 -.2,2.9 -1.7,2.8" fill="none" stroke="#2cc2f2" stroke-width="1.25" stroke-linejoin="round"/>
<path d="M761.5,889.6 l 0,-2.8 1.5,-2.1 2.6,-.7 2.7,.9 2,2 .6,3.1 -.8,2.2 -2.1,1.3 -2.6,0 -2.2,-1.1 -1.1,-2.3 .1,-2 1.5,-1.6 2.5,.1 2,1.1 2,2 1.1,2.4 -.3,2.6 -1.5,1.4 -2.2,.6 -2.2,-.3 -1.9,-1.3 -1.3,-1.5 1,-1.8 2.5,-.9 2.8,.7 2,2.5 1.1,2.8 -.1,2.6 -1.4,2 -2.4,1 -2.2,-.7 -1.3,-2.2 1.1,-3.9 1.3,-2.3 2.4,-1 2.9,.9 2.5,2 1.4,2 .3,2.2 -1,1.2 -1.7,0 -1.9,-1 -2.3,-.9 .2,-2.7 1.8,-2 3.2,-.8 3.1,1 2.3,2.6 .6,3.5 -1.1,2.8 -2.5,1.6 -3.1,-.2 -2,-2 .1,-3 1.3,-2.7 3,-1.8 3.6,.1 2.7,1.5 1.6,2.5 .2,3.2 -1.3,2.2 -1.9,.9 -1.9,-.6 -1.4,-1.6 -.5,-2.4 1.2,-2.3 2.7,-1.6 3.2,-.2 2.9,1.8 1.7,2.4 .2,3 -1.1,2.4 -2,1.1 -2.2,-.6 -1.8,-2.2 .1,-2.9 1.8,-2.8 2.6,-1.4 2.8,.7 2.8,2 1.3,2.5 .2,3 -1.8,2.6 -2.4,.8 -2.7,-.7 -1.9,-2.3 .7,-2.7 1,-1.1 1.8,0 1.8,1.2 1.5,1.8 1.1,2.1 .2,1.9 -.9,1.4 -1.8,.5 -2.2,-.5 -1.6,-1.4 -1.1,-1 .9,-1 2.1,-.6 2.1,.6 1.9,1.8 .7,2.1 -.6,2.8 -1.6,1.5 -1.7,.5 -1.9,-.2 -1.3,-1.1 -.7,-1.7 1,-1.7 2.2,-1 3.1,.6 2.1,1.5 1.6,3.2 -.1,2.6 -2.2,2.7 -3.2,.8 -2.3,-.8 -1.3,-2.3 1.2,-3.6 1.7,-2 2.4,-.6 2.3,.9 2.3,2.1 1.5,3.2 .3,3.1 -1,1.8 -1.7,.1 -1.9,-1.5 -.9,-2.3 .3,-2.9 1.2,-2.1 2.1,-.7 2.6,.8 2.4,2.1 1.6,3.2 .4,2.9 -1.3,1.5 -1.7,-.2 -1.6,-1.7 -1.4,-1.9 -.2,-2 1.5,-1.6 2.4,0 2.6,1.2 1.9,2.2 .7,2.7 -.7,3 -2.1,1.9 -2.2,.3 -2.3,-.7 -1.9,-2 -1.6,-1.6 1,-1.7 2,-.8 2.7,1 2,2.9 .5,3.7 -1.5,4.1 -3.1,2.8 -3.5,1.5 -4.3,-.6 -2.8,-2.2 0,-2.6 1.7,-2.3 3.1,-1.1 3.6,.5 2.2,1.9 1.3,3.4 -.4,3.4 -2,2.3 -2.6,1 -3,-.9 -1.5,-2.1 .2,-2.9 1.4,-2.2 2.8,-1 3.4,.7 2.7,2.1 1.3,2.9 -.3,3.3 -2.4,3 -3.2,1.1 -3,-1.2 -1.6,-2.3 1,-3.8 1.4,-2 2.7,-.4 3.5,1.5 2.9,2.8 1.5,3 .2,3.1 -1.4,1.9 -2,.3 -2,-1.4 -2,-3.1 0,-3 1.3,-2.2 2.3,-.9 2.9,1.1 2.4,2.2 1.5,3.1 .3,2.7 -.9,2.1 -1.9,.4 -2.2,-1.2 -1.4,-2.2 -.1,-2.4 1.3,-1.6 2.5,-.8 2.4,.7 1.9,1.5 1.3,2.5 0,2.5 -.7,1.5 -1.5,.4 -1.2,-.7 -.9,-1.4 -.1,-1.7 .3,-1.7 2.1,-1.5 3.1,-.4 2.7,.9 1.7,1.9 .7,2.3 -1,2 -2.1,.9 -1.9,-.8 -1.6,-2 -.6,-2.6 1.1,-2.6 1.8,-1.3 2.7,-.2 2.1,1.1" fill="none" stroke="#2cc2f2" stroke-width="1.15" stroke-linejoin="round"/>
<path d="M868.3,874.9 l 2.6,2.1 1.5,3.4 -.2,4 -1.5,2.4 -2.7,1 -2.4,-.9 -1.9,-2.4 -.4,-3.4 .7,-3.2 2,-2.4 2.8,-.4 2.4,1.7 1.4,3.4 -.3,3.9 -1.4,3.2 -2.6,1.8 -2.6,-.4 -2.1,-2.1 -.9,-2.5 .5,-3.3 1.4,-1.8 1.7,0 2.1,1.8 1,3.5 -.7,3.7 -2.1,2.7 -2.8,1.3 -2.8,-.2 -2.6,-2.2 -.9,-3.2 .7,-2.9 1.7,-2 2.7,-.2 2.9,1.4 2.2,3.6 .1,4 -1.9,3.8 -3.7,2.1 -4.2,-.4 -2.9,-2.3 -1.3,-4.1 1.2,-3.9 2.9,-2.3 4.2,0 2.9,2.1 1.5,3.8 .1,4.5 -1.9,4.2 -3.7,2.2 -4.1,-.7 -2.6,-3 -.6,-3.8 2,-3.7 3.8,-2.3 3.5,.4 2.2,3 .4,4 -1.5,4.2 -2.7,2.6 -2.8,.8 -2.7,-.9 -1,-2.4 .3,-3 1.4,-2.3 2.8,-1 2.4,.5 1.9,2.8 .8,4 -.4,3.2 -1.6,2.4 -2.2,.3 -1.7,-1.8 -.7,-2.9 .7,-2.9 1.5,-2.2 2,-1 2.6,.6 2.5,3.1 .7,4.8 -1.5,4.2 -2.6,2.5 -3.6,.8 -3.1,-2.1 -1.5,-3.2 .1,-3.7 1.9,-3.3 3,-1.4 3.4,1.4 2.4,3.9 -.3,4.1 -3.1,4.1 -3.3,2 -4.6,.2 -3.6,-2.2 -1.9,-4.1 .6,-3.3 3.2,-2.5 4.4,-.7 3.4,1.6 1.9,3.1 .2,4.5 -1.9,4.2 -3.4,2.5 -4.2,-.1 -2.7,-2.6 -.7,-3.6 1,-3.6 2.4,-3 3,-1 3.8,1.4 2.8,3.9 .4,4.4 -2,4.9 -4,2.6 -4,.2 -3.5,-2.3 -2,-4 .9,-3.9 3.6,-3.2 4.9,-.7 3.3,1.9 1.9,4.2 -.3,5.1 -1.6,3.6 -2.8,2.3 -2.5,-.4 -1.3,-2.6 .5,-3.4 1.9,-3.4 2.6,-2.1 2.8,-.1 3.1,2.3 1.4,3.7 -.4,4.6 -2.2,3.6 -2.7,1.3 -2.9,-.5 -1.9,-2.3 0,-3.2 1.6,-2.7 3,-1.7 3.3,.6 2.5,1.8 1.7,3.3 -.1,4.1 -1.7,3 -3.1,1.4 -2.6,-1 -1.2,-2.9 .8,-3.6 1.8,-3 2.7,-1.1 2.2,.9 1.2,3 -.1,3.6 -1.3,3.4 -2.4,3 -3,.7 -2.6,-1.7 -1.3,-2.9 0,-3.4 1.5,-3 2,-1.3 2.2,.7 2.1,2.5 .7,4.2 -1.5,4.7 -2.7,2.9 -4.1,1.2 -3,-1.6 -1.9,-3.3 0,-4.6 1.7,-3.3 3.5,-2 4,1.9 2.5,4 .3,4.5 -2.1,3.3 -3.3,1.9 -3.3,-.3 -2.6,-1.8 -1.1,-2.5 .6,-2.6 2,-1.7 2.8,-.7 2.6,.8 1.7,2.5 .1,3.5 -1.5,3.3 -2.9,2.2 -3.5,.3 -2.4,-1.6 -1.1,-2.7 .6,-3.1 2.1,-2.2 3.2,-1.1 3.3,.7 3.1,2.5 1.5,3.6 -.5,4.4 -2.6,3.5 -3.7,1.1 -3.2,-.8 -2.4,-2.8 -.9,-3.9 1.7,-4.1 3.1,-1.9 4.5,.1 2.5,3.4 .4,4.4 -1.6,4.3 -3.1,2.8 -2.8,.6 -2.3,-1.1 -1.1,-2.6 .4,-3.3 1.5,-2.2 2.6,-1.1 2.2,.3 1.9,1.9 .8,3.6 -.8,3.7 -2.4,3 -2.9,1 -2.4,-1.5 -.9,-2.7 .5,-3.5 1.5,-2.6 2.6,-1.1 2.9,1.2 2.3,3.4 -.2,4.4 -1.9,3.7 -3.8,2.5 -3.6,0 -3.7,-2.3 -1.4,-3.4 .7,-4.1 3.4,-3.2 4.6,-.5 2.8,1.6 2.2,3.9 .1,5 -1.7,3.8 -2.8,2.3 -2.7,.2 -2.1,-2.4 -.5,-4 1,-3.6 2.1,-2.7 3.7,-1.2 3.3,2.4 1.3,3.7 -.8,4.5 -2.7,3.6 -3.6,1.5 -3.6,-.6 -2.4,-2.6 -.5,-3.4 1.2,-2.8 2.9,-1.7 3.1,.4 2.9,2.2 1.5,3.6 -.6,4.7 -2.2,2.9 -4.2,1.4 -3.7,-1.1 -2.7,-3.3 -.6,-3.9 1.5,-3.7 3.5,-1.9 3.8,.6 2.6,3.2 .9,4.1 -1.7,4.8 -3.1,2.8 -4.5,.9 -3.1,-1.6 -1.7,-3.2 .7,-3.5 2.2,-2.8 3.8,-1.3 3,.8 2.2,3 .6,4.2 -1,3.7 -1.8,2.1 -2,-.2 -1,-2 0,-3.3" fill="none" stroke="#2cc2f2" stroke-width="1.25" stroke-linejoin="round"/>
<path d="M867.5,876.1 l 1.5,1.6 .4,2.5 -.9,3.2 -1.8,2.1 -2.3,.6 -2.1,-1.1 -1.6,-2.4 -.1,-2.6 .9,-2.4 2.2,-1.7 2.4,.3 1.9,2.2 .8,3.1 -.3,3 -1.5,2.6 -2.3,1.2 -2.3,-.4 -1.5,-1.5 -.8,-2.5 .5,-2.3 1.6,-1.2 2,-.1 1.5,1.3 .6,2.5 -.4,3.5 -1.3,2.9 -2.1,2 -2.2,0 -1.8,-1.9 -.7,-2.7 .6,-3.1 1.4,-1.4 1.8,.3 1.6,1.8 .4,3.2 -.1,3.6 -1.7,3.4 -2,1.4 -2.2,-.4 -1.9,-2.1 -.6,-2.7 .6,-3.4 2.5,-2.1 2.3,-.1 3.5,2.3 1.5,3.2 -.3,3.6 -2.3,3.5 -3.3,1.5 -2.7,-.4 -2,-1.7 -.8,-3.1 1.2,-2.5 3.1,-1.4 3.5,.2 2.1,2 .8,2.7 -.5,3.3 -.9,2.1 -1.5,1.1 -1.5,.1 -1.1,-1.2 .1,-1.8 .7,-1.7 1.4,-1.3 1.7,-.1 1.8,1.3 .9,2.2 -.1,2.3 -1.1,2.3 -2.2,1.4 -1.9,0 -1.8,-1.2 -.8,-1.8 .3,-2 1.4,-1.2 1.8,-.1 1.9,1 1.4,2.1 0,2.8 -1.6,2.6 -2.7,2.1 -3.8,.6 -3.3,-1.3 -1.8,-2.7 0,-2.8 1.5,-2.3 2.9,-1.2 3.8,.8 1.5,2.6 .6,3.2 -.7,3.4 -2.1,2.8 -2.3,1.2 -2.4,-.5 -1.4,-2.2 .1,-2.5 1.6,-2.6 2.4,-1.3 2.3,.5 2.6,2.2 1,3.2 -.8,3.7 -2.8,2.7 -3.4,.7 -2.9,-.6 -2,-1.7 -.7,-2.6 1.1,-2.3 2.7,-1.3 3.5,.6 2.6,2 1.5,2.9 -.2,3.4 -1.9,2.9 -3.6,1.2 -3.5,-1 -2.2,-2.5 -.1,-3.2 1.8,-2.1 3,-1 3.8,.8 2.5,2.4 1.1,3.1 -.5,3.7 -2.8,3 -3.1,1.1 -2.8,-.9 -1.9,-1.9 -.3,-2.7 1.5,-2.8 3.2,-1.5 3.4,0 2.3,1.7 1.4,2.9 .1,3.9 -1.4,3.2 -1.9,1.6 -1.7,.1 -1.6,-1.5 -.5,-2.7 .9,-2.3 1.8,-1.5 2.1,-.2 2.1,1.7 1.3,3.1 -.3,2.8 -1.7,2.3 -2.7,1.3 -3.1,-.3 -2,-1.4 -1.2,-1.9 .2,-2 1.6,-1.2 2.2,-.3 1.8,1 1.6,2.2 .3,2.4 -.6,2.5 -1.8,1.9 -2.2,.3 -1.7,-.6 -1.2,-1.3 0,-1.5 1.3,-1.7 1.7,-.7 2.4,.4 1.6,2 .6,2.7 -.6,2.9 -1.5,2.1 -2,.7 -1.9,-.6 -1.2,-1.8 0,-2.3 1.6,-2.1 2.4,-.7 2.2,.9 1.3,2 .3,3.1 -.9,3 -1.7,2.1 -2.6,.7 -2.1,-.9 -1.5,-2.3 0,-2.5 1.7,-2.5 2.3,-.7 2.2,.9 2,2.5 .2,3.4 -1.5,3.2 -2.9,2 -3.6,0 -3,-1.6 -1,-2.5 .4,-2.8 1.7,-1.6 2.7,-.3 2.6,1.5 1.3,2.6 -.1,3.4 -1.7,2.8 -2.9,1.3 -2.8,-.2 -2.3,-1.4 -1.3,-2.2 .6,-1.9 2.2,-1.5 2.6,-.1 1.9,1.5 1,2.5 -.3,2.6 -1.6,2.4 -2.2,1.1 -2.5,-.4 -1.8,-1.4 -.8,-1.8 .5,-1.7 1.7,-1.1 2.1,.3 1.1,.9 .4,2.1 -.3,3.1 -1.7,3 -2.1,1.4 -2.4,-.2 -1.1,-1.8 -.1,-2.5 1,-2.5 2.6,-1.8 2.5,.1 2.3,2 1.2,3.2 -.3,3.4 -1.3,2.4 -2.5,1.3 -1.9,-.3 -1.5,-1.6 0,-2.4 .9,-2.4 1.6,-1.2 1.9,-.1 1.4,.8 .7,1.6 .1,2.4 -.9,2.3 -1.1,1.1" fill="none" stroke="#2cc2f2" stroke-width="1.15" stroke-linejoin="round"/>
<path d="M753.7,924.8 l -3.7,1.9 -3,0 -2.1,-1.5 -.9,-2.6 .8,-3.1 2.7,-2.8 3.1,-1.3 3.4,.5 2,2 .6,3.7 -1.4,3.6 -2.6,2.9 -3,1.1 -2.4,-.4 -1.7,-2 -.1,-2.6 1.5,-2.9 3.1,-1.7 3.2,.4 2.3,2.6 .5,3.1 -1.1,3.5 -1.6,3.9 -4,.9 -3.3,-1.2 -2.1,-2.9 .2,-3.5 2.4,-2.7 4,-.7 3.8,1.5 2,2.5 .7,4.5 -1.6,3.5 -5,1.2 -3.4,1.2 -2.8,-.8 -1.4,-2.3 .3,-3.8 2.1,-3.2 3.5,-2 3.4,.2 2,2.2 .2,3.5 -1.6,3.2 -1.9,4.1 -4.3,1 -3.8,-1.4 -2.4,-3.1 0,-3.6 2.3,-3 2.4,-1 2.7,.6 2.1,2.4 .5,3.6 -1.7,3.7 -3,2 -2.9,.6 -3.1,-.9 -1.7,-2.7 .5,-3.1 1.9,-2.1 2.9,-1.1 2.6,.6 2.3,2.3 .4,2.8 -1.4,3.5 -3,2 -3.1,.3 -3.3,-1.3 -2,-2.8 -.3,-2.7 .8,-2.5 1.8,-1.6 2.4,.1 1.6,1.7 .5,2.9 -1.3,2.6 -1.7,3.2 -3.5,1.1 -4.3,-.8 -3.1,-3 -.5,-3.9 1.6,-3 3.9,-1.6 3.6,.4 3,2.3 1.4,3.8 -.7,4 -5.1,1.4 -3.6,1.2 -2.8,-.2 -2.2,-1.6 -.3,-2.2 .7,-2.5 2,-2.1 2.5,-.4 2.1,.9 1.3,2.6 -.3,2.8 -1.6,2.7 -2.6,2.2 -3.2,.8 -2.6,-1.3 -.8,-2.7 .9,-3.9 1.9,-2.8 2.4,-1.7 2,-.1 1,2.2 -1,3.5 -2.9,4.1 -3.3,2.8 -3.4,.9 -2.6,-.9 -1,-2.8 1.1,-3.7 2.5,-3.3 4,-1.9 3.4,.7 1.6,3.1 -.8,4.2 -2.6,4.3 -2.7,3.8 -4.1,-.1 -2.4,-2.5 -.7,-3 1.4,-3 2.7,-1.9 3.2,0 2.8,1.7 1.3,2.8 .1,3.1 -1.1,3.7 -2.5,2.2 -3.6,.4 -3.4,-2 -1.6,-3.3 .2,-3.5 2,-3.1 3.6,-1.2 3.2,1.3 1.7,2.7 -.1,3.8 -4.2,2.8 -3.5,1.5 -3.2,.2 -2.9,-1.7 -.9,-2.6 .6,-2.8 2.1,-2.2 2.8,-.8 2.2,.9 1.2,2.4 -.5,2.9 -1.6,3.2 -2.3,1.6 -2.6,.4 -2.3,-.8 -.9,-1.6 .5,-1.9 1.6,-1.7 2.7,-1.2 2.9,.7 2.1,2.3 .3,3.1 -1,2.7 -2.8,1.1 -2.2,1.1 -1.7,0 -.8,-1.1 .6,-1.8 1.7,-1.6 2.4,-.7 2.5,.5 1.5,1.7 -.1,2.7 -1.1,3 -.3,3.8 -2.9,1.3 -3,-.8 -2.2,-2.9 -.1,-3.2 2.3,-3 3.5,-1.1 4.2,1.2 2.9,3.7 .4,4.5 -1.5,4.1 -4.9,1.2 -3.2,.3 -2.6,-1.4 -1.4,-2.6 .3,-3.1 1.8,-2.7 2.4,-1.2 2.4,.5 1.6,1.9 .4,3.3 -1.8,3.2 -1.8,3.3 -4.1,.3 -3.8,-2.2 -2.2,-4 .4,-4 2.3,-2.4 3.6,-.7 4.2,1.9 2.2,3.9 -.2,5 -4.1,2.9 -3.9,1.8 -3.9,-.3 -3.1,-2.7 -.9,-3.3 1.1,-3.8 2.8,-2.7 3.6,-.3 2.9,1.8 1.5,3.4 -.8,4.8 -3.2,3.5 -3.3,1.5 -2.5,-.1 -1.8,-1.4 0,-2.7 1.6,-2.4 2.9,-1.4 3.5,.3 2.8,1.9 .9,2.6 -.7,3.3 -1.1,3.2 -3,1.3 -3.1,-.7 -2.7,-2.2 -1,-2.5 .8,-2.2 2.2,-1.8 2.4,-.1 2.4,1.1 1.7,2.7 -.1,3.1 -2.7,1.7 -2.4,1.3 -3.2,0 -2.3,-1.4 -1.1,-2.8 .3,-2.5 1.3,-1.9 2.2,-1 1.9,.5 .9,2 -.5,3.2 -1.6,2.5 -1.9,2.3 -2.9,.9 -2.1,-1 -1,-2.5 .4,-3.1 1.6,-2.7 3.2,-1.7 2.8,.3 1.8,2.1 .4,3.8 -1,3.7 -2.8,3 -3.3,2 -2.5,-.5 -1.3,-2.2 .4,-4.1 2.1,-3.8 3,-2.1 2.6,.3 1.7,2.4 .2,4.1 -.9,4.9 -2.6,2.9 -3.3,1.5 -2.8,-.6 -1.8,-2.8 -.1,-3.5 1.6,-3.7 3.1,-2.5 2.7,-.1 2.3,1.9 .7,3.4 -.8,3.8 -2.9,3.6 -3.5,1.8 -3.2,-.3 -2,-2.2 -.6,-3.1 .7,-2.9 1.9,-2.1 2,-.5 2.3,1.3 1,2.9 -.5,3.1 -1.3,3 -3.3,2.3 -2.9,.1 -2.6,-1.8 -.9,-3.6 .9,-3.3 2.3,-2.3 3.5,-.9 2.8,1.6 1.1,3.7 -.9,3.7 -2,3.6 -4.2,1.4 -4.4,-1.1 -3,-3.4 -.8,-4.3 1.8,-4.2 2.9,-2.1 4.3,0" fill="none" stroke="#2cc2f2" stroke-width="1.25" stroke-linejoin="round"/>
<path d="M746.3,919.3 l 1.9,-1.9 2.6,-1 2.6,.7 1.3,1.8 -.3,2.5 -2.1,2.5 -2.9,.9 -3,-.4 -2.3,-1.5 -1.3,-2.6 0,-2.6 1.9,-1.6 2.1,-1.2 1.9,.2 .8,2 -.8,2.8 -1.8,2.6 -2.7,1.9 -3.1,.5 -2.4,-1.2 -.7,-1.6 1.1,-2.2 1.5,-2.2 3,-.7 2.2,1.1 1.1,2 -.3,2.4 -1.5,2.8 -2.2,1.5 -2.3,.6 -1.7,-.6 -.7,-1.5 .1,-2 .4,-2.2 1.9,-.9 2.5,.4 2.1,2.2 .6,3.4 -1.2,3.4 -2.6,2.4 -3,.6 -2.8,-1.4 -1.4,-2.8 .7,-2.4 2.7,-1.2 2.4,-.5 2.4,.5 1.3,1.9 .1,2.5 -1.5,3.1 -2.9,2.4 -2.8,.7 -2.5,-.9 -1.1,-2.2 .4,-2.5 1.7,-1.8 2.3,-1.2 2,.3 1.2,1.7 -.1,2.7 -1.3,3.1 -2.6,2.6 -2.5,1.1 -2.2,-.5 -.9,-1.8 .8,-2.7 .8,-3.5 2.6,-.8 2.7,.9 2.4,2.8 .6,4.1 -1.3,3.7 -2.4,2.5 -3.2,.7 -2.9,-1.1 -1.8,-3.1 .3,-3.4 2,-2.1 3.1,-.6 1.9,1.1 1.1,2.1 -.5,2.8 -2,2.5 -3.2,1.3 -3.3,-.3 -2.7,-1.7 -1.8,-2.5 -.6,-3 .4,-2.4 1.6,-.9 2.9,1 2,2.4 .8,3 -.8,2.7 -2.3,1.9 -3.5,.4 -2.7,-1.2 -1.5,-1.9 -.2,-2.3 1.4,-1.8 2.1,-1.2 2.9,.6 2.4,2.1 1.1,3.3 -.5,3.6 -2,2.6 -2.9,1 -3.3,-1 -2,-2.4 -.4,-3.2 2.4,-1.3 2.4,-.9 1.7,.4 1.1,2 -.1,2.9 -1.6,2.6 -2.3,1.9 -2.9,.5 -2,-.9 -1,-1.6 .2,-2.4 .7,-2.8 2.7,-1.1 2.7,1.2 1.3,2.4 -.2,3.2 -1.8,2.5 -3.2,2.4 -3.9,.4 -2.7,-1.7 -1.3,-2.9 .8,-3.3 2.7,-1.8 3,-.2 2,1.4 1.3,2.7 .1,3.3 -1.3,2.6 -2.6,2.1 -2.8,.3 -2.1,-1.2 -1.1,-2.2 .9,-2.1 2.4,-1.1 2.8,.3 2.4,1.9 1.1,3 -.4,3 -1.8,2.5 -2.3,1.1 -2.6,-.1 -1.7,-1.6 -.3,-2.2 1.1,-2 2.1,-.9 2.9,.7 2.4,2.4 1.3,3.5 -.4,3.4 -2.1,2.7 -2.5,1.3 -3,-.8 -1.7,-2.3 0,-2.7 1.9,-2.3 2.5,-.8 2.6,.9 1.7,2 .2,3.2 -1.1,3 -2.9,2.3 -3.1,.3 -2.9,-1.2 -1.7,-2.4 -.4,-3 1.7,-2.5 2.6,-.6 2.1,.7 1.4,2.1 .4,2.9 -1,2.7 -2,1.8 -2.6,.8 -2.3,-.4 -1.2,-1.5 -.1,-1.9 1.9,-.9 1.9,-1.3 1.7,-.1 1.2,1.3 -.1,2.2 -1,2.5 -1.6,1.8 -1.9,1.1 -1.7,-.3 -.9,-1.6 .2,-2.2 -.1,-2.8 1.8,-.8 2.3,.5 2,2.3 0,2.8 -1.5,3 -2.6,1.4 -3.7,0 -3.2,-1.7 -2.2,-2.7 -1,-3.1 2.2,-1.6 1.7,-1.4 1.4,-.1 .5,1.1 -.7,2 -1.9,2.4 -2.7,2 -2.3,.8 -2,-.3 -1.3,-1.4 -.1,-1.5 .9,-2 1.1,-1 1.9,-.4 1.4,1.4 .5,2.7 -1,3.3 -1.9,2.3 -2.3,1.5 -1.8,-.2 -.9,-1.4 .5,-2.3 .3,-2.9 2.7,-.8 2.9,.7 2.1,1.9 1,2.6 -.8,3.1 -2.1,1.9 -3.2,1.2 -3.7,-.5 -2.6,-1.9 1,-2.3 .4,-2.2 1.7,-1.4 1.8,.3 .9,1.6 .4,2.8 -1,2.8 -1.8,2.3 -1.6,.9 -1.2,-.3 -.4,-1.4 -1.1,-2.4 2,-1.4 3.3,-.5 2.8,1 2.3,2.5 .7,2.7 -.9,3.1 -1.8,2.1 -2.8,.3 -2.2,-1 -1.2,-1.9 .8,-1.9 1.2,-1.8 2.2,-1 2.4,.2 1.9,1.7 .7,2.7 -.4,2.5 -1.3,2.1 -2,1 -1.9,-.5" fill="none" stroke="#2cc2f2" stroke-width="1.15" stroke-linejoin="round"/>
<path d="M842,1001.8 l .6,-2.7 2.6,-1.7 3.2,.2 2.9,2 1.5,2.9 0,3.6 -1.8,2.8 -3.1,1.3 -3.2,-.6 -2.9,-2.2 -1.6,-2.5 -.8,-2.5 1.6,-2 2.8,-.6 3.6,1.6 2.6,3.6 1.1,4.1 -.7,4.2 -2.5,2.2 -3.3,.2 -3.6,-2.6 -1.6,-3.9 1.1,-4.3 3.2,-2.9 4.2,-1 3.9,.8 3.4,3 1,3.6 -.8,3.4 -2.4,2.1 -3,.1 -2.4,-1.7 -1.3,-3 1.4,-4.4 1.7,-2.3 2.7,-.7 3.7,1.6 2.5,2.7 1.8,4.2 -.4,2.9 -1.6,1.6 -2.5,-.1 -2.9,-2.2 -1.9,-3.2 -1,-2.4 2.4,-2.4 3.1,-.7 3.2,.8 2.5,2.3 1.4,3.3 -.5,3.2 -1.5,1.3 -2.2,.1 -2.3,-1.6 -.9,-2.8 .9,-3.1 1.9,-1.8 2.9,-.5 3.3,1.5 1.9,3 .6,3.4 -.9,2.5 -2,1.1 -2.9,-.4 -2.3,-1.8 -1.4,-2.4 .3,-2.6 1.4,-.9 2.6,.6 2.2,2.2 1.7,2.8 .8,3.4 -.7,2.5 -2,1.5 -2.4,0 -2.3,-1.5 -1.5,-2.9 -1.1,-1.8 2.2,-2.9 3.3,-1.4 4.2,.8 2.2,2.3 1,3.3 -.9,3.9 -2.9,2.9 -3.4,.9 -3.3,-1.3 -1.5,-2.8 1.5,-4.2 1.1,-2.6 2.8,-.9 3.2,1 3.3,2.9 2.2,4.2 .3,3.8 -1.8,2.3 -3.2,-.1 -3.5,-2.7 -2,-3.8 -.1,-2.9 2.2,-2.5 3.6,-.1 3.4,1.9 2.8,3 1.4,3.6 -.1,2.1 -2,1.2 -3.1,0 -2.5,-1.5 -1.5,-2.5 -.3,-2.2 2.1,-2.1 3,-.6 3.6,1.1 2.3,2.6 .8,3 -.8,2.8 -2.2,2.2 -2.9,.5 -2.5,-1 -1.7,-2.3 .7,-3.6 .5,-1.7 1.8,-.6 2.9,1 2.8,3 1.5,3.4 .3,3 -1.7,2 -2.4,.2 -3,-1.5 -2,-3.1 -1.1,-2.4 2,-2.1 2.8,-.5 3.2,1.3 2.1,2.7 .6,3.2 -.9,3.5 -2.5,2.1 -3,.3 -2.4,-1.4 -1.1,-2.1 .9,-2.7 1,-1.3 2.3,-.1 2.1,1 2.1,1.9 1.6,2.5 .3,2.2 -1,1 -1.6,-.3 -1.4,-1.3 -1.2,-2.1 -.5,-2.2 1.1,-2.1 2.3,-.8 2.7,.9 2.5,1.9 1.8,3.4 0,2.8 -1,2.1 -2.4,.8 -2.8,-.6 -2.4,-1.8 -1.6,-2.7 -.4,-1.9 1.8,-1.7 3,-.3 2.3,1.6 1.5,2.8 -.3,3.5 -2,2.8 -3.1,1.3 -3.3,-.6 -2.3,-1.8" fill="none" stroke="#2cc2f2" stroke-width="1.25" stroke-linejoin="round"/>
<path d="M848.2,998.5 l 2.2,1.3 1.7,2.1 .5,2.7 -.8,2 -1.8,1 -2.3,-.1 -2.5,-1.3 -1.9,-2.6 0,-2.8 1.5,-1.4 2.8,.1 2.5,1.5 2.1,3 .6,3.2 -1,3.3 -2.1,1.7 -2.8,0 -2.4,-1.4 -1.7,-2.4 -.4,-3 1.2,-1.7 2.5,-.5 3.1,1.2 2.1,2.8 .8,3.4 -.7,3.8 -1.6,2.4 -2.8,.9 -2.6,-1.1 -1.8,-2 -.5,-2.5 1.2,-2.7 2.8,-1.6 3.1,.9 2.6,1.9 1.4,2.8 .2,2.8 -.6,1.8 -1.5,.9 -1.9,-.6 -1.4,-1.7 -.4,-2.1 1.1,-1.8 1.8,-.7 2.9,-.3 2.4,1.5 1.4,2.2 0,2.8 -1.2,2.5 -2.3,1.4 -2.6,-.2 -2.2,-1.9 -.3,-2.8 1.5,-2.6 3,-1.5 2.1,1.3 2.2,2.1 1.5,3.3 0,3.7 -1.8,2.5 -2.1,.4 -2,-1.6 -1.6,-2.4 -.5,-2.8 1,-2.4 2.1,-.9 3.8,.3 3.2,2.6 1.4,3.3 .1,3.6 -1.5,2.4 -2.5,.8 -2.9,-.8 -2.4,-2.4 -.5,-2.7 .7,-1.7 2.3,-.8 3.4,.4 2.9,1.5 2,3.2 .4,3.7 -1.4,2.6 -2.3,1.1 -2.9,-.8 -2,-2.2 -1,-3.3 .8,-3.1 2.5,-1.8 3.4,0 4.1,1 2.7,3.3 .6,3.4 -1.4,3.2 -3,2 -3.4,0 -2.3,-1.9 -1,-3 1.4,-2.8 2.3,-1.4 3,0 3.1,1.7 2.2,3.2 .3,3 -1.5,2.9 -2.6,1.5 -2.9,0 -2.5,-1.5 -1.2,-2.3 .6,-2.5 2.4,-2 3.1,-.3 2.8,2.4 2.1,3.2 0,3 -1.3,2.2 -2.3,.6 -2,-.8 -1.3,-1.8 -.4,-1.8 1,-1.5 2,-.7 1.7,.7 2.1,1.6 1.5,2.6 .2,2.3 -1,1.8 -1.8,.2 -1.6,-.7 -1.2,-1.7 -.5,-1.6 .8,-1.4 1.8,-.5 3.3,-.2 2.1,1.8 1.2,2.3 0,2.7 -1.8,2.3 -2.9,1.2 -2.6,-.3 -1.9,-2.3 -.7,-2.8 .8,-2.5 2.5,-2.1 3.1,-.7 1.3,2 1.3,2.3" fill="none" stroke="#2cc2f2" stroke-width="1.15" stroke-linejoin="round"/></g>
<g opacity="0.95"><path d="M1170.1,844 l -2,2.2 -2.5,.1 -2.5,-1.6 -1.8,-3.3 0,-3.7 1.8,-3.1 2.9,-1 4,1 3.3,3.1 1.4,3.1 .3,3 -1.5,2.4 -3.3,.6 -2.5,-1.4 -1.9,-2.9 0,-3.7 2.3,-3.2 3.1,-1 3.7,1.1 3.1,3.6 1.2,3.8 -.7,4.4 -2.3,2.1 -3.3,.3 -2.6,-1.7 -1.5,-3 -.1,-3.5 1.3,-2.2 2.8,-1.1 3.6,.8 3.3,3.3 1.4,4.6 -1.3,3.9 -1.8,1.5 -2.3,.2 -2.4,-.8 -1.8,-1.8 -.6,-2.7 1,-2 2.7,-.8 3.6,.9 2.8,1.9 1.9,2.9 1.5,2.7 -1.9,3 -3.7,1.5 -3.3,-.6 -2.1,-2.3 -.4,-3.5 1.9,-3.3 4,-1.4 4.8,.7 3.5,3.3 1.2,5.2 -2.5,4.2 -2.6,1.9 -3.3,.5 -2.8,-1.6 -1,-2.4 .5,-2.1 1.6,-1.5 2.3,.1 2.1,1.5 1.4,2.8 .4,2.7 -.9,3.3 -1.3,2.2 -2.6,.6 -2.8,-1.1 -2.4,-2.3 -1.1,-2.7 .8,-1.7 2.1,-.6 3.1,1.6 2.3,3.6 1,4.1 .1,3.6 -1.4,2 -2.2,-.1 -2.1,-1.5 -1.9,-3.5 .1,-3.4 1.7,-2.3 2.7,-1.2 3.7,1.2 2.8,2.9 1.6,4.1 -.2,3.7 -2.1,2.2 -3,.5 -3,-1.2 -2,-2 -.7,-3.3 1.5,-3.1 2.7,-1.3 2.9,.5 2.7,2 1.4,3.5 -.6,3.2 -2,2.8" fill="none" stroke="#f8a368" stroke-width="1.06" stroke-linejoin="round"/>
<path d="M1161.6,837.8 l 1.6,-1 2.5,.1 1.9,1.6 1.1,2.5 -.3,2.5 -1.2,2 -1.6,1.1 -1.8,.1 -1.8,-1.3 -1.1,-1.8 .4,-1.5 1.2,-1.1 2.6,-.1 2.6,1.3 1.6,2.6 .4,3.2 -1.1,2.9 -2.1,2 -2.5,.4 -2.2,-1.5 -.7,-2.2 1.2,-2 1.6,-1 1.9,.4 2.5,1.6 2.1,2.7 1.2,3.5 -.3,2.5 -1.9,1.4 -2.1,-.6 -1.8,-1.4 -1.2,-2.5 .5,-2.3 2.1,-.6 3.3,.3 2.8,1.9 2,2.7 .9,2.8 -.4,2.2 -1.3,.8 -2,-.5 -1.4,-1.4 -.7,-1.9 .7,-2 1.9,-.6 2.1,.6 2.1,1.6 1.7,2.4 .6,2.3 -.4,1.8 -1.1,.9 -1.2,-.4 -1.2,-1.1 -.4,-1.5 .5,-1.2 1.3,-1 2.4,0 2.5,1.6 1.7,3.1 .3,3.1 -1.5,2.6 -3,2.1 -2.8,.5 -2.6,-1 -.8,-2 1,-2.3 2.8,-1.7 2.5,.7 2.4,2.1 1.9,2.8 .8,2.6 0,2.4 -1.4,.8 -1.5,-.6 -1.6,-1.6 -1.3,-2.6 0,-2.4 .7,-1.8" fill="none" stroke="#f8a368" stroke-width="0.98" stroke-linejoin="round"/>
<path d="M1206.9,845.1 l -1.6,2.9 -2.3,1 -2.4,-1 -1.7,-2.5 -.6,-3.2 1,-3.1 2.3,-2.2 2.7,.4 2.4,1.7 1.3,3 .2,4.1 -.6,3.5 -3.7,2.2 -3.9,.3 -3.1,-1.6 -1.6,-3.5 1.1,-3.4 2.8,-2.1 3.8,-.4 4.1,2 2.2,4.2 -.3,4.6 -3.7,3.9 -2.5,2.6 -2.9,.4 -2.7,-1.8 -1.3,-2.9 .3,-3.2 1.8,-2.1 3.1,-.6 2.4,1.1 2.4,3 1.1,3.5 .8,3.5 -1.8,2.9 -3,1.4 -2.8,-.6 -2.1,-2.6 -.5,-3.4 1.1,-2.7 2.9,-1.5 2.9,.6 2.5,2.1 1.6,3.2 .4,4.4 -2.3,3.5 -2.9,1.2 -2.7,-.4 -2.1,-2.3 -.6,-3 1.7,-3 3,-2 3.6,.2 3.4,2.3 1.9,4 -1.4,4.9 -2,3.3 -3.7,1.4 -3.3,-.7 -2.6,-2.7 -.7,-3.3 .9,-3 3,-1.4 3,.8 2.5,2.9 1.3,4.5 -2.3,4.2 -1.6,2.6 -1.8,.4 -1.8,-1.2 -1,-2.4 .3,-2.3 1.1,-2 1.7,-.7 2,.8 1.4,2.2 1,2.9 0,3 -1,2.6 -1.5,.9 -1.9,-1 -1.4,-1.8 -.1,-2.4 .7,-1.8 1.3,-.7 1.8,.9 1.5,3 .3,2.9 -.6,3.5 -1.6,2.4 -1.8,.5 -1.9,-1.4 -1.1,-2.8 .1,-2.8 1.2,-2 2.4,-.6 2.5,1.2 1.8,3.4 .5,3.7 0,3.4 -2.6,2.4 -2.9,.4 -2.2,-1.6 -.9,-3.1 .7,-2.8 2.4,-1.9 3.2,-.3 3.2,1.8 2.4,3.6 .7,3.9 -1.6,3.2 -1.9,2.2 -2.2,-.2 -1.5,-2.1 -.4,-3 1,-3.2 2.4,-2.1 2.9,-.5 3.2,2.3 2,3.4 .8,4.1 -1,4.5 -2,1.9 -2,.2 -2.2,-2.1 -.9,-3.4 .3,-3.4 1.4,-2.4 2.6,-1 2.6,1.4 2.5,3.1 1.4,4.5 0,3.8 -2.7,2.4 -3,.1 -2.3,-1.6 -1.4,-2.4 0,-2.6 .9,-1.4 1.8,0 1.6,1.5 1.3,2.7 .2,2.7 .1,3.1 -2.2,2.1 -3,.7 -2.9,-.8 -1.5,-2.1 -.2,-2.2 1.6,-1.8 3.1,-.6 3.3,1.3 1.9,2.7 .2,3.8 -2.1,3.1 -2.9,2.6 -3,0 -1.9,-2 -.6,-3.1 1.7,-2.6 2.8,-1.4 3.2,.7 2.2,2.5 .4,3.7 -1.2,3.8 -2.6,3 -4,.6 -3.1,-1.4 -2.5,-2.9 -.3,-3.6 1.7,-2.3 2.8,-.9 3.1,1.4 1.7,2.3 .1,3.8 -1.8,3.2 -2.7,2.1 -3.8,.3 -3.9,-1.5 -2.5,-2.9 -.4,-3 1.2,-1.9 2.1,-.6 2.4,.8 2.1,2.3 .7,2.9 -.7,3.6 -2.8,2.2 -2.9,1.4 -2.4,-.3 -1.8,-1.7 -.1,-2.7 1.5,-2.5 2.5,-1.3 3.5,.4 2.7,2.3 1,3.4 -.8,3.9 -1.6,3.2 -4.1,1.2 -4.3,-1.5 -2.6,-3.3 -.9,-3.9" fill="none" stroke="#f8a368" stroke-width="1.06" stroke-linejoin="round"/>
<path d="M1198.6,844.5 l .1,-2.8 1,-2.2 1.9,-1.2 2.4,.3 1.9,1.5 1.3,2.3 -.1,3.2 -1.5,2.3 -1.8,.9 -2.1,-.7 -1,-1.6 -1.6,-2.2 1.5,-2.2 2.8,-.9 3.6,.4 2.8,2 1.4,3.4 -.6,4.1 -2.6,2.7 -3.6,1.3 -3.1,-.8 .3,-2.4 .5,-2.6 1.6,-1.8 2.2,-.4 2.2,.8 2,2 1.2,2.7 .3,2.7 -.7,2.2 -1.5,1.3 -2,-.3 -1.3,-1.2 -.4,-1.9 .8,-2.1 1.5,-1.1 2.3,.3 2,2 1.1,3 -.2,3.3 -1.1,2.8 -1.7,1.8 -2.3,.2 -1.4,-1.4 -.9,-2.3 .4,-2.5 1.4,-1.8 2.1,-.7 2.3,1.1 1.9,3.4 .8,4.1 -.6,3.6 -1.3,1.9 -1.9,.2 -2.2,-1.9 -1.3,-2.6 .6,-2.4 1.3,-1 1.3,.5 1.3,1.7 .4,3 -.4,2.6 -.9,2.5 -1.5,1.6 -1.7,.6 -1.4,-.6 -2.1,-1 0,-1.9 1.5,-1.1 2.2,-.1 1.9,1 1.4,2.1 .4,2.8 -1.3,3 -2.7,2.1 -3,.2 -2.1,-.6 .7,-2.4 .5,-1.7 1.5,-.9 2.2,-.1 2.2,1.7 1.6,2.2 .6,3 -.6,2.5 -1.4,1.5 -1.6,-.3 -1,-.9 -1.4,-1.5 .7,-1.7 1.9,-1.4 2.4,.3 2.1,1.7 1.6,3.1 .3,3.2 -1.1,3 -2.2,1.6 -1.8,-.3 -1.3,-1.6 -.1,-2 1.3,-2 2.4,-1.1 2.4,0 2.7,1.7 2,3.1 .2,3.8 -1.2,2.7 -2.2,1.5 -2,-.3 -1.9,-1.9 -1,-2.5 1.7,-2.1 3,-1 3.3,1 2.4,2.7 .9,3.6 -.9,4.1 -2.8,2.7 -3.1,.7 -2.9,-.5 -1.9,-2.5 2.1,-2.9 1,-1.6 1.6,-.1 1.9,2.1 .8,2.7 -.2,2.8 -1,2.9 -1.8,1.8 -2.3,.7 -1.3,-.8 -.6,-1.4 -.2,-1.8 1.6,-1.4 2.3,-.4 2.6,2.1 1.3,2.9 0,3.6 -1.2,3.3 -2.7,1.9 -3.2,.2 -2.1,-1.7 -.3,-2.9 1.2,-2.3 2.2,-1.1 2.7,.5 1.6,2.1 .1,2.9 -1.6,3.8 -2.7,2.6 -3.2,1.3 -3,-.4 -1.8,-1.8 -.2,-2.3 .1,-3.2 3.1,-1.2 4.2,1 3,2.7 .8,3.4 -1.1,3.5 -2.9,2.5 -4.2,1.3 -3.7,-.7 -3.4,-2.6 -1.4,-3.4 2,-1.9 1.3,-1.7 1.6,-.3 1.4,1.1 .2,2.1 -1.1,2.1 -2.3,2.1 -2.8,.7" fill="none" stroke="#f8a368" stroke-width="0.98" stroke-linejoin="round"/>
<path d="M1203.9,850.6 l 1,-2.3 2.9,-1.5 3.3,.3 3.1,1.8 1.5,2.8 -.2,2.9 -1.9,2.3 -3,1.1 -3.1,-.4 -2.2,-2 0,-2.5 1.8,-1.7 3.1,-.8 4.1,.3 3.5,1.3 1.8,1.7 .2,1.6 -1.6,1.1 -2.7,.1 -2.8,-1 -1.9,-1.8 -.2,-1.9 1.7,-2.4 3.6,-1.1 3.3,.3 3.3,1.7 1.4,2.6 -.1,2.9 -2,2.6 -3,1 -2.7,-.6 -1.4,-1.4 .3,-2.5 2.5,-2.2 3.4,-.7 4,1 3.3,3 1.2,3.8 -1.2,3.2 -2.6,2.1 -3.3,.1 -3.6,-2 -1.4,-2.8 .5,-3.4 2.9,-2.8 4.2,-1.3 3.8,1 2.3,2.6 1,3.4 -.6,3.6 -2.5,2.6 -2.9,.9 -2.8,-1.1 -1.2,-2.7 .3,-3.9 2.7,-3.3 3.4,-1.3 4.3,.6 2.9,2.5 1.4,4.3 -1,3.6 -2.5,2.4 -3.5,1.1 -3,-1.3 -1.9,-2.8 .2,-3.8 2.4,-2.4 3.6,-1.5 4.1,1.1 3.2,3 1.5,3.1 -.3,2.9 -2.1,2.4 -2.9,.2 -2.6,-1.2 -1.8,-3.1 .4,-3.4 2.2,-2.3 3.5,-1 3.9,1 2.8,2 1.7,3.2 .1,3.3 -2.1,2.8 -3.1,1.2 -3.2,-1 -1.6,-2.5 .1,-3.3 2.4,-3.2 3.4,-1.4 3.5,.6 3.4,2.8 1.1,3.4 -.5,3.8 -2.4,2.7 -3,.6 -2.5,-1.7 -1,-2.5 .8,-3.2 1.9,-1.9 3.3,-.8 3.6,.7 3.7,2.4 2.4,3.1 -.5,2.4 -2.3,.7 -3.3,-.8 -2.8,-1.9 -1.7,-3.1 1.2,-2 3.1,-1.7 4.2,.1 3.4,1.6 2.5,3.2 .7,3.2 -.9,2.9 -2.2,2.3 -3,.4 -2.6,-.9 -1.7,-2.5 .7,-2.6 2.9,-2.9 3.7,-.9 3.5,.7 3.1,2.8 1.3,4.2 -.7,3.6 -1.7,2.1 -3,.8 -2.7,-1 -1.4,-3.1 .8,-3 1.7,-2.1 3,-1.3 3.3,.4 2.6,1.3 1.9,2.3 .4,2.4 -1.2,1.6 -1.6,.5 -2,-.6 -1.2,-1.6 -.8,-2.4 1,-2.7 2.8,-2.1 4.5,0 4.1,1.9 2.2,3.1 -.1,3.4 -2.2,2.8 -3.8,.5 -3.5,-1.7 -2.1,-3.3 0,-3.3 2.1,-4 4.6,-2.4 4.7,.1 3,2.3 1.4,4 -1.3,3.9 -2.6,2.2 -3.4,.3 -3.3,-1.6" fill="none" stroke="#f8a368" stroke-width="1.06" stroke-linejoin="round"/>
<path d="M1208.5,854.3 l -2.2,-1.4 -1,-1.9 .5,-1.4 2.1,-1.4 2.7,-.3 2.6,.9 2.1,1.8 .2,1.9 -.8,1.3 -1.8,.7 -2.3,.1 -1.1,-1.8 -.2,-2.4 1.8,-2.1 2.9,-1.2 3.4,0 2.5,1.3 1.5,2 -.1,1.6 -1.3,1.2 -1.9,-.1 -1.4,-1.6 -.5,-2.2 .7,-2.2 2.3,-1.8 3.1,-.5 2.8,.5 2.1,1.7 1,2.3 -.7,1.6 -1.5,1 -1.8,-.9 -1.6,-1.6 .1,-2.2 1.8,-1.8 2.2,-.6 4,.6 2.6,1.6 1.8,2.5 .5,2.6 -1.2,2 -2.1,.6 -2.4,-.4 -1.2,-1.8 .6,-1.9 2.5,-1.1 3.1,.1 2.4,.9 2,1.8 .6,1.8 -.8,2 -1.2,.9 -1.5,-.1 -.8,-1.1 -.7,-.8 .4,-.8 1.2,-.3 2,.5 2.3,1.3 2.6,2.1 1.4,2.4 -.2,2.4 -1.7,1.2 -2,0 -2,-.9 -.6,-1.3 .6,-1.3 1.7,-.7 2.6,.2 2.6,1.5 1.6,1.6 1.2,2.2 -.2,1.6 -1,.9 -1.6,-.1 -2.6,.6 -.4,-1.7 1.2,-2.3 2.1,-1.7 3.2,-.4 2.7,1.2 2,2.3 .8,3.2 -.5,2.7 -1.9,1.7 -2.5,.2 -.8,-3.5 -.7,-2 .4,-1.4 1.6,-.9 2.6,.1 2.1,1 2.1,1.7 1,2.2 .2,2.5 -1.5,1.8 -2.1,.8 -1.9,1.2 -1.2,-1 .7,-1.4 1.8,-1.5 3,-1.3 3.3,.2 2.4,1.5 1.3,2 -.1,2.8 -1.3,2.2 -2.4,.6 -1.5,-1.3 -1.1,-2 .8,-1.8 1.5,-1.3 2.5,-.7 2.6,.5 2.2,1 1.9,1.8 .6,1.6 -.8,1.3 -1.2,.3 -1.8,-.2 -1.4,-1.3 -.3,-1.5 1.2,-1.8 2.1,-.9 2.9,-.1 2.9,1.3 2,1.8 .8,2.1 -.8,1.9 -1.8,.8 -2.4,-1.4 -1.7,-1 -.8,-1.3 .4,-1.4 1.8,-.8 2.1,.2" fill="none" stroke="#f8a368" stroke-width="0.98" stroke-linejoin="round"/>
<path d="M1270.7,839.1 l -3,-1.3 -2,-2.6 -.7,-3.2 .8,-2.9 1.9,-1.7 1.9,0 2.1,2.1 .9,3.7 -.7,3.5 -2,2.8 -3.5,1.7 -4.3,-.8 -2.6,-2 -.2,-3.1 2,-2.3 3,-1.3 3.2,.7 2.2,1.9 .9,3.7 -.4,3.2 -2.1,2.6 -2.7,1.2 -2.1,-.8 -1.2,-2.1 0,-2.6 1.3,-2.3 2.1,-1.3 2.7,.8 2,2.7 1.1,3.8 -.1,4.3 -1.4,3.1 -3.2,1.4 -3.6,-1 -2.1,-2.3 -.2,-3.2 2.3,-3 3.6,-1.2 4.3,.4 3.9,2.5 2,3.5 .4,3.7 -1.3,3.2 -3.4,2.3 -2.8,-.7 -1.7,-2.1 .1,-2.9 2,-3.1 3.1,-1.6 4.1,.2 3.3,1.7 2.1,2.7 .7,2.9 -1.2,2.6 -1.5,1 -2.2,.1 -2.1,-1.4 -.8,-2.7 .3,-2.3 2.4,-1.9 3,.1 2.8,1.7 2.3,3.6 .2,3.8 -1.6,3.6 -2.7,1.8 -2.6,-.5 -2.3,-2 -.8,-3.1 .6,-3.1 2.2,-1.6 3.2,0 3.1,2.5 1.7,3.9 .2,4.2 -1.2,3 -3.2,1.3 -3.7,-.3 -2.9,-2.6 -.3,-3.3 2.2,-2.8 3.8,-1 3.8,.6 3.1,3 1.1,3.9 -1.2,3.8 -2.8,2.4 -2.4,.2 -2.7,-1.9 -1.8,-3.1 0,-3.2 1.5,-1.5 2.4,.6 2.3,2.8 1.6,4.8 -.2,5.1 -1.9,3.6 -3,.8 -3.1,-.9 -2.2,-2.6 -.7,-3.7 1.3,-2.9 2.5,-1.7 2.9,.2 3.2,1.7 1.9,3.2 .7,3.5 -.6,3.2 -1.7,1.7 -2.3,.6 -2.3,-1.6 -1.2,-3 0,-3.3 1.5,-2.7 2.4,-.5 2.8,1.8 1.9,4.2 .2,4.8 -1.4,3.9 -3.1,2.4 -3.9,-.9 -2.2,-2.8 0,-3 1.3,-2.4 2,-1.4 2.8,0 2.5,1.9 1.5,3.1 .2,2.8 -1.1,2.6 -2.2,1.4 -2.5,.7 -2.7,-1.2 -1.3,-2.8 .7,-2.9 2.3,-2.1 3.7,.1 3.2,2.1 2,3.5 0,4.8 -2.1,3.8 -2.8,1.5 -2.8,-1 -1.5,-2.8 .3,-2.6 2.4,-2.5 2.7,-.7 2.9,.8 2.6,2.7 .9,3.4 -1.3,3.8 -2.3,1.8 -3,.7 -2.6,-1.1 -1.6,-2 .2,-2 1.4,-1.6 2.7,-.4 2.7,1.4 1.9,2.1 .4,3 -1.3,2.8 -2.3,1.7 -2.7,1.2 -2.1,-.7 -1.4,-2.3 .3,-3 2.4,-2.7 3.7,-.4 3,1.9 2,3.8 .4,4.3 -1.3,3.9 -3,2.6 -4.1,-.6 -3.4,-2.8 -1.1,-3.6 .6,-2.9 1.8,-1.8 2.9,.4 2.3,2.2 .9,3.4 -1.1,4.1 -2.8,2.4 -3.5,1 -2.7,-1 -1.9,-2 -.5,-2.4 1.1,-2.2 2.1,-.9 2.7,.8 1.9,2 .5,2.8 -1,3.1 -2.3,2 -3.2,.9 -3,-.2 -2.4,-2.2 -.8,-2.9 1.1,-3.3 2.3,-1.4 3.4,.2 2.6,2.6 1.1,3.8 -.8,3.9 -2.4,3 -3.6,2 -4.1,-.4 -3.2,-3.2 -1,-4.3 1,-3.5 2.5,-2.3" fill="none" stroke="#f8a368" stroke-width="1.06" stroke-linejoin="round"/>
<path d="M1271.1,837.6 l -1.7,-1.1 -1.1,-2.5 0,-2.3 .8,-2.1 1.3,-1.2 1.8,.1 1.3,1.3 .5,2.6 -.5,3 -1.6,2.9 -2.3,1.4 -3,0 -1.8,-1.4 -.4,-2.3 1.4,-1.9 3.1,-.8 3.2,.6 2.6,2 1.6,3.5 -.4,3.8 -1.9,2.5 -2.3,.8 -2.2,-.6 -1.5,-1.5 -.4,-2.3 .9,-2.1 2,-.8 2.2,1 1.7,2.8 .4,3.4 -.7,3.2 -2,2.5 -2.5,.8 -2.8,-1.1 -1.7,-1.7 -.5,-2.1 .9,-1.4 1.9,-.3 2.4,1 1.7,2.7 .4,2.9 -.4,3.4 -1.3,2 -1.9,.7 -1.8,-.6 -1.3,-1.6 .3,-1.9 1.3,-1.1 2.1,-.6 2.6,.7 2.3,2.1 1.1,2.5 -.3,2.8 -1.2,1.9 -1.7,.9 -2.1,-.2 -1.5,-1.3 -.3,-1.4 .7,-1.4 1.2,-.5 2.2,.9 1.6,1.6 1,2.5 .2,2.6 -.4,2.6 -1.1,1.3 -1.5,0 -1.4,-.7 -1.1,-1.7 .5,-2 1.1,-1.4 1.7,.1 2.3,1.3 1.8,2 1.5,3.3 0,3 -1.3,2.4 -2.4,.1 -2,-.8 -1,-1.8 -.1,-1.9 .8,-1.2 1.8,-.3 2.4,1 1.7,2.1 .8,2.6 0,2.3 -1.1,2.2 -1.9,.7 -1.3,-.2 -.9,-1.4 .4,-1.3 1.2,-1.5 1.8,-.3 1.7,.3 1.4,1.5 .7,1.9 -.2,2.4 -1.2,2.1 -1.8,1.2 -1.7,.7 -1.1,-.6 -.7,-1.5 .3,-2.1 1.4,-1.3 2,-.3 1.9,.8 1.9,2.4 .8,2.9 -.3,2.8 -1.2,2.2 -2.1,.4 -1.4,-1.3 -.6,-1.7 .7,-1.8 1.7,-.9 2,-.1 2.3,1 1.8,2 1.2,2.4 .4,1.9 -.7,2 -1,1.1 -1.3,-.4 -1.1,-1.2 -.4,-1.5 .7,-1.4 1.4,-.9 1.2,.6 1.2,1.9 .1,2.8 -1,2.9 -1.5,2.2 -1.9,1.4 -1.8,-.4 -1.4,-1.6 -.7,-1.8 0,-2 1,-1.2 1.6,.6 1.3,2 .2,2.6 -.9,2.6 -1.6,2 -1.9,.9 -1.6,-.4 -1.2,-1.4 -.3,-1.8 .7,-1.6 1.3,-1.1 1.1,.4 .9,1.2 .3,2.2 -.1,3.1 -1.5,2.3 -1.8,1.4 -1.8,.2 -.8,-1 0,-1.7 1,-1.9 1.7,-.9 1.9,.5 1.2,1.5 .6,2.7 -.8,3 -1.4,2.2 -1.7,1.2 -1.8,-.1 -1.3,-1.5 .3,-1.9 1.6,-1.7 2.8,-.5 3.5,.6 3.3,2 2.1,3.2 .7,3.2 -1.3,2.9 -2.3,1.3" fill="none" stroke="#f8a368" stroke-width="0.98" stroke-linejoin="round"/>
<path d="M1110.9,876.5 l -1.8,-3 -.3,-2.9 1.2,-2.2 2.9,-1.1 3.5,.9 2.1,2.4 1,3.3 -.5,3.9 -2,2.4 -3.3,.5 -2.5,-2.3 -1.8,-2.9 .2,-2.7 1.5,-1.9 3.2,-.6 3.8,1.2 3.2,2.6 2.2,3.3 .5,2.9 -1.6,2.1 -2.6,.2 -3.3,-1.8 -2.7,-2.4 .1,-3.5 2.1,-2.8 4.1,-1.4 4.4,1.3 3,2.9 1.3,3.9 -.5,3.3 -2,2.3 -3.4,.7 -3.1,-1.5 -1.8,-2.7 .1,-3.2 2.3,-2.9 3.7,-.5 4.1,1.3 3.5,3.1 1.3,4 -.9,3.1 -2.5,1.8 -3.5,.1 -3.7,-1.2 -1,-2.9 .7,-2.3 2.1,-1.5 2.9,.1 2.5,1.4 1.8,3 .7,3.3 -.8,3.2 -2.1,2.4 -2.6,.6 -1.1,-1.8 -1.2,-1.2 -.2,-1.5 1.1,-.7 1.8,.1 2.8,1.2 2.1,2.2 .8,2.5 -.2,2.5 -1.1,1.3 -2.3,.2 -1.7,-1.1 -1.4,-1.6 -.2,-2 1.5,-1.6 3,-1.1 3.9,.3 3.8,2 2.3,2.4 .4,2.2 -1.4,1.1 -2.5,0 -2.6,-1.4 -1.7,-2 -.3,-2.2 1.4,-2.1 2.7,-1.2 3.5,.2 3.8,1.4 2.7,2.1 .9,1.8 -.6,.9 -1.6,.4 -2.2,-.9 -2.3,-1.1 -1,-2.7 1.1,-2.5 2.9,-1.6 3.6,.2 3.1,1.5 2.3,2.5 .7,3.5 -1.2,2.7 -2.5,1.2 -3.4,.5 -2.1,-2.2 -.7,-3.3 1,-3.7 3.1,-3.3 3.9,-1.4 4.6,.6 3.2,2.5 .9,4.1 -1.1,4.2 -3.3,2.6 -3.5,.2 -2.2,-4.1 -1.8,-2.5 .2,-2.6 2.8,-2.4 3.2,.1 4,1.4 4.1,3.1 1.7,2.9 -.2,2.5 -2.1,1.9 -3.4,.1 -3.8,-.1 -2.1,-2.6 -.4,-3 2.2,-2.5 3.4,-.7 3.6,.5 3.4,1.9 1.8,2.8 0,2.7 -2.3,2.2 -3.2,.4 -3.4,-.9 -2.5,-3.1 -.7,-3.4" fill="none" stroke="#f8a368" stroke-width="1.06" stroke-linejoin="round"/>
<path d="M1111.3,869.2 l 2.2,-.4 2.5,.9 1.6,2.3 .5,2.3 -.7,2.5 -1.9,2 -2.3,.1 -2.3,-1.1 -.6,-1.4 .2,-1.6 1.8,-.6 2.2,.8 2.1,2 1.7,2.9 .1,2.8 -.7,2.2 -1.5,1.1 -2,0 -1.4,-.6 -.4,-1.4 .7,-1.5 1.2,-1.1 2,-.2 2.6,1 2,1.6 1.3,2.7 0,2.6 -1,1.7 -2,-.1 -1.2,-.9 -1,-1.6 -.1,-2.1 1.3,-1.1 2.7,-.1 2.9,1.6 2.3,2.1 1.2,2 .3,1.8 -1,1.3 -1.5,.2 -1.2,-.7 -.9,-1.3 -.1,-1.5 1,-1 2.5,-1 3,.2 2.1,1.5 1.6,2.7 -.1,3.3 -1,2.4 -1.9,1.4 -1.9,.5 -1.4,-1.7 -.2,-2 .8,-2.7 1.9,-1.6 3.2,-.4 2.9,.6 2.4,1 1.5,1.4 .4,1.2 -.8,.9 -1.4,.1 -1.3,-.6 -.7,-1.1 .1,-1.5 1.5,-1.7 3,-1.1 3.1,.3 2.8,2.1 1.1,3.1 -.2,3 -1.8,2.3 -2.4,.6 -2,-1.1 -.6,-2.1 1.1,-2.9 2.8,-1.1 2.9,-.1 2.2,1.1 1.9,2 .9,2.4 -.1,2.5 -1.1,1.8 -1.8,.6 -1.2,-.7 -.5,-1.8 .8,-1.6 1.3,-1.1 2.5,-.5 2.5,.4 2.1,1.5 1.1,2 .4,2 -1,1.8 -1.5,1 -1.5,0 -1.1,-1 -.2,-1.5 .7,-1.3 1.6,-1 2.5,-.1 2.5,1.1 1.7,2 .2,2.1" fill="none" stroke="#f8a368" stroke-width="0.98" stroke-linejoin="round"/>
<path d="M1115.2,922.1 l 1.6,2 -.1,3.1 -2.1,2.5 -3.2,1 -3.6,-.4 -2.4,-2.2 .1,-3 2.4,-2.5 3.7,-1.4 4,.5 3.4,2 1.6,3.5 -.2,3.6 -2.1,2.9 -3.3,1 -2.8,-.7 -1.2,-2.6 .8,-2.8 2.2,-2.1 3.3,-1.5 4.8,-.4 3.3,2.1 .9,2.9 -1,3.3 -2.4,2.2 -3.2,.1 -2.3,-1.6 -1.1,-2.9 .9,-3.2 2.2,-2.5 3,-.9 4,.4 2.7,2.9 .9,2.1 -.8,1.9 -2.2,1.1 -2.3,-.3 -2,-1.3 -.4,-2.2 .9,-2 2.6,-1.7 3.4,-.8 2.8,.3 1.9,.6 .5,1.7 -1.7,1.3 -3.3,0 -2.9,-1.7 -1.9,-3.3 .3,-4.4 3.1,-3.5 4.3,-1.9 5,0 3.4,1.7 1,2.5 -1,4 -2.9,1.9 -3.6,-.3 -2.1,-2 -.6,-2.8 1.6,-3 2.7,-1.7 4.1,-.4 4,1.4 2,3.4 .2,3.3 -1.4,2.5 -2.4,1.3 -2.6,-.1 -1.5,-1.6 .1,-2.1 1.5,-1.5 2.5,-.7 3.3,.4 2.5,1.5 1.9,2.5 .4,2.3 -1.5,1.7 -2.1,.5 -2.6,-.5 -1.9,-1.6 -.5,-1.9 .7,-1.7 2.5,-1.4 3.9,-.4 4,.8 2,1.4 .5,1.7 -.7,1.6 -1.7,.8 -2.6,-.1 -2.2,-1.1 -.8,-1.3 .7,-1.6 1.6,-1.2 3,-.7 3.4,.5 3.1,.2 1.3,3 -.5,3 -2,2.3 -3.1,.8 -2.8,-1.5 -1.1,-2.8 .5,-3.3 2.7,-2.8 4,-1.2 4.1,1 3.1,4.1 1.3,2.8 -1.1,3.2 -2.7,1.7 -3.6,.4 -3.4,-1.1 -1,-2.1 .9,-2.8 2.8,-1.6 4.3,-.6 4.1,.9 2.8,1.7 .8,3.9 -1.4,3 -2.5,1.4 -2.9,-.4 -2.1,-2.2 -.2,-3.3 1.7,-3 3.2,-2.1 3.4,-.3 3.2,1.4 1.7,2.5 -.3,2.4 -1.6,2.1 -2,.8 -2.2,-1.1 -.9,-2.1 .3,-2.4 1.8,-2.4 3,-1 2.9,.3 2.9,2.3 1.3,1.6 0,1.6 -2.2,1.4 -2.8,0 -2.6,-1.4 -1.2,-2.2 .8,-2.4 2.4,-2 4,-1.6 3.5,-.1 3.4,.5 1.3,3.5 -.7,3.5 -2.2,2.2 -3,0 -2.8,-2.2 -1.1,-3 .5,-3.8 2.3,-3.1 3,-1.6 3.9,.3 2.9,2.2 .9,2.7 -.9,2.5 -2.4,1.4 -2.9,-.4 -2.4,-1.8 -1.2,-3.3 .8,-2.9 2.6,-2.2 4,-1.6 4,.6 3.1,2.2 1.2,4.1 -.6,3.3 -2.7,2.4 -3.1,-.1 -3,-2.5 -1.5,-3.5 .6,-3.7 2.7,-3.5 3.9,-1.7 4.3,.8 3.8,3.2 1.6,2.9 -1.2,3.2 -2.5,2.1 -3.7,.7 -3.5,-1.1 -1.4,-2.5 1.1,-3.2 2.8,-2.9 4.5,-2 4.9,-.2 3.1,1.6 .7,3.8 -1.2,3.3 -3,1.4 -3.1,.4 -3.1,-1.6 -1.5,-3.1 .5,-3.7 1.8,-2.6" fill="none" stroke="#f8a368" stroke-width="1.06" stroke-linejoin="round"/>
<path d="M1111,929.5 l -2.3,-.4 -2,-1.9 -.5,-2.4 1.1,-2.1 2.4,-1.6 2.9,-.1 2.4,1 1.4,1.6 .1,1.9 -1,2 -1.5,1.2 -2.2,-.3 -1.4,-.7 -.3,-1.5 1.7,-1.8 2.5,-1.4 3.4,-.6 3.4,.8 2.1,2 .6,2.4 -.9,1.9 -2.4,1.3 -2.3,.2 -1.9,-.8 -.5,-2.1 1.2,-1.8 3.3,-1.4 4.5,.1 3.5,1.7 1.9,2 0,1.4 -1.7,1 -2.7,1.7 -2.4,-1.6 -1.5,-2.9 .1,-3.6 1.6,-2.9 2.8,-1.7 3.2,-.3 3.2,1 1.7,2 .2,2.2 -1.4,1.7 -1.9,.2 -1.9,-2.4 -.5,-1.9 .6,-1.7 1.9,-1 3,-.3 2.6,.7 1.8,1.5 1,2.1 -.1,1.7 -.9,1 -1.5,.5 -1.5,-.1 -.9,-.7 .3,-1.2 1.4,-.9 2.7,-.1 2.6,.5 2.6,1.4 1.8,2.2 .3,1.9 -1,1.7 -2.2,.7 -2,1.2 -1.4,-2.4 -.2,-3.8 1.5,-3 3.1,-2.2 3.3,-.7 3.4,1.3 2.2,3 .2,3 -1.4,3 -2.1,1 -1.7,-1.8 -1.5,-1.8 -.5,-2.2 1.3,-2.2 3.1,-1.4 3.4,.1 2.9,1.3 2.1,1.9 .1,2.6 -1.1,1.9 -2.2,1.2 -1.8,.5 -1.5,-2.3 .2,-2.6 1.3,-1.8 2.1,-.8 2.8,.2 2.2,1.2 1.8,2 .5,2.7 -.2,2.2 -1.5,1.5 -1.9,-.1 -1.7,-1.1 -.8,-1.9 .6,-2.2 2.6,-1.8 2.8,-.4 3.5,.9 2.5,2.1 .5,2.7 -.8,2.2 -1.9,1.7 -2.7,.5 -2.2,-.9 -.6,-2.5 1.1,-2.7 2.3,-2.6 3.4,-1.4 4,-.1 2.8,1.3 1.5,2.6 -.3,2.5 -2.2,1.4 -2.1,-.3 -1.9,-1.9 -.1,-2.5 1,-2.6 2.5,-2.3 2.8,-1.1 2.9,0 2.4,1.3 .9,1.7 0,1.1 -1.6,1 -1.6,.1 -2,-1.2 -.6,-2 .4,-2.8 1.5,-2.5 2.4,-1.5 2.8,-.4 2.5,1.2 1.3,1.7 .3,2.2 -1.2,1.4 -1.8,.6 -2.2,-.5 -1.5,-1.9 .1,-2.9 1.4,-3.2 2.8,-2.3 3,-.8 2.8,.9 2.3,3 .4,2.7 -1.6,2.7 -2.8,0 -2.6,-1.1 -1.1,-2.1 .1,-2.8 2.1,-2.8 4,-1.8 3.9,.2 2.8,2 1.2,3.2 -1.1,2.6 -2,1.4 -3.1,-1.3 -2.2,-1.2 -.6,-1.7 1.2,-2 2.4,-1.6 3.7,-1.2 3.2,-.2 2.6,1.1 1.3,2.2 -1,2.1 -2.4,1.3 -2.7,2 -2.4,-1.9 -1.4,-3.1 .4,-2.5" fill="none" stroke="#f8a368" stroke-width="0.98" stroke-linejoin="round"/>
<path d="M1077.4,952.2 l 2.2,2.5 .3,3 -1.5,2.4 -3.3,1.3 -3.3,-.4 -2.5,-1.5 -1.4,-2.8 1,-2.6 2.7,-2.1 3.7,-.6 3.6,.9 2.9,1.6 .9,3.5 -1,2.9 -2.8,2 -2.8,-.3 -2.5,-2 -1.6,-4 1,-3.5 2.4,-2.7 3.9,-1.3 4.2,1 3.2,4 1.4,3.4 -1,3.1 -2.3,1.9 -2.8,.4 -2.6,-.7 -1.8,-2 -.1,-2.8 1.8,-2.7 3.3,-1.3 3.8,-.1 3.2,1.3 1.6,2.2 0,2.9 -1.4,2.1 -2.6,.8 -2.7,-.5 -2,-2.1 -.4,-2.7 1.8,-2.8 2.9,-1.9 4.1,-.3 3.2,1.8 1.6,1.9 .3,2.2 -1.2,1.7 -2.6,1 -2.5,-.5 -1.6,-1.5 -.6,-2.1 1.1,-2.2 2.8,-1.5 2.9,-.5 3.4,.5 2.4,1.1 .8,1.5 -.8,.9 -2,1 -2.5,.5 -2.2,-.9 -1.1,-1.6 .6,-1.7 2.1,-.8 2.7,-.3 3.7,.9 2.2,1.4 1.4,2.4 -.1,2.5 -1.6,2 -2.8,.8 -2.4,-.3 -1.5,-1.4 -.4,-2.1 1.1,-2.1 2.8,-1.8 3.1,-.4 3,1.9 2.1,1.9 .4,1.5 -1,1.5 -2.2,1.2 -2.1,.1 -1.7,-.8 -.4,-1.4 .8,-2 1.8,-1.5 2.7,-.6 3.4,.3 2.1,1.1 .7,1.5 -.5,1.2 -2.2,.8 -2.7,-.3 -1.8,-1.4 -.4,-2.2 1.6,-2.5 3,-2.1 3.4,-.6 2.8,.2 1.7,1.2 .2,1.8 -1.3,1.6 -2.8,.8 -2.8,-.5 -1.7,-1.4 .4,-2.3 2,-2 2.9,-1 3.9,0 3.5,.1 1.6,3.3 .1,3 -2,2.3 -2.9,.9 -2.7,-1.1 -1.5,-2.3 .2,-3.4 1.8,-2.7 3.2,-1.6 3.6,.2 3.1,2.6 1.8,2 .3,2.2 -1.4,2.1 -2.2,1 -2.3,-.4 -2,-1.2 -.3,-2 1.2,-2.2 3.2,-1.6 3.6,-.5 2.8,.5 2.3,2.5 .3,2.7 -1.3,2.3 -3.3,1.2 -2.8,-.7 -2.5,-2.2 -.7,-3.5 1.6,-3.5 2.8,-2.4 4.3,-1.3 3.9,.5 2.9,2.1 1,3.2 -1.2,3.2 -2.5,1.8 -3.5,.3 -3.1,-1.5 -1.1,-3 1.1,-3.5 3.5,-2.8 4.8,-1.1 4.1,2.3 2,1.7 .1,2.3 -1.7,1.6 -3,.8 -3,-.3 -1.9,-1.6 -.2,-2 2.2,-2.1 3.8,-1.2 4.1,-.2 3.4,1.3 1.8,2.4 -.3,3 -2.3,2.4 -3.1,1.1 -3.2,-.2 -1.8,-1.5 0,-2.2 1.8,-2.3 4,-1.8 5.3,-.5 3.6,.1 1.7,3.3 -.4,3.1 -1.5,2.1 -2.4,1 -2,-.3 -1.9,-1.6 -.1,-2.2 1.2,-1.9 2.4,-1.5 3.1,-.5 3.1,.5 2.6,1.8 1.1,2.7 -1,2.4 -2.9,1.2 -3,-.8 -2.1,-2.3 -.5,-2.8 1.8,-3.4 3.4,-2.3 3.7,-.5 3.6,.5 2,3 .2,2.9 -1.3,2.5 -2,1.2 -2.6,-.6 -2.1,-2.2 -1,-3.8 .6,-3.7 2.2,-3.1 3.3,-.9 2.9,.8 2.5,2.1 1.3,2.7 -.3,2.7 -1.8,1.7 -2.2,.6 -1.8,-1 -1.4,-2.4 .4,-3 1.6,-2.7 2.9,-1.6 2.7,-.4 3.8,2.3 2.1,2.6 -.2,3.1 -1.7,2.1 -3.2,.8 -3.2,-1.1 -1.7,-2.3 0,-3.1 1.7,-2.7 3.1,-1.8 4.1,-.3 3.2,0 2.5,3.1 .3,3.1 -.9,2.5 -1.8,1.6 -2.7,-.1 -2.3,-1.8 -1.2,-3.1 .5,-3.2 1.9,-2.3 2.9,-.6 2.9,.5 2.6,1.4 1.6,2.5 -.2,3.1 -1.6,1.9 -2.3,.5 -2.4,-1.4 -1.6,-2.2 .3,-3.4 1.6,-2.7 2.8,-1.8 4.3,1.5 3,1.7 1.1,2.5 -.2,2.7 -1.6,1.8 -2.4,.8 -2,-.6 -1,-1.7 .8,-2.2 2.3,-1.8 2.7,-.9 2.9,-.3 2.4,1.9 .9,2 -.3,2.4 -1,1.5 -1.7,.5 -2,-.7 -1.2,-1.9 .2,-2.9 1.8,-2.7 2.6,-1.4 2.7,-.6 2.8,.9 1.6,2.3 -.1,2.4 -1.6,2.3 -2.8,.7 -2.1,-.9 -1.2,-2.1 -.1,-2.8 1.5,-3 2.6,-2.1 3.8,-1 3,.6 2,2.5 .1,3.2 -1.7,2.7 -3.3,1.5 -2.9,-.7 -2,-2.5 -.3,-3.5 2.1,-3.7 3.7,-2.5 3.7,-1.1 2.9,1.7 1.7,2.7 -.7,3 -2.1,1.5 -3.2,.8 -2.4,-1.2 -1.4,-2.5 .5,-3.2 2.6,-2.5 3.2,-.9 3.5,-.1 3.3,2.3 1.9,3.7 -.1,4.3 -2.5,3 -3.3,.7 -2.7,-1.4 -2.1,-3.4 .2,-4.5 2.7,-4 4.2,-1.8 5.1,1.7 3.3,2.2 1.4,3.1 -.5,3.7 -2.8,2.5 -3.2,.6 -3.4,-1.5 -1.7,-2.7 .4,-4.2 2.4,-3.3 3.9,-1.8 4.3,-.3 3.1,1.7 1.8,3.4 -.5,3.9 -2,2.4 -3.4,.7 -2.8,-.7 -2,-2.5 .1,-3 2,-2.6 3,-1.1" fill="none" stroke="#f8a368" stroke-width="1.06" stroke-linejoin="round"/>
<path d="M1076.2,952.8 l 2,1.5 .6,1.5 -.8,1.4 -2.2,.7 -2.8,-.4 -2,-1.7 -.1,-2 1.3,-2.1 2.8,-1.2 3,-.1 3.3,.7 2.2,2.3 .3,1.9 -.4,1.4 -1.4,.8 -2,-.2 -1.1,-1.5 -.5,-2 .7,-2 1.5,-1.6 2.9,-.9 2.9,.6 2.4,1 1.7,1.9 -.3,1.8 -1.5,1.6 -2.4,.4 -2,-.7 -1,-1.3 .4,-1.9 1.9,-1.6 3.1,-.5 3.1,.5 2.7,1.8 1.5,2.4 -.2,2.5 -1.5,1.6 -2.3,.6 -2.3,-.9 -1.1,-1.9 .7,-1.7 2.3,-1.1 2.9,-.4 2.9,.8 3,1.1 1.5,2.5 -.1,2.2 -2.1,2 -2.5,.3 -2.4,-1.6 -.8,-2.6 .6,-3.4 2.3,-2.1 4,-1.4 3.3,-.3 2.4,1.2 1.1,2.2 -.2,2.3 -1.6,1.6 -2,.6 -2.1,-.9 -1.3,-1.9 .1,-2.7 1.1,-2.7 2.4,-1.7 3.6,-.6 3.1,1.1 2.4,2.6 .2,2.7 -1.3,2.1 -2.2,.8 -2.1,-1 -.9,-2.5 .3,-2.7 2,-2.2 3.2,-1.3 3.2,.7 2.7,1.5 1.6,2.8 -.2,2.6 -1.5,1.6 -2.1,.4 -1.8,-.7 -.8,-1.6 .3,-1.8 1.7,-1.6 3.4,-.8 3.2,.3 2.8,1.9 1.4,2.2 -.6,2.8 -1.9,1.7 -2.5,.3 -2,-1.2 -.9,-2.6 .5,-2.8 2.6,-3 3.1,-1.4 3.7,.5 2.5,1.2 1.2,2.1 -.5,1.9 -1.4,1.1 -2.6,.5 -1.9,-.8 -1.1,-2.2 .4,-2.1 2.2,-2.1 3.1,-.8 3.1,-.1 2.9,2.7 1.3,3 -.6,3.1 -1.2,1.8 -2.3,.8 -1.8,-.6 -.5,-1.8 .8,-2.3 2.2,-1.6 2.8,-.6 3.5,1.7 2.1,1.9 1.1,2.4 -.5,2.5 -1.4,1.7 -2.4,.4 -1.5,-.6 -.6,-1.3 .9,-2.1 2.2,-1.6 2.6,-.6 2.8,1.2 2.5,1.3 1.4,1.3 -.2,1.6 -1.4,1 -1.7,0 -1.4,-1 -.4,-1.7 .8,-1.8 2.3,-1.3 2.4,-.2 2.6,-.1 2.2,1.8 .7,1.8 -.4,2.2 -1.8,1.4 -1.5,0 -1.4,-1.1 -.8,-2.5 .8,-3.1 2.6,-2.1 3,-.8 3.5,1.8 1.7,1.3 1.1,2.1 -.7,2 -2.1,1.3 -1.9,0 -1.6,-1.5 -.7,-2.3 1.2,-2.4 2.3,-1.7 3.7,-1.2 2.9,-1.4 2.3,2.2 .7,2.3 -1.2,2.3 -1.9,.7 -1.8,-1 -1.3,-2.7 -.3,-2.5 1.3,-2.7 2.1,-2.2 2.9,-.9 2.7,.5 2,1.3 .6,2 -1.1,1.7 -1.9,.2 -2,-1.3 -1.7,-2.9 -.4,-3.2 .7,-3.2 2.1,-2.1 2.5,-.5 3.5,1.7 2.2,.7 .9,2.3 -.2,1.6 -1.4,1.4 -2.3,.8 -1.9,-.4 -.5,-1.2 1.2,-1.5 2.9,-1.2 3.6,-.4 3,.1 2.7,2.3 1.4,3 -.3,3 -1.9,2.1 -2.2,1 -2.2,-.6 -1.1,-2 1.1,-2.6 2.2,-1.8 4,-1 3.5,1.5 2.9,1.1 1.5,2.3 -.1,2.4 -2,2.2 -2.2,.4 -2.3,-1 -1.4,-2 .7,-2.1 2.3,-2.3 3,-1.5 2.3,-1.9 2.5,1.1 1.2,1.9 -.1,2.1 -1.6,1.2 -2.2,.2 -1.5,-1.2 -1.2,-2.5 .2,-2.7 1.5,-2.4 2.9,-1.5 3,1.3 2.4,.7 1.2,1.1 -.4,1.3 -1.6,.9 -1.5,.3 -1.4,-.7 -.4,-1.2 .8,-1.5 1.5,-1.6 1.9,-1.1 2,-2.1 2.4,.7 1.5,1.8 .2,2 -1.4,1.8 -2.3,.3 -2,-1.2 -1.3,-2.2 -.3,-2.7 1.5,-3.1 3,-2.1 3.7,.1 3.4,2 2,3 .6,2.7 -1.3,2.7 -2.4,.9 -2.1,-1.1 -1,-2.2 .6,-3.1 1.7,-2.4 3.2,-1.4 2.9,.1 2.9,1.6 1.4,2.4 0,2.6 -1.5,2 -2.2,.6 -2.3,-.8 -1.8,-2.8 -.3,-3.2 2.1,-3.6 3.7,-2 3.4,1.2 2.3,2.3 .7,2.8 -.9,2.3 -1.8,1.7" fill="none" stroke="#f8a368" stroke-width="0.98" stroke-linejoin="round"/>
<path d="M1112.6,935.7 l -.2,-3.3 1.1,-2.8 2.6,-1.7 3.6,.1 3.1,1.8 1.9,3.2 .2,3.5 -1.4,3 -2.4,.7 -2.5,-1.2 -1.4,-2.3 -1.7,-2.4 1.2,-2.5 3.1,-1.8 4.1,.6 3.2,2.7 1.3,3.8 -.8,4.5 -2.5,2.9 -3.1,1.3 -3.1,-.5 -2.4,-2.5 .5,-3.2 .9,-3 2.3,-1.4 3,.6 3,2.8 1.8,4.4 -.2,4.1 -1.7,3.3 -3.4,2.1 -3.3,0 -3.5,-2.6 .4,-3.6 .6,-3.6 1.8,-1.5 3.2,.4 2.7,2.3 1.7,3.7 .5,3.7 -.7,3.1 -1.8,1.3 -1.7,-.5 -1.5,-1.8 -1.9,-2.4 .7,-2.3 1.9,-1.3 2.6,-.2 3.2,1.8 2.1,3.4 .6,3.6 -1.3,2.6 -2.2,1.5 -3,-.6 -1.7,-2.3 -.5,-2.3 1.1,-2 2.2,-1.5 2.8,0 2.7,1.7 2.1,3.1 .5,3.2 -.8,3.2 -1.7,1.3 -2.2,-.5 -1.9,-1.9 -1.1,-2.3 .6,-2.5 1.8,-2 2.9,-.3 2.8,1.3 2.4,2.5 1.5,3.1 .1,3.5 -2,2.6 -2.4,.5 -2.1,-1.2 -2,-2.3 .2,-3.1 2.1,-2.8 2.5,-1.1 3.3,.2 3.1,2.4 1.2,3 -.5,3.1" fill="none" stroke="#f8a368" stroke-width="1.06" stroke-linejoin="round"/>
<path d="M1115,929.9 l 2.2,-.7 2.2,.8 1.5,1.9 .4,2.4 -.7,2.7 -1.5,2.3 -1.9,.5 -1.8,-.9 -.8,-2.2 .4,-2.2 1.6,-1.8 2.1,0 2.4,1.7 1.7,3.4 .3,4 -1.4,3.1 -2.5,1.4 -2.3,0 -2,-2 -.7,-2.5 .8,-2.3 2.4,-.6 1.9,1.1 1.7,2.1 .9,2.8 .2,3.3 -1,2.8 -1.5,1.1 -1.7,-.5 -1.4,-1.3 -.5,-1.8 .4,-1.5 .8,-.5 2.6,.5 2.4,1.6 2,3.2 .5,3.4 -.8,2.8 -2.3,2.1 -3.1,.3 -2.2,-1.3 -1,-1.9 .2,-2.5 2.1,-1.7 2.8,-.1 3.7,1.5 2.3,2.6 1.4,3.5 -.5,3 -2,2.3 -2.3,.9 -2.4,-.9 -1.2,-2.3 .6,-2.8 2.2,-2.4 3.1,-1.1 3.7,1.1 2.7,1.8 1.6,2.9 .4,2.7 -.6,2 -1.7,.9 -1.8,-.1 -1.7,-1.8 -.4,-2.3 .5,-2 1.2,-.8 1.7,.4 1.3,1.6 .8,2.1" fill="none" stroke="#f8a368" stroke-width="0.98" stroke-linejoin="round"/>
<path d="M1148.5,984.3 l 2.8,-1.4 3.1,0 2.6,1.6 1,2.7 -1,2.9 -2.1,2.3 -2.8,.9 -3.1,-.7 -1.1,-2.2 .3,-2.9 2.4,-3.2 4.5,-.6 3.1,-.4 2.1,.6 .8,1.2 -.6,1.7 -1.6,1.6 -2.3,.9 -2,-.1 -.8,-1.2 1,-1.9 1.9,-2 2.9,-2 3,-.3 1.7,.8 .3,1.3 -1.3,1.4 -1.9,.5 -2.2,.1 -2.1,-1.2 -.7,-1.9 .4,-2.1 1.9,-2.3 2.2,-3.2 2.8,-.7 2.8,.4 1.6,1.9 -.2,2.4 -2.3,1.9 -3.3,.4 -2.7,-1.2 -1.7,-2.3 .1,-2.7 2.1,-3.4 3.1,-2.1 4.3,-.1 3.5,2 2,3.4 -.1,3.2 -2,2.6 -3.1,.6 -3,-1.7 -1.6,-3 -.2,-3.8 1.7,-4 3.2,-1.8 4,-.5 3.2,1.4 2.1,3 0,3.4 -1.8,2.8 -2.4,1.3 -2.6,0 -1.6,-1.4 .2,-2.3 2.2,-2.4 3.4,-2.9 3.8,.1 4,1.8 2.1,2.9 .6,3 -1,2.4 -2.3,1.2 -2.4,-.5 -2.1,-2.2 -.9,-3 .8,-3.1 2.4,-2.2 3.5,-.7 3.7,1.2 2.6,2.3 1.3,3.5 -.2,2.6 -1.7,1.5 -2.2,-.8 -1.9,-2.7 -.9,-2.9 .5,-3.2 2.7,-1.4 2.9,-1.9 2.6,-.2 1.9,.8 -.1,2 -1.4,1.8 -2.5,1.3 -2.7,0 -2.7,-1.6 -1.4,-3 .4,-3.5 2.9,-3.1 3.2,-2.6 2.5,-.8 1.8,.8 .2,1.8 -1.1,2.1 -2.6,1.8 -3.5,.7 -2.6,-1 -1.1,-2.6 .8,-3.4 .6,-4.6 3.3,-1.9 3.3,-.1 2.8,1.9 1.3,2.7 -.6,2.7 -1.7,1.8 -2.5,-.1 -2.1,-2 -.8,-2.3 .3,-2.7 2.4,-1.9 2.5,-1.7 2.8,-.2 1.9,1.2 .3,1.8 -.9,1.8 -1.8,2 -2,.1 -1.9,-1.1 -.4,-2.2 .9,-2.8 2.6,-2.3 2.4,-1.7 3.1,-1 2.1,.8 .6,2.7 -1.1,2.5 -2.3,1.8 -2.4,.8 -2.1,-.7 -1,-2.8 1.3,-3.8 2.2,-3 3.6,-2.1 3.2,-.7 2.4,.9 .9,2.1 -1,2.6 -2.5,2.6 -2.9,1.2 -3,-.5 -1.2,-2.1 .5,-3.2 1.4,-4.2 3.8,-2.7 4.5,-.6 3.5,1.3 2,2.9 .2,3.6 -1.7,3.2 -3,1.7 -3.6,-.3 -2.2,-2.3 -.4,-4.2 1.5,-3.9 3.2,-2.6 4.6,-1.7 4.1,1 2.3,2.6 .3,4 -1.4,2.9 -3.1,1.8 -3.5,-.1 -2.9,-1.7 -1.2,-3.1 .9,-4.8 2.4,-4.4 4,-1 3.9,.7 2.9,2.3 .7,2.9 -.7,2.4 -2.1,1.9 -2.1,0 -2.3,-1.7 -1,-2.8 .7,-3.1 1.4,-2.6 3.1,-1.5 3.2,.2 2.5,1.8 .5,2.7 -1.6,3.1 -3.2,1.3 -3.9,-.6 -3.1,-2.4" fill="none" stroke="#f8a368" stroke-width="1.06" stroke-linejoin="round"/>
<path d="M1154.2,991.2 l -2.7,.7 -2.1,-.3 -1.5,-1.3 -.1,-1.8 1.1,-2 2.2,-1.5 3.3,-.6 2.9,.4 1.6,1.5 -.1,1.9 -.7,2.4 -2,.5 -2.3,-1 -1.2,-2.6 .4,-2.9 2.1,-3.3 3.5,-1.9 3.3,.1 2.7,1.4 1.4,3 -.8,2.8 -2.6,-.4 -2.2,0 -1.7,-1.1 -.5,-2 .7,-2.4 1.8,-2.1 2.5,-1.5 2.4,-.6 2.3,.3 .4,.7 -.6,1.1 -1,1.5 -2,.5 -1.8,-.9 -.8,-1.8 .6,-2.3 1.8,-1.9 3.3,-1.4 3.3,.2 3,1.8 1.5,2.3 -.6,3 -1.9,2.1 -2.1,.6 -1.6,-1.1 -.9,-1.9 .8,-2.7 2.2,-2.1 3.5,-1 3,.3 2.6,1.2 1.6,2.6 -.3,2.3 -1,2.5 -2.4,.1 -2.2,-1.4 -1.6,-2.9 .3,-3.7 1.5,-3 2.7,-2 3.1,-.6 3,1.3 2,2.3 -.2,2.5 -1.7,1.4 -2.7,.8 -2.2,-.9 -1.9,-2.5 -.8,-3.4 1,-3.5 2.4,-2.9 2.9,-1.3 3.5,.1 2.1,2.2 .1,2.5 -1.5,2.7 -2.8,.2 -2.8,-1.4 -1.2,-2.2 -.1,-2.7 1.2,-2.8 2.3,-1.6 2.7,-.5 2.6,.6 1.6,1.6 .2,1.9 -1.1,1 -1.3,.8 -1.7,-.3 -1.6,-1.3 -.2,-2.2 .9,-2.4 2.2,-2.2 3.2,-.9 3.1,.6 2.4,1.9 1,2.8 -.6,2.3 -1.2,1.7 -1.7,.5 -1.1,-1.2 .1,-1.9 1.1,-2.7 2.3,-2.1 3.2,-.8 2.9,.3 2.1,1.4 1.2,2.4 -.6,2.1 -1.6,1.4 -2.1,.4 -1.8,-1.6 -.3,-2.7 .8,-2.7 2.5,-2.9 2.5,-1.2 2.3,-.1 1.8,1.2 -.1,2.1 -1.5,1.1 -1.9,.9 -1.8,0 -1,-1.6 -.1,-2.4 1.2,-2.7 2,-2.1 2.5,-1.1 2.4,0 1.9,1.3 .4,2.1 .1,3.3 -.9,1.2 -2.2,-.2 -1.7,-1.9 -.8,-3 .7,-3 1.9,-2.1 2.8,-1.1 2.7,.3 2.6,1.6 .5,1.8 -.3,1.8 -2.5,.6 -1.9,.3 -1.3,-1.1 -.4,-2 1.1,-2.8 2.1,-2.2 2.8,-2.3 2.6,-.2 2,1.1 .1,2.1 0,2.8 -1.9,.7 -1.8,-.5 -1.4,-1.5 -.8,-2.7 .7,-2.4 1.5,-2.4 2.3,-1.3 2.4,-.1 1.3,1.4 .3,2.2 -1.3,1.3 -2.2,1.3" fill="none" stroke="#f8a368" stroke-width="0.98" stroke-linejoin="round"/></g>
<g opacity="0.95"><path d="M1340.7,1119.3 l 3.5,-.9 3.3,.9 3.2,3.2 1,3.8 -1.1,3.3 -2.7,1.5 -3,0 -3.1,-1.3 -2.1,-2.7 -.3,-2.9 1.9,-2.6 2.9,-.6 4,1.3 4.2,3.5 2.4,4.3 -.2,3.4 -2.6,1.9 -3.3,-.4 -3.5,-2.5 -2.4,-3.8 -.1,-3.7 2.1,-2.9 4.9,-.8 4.2,1.5 3.2,2.6 1.7,3.6 -.3,3.1 -1.7,2.3 -2.5,.8 -2.8,-.7 -1.7,-2 -.5,-2.8 1.2,-2.8 2,-1.9 4.2,-.1 3.5,1.6 2.3,3.5 .3,4.4 -2.3,3.7 -3.2,1.5 -3.5,-.5 -2.5,-2.3 -.8,-4.1 1.6,-3.4 2.9,-2.2 3.5,-.2 3.8,1.3 3.3,2.8 2.2,4.1 .1,4 -2.1,2.2 -3.7,0 -3.2,-2.1 -1.8,-3.2 0,-3.8 2.4,-2.2 3.3,-.3 4,2.2 3.4,3.9 1.4,4.4 -.5,3.7 -2.2,2.1 -3.5,-.2 -3.4,-2.3 -2.2,-3.1 0,-3.5 2.3,-2.5 5.6,-.8 4.5,1.8 3.2,3.6 1.3,4.2 -1,4.4 -3.5,3 -3.8,.4 -3,-1.7 -1.8,-3.1 .3,-3.7 2.8,-3.2 2.5,.1 3.6,2.1 3.3,4.2 1.4,4.3 -.5,3.2 -2.3,1.7 -2.9,-.6 -2.9,-2.5 -1.8,-3 0,-2.9 1.7,-1.7 2.9,-.1 3.4,1.7 3.5,4 1.3,4.8 -.7,3.6 -2.4,1.9 -3.1,-.4 -2.9,-2.5 -1.5,-4.1 .5,-4 2.2,-2.1 4.1,-.2 3.6,1.7 2.6,3.2 1,3.9 -.8,3 -2.2,2.4 -3.1,.2 -2.1,-1.6 -1.1,-2.3 .3,-2.6 1.6,-1.9 3.3,-1 3.2,1 2.5,3 .3,3.1 -1.2,3.1 -2.3,2.3 -3.1,.7 -2.5,-.7 -1.4,-1.9 -.1,-2.4 1.1,-2.1 2.2,-.9 2.2,1 2.5,2.7 1.2,3.1 .2,3.9 -1.2,2.5 -2.1,.8 -2,-.9 -1.9,-2.2 -.9,-2.6 .8,-2.3 2,-.6 2.9,.4 2.9,2.2 1.7,3 .2,3.5 -1.5,3.1 -2.5,1.1 -2.1,-.4 -1.7,-2.3 -.1,-2.9 1.8,-2.5 2.9,-1.2 3.3,.7 2.8,1.9 1.5,3.2 .3,2.8 -1.1,1.9 -2.5,.7 -2.8,-1.2 -1.4,-1.6 -.1,-2.1 1.3,-1.8 1.6,-.7 2.3,1.7 2.2,3.4 .9,4 -.7,3.9 -1.8,1.6 -2.7,-.2 -2.7,-2.5 -1.4,-3.6 0,-2.8 1.8,-2 2.9,0 3.6,2.3 2.4,3 1.1,3.6 -.4,3.1 -1.4,1.1 -1.8,-.5 -2,-2.1 -.6,-2.7 .2,-2.6 1.7,-1.9 3.1,-1.3 4.4,1.1 2.7,3.1 1,5.1 -1.9,4.8 -3.8,3 -4.8,.7 -3.6,-1.9 -2.2,-3.5 .4,-4.2 3,-3.8 3.8,-.7 4.1,2.1 3,3.6 1.5,3.7 -.1,4.1 -1.5,2.1 -2.8,.6 -2.6,-1.9 -1.6,-2.8 -.1,-2.9 1.7,-2.5 3.4,-1 3.6,1.1 2.6,2.9 .5,3.5 -1.1,3.2 -3.2,2.6 -3.8,.6 -3.3,-1.4" fill="none" stroke="#2cc2f2" stroke-width="1.25" stroke-linejoin="round"/>
<path d="M1342.1,1120.4 l 2.4,0 2.3,1.4 1.6,3.1 0,3 -1.4,2.8 -2.3,1.6 -3.1,.2 -2.4,-1.5 -1.2,-2 .2,-1.9 1.6,-1.3 3.1,0 2.5,1.7 2.3,2.8 .8,3.1 0,2.4 -1.3,1.6 -2,.1 -1.5,-1.3 -.4,-2.1 .7,-2.5 2.2,-2 3.2,-1.2 3.6,.3 2.4,1.8 1,2.7 -.3,2.4 -1.6,1.4 -2.1,.2 -1.3,-1.4 -.5,-2.5 1.5,-2.5 2.8,-1.8 1.8,.2 3,1.1 3,2.7 1.6,3 0,2.8 -1.4,1.2 -2,.1 -2.5,-1.4 -1.9,-2.4 -.2,-2.1 1.1,-1.3 3.1,-.3 3.2,1.5 2.1,2.7 .7,3.3 -.8,3.7 -2.3,2.5 -2.8,1.3 -2.1,-.5 -1.1,-2 .4,-2 1.4,-1.7 2.6,-.9 2.7,.5 2.6,1.7 1.3,2.8 -.2,3.6 -1.6,2.6 -2.7,1 -2.3,-.6 -1,-1.8 .8,-2.8 2.6,-2.1 3.1,-1.6 4.4,.3 3.4,2.1 1.8,4 -.3,3.1 -1.9,2.2 -3.5,.8 -3.1,-1.4 -1.4,-2.9 .7,-3.9 3.1,-3.1 4.3,0 3.8,2.2 2,2.8 .4,3.5 -1.1,2.9 -2.2,1.9 -2.6,.3 -2.1,-1.3 -.7,-2.2 .9,-2.2 2.4,-1.5 2.8,-.5 3.2,1.2 1.9,2.9 .6,3.3 -1,3.3 -1.8,1.9 -2.6,.7 -1.9,-.7 -1.2,-1.5 .3,-2 1.3,-1.3 2.3,-1 3.3,.4 2.7,2.3 1.6,3.3 -.3,3.7 -2.3,3.2 -3.4,1.3 -2.9,-1.1 -1.6,-2.8 .7,-3.4 2.8,-2.9 3.5,-.4 3.1,1.4 2.9,3.3 .8,3.6 -1,3.1 -2.1,2 -3,.8 -2.4,-.9 -1.2,-2 .8,-2.7 1.9,-1.7 2.1,-.6 2.3,1.4 2.1,3 1.6,3.9 -.1,3.3 -1.7,2.2 -2.2,.8 -2.6,-.9 -1.9,-2.3 -.8,-2.7 .6,-2.4 3,-.8 4,1.6 2.7,2.8 1,3.5 -.4,3.3 -2.1,2.1 -2.2,.4 -1.6,-.9 -1,-1.9 .1,-2.1 1.4,-1.3 2.6,-.6 3.4,1.3 2.3,2.3 .7,3 -.8,3.7 -1.8,2.3 -2.9,1 -2.7,-1.2 -1.5,-2.7 .7,-2.9 2.1,-2.1 3,-.6 3.2,1.8 2.1,3.5 .6,4.3 -1,3.3 -2.3,1.9 -3.1,.6 -3.4,-2.2 -1.8,-3.1 -.2,-3.5 1.3,-2.1 2.1,0" fill="none" stroke="#2cc2f2" stroke-width="1.15" stroke-linejoin="round"/>
<path d="M1407.9,1096.6 l .4,-3.3 2.3,-2.7 2.8,-.3 3.1,1.8 2.3,3.3 .6,3.5 -1.2,3.5 -2.7,2 -3.1,-.3 -2.1,-2.3 -.9,-2.9 0,-4 3.5,-3.5 5,-.9 4.2,1.6 3.7,4.5 .7,5.6 -2.1,4.3 -3.9,2 -4.1,-.2 -3.8,-3.1 -.1,-5.1 1.1,-4.1 3.8,-2.2 4.6,.5 4.2,2.9 3.1,5 .7,4.8 -2,3.7 -3.7,1.4 -3.3,-1.2 -2.8,-3.4 -.7,-3.9 1.2,-2.8 2.9,-1.3 3.2,1.1 2.7,3 1.6,4.1 .2,3.3 -1.5,3 -2.6,1.3 -3.1,-.4 -2.4,-1.8 -1,-2.6 .5,-2.5 1.6,-1.4 2.7,0 3.1,2 1.8,3.3 .5,4.2 -1.1,3.3 -2.4,2.4 -2.7,.1 -2.2,-2 -1,-2.9 .2,-3.9 1.9,-2.6 3.9,-.9 4.3,2 3.1,3.4 1.5,5.6 -.8,4.4 -2.3,2.6 -4.2,.4 -3.5,-2.9 -1.5,-4.3 .6,-4 1.9,-2.3 2.6,.1 2.5,3 .6,4.3 -.9,4.8 -2.6,4.2 -3,1.6 -3.6,-.4 -2.4,-2.1 -.8,-3.1 .6,-3.4 2.4,-2.1 2.6,-.1 2.8,2 1.5,3.6 .2,4.2 -1.1,3 -1.8,1.8 -2.7,.3 -1.9,-2 -.5,-2.8 1.6,-3.3 1.6,-2.1 2,-.5 2.4,1.7 1.7,3 .8,5.1 -.7,4.1 -1.8,2.2 -2,.4 -2,-2.1 -.8,-3.6 .9,-3.3 2,-2.1 2.5,0 1.9,2.5 .9,3.7 -.7,3.6 -2,3.1 -2.1,1.7 -2.5,-.4 -1.6,-2.4 -.4,-2.7 -.4,-2.3 2.6,-1.1 2.6,.8 1.8,2.6 .6,3.2 -.5,3.7 -1.8,2.8 -3.3,1.7 -2.9,-.5 -2.2,-1.9 -.5,-2.5 2.2,-3.1 2,-1.4 2.7,-.1 2,1.7 1.4,2.8 .5,4.3 -.9,3.6 -2.2,2.3 -2.5,-.3 -1.2,-1.9 -.3,-3.7 .8,-3.1 2.3,-1.7 3,0 2.7,2.2 1.9,4.6 -.1,4.9 -1.6,3.5 -2,1.5 -2.1,-.3 -1.1,-2 -.3,-3.6 .4,-3.4 2.6,-1.8 3.4,.5 2.7,2.8 .7,4.4 -1.1,4.1 -2.9,3.1 -3.3,1.1 -3.1,-.9 -2.3,-2.5 -.4,-3.2 .2,-2.7 3.3,-1.8 3.5,.4 3.7,2.4 1.8,4.1 -.8,4.5 -2.7,3.7 -4.2,1.9 -3.3,-.7 -2.6,-2.2 -.8,-3 2,-3 3.1,-1.5 3.5,0 3.3,1.6 2.5,3.7 .4,3.5 -1.3,3 -2.8,2.2 -2.7,-.1 -2.3,-1.9 -.9,-2.9 1.3,-3 2.2,-2.1 3.6,-.1 3.4,2.4 2,4 -.4,5.1 -2.3,3.4 -4.2,1.8 -3.4,-.3 -2.6,-2.3 -1.1,-3.7 1.6,-4.4 2.9,-2.3 3.3,-.1 2.9,2 1.9,3.3" fill="none" stroke="#2cc2f2" stroke-width="1.25" stroke-linejoin="round"/>
<path d="M1417.3,1101.2 l -1.9,1.1 -2.2,-.2 -2,-1.6 -1.5,-2.6 -.3,-2.9 .9,-2 2.2,-.9 3.2,1.2 2.2,2.5 1.3,2.9 .2,3.6 -1.1,2.1 -2.3,.8 -2.2,-.6 -1.2,-2 0,-2.1 1.4,-1.5 2.2,-.4 2.2,.7 2,1.8 1.2,2.5 .3,2.8 -.8,2.4 -1.7,2.5 -3.3,1.2 -2.5,-.6 -1.9,-2.5 .1,-3 2.2,-1.9 3.4,-.3 3.1,1.7 2.4,3.3 .3,4.1 -1.7,4.5 -3,1.7 -3.2,-.2 -2.6,-1.5 -1,-1.9 .4,-2.2 1.5,-1.2 2.7,-.2 2.5,1.4 1.8,2.4 .4,2.7 -1.1,2.6 -1.6,2 -2,0 -1.8,-1.4 -.3,-2.2 1.1,-2.6 2.6,-1.9 3.2,-.1 2.8,1.5 2.1,3.2 .3,3.4 -1.6,3.3 -3,1.7 -3.2,-.1 -2.7,-1.5 -1.3,-2.2 .7,-2.5 2.6,-1.5 3.1,.6 2.5,2.1 1.4,3.4 -.4,3.1 -1.9,2.7 -2.9,1.1 -1.9,-.7 -.8,-2 .4,-2.4 1.6,-1.6 2.5,-.8 2.4,1 2.2,2.9 .6,3.4 -.4,3.1 -1.5,2.3 -2.2,1 -2.3,-.3 -1.6,-2.1 -.2,-2.3 .6,-1.9 1,-.6 1.7,.6 .8,2.4 .1,3.4 -1.1,3.5 -1.9,2.6 -2.4,.9 -2,-.7 -1.2,-1.9 -.4,-2.6 1.4,-1.7 2.5,-.6 2,1.3 1.7,2.9 .2,3.1 -1,3.4 -1.8,2.2 -1.9,.6 -1.4,-1.4 -.4,-2.5 1.2,-2.7 1.8,-1.7 2.6,.2 2.9,2 2,3.3 .5,4.3 -1.1,3.7 -2.3,1.9 -2,-.2 -1.8,-2 -.2,-3.1 1.3,-2.8 1.9,-1.5 2.4,.3 2,1.7 1.3,3.7 -.2,3.8 -1.8,3.8 -2.6,1.5 -2.6,-.5 -1.9,-1.8 -.4,-1.9 .7,-1.8 1.5,-1.4 2.1,-.2 1.9,1.4 1,2.6 0,3.1 -1.3,2.9 -1.9,1.8 -2.7,.2 -1.9,-.6 -1.1,-1.6 .2,-1.7 1.4,-1.2 2,-.3 1.9,1 1.8,2.4 .9,2.8 -.3,2.9 -.9,1.9 -2.3,1.1 -2.1,-.6 -1.3,-1.9 .3,-2.1 1.6,-2 3.5,-1.3 4.1,.6 3.1,2.7 1.7,3.8 -.8,4.2 -3,2.2 -1.1,.4 -1.5,-1.4 -.6,-2.2 .5,-2.7 1.8,-2.2 2.6,-1 2.4,.8 2,2.5 .4,3.5" fill="none" stroke="#2cc2f2" stroke-width="1.15" stroke-linejoin="round"/>
<path d="M1455.5,1167.1 l -1.7,-3.3 1,-3.5 2.6,-2.3 4.1,-1.1 3.7,1 3.1,2.9 .7,3.6 -1.6,3.2 -3.4,1.7 -3.6,-.4 -2.3,-2.3 -.6,-3.5 1.3,-3.7 4.1,-3.1 5.2,-.7 3.7,1.5 2.5,2.9 .5,3.7 -1.4,3.4 -3,2.1 -3.5,.3 -3.6,-1.7 -1.5,-3.5 1.2,-4.6 3.1,-3.1 5.1,-1.4 5.1,1.5 3.8,3.7 1.1,5.6 -2,5 -3.7,2.8 -4.1,.2 -3.1,-3.1 -.8,-4.9 2.1,-4.6 3.6,-3.1 5,-1.1 4.1,1.4 3.1,3.6 .2,4.1 -2.1,2.9 -3.1,1 -3.9,-.7 -2.9,-3.8 -.9,-3.8 1,-3.4 2.9,-2.4 4.6,-.9 4.6,1.8 3.3,3.7 .6,4.5 -2.1,3.8 -2.7,1.9 -3.5,.1 -2.8,-2.3 -.8,-4.1 1,-3.8 3.5,-3.1 4.2,-1.3 4.2,.8 3.7,3 1,3.7 -1.7,3.7 -3.3,1.9 -4.6,-.9 -2.7,-3 -.5,-4.3 1.7,-4.5 3.6,-3.2 4.2,-.7 4.4,1.9 2.3,2.8 .5,3.4 -1.4,3 -3.3,1.7 -3.2,-.9 -2.9,-4.5 -.6,-2.8 1.5,-2.9 3,-2.3 4.5,-1.1 4,.7 2.4,1.9 .3,2.7 -2.2,2.1 -2.8,.9 -3,-.5 -2.1,-.8 -.7,-2.9 1.1,-3 3.4,-2.6 4.9,-.6 3.7,1.4 2.7,3.1 .9,4.1 -1.8,3.3 -2.8,1.8 -3.7,-.1 -2.9,-1.6 -1.5,-3.6 1.5,-3.7 4.2,-2.5 4.9,-.1 4.9,2.1 3.3,4.2 .2,5.1 -2.2,4.2 -4.4,2.6 -4.1,-.7 -2.9,-2.7 -.9,-4.9 1.8,-5.4 3.6,-3.4 5.4,-1 4.8,2.3 3,4.6 .1,4.3 -1.9,3.7 -3.2,2.1 -4.3,-.2 -3.7,-3.8 -1.1,-4.7 1.7,-4 4.3,-3.3 4.9,-1.2 4.5,1.1 3.1,3.3 .4,4.2 -2.2,2.9 -4,1.3 -4.5,-1.4 -2.2,-3.4 -.4,-4.5 1.6,-4.1 3.7,-3.6 4.3,-.8 3.8,1.1 2.1,2.7 .6,3.5 -1.3,2.9 -2.4,1.5 -3.1,-.1 -2.2,-2.3 -1.3,-3 .9,-2.9 2.6,-2.8 4.1,-1 4.2,1.2 2.8,2.5 1.3,3.1 -.4,3.4 -2,2.4 -3,.8 -2.6,-1.2 -2.5,-3.2 -.1,-2.8 1.9,-3.3 3.4,-3 4.4,-1.6 4.3,.1 2.9,2.1 .5,3.5 -2.6,3.2 -3.7,1.6 -4.9,-.2 -2.9,-2.5 -1.7,-4.7 .7,-5.9 3.1,-4.4 4.3,-1.3 4.4,1.1 3.7,3.2 1,4.1 -1.4,4.4 -2.9,2.3 -3.7,.2 -3.1,-2 -.8,-3 1.8,-3.9 4.1,-3.2 5.3,-1.1 4.2,1.1 2.6,2.9 -.1,4.1 -2.4,3.8 -3.9,1.6 -4,-.1 -3.1,-3.3 -.4,-4 2.1,-4.5 4.4,-2.8 4.4,-.1 3.2,1.8" fill="none" stroke="#2cc2f2" stroke-width="1.25" stroke-linejoin="round"/>
<path d="M1455.6,1163.2 l 1.1,-2 2.4,-1.2 3,-.4 2.5,.6 1.8,1.9 -.1,2.1 -1.2,1.9 -2.6,1 -2.8,-.5 -1.6,-1.8 -.2,-2.9 1.4,-3.1 2.6,-2 3.2,-.8 3,.6 2.1,1.7 .6,2.1 -.9,2.3 -2.3,.9 -2.4,-.8 -1.9,-2.3 .1,-2.7 1.9,-2.2 2.9,-1.5 3.9,-.4 3,1.1 1.5,1.9 .4,2 -1.4,2.1 -2.4,.8 -2.1,-.2 -1.2,-1.2 -.3,-2.8 1.5,-3 2.6,-1.8 3.1,-.3 3.2,1.3 2,2 .9,2.4 -.6,2.5 -2.1,1.8 -2.4,.3 -1.7,-.8 -.9,-2.6 1.1,-1.8 2.6,-1.1 3.1,-.2 3.1,.6 2.1,1.6 1.3,2.1 -.1,1.9 -1.6,1.1 -1.7,0 -1.5,-.8 -.8,-1.6 .3,-2.4 1.7,-2.3 3.1,-1.5 3.5,.2 2.5,1.5 1.4,2.8 -.5,2.2 -2.1,1.6 -2.7,-.1 -2.3,-1.4 -1.1,-2.7 .8,-2.7 2.4,-1.7 3.5,-1.1 3.3,-.1 2,.6 1.2,1.4 -.7,1.5 -1.6,.9 -1.7,0 -1.9,-.5 -.8,-1.4 0,-2.3 1.5,-3.2 3.5,-2.6 3.5,-.5 3.3,1.6 1.9,2.6 0,3.4 -2.2,2.8 -3,1 -3.2,-1.1 -1.7,-2.9 .6,-3.3 2.5,-3.3 3.2,-1.8 3.9,-.3 3.6,1.8 1.7,2.6 -.2,2.9 -1.8,2 -2.4,0 -2.1,-1.6 -1.3,-2.4 .5,-2.2 2,-1.8 3.4,-.9 3.6,.3 2.4,1.6 1.3,2 -.6,2 -1.5,1.3 -2.3,.1 -1.6,-1.4 -.1,-1.8 1,-1.8 2.5,-1.5 2.6,-.5 2.9,.5 2.3,1.6 .8,2.2 -.9,2.5 -1.9,1.5 -2.7,.2 -2,-1.4 -.3,-2.5 1.7,-3.1 3.1,-2 4,-.5 3.5,.8 2.7,2 .7,2.4 -1.4,2.1 -3.3,1.4 -2.9,-.3 -1.9,-1.1 -1,-2.7 1.2,-4.1 2.5,-2.5 3.8,-.8 3.8,1.4 3.1,2.8 1.3,3.1 -.3,3.4 -1.6,2.1 -2.6,.7 -2.1,-1.3 -1.1,-2.4 .7,-2.4 2.4,-2.3 3.6,-1.3 2.9,.2 2.8,1.4 1.5,2.4 -.1,2.3 -1.8,1.9 -1.7,.2 -1.5,-1 -.7,-2.3 -.2,-2.8 2,-2.8 3.2,-1.6 4,.4 2.8,2.3 1.2,2.9 -.9,3.2 -2.6,2.2 -3.5,.5 -2.6,-1.2 -1.6,-2.5" fill="none" stroke="#2cc2f2" stroke-width="1.15" stroke-linejoin="round"/>
<path d="M1432.2,1195.6 l 3.4,-1.3 3.6,1 3,3.3 1,4 -.7,2.8 -2.1,1.8 -3.4,0 -3.2,-2.1 -1.7,-3 .2,-3 1.9,-3.2 2.9,-.9 3.9,1.3 4,3.3 2.6,4.6 .3,3.5 -1.6,2.5 -3.2,.2 -3.9,-2.3 -2.6,-4.4 -.3,-3.5 1.7,-2.7 4.5,-.6 4.5,2.2 3,3.1 1.4,3.6 0,3.7 -1.8,2.4 -3.1,.1 -2.4,-1.6 -1.6,-2.7 .2,-2.7 1.7,-1.6 2.5,.2 3,1.7 2.3,2.5 1.4,3.2 -.1,2.5 -1.5,1.2 -1.6,-.2 -1.7,-1.4 -1.5,-2.2 -.3,-2.4 1.3,-1.8 3,-.2 2.7,1 2.6,2.6 1.4,3.2 -.1,2.5 -1,1.6 -1.7,.3 -2.5,-.8 -2,-1.8 -.5,-2.2 1.2,-2.3 2.5,-1.2 3.8,.5 3.4,2.5 1.5,3.3 -.1,3.1 -2,2.7 -3.3,1.3 -3.2,-.9 -2.5,-3.2 -.1,-3.2 2,-3 3,-1.1 3,1.4 3,3.4 1.6,3.9 0,3.6 -1.8,2.4 -2.4,.4 -2.9,-1.8 -1.9,-2.8 -.6,-2.6 .9,-1.9 2.5,-1.4 3.8,.4 3.8,2.9 2.2,4.2 0,3.9 -1.8,3.2 -3,1.7 -3.8,-.9 -2.6,-2.8 -.9,-4.5 1.3,-3.5 3.6,-2 4,.8 3.8,3 1.8,3.6 .1,3.3 -1.3,2.5 -2.6,1.1 -2.7,-1.1 -1.7,-1.5 -.6,-2.6 1.1,-2.1 3.1,-1.1 3.1,.2 3.1,2 1.9,3.7 -.4,3.4 -1.9,3 -2.8,1.2 -3.3,-.7 -2.4,-2.1 -.7,-2.7 1.3,-2.1 1.4,-.9 2.6,.7 3,2.7 2.6,4.4 .7,4.4 -1.2,3.1 -3.3,.3 -2.6,-1.6 -2.3,-3.9 -.6,-4.7 1.8,-3.4 4.9,-1.8 5.1,.3 4.4,3.3 1.4,4.6 -.8,5 -3.1,3.7 -3.7,1.3 -4.2,-.9 -2.8,-2.5 -1.4,-4.2 1.2,-3.4 3.8,-2.6 5.6,-.2 4.5,2.7 2.6,5 -.3,4.7 -2.7,3.5 -4.3,1.5 -4.3,-1.3 -2.4,-2.7 -.3,-4.4 2,-2.9 3.8,-1.4 3.9,.5 3.8,2.3 2.1,3.2 .3,4.1 -1.6,2.5 -3,1.5 -2.9,-.1 -2.3,-2.1 -.5,-2.6 1.2,-2.7 2.5,-1.3 3.1,1 2,2.2 1.2,3.5 -.3,3.5 -1.8,2.7 -2.7,1.5 -2.7,-.3 -2.1,-2 -.8,-2.2 .7,-2.3 1.9,-1.7 2.9,.4 2.5,2.4 1.5,3.5 0,4 -1.1,3.4 -3.1,2.2 -3.6,-.4 -3.5,-2.7 -1.6,-3.2 .2,-2.7 1.9,-2.1 4.3,-.2 4.3,1.9 3.3,3.8 1.1,4.3 -.9,4.1 -3.6,2.9 -3.9,.4 -3.5,-2.4 -1,-3.7 1.5,-4.5 4,-3.4 5.5,-.1 4.6,2.4 2.8,3.1 .9,4.1 -1.3,3.2 -2.1,1.5 -2.8,-.8 -1.6,-2.2 -.4,-2.7 .9,-2.5 2,-1.8 3.1,-1.3 3.8,.8 3,2.4 .9,3.9 -1.3,4.3 -3.1,2.3 -4.4,-.1 -3.6,-2.7" fill="none" stroke="#2cc2f2" stroke-width="1.25" stroke-linejoin="round"/>
<path d="M1432.3,1198.9 l 1.4,-2.3 2.7,-.7 2.6,.8 2.1,1.9 1.2,3 -.4,2.6 -1.5,1.9 -2.7,0 -1.8,-1.6 -.9,-2.4 .4,-2.5 2,-1.6 3.1,-.5 3.8,1.9 2.1,2.8 1.1,3.9 -.8,3.2 -2.2,2 -3.1,0 -2.4,-1.3 -1.5,-2.1 .4,-2.1 1.9,-.8 2.5,.3 2.1,1.4 1.9,2.9 .6,3.2 -.7,2.9 -1.8,2.3 -2.2,.6 -1.9,-.6 -1.1,-1.6 -.3,-1.4 2,-1.6 2.9,-.3 2.6,.6 2.5,2.3 .9,2.5 -.2,2.4 -1.6,1.9 -2.1,.8 -1.9,-.9 -.7,-1.7 1.3,-2.2 1.1,-1 2,.4 2,1.3 1.7,2.4 .8,2.3 -.1,2.5 -.9,1.2 -1.6,-.2 -1.2,-.9 -.5,-1.5 .2,-1.6 1.1,-1.6 2.4,-.4 2.6,1.3 2.1,2.4 1.2,3.1 -.1,3.1 -1.1,1.9 -2.1,.7 -2.4,-.8 -2.2,-2.5 -.7,-2.8 1.3,-2 2.5,.1 2.8,1.7 2.2,2.7 1.5,2.5 .5,3 -1.2,2.3 -2.4,.8 -1.9,-1.1 -1.2,-2 -.2,-2.5 1.1,-1.7 2.8,-.9 3,.7 2.7,2.3 .9,3 -.5,3.2 -1.6,2 -2.6,1.1 -2.1,-.8 -.9,-2 .3,-2.3 1.4,-2.1 2.9,-1.1 3.1,.7 2.6,2 1.8,3.7 -.1,3.6 -2.2,3 -2.9,1.1 -2.8,-.7 -1.8,-2.5 -.1,-3.3 1.9,-3.1 3.3,-1.2 3.9,.7 2.8,2.2 1.7,4.5 -.4,4.3 -2,2.9 -2.9,1 -3,-.9 -2.3,-2.2 -.7,-3.2 1.9,-2.6 3.2,-1 3.6,.8 3,2.8 1.6,3.7 .2,3 -1.4,1.9 -2.1,.2 -2,-1.4 -1.3,-2.3 .2,-2.3 1.6,-2.4 3.3,-.6 3.8,1.2 2.6,2.7 .6,3.2 -.5,2.8 -1.8,2.1 -2.3,.4 -2.4,-.9 -1.1,-1.8 0,-2.2 .8,-2.3 2.9,-1.4 4.3,.3 3.1,1.7 2.4,3.8 -.2,4 -2.5,3.4 -3.5,.9 -3,-1.1 -1.8,-2.9 .3,-3.6 3.2,-2.8 2.9,-.2 2.8,1.3 1.8,2.3 1.3,3.6 -.1,2.6 -1,2 -1.6,.7 -1.6,-.5 -.9,-1.2 -.2,-1.6 .7,-1.8 2.5,-.8 3.3,.6 3.1,2.7 1.3,4 -.7,3.8 -2.3,3 -3.5,.2 -3.2,-1.7 -1.8,-2.9 0,-3.2 2.4,-3.5 2.2,-1.1" fill="none" stroke="#2cc2f2" stroke-width="1.15" stroke-linejoin="round"/>
<path d="M1540.8,1193.9 l 3.3,1.5 1.6,3.6 -.2,3.7 -1.8,3.3 -2.7,1.8 -3.4,0 -2.8,-2.3 -1.3,-3 .3,-3.4 2.1,-2.7 2.1,-.8 3.4,2 2,3.9 .1,4.7 -1.8,4.2 -3.6,2.9 -4.7,.4 -3.9,-2.1 -1.7,-3.7 .1,-3.7 2.8,-3.8 3.9,-1.1 4.3,1.7 2.6,4.2 .3,5.6 -2.4,5.2 -3.6,2.4 -3.2,-.1 -2.5,-1.9 -1.2,-3.5 1.1,-4.6 3.2,-3.2 3.5,-.8 3.1,1.9 1.7,4.3 -.4,4.7 -2.3,3.8 -3.2,2.3 -3.4,.2 -2.7,-2.1 -1.1,-2.8 .2,-3 1.6,-2.4 2.2,-1.1 3.1,.4 3.5,3.1 1.2,4.1 -1.2,4.7 -3.2,3 -4.3,1.2 -5.3,-1.3 -3.6,-3.4 -.6,-4.1 1.7,-3.4 4,-1.6 5.3,.8 3.2,2.7 1.4,4.1 -.4,4.8 -2.4,4 -3.4,2.2 -4.3,.2 -3.5,-2.7 -1.2,-3.8 1.1,-4.4 2.7,-2.8 3.9,-.7 3,1.9 1.7,4.4 -.1,5 -2.1,4.6 -3.2,2.9 -3,.2 -2.6,-2.5 -.7,-3.7 1.1,-4.4 2.7,-3.3 2.8,-.3 2.4,2.1 1,4.4 -.7,4.1 -2,3.8 -2.6,2.4 -2.6,-.1 -1.7,-2 -.1,-2.8 1.1,-3.2 2.1,-1.7 2.6,-.5 3.2,2.1 1.6,4 -.7,3.9 -3.1,3.5 -4.3,1.3 -3.7,-.8 -2,-2.7 0,-3.5 1.7,-2.7 3.9,-1.5 4.5,.9 3.4,2.9 1.8,4.5 -.5,4.1 -2.8,3.2 -4.4,1.4 -4.2,-.9 -3.1,-2.5 -.9,-3.2 2,-3.7 3.7,-1.6 4.1,1 1.5,2.1 .3,3.2 -1,3.8 -2.1,3.3 -2.3,1.6 -2.5,-.3 -1.4,-1.6 -.3,-2.2 1.3,-2.6 2,-1.5 2.2,.1 2.2,2.2 1.3,2.8 -.4,3.6 -1.6,2.7 -2.1,1.4 -1.7,.1 -1.8,-1.3 -.4,-2.2 .9,-2.3 1.6,-1.3 2.3,.1 1.8,1.6 1.1,2.9 -.6,3.7 -2.3,3.2 -3.1,1.7 -3.1,-.2 -2,-1.8 -.9,-2.5 .3,-2.3 1.1,-1.4 2.1,-.4 1.7,1.2 1.3,2.9 -.1,4 -1.5,3.2 -2.6,1.8 -2.8,-.1 -1.9,-1.9 -.1,-2.4 .8,-2.7 2.1,-2.1 2.5,-.4 2.4,1.8 1.2,3.7 -.7,4.6 -2.1,3.6 -2.8,2 -2.6,-.6 -1.8,-2.3 0,-3.6 1.7,-3 2.9,-1.5 4,1.1 3.7,2.9 1.3,3.5 -.5,3.4 -2.4,3.3 -3.1,1.2 -3.3,-.6 -1.7,-2.1 -.1,-2.4 1.5,-1.9 2.8,-1.3 3.7,-.7 3.3,1.1 2.4,3.1 0,3.7 -3,4 -4.2,1.7" fill="none" stroke="#2cc2f2" stroke-width="1.25" stroke-linejoin="round"/>
<path d="M1539.2,1206.4 l -2.3,-1 -1.6,-2.3 -.7,-3 1.1,-3.1 2.4,-1.6 2.5,.5 1.5,2.4 .6,3.2 -.7,3.5 -1.9,2.8 -2.4,1.5 -2.2,-.2 -1.6,-1.6 -.2,-2.6 1.4,-2.3 2.4,-1 3.2,.8 2.6,2.8 1.3,3.7 -.4,3.3 -1.8,3.1 -2.4,.8 -1.5,-.7 -.5,-1.4 .3,-2.3 .8,-1.7 1.5,-.7 1.2,.5 .7,2.7 0,2.7 -1.3,3.7 -1.8,2.2 -1.8,1.3 -2,-.5 -1.4,-1.7 -.2,-3.3 1.2,-3 1.7,-1 2.2,.9 1.5,3.3 0,4.4 -1.6,4.2 -2.2,2.6 -2.4,.8 -2.3,-1.2 -1.3,-2.7 -.1,-2.6 1.5,-2.6 3,-1 3.1,1.1 2.2,3.1 .1,3.9 -2,4.3 -3.6,2.8 -3.9,.4 -2.8,-1.7 -1.3,-2.6 .1,-2.7 1.3,-2 3.2,-1.2 2.6,1.1 2.1,2.8 .6,3.2 -1.2,3.8 -2.6,2.5 -4,1.2 -2.5,-.7 -1.5,-2.1 -.4,-3 .8,-2.9 1.4,-1.6 1.5,0 1.5,1.9 .7,3.7 -.8,3.9 -1.9,3.5 -2.2,1.8 -2.4,-.2 -2.7,-2.1 -.7,-3 1.4,-2.5 3.2,-1.1 3.5,.7 2.5,2.5 1.3,3.4 -.3,3.6 -2.4,3.1 -3.6,.9 -2.3,-.5 -.6,-1.3 .1,-2.4 1.3,-2 1.9,-.7 1.9,.9 1.5,2.4 .5,3.4 -.5,3.4 -1.1,2.7 -1.4,1.1 -1.3,-.4 -.4,-1.8 .4,-2.1 1.3,-1.6 1.8,-.3 1.6,1.2 1.1,1.9 .2,2.8 -.8,2.8 -1.5,1.7 -1.7,1 -1.2,-.1 -.6,-1.6 .1,-2 1,-1.3 1.6,-.8 1.9,.6 1.6,1.7 1,2.3 -.1,3 -.7,2.5 -1.4,1.4 -2.3,.7 -2.1,-.7 -1.3,-2.8 .6,-2.6 2.1,-1.6 3.3,-.3 3.3,2.2 2.1,3.6 .3,3.8 -1.5,3.6 -2.8,2.2 -3.1,.3 -2.4,-1.1 -1.1,-2.2 0,-2.6 1.5,-2 2.5,-.4 1.9,1.5 1.2,3.2 -.2,3.3 -.9,2.8 -2,2.3 -2.8,.7 -2.9,-1.4 -1.4,-2.4 .2,-3.2 2,-2.5" fill="none" stroke="#2cc2f2" stroke-width="1.15" stroke-linejoin="round"/>
<path d="M1429.1,1240.4 l -2.2,3.5 -3.2,1.9 -3.4,.4 -3.3,-1.9 -1.3,-3.7 .8,-3.4 2.7,-3 3.6,-1.1 2.6,.9 1.5,2.5 .2,4.1 -2,4.4 -3.2,2.6 -4,.8 -3.1,-1.2 -1.9,-2.4 .1,-3.5 1.7,-2.9 2.7,-1.6 3,-.3 2.8,1.9 .8,3.8 -2.3,3.5 -3.5,3.5 -3.1,1.6 -3.1,-.2 -1.3,-2.4 .8,-3.2 2.5,-2.6 3,-1.2 3.1,.6 1.6,2.3 0,3.5 .3,6.2 -3.2,2.9 -4.6,.6 -4.1,-1.5 -2.7,-3.9 -.3,-3.7 2.6,-3.2 3.9,-1 4.3,1.4 3.9,3.9 1.9,4.9 -1.4,4.8 -3,3.8 -4.5,1.4 -4,-1.2 -2.2,-2.3 -.2,-3.3 1.6,-4.2 3.9,-2.1 3.7,.4 3.6,3.1 1,3.9 -2.5,3.4 -3.3,3.1 -4.3,1.5 -4.4,-.7 -2.2,-2.3 0,-3.9 2.3,-3.2 3.4,-1.3 2.8,.8 1.7,2.7 -.3,3.2 -2.4,4.5 -3.8,2.3 -4,.3 -3.6,-1.4 -1.8,-3.5 .7,-3.8 2.1,-2.7 3.1,-.9 3,.7 1.9,2.7 0,3.5 -1.9,3.6 -2.9,3 -3.9,1.4 -3.3,-.4 -2.2,-2.2 -.3,-3.8 2,-3.1 3.1,-1.7 3.4,-.1 2.7,1.6 .7,2.9 -1.6,3.4 -3.3,3.7 -5,1.3 -4,-1 -3.4,-3 -1.2,-4.3 1.2,-3.7 2.4,-2.3 2.7,-.8 2.3,.8 .9,2.7 -1.3,3.8 -2.7,3.5 -3.9,2 -4,-.3 -3.3,-2.5 -1.2,-3.2 1.1,-3.5 3,-2.2 3.5,-.1 3.3,1.9 1.9,4 -2,3.7 -3.4,4.1 -4.4,2.5 -3.9,0 -2.1,-2.5 .3,-3.4 1.9,-3.2 3.8,-2.3 3.7,0 2.5,2.2 .6,4.1 -1.9,5 -3.9,3.6 -4.5,1.3 -3.1,-.9 -2,-2.5 .5,-3.2 2,-2.7 3.2,-1.5 3.1,.2 2.6,2.3 .8,4.1 0,5 -3.1,3.5 -4.1,1.3 -3.5,-1.3 -1.7,-2.8 .4,-3.7 2.4,-2.4 3.8,-.5 3.7,1.4 3.3,3.5 1.3,4.8 -.6,4.3 -2.5,3.5 -3.7,1.6 -3.6,-.6 -3,-3.1 -.4,-4.4 2.5,-4.2 4.4,-1.9 4.3,.9 3.2,3.3 .8,5.9 -1.9,4.6 -4.3,2.7 -4.7,.4 -4.1,-1.7 -1.8,-3 0,-4 2.2,-2.5 3.4,-1.1 3.4,1.2 2.6,2.9 -.2,3.6 -1.7,3.5 -3,2.5 -3.6,1.1 -3.1,-.6 -2.1,-2.5 -.1,-3 1.5,-2.9 2.7,-1.6 2.8,.1 3.2,2 1.6,3.4 -.5,3.7 -2.1,3.4 -3.4,2 -3.3,-.1 -2.6,-2.1 -.7,-3.2 .6,-2.8 2.1,-1.9 2.3,-.2 2,1.8 .4,3.1 .3,4.2 -2.9,3.2 -4.1,1.4 -4.2,-.9 -3.4,-2.8 -1.1,-3.4 1.3,-2.9 2.6,-1.1 3.4,.8 2.6,3.3 -1.6,3 -1.6,3.2 -2,1.9 -2.2,.4 -1.6,-1.4 -.4,-2.6 .9,-2.8" fill="none" stroke="#2cc2f2" stroke-width="1.25" stroke-linejoin="round"/>
<path d="M1427.4,1236.8 l .7,2.8 -.9,3.3 -2.4,2.4 -2.6,.6 -2,-1.2 -.8,-2.2 1,-2.3 2.4,-1.3 3,-.1 2.6,1.6 .7,2.7 -.5,3.3 -1.7,3.7 -2.5,2.7 -3.2,.5 -1.9,-1 -.5,-2.5 .9,-2.9 2.1,-1.9 2.5,-.4 1.8,1.3 1.2,3.5 -.4,3.9 -2.6,3.3 -3.3,1.9 -3.5,.3 -2.9,-1.6 -1.1,-3.2 1.3,-3.2 2.6,-1.6 3.1,.2 1.9,2.5 .2,3.4 -1.6,3.6 -2.3,2.3 -2.7,1.2 -2.7,-.2 -2,-2 -.2,-2.4 1.6,-2 1.9,-.6 2.4,.6 .8,1.8 -.4,2.5 -1.3,2.7 -2.9,2 -2.3,.7 -1.8,-.5 -.7,-1.2 .3,-1.8 1.3,-1.5 1.4,-.6 1.2,1 1.2,2.1 -.3,3.4 -1.9,2.7 -2.8,1.8 -3.6,.1 -2.2,-1.3 -1.3,-2.7 -.3,-2.8 1.7,-2.6 1.9,-.6 2.3,.9 .9,2.4 -.9,3.4 -2.6,2.3 -3.4,1 -3.9,-.5 -3.2,-2.4 -1.8,-2.8 0,-3.1 1.4,-2.5 2.7,-1.4 2.2,.5 1.3,1.9 .3,2.5 -1.4,2.7 -3.8,2.8 -4.4,.6 -3.7,-.6 -2.5,-2.1 -.3,-3.1 2,-2.8 3.3,-.9 3.6,1.4 2.7,3.1 .3,3.5 -1.4,3.9 -3,3.1 -3.8,1 -3,-.5 -1.3,-2.1 .5,-2 1.7,-1.7 3.2,-.7 3.2,1.3 2,2.4 .5,3.2 -1.1,3.2 -2.8,3.1 -3.5,1.5 -2.7,-.3 -1.8,-1.8 0,-3.2 1.9,-2.6 3,-1.3 3.1,.4 1.7,2.6 0,3.6 -1.2,3 -2.4,2.5 -2.8,1.1 -3,-.3 -2.1,-2 -.6,-2 1,-2.3 1.7,-1.4 2.2,.1 1.5,1.4 .9,3.4 -1,3.6 -2.3,2.9 -2.9,1.5 -3.4,-.1 -2.4,-1.9 -.7,-3.1 1.4,-3 3.4,-1.7 3.3,.7 1.7,2.6 .2,3.4 -1.9,3.6 -2.5,2.3 -2.8,.9 -2.4,-.7 -1.1,-1.8 0,-2 .9,-1.5 1.4,-.8 1.6,.7 1.5,1.6 .6,2.6 -.6,3.1 -1.2,2.3 -1.9,1.5 -1.7,0 -1.1,-.8 -.3,-1.9 .5,-1.9 1.2,-1.3 2.3,-.3 1.4,1.3 .8,2.2 -.3,3.4 -1.1,3 -2.1,1.9 -2.5,.6 -1.9,-.7 -1.3,-1.6 -.3,-1.8 .8,-1.3 1.6,-1.2 1.5,-.2 1.7,1.3 .7,2.4 -.8,2.3 -2,1.5" fill="none" stroke="#2cc2f2" stroke-width="1.15" stroke-linejoin="round"/></g>
<g opacity="0.95"><path d="M1837,1123.7 l -.1,3 -1.5,2.4 -2.9,1.3 -3.2,-.6 -2.9,-2.3 -1.5,-2.9 .5,-2.8 2.6,-1.6 3.1,.4 3,2.2 1.8,3.2 -.2,4.2 -.7,2 -1.6,.9 -2.1,-1 -1.7,-2.3 -.5,-2.6 .5,-1.7 1.9,-.7 2.7,.7 2.3,2.2 1.7,2.7 1,2.7 -.5,1.8 -1.8,.6 -2,-.6 -1.6,-2.1 -.9,-3 .9,-2.1 2.1,-.9 2.9,.7 2.9,1.9 2.8,3.5 .8,3.4 .1,2.4 -1.6,1 -2.6,-.5 -2.5,-2.2 -1.5,-3.1 -.2,-2.9 1.9,-2.3 2.7,-.2 3.6,1.3 3.6,2.9 2.8,2 0,3.6 -1.5,2 -2.4,.4 -2.3,-1.1 -1.6,-2.4 -.2,-2.4 1.3,-2.9 2.5,-1.6 2.9,.4 2.7,1.8 2,3.5 .7,3.3 -1.2,2.9 -2.3,1 -3,-.7 -2.4,-2 -1,-2.7 .9,-2.8 2.9,-1.1 3.5,.4 3.4,1.8 2.4,3 1.1,3.6 -1,2.5 -2.2,.9 -2.9,-.6 -2.6,-2.2 -1,-2.6 .5,-2.5 2.6,-1.5 3.2,.2 3.5,1.6 3.5,1.4 .6,4 -1.5,3.5 -2.8,2.2 -3,.3 -2.2,-1.6 -.9,-3.2 1.3,-3.9 3.1,-2.7 3.5,0 3.2,1.5 1.3,4 .9,3.2 -.6,2.9 -2.6,1.6 -3.5,.1 -3.4,-1.7 -1.7,-2.2 .2,-2.5 2.3,-2 3.3,-.3 4.1,1.6 3.4,2.4 1.1,4.2 -1.1,3.7 -2.3,2.3 -2.7,.6 -2.7,-1.1 -1.8,-2.1 0,-2.8 2,-2.5 3.6,-1.2 3.7,.9 2.5,2.4 2.2,2.8 .4,2.7 -1.3,2.1 -2.7,.6 -3.1,-.9 -2.6,-2.3 -.5,-2.9 1.2,-2.5 3.6,-1.6 4.8,.3 5.1,.8 2.1,3.3 -.3,4.3 -2.6,2.9 -3.5,.1 -3.5,-2.4 -1.9,-4.2 .2,-4.8 1.8,-3.7 3.8,-2.2 3.7,.4 3.9,3" fill="none" stroke="#f8a368" stroke-width="1.06" stroke-linejoin="round"/>
<path d="M1831.5,1128.1 l -1.8,-1.4 -1.1,-2.4 .1,-2.8 1.3,-1.9 2.2,-.7 2.3,.5 1.9,1.9 1.2,2.9 -.1,2.9 -1.3,2.3 -2,.6 -2.9,-.3 -.6,-1.8 .4,-2.3 2,-1.8 2.7,-.6 3.1,1.5 1.9,2.2 .6,2.9 -.9,2.9 -1.8,1.7 -2,-.1 -1.5,-.9 -.8,-1.3 .3,-1.2 1.2,-.6 2.4,.3 2,1 2.3,2.3 1.2,1.8 .3,2.2 -.6,1 -2,.5 -1.4,-.7 -.6,-1.3 .4,-1.9 1.8,-1.6 2.4,-.3 2.6,.9 2,1.7 1.2,2.5 -.1,2.4 -1.4,1.5 -1.5,.3 -1.5,-.7 -1,-1.7 .2,-1.8 1.6,-1.4 2.8,-.2 2.9,1.1 1.8,1.8 .6,2 -.2,1.9 -1,1 -1.2,.4 -1.5,-.8 -.9,-1.4 .1,-1.9 1.4,-1.5 1.8,-.5 2.1,.6 2.3,1.6 1.4,2.4 .6,2.9 -.8,1.6 -1.6,.7 -1,-.9 -1.1,-1.3 -.6,-1.5 .3,-1.3 1.3,-.5 2,.2 2.1,.9 2.4,2 1.3,2.3 0,1.9 -1,1.1 -2,.8 -1.6,-.1 -1.2,-1.1 -.1,-1.4 .8,-1.2 1.8,-.4 2.8,.5 2.4,1.7 1.5,1.9 .4,2.1 -.8,1.3 -2.1,1.5 -1.7,0 -1.4,-1.1 -.1,-1.5 1,-1.7 2.2,-.8 2.6,-.2 2.7,1.5 1.8,2.7 .5,2.8 -1,2.5 -2,1.1 -2,-.1 -1.6,-1.4 0,-1.9 1.3,-1.5 1.9,-.8 2.7,-.1 2.6,1.2 1.6,2 0,2.1 -1.1,1.9 -2.3,.8" fill="none" stroke="#f8a368" stroke-width="0.98" stroke-linejoin="round"/>
<path d="M1784.6,1150.4 l 2.8,2.6 1.1,3.4 -.9,2.6 -2.7,1.6 -3.1,-.4 -2.7,-1.7 -1.3,-2.3 .1,-2.7 1.6,-1.5 3,-.5 3.8,1.2 2.9,2.9 1.1,4.1 -1.1,3.1 -2.7,2.4 -3,.4 -3.1,-1.4 -1.2,-2.5 .8,-2.9 2.5,-1.8 3.2,-.3 3,2.4 2.9,2.8 1.2,2.8 -.5,2.7 -1.8,1.6 -2.5,.3 -3,-1.5 -1.7,-2.2 -.3,-2.1 .9,-1.4 2.9,-.3 4.5,-.3 3,2.6 1.5,3.8 .2,3.7 -2.2,3.2 -3.3,1.1 -4.1,-1.1 -1.9,-3.4 .1,-3.7 2.6,-3.2 3.7,-1 4.1,.5 3.9,3 1.4,3.7 -.6,3.5 -2.7,2.8 -2.9,.4 -2.6,-1.3 -1.5,-3.1 .4,-3.1 2.6,-3 4,-.9 3.4,1.8 2.4,2.8 .8,3.1 -.8,3 -2.2,1.8 -2.6,.2 -1.9,-.9 -1.4,-2.4 .5,-2.4 1.9,-1.9 2.9,-.8 2.2,1.4 2.8,2.1 1.7,2.8 .4,3.7 -1.6,2.5 -2.5,.6 -3,-1.1 -2.4,-2.5 -.9,-2.9 .8,-2.4 3.1,-1.4 3.7,.4 4,1.3 2.9,3.3 1.2,3.6 -1,3.4 -2.6,1.5 -3,-.3 -3,-1.9 -1.7,-3.5 .5,-3.5 2.2,-2.5 3.9,-.8 3.3,2 4,2.7 2.2,3.3 .4,2.4 -1.6,1.3 -2.1,-.4 -2.6,-2 -1.9,-3.3 0,-2.9 1.7,-2 2.7,-1 3.6,.5 5.3,.5 1.9,3.5 -.1,3.5 -1.8,2.6 -2.8,1.2 -2.9,-1.1 -1.4,-2.8 0,-3.1 2.1,-3.6 3.5,-2.2 3.8,-.4 3.3,1.5 2.9,2.4 .5,3.2 -1.1,3.2 -2.9,2.3 -3.5,.4 -2.9,-1.1 -1.4,-2.4 .6,-3.2 3.2,-2 3.9,-.3 3.6,3.6 2.4,2.4 .9,2.5 -.5,1.9 -2.1,.9 -2.9,-.6 -2.3,-2 -1.2,-2.7 1,-2.6 2.6,-1.5 2.7,0 3.6,.7 1.8,1.8 .6,1.7 -1.2,1.9 -2.3,1.1" fill="none" stroke="#f8a368" stroke-width="1.06" stroke-linejoin="round"/>
<path d="M1783.4,1159.2 l -2.2,-.8 -2.1,-2 -.6,-2.3 .7,-1.8 2,-1.1 2.5,.5 2.9,1.9 1.7,2.2 .1,2.7 -1.4,2.3 -2,.7 -2.1,-.5 -.9,-1.3 .4,-1.5 1.3,-1.3 2.2,-.1 2.3,1.1 1.9,2.2 1.1,2.5 -.1,1.9 -1,1.7 -1.6,.4 -1.7,-.4 -.8,-1.2 .1,-1.2 1.3,-.9 1.6,-.1 2.7,1.1 2,2.2 .9,2.3 .2,2.3 -.8,1.7 -1.8,.9 -1.9,-.4 -.9,-1.1 0,-1.9 1.4,-2.1 2.4,-1.1 2.8,.6 2.2,2 1.4,2.3 0,2 -.9,1.4 -1.6,1.3 -1.8,-.5 -1,-1.4 -.1,-2.1 1.6,-2.6 3,-1.1 3.5,.7 2.4,2.2 1.2,2.8 -.2,3.7 -1.7,2.8 -2.3,.3 -2.2,-.8 -.8,-1.8 .5,-2.3 1.5,-1.9 2.8,-1 2.6,-.1 2.7,1.3 1.7,1.8 .8,2.4 -.3,1.7 -1.1,.6 -1.1,-1.1 -1.1,-1.6 -.1,-1.7 .8,-1.7 1.5,-1.3 2.3,-.4 2.4,.6 2,1.6 1.4,1.7 .2,1.6 -.7,.7 -1.5,.7 -1.5,-.1 -1.6,-1.3 -.2,-2 1.5,-2.3 2.4,-1 3,0 2.6,1.2 2.4,2.2 1,2.9 -.6,2.1 -2.9,1.2 -1.8,-.8 -.9,-2.1 .2,-3.1 1.8,-2.2 2.8,-1.3 2.1,.5 2.5,1.7 1.6,2.7 .2,2.8 -.9,1.9 -1.6,.1 -1.5,-.3 -1.1,-1.1 .1,-1.5 1.3,-1.3 1.8,-.5 2,.5 2.3,1.4 1.8,1.7 .7,1.4 -.9,.5 -2,.6 -2.1,-.7 -1.7,-1.4 -.5,-1.9 .9,-1.4" fill="none" stroke="#f8a368" stroke-width="0.98" stroke-linejoin="round"/>
<path d="M1873.8,1124.9 l -1.5,2.2 -3,1.2 -3,-.3 -3.2,-1.7 -1.5,-2.6 .2,-1.9 1.9,-1.1 3.8,.4 3.9,2.1 2,2.5 .8,3 -1.7,3 -2.6,1.6 -2.6,-.3 -2.3,-1.9 -.3,-2.6 1.1,-2.3 2.7,-1.4 3.5,.2 2.7,1.5 2.1,2.9 .6,3.4 -1.3,2.3 -2.2,1 -2.7,-.6 -2.5,-2.7 -.7,-3.2 1.9,-3.2 3,-1.9 4,0 3.6,1.6 2.7,2.9 1.1,4.4 -1.5,2.9 -2.7,1.2 -3.5,-.7 -3,-2 -.8,-2.4 1.6,-1.9 2.8,-1 3.6,.2 3.5,1.5 2.8,2.6 1,2 -1,2.6 -2.3,1.6 -3.2,.3 -2.8,-1.4 -1.1,-2.4 .8,-3.3 2.8,-2.5 3.5,-.7 3.9,1.2 3,3.3 .9,4.5 -1.2,3.2 -2.6,2.2 -3,0 -2.4,-2 -.9,-3.3 1.2,-3.9 2.8,-2.3 3.4,-.9 3.5,.9 2.8,2.8 .7,3.5 -1.1,3.1 -2.4,1.9 -2.6,-.2 -1.8,-1.4 -.6,-2.2 .9,-2.4 2.2,-2.2 3,-.7 3.5,.5 2.8,2.3 1.1,2.8 -.3,2.1 -1.4,1 -2.9,.2 -2.7,-.9 -1.4,-1.6 .3,-1.8 2.1,-1.2 4.2,-.1 4.2,1.4 2.8,2.1 1,1.9 -1,2.5 -2.2,.9 -3.1,-.7 -2.1,-2.2 -.4,-2.9 1.4,-2.4 2.8,-2 3.6,-.7 3.4,.5 2.8,2.2 1.1,2.4 -.7,1.1 -1.7,0 -2.5,-1.1 -2.1,-2 -.6,-2.6 1.4,-2 3.5,-1.1 4.3,.5 3.3,1.8 2,2.5 -.2,2.4 -1.8,1.2 -2.9,.4 -2.8,-1.2 -1.2,-1.8 .2,-1.8 1.8,-1.9 2.8,-1 3.4,-.1 2.9,1 2.5,1.7 .9,2.3 -1.7,2.5 -2.5,1.4 -3.3,-.5 -2.6,-2.8 -.1,-3.3 1.5,-3.1 3.3,-1.8 3.9,.3 3.5,2.1 2.4,3.7 .1,4.6 -1.8,2.5 -2.9,1.4 -3.2,-.7 -1.9,-1.9 -.3,-2.5 1.5,-2.1 2.6,-1.2 3.6,.1 3.2,1.3 2.2,2.4 .9,2.7 -1,2.4 -2.9,1.3 -2.6,-.4 -2.3,-1.9 -.7,-2.9 1.3,-3.4 3.4,-2.4 4.6,-.8 4,1.1 2.3,2.1 .9,3.3 -1.9,2.5 -2.5,.5 -3.3,-.5 -2.8,-2 -.7,-3 1.8,-2.3 2.9,-1.4 4.1,.2 3.3,1.8 1.8,3 -.1,3.4 -2,2.5 -3.9,1.5" fill="none" stroke="#f8a368" stroke-width="1.06" stroke-linejoin="round"/>
<path d="M1864.7,1119.9 l 2.4,-.6 2.6,1 1.7,2 .6,2.7 -.7,1.9 -1.2,1.5 -1.8,.3 -2,-.7 -1.2,-1.4 .2,-1.9 1.9,-1.3 2.4,-.2 2.9,1.1 2.4,2.3 .9,3.1 -.6,3.4 -1.4,2.9 -2.4,.9 -2.4,-.9 -1,-2.1 .2,-2.8 1.7,-2.3 3,-.3 3,.5 2.7,1.4 1.7,2 .5,1.7 -.6,1.7 -1.8,.5 -1.9,-.4 -.8,-.9 .7,-1.1 1.4,-1.6 2.7,-1.3 2.6,0 2.7,2 1.5,2.7 .1,3.4 -1.6,2.5 -2.5,.7 -2.1,-.9 -1.1,-2 .3,-2.3 1.8,-2.7 3.1,-1 4.1,-.3 3.5,1.9 1.7,3.1 .1,2.8 -2.1,2.2 -2.7,.5 -2.6,-1.3 -1.4,-2.5 .8,-2.9 2.3,-1.5 3.3,-.2 3.5,.9 2.6,1.5 1.5,2.2 .4,2.4 -.8,1.7 -2.3,.8 -2.1,-.4 -1.9,-1.7 .3,-2 1.5,-1.7 2.6,-.3 2.6,.3 2.3,1.1 2.1,1.8 .6,1.7 -.7,1 -1.5,.1 -1.3,-.4 -.9,-1.4 .2,-1.9 1.3,-1.6 2.9,-.9 3.5,.3 2.3,1.2 1.9,2.1 .2,2.3 -1.2,1.6 -2,.4 -1.8,-.9 -1,-1.7 -.1,-2 1.5,-1.2 2.8,-.2 2.9,.5 2.4,1.7 1.1,1.8 .1,1.5 -.5,1.2 -1.2,.7 -1.7,-.2 -1,-1 0,-1.1 1.3,-1.1 2.2,-1.3 2.8,.1 2.8,1.3 1.6,2.3 .5,2.8 -1.5,2.3 -2,.9 -1.8,-.5 -1.4,-1.7 .2,-2.6 1.8,-2.5 2.6,-1.5 3.6,.1 2.8,1.6 2,2.5 .8,3.3 -.8,2.4 -2.2,1.1 -2.1,-.4 -1.8,-2.2 -.7,-3.4 1.7,-3.7 2.9,-2.5 3.6,-.6 3,1.2 2.6,2.7 .8,3.5 -1.1,2.5 -2.4,1.1 -2.5,-.1 -1.8,-1.8 -.3,-2.8 1.5,-2.7 2.5,-1.7 3,-.2 2.3,1.2 1.5,2.8 -.3,3" fill="none" stroke="#f8a368" stroke-width="0.98" stroke-linejoin="round"/>
<path d="M1942,1121.8 l -2.6,0 -2.8,-1.9 -1.8,-3.4 -.1,-3.2 1.5,-2.4 2.4,-.2 2.5,2.2 1.2,3.1 -.3,3.8 -1.6,3.6 -2.6,2.1 -3.9,.5 -3.1,-1.1 -1.2,-2.6 .6,-3.3 2.6,-2.1 3.7,-.6 4.1,1.5 2.9,3.2 1.2,3.7 -.5,3 -2,2.5 -2.5,-.2 -1.8,-2 -.8,-3 .9,-2.4 1.7,-1.7 2.3,-.2 2.6,1.3 1.8,2.4 1.1,3.1 0,2.6 -1.4,2.3 -1.7,.7 -1.7,-1.3 -.8,-2.3 .1,-2.5 1.2,-2 1.9,-.2 2.1,1.1 1.9,2.3 1.2,3.2 0,2.8 -1.1,2.2 -1.8,.4 -2,-.9 -1.3,-2.1 -.5,-2.8 1.2,-2.4 2.1,-.6 2.3,1.5 1.9,3.4 .5,4 -.9,3.3 -1.9,2.2 -2.4,.1 -1.9,-1.8 -1.2,-2.8 .1,-3.1 1.8,-2.2 2,-.3 2.8,2 2,4.5 .5,4.6 -.9,3.9 -2.6,1.6 -2.7,-.7 -1.5,-2.4 -.3,-2.6 .9,-2.5 2,-1.3 2.4,.6 2,2.3 1.1,2.8 .1,3 -1,2.5 -1.4,1.8 -1.9,.3 -2.1,-1.9 -1.1,-3.3 .7,-2.7 2.3,-1.9 2.7,.2 2.7,2.2 1.6,3.9 -.3,4.8 -2.2,4 -3.6,1.5 -3.3,-.9 -2.3,-2.7 -1,-3.2 1,-2.7 2.5,-.8 2.3,.8 2.1,2.3 1.4,3.8 -.3,4.1 -1.2,2.2 -2.6,1.2 -3.1,-.7 -1.8,-2.5 0,-3.5 2.4,-3.1 3.8,-1.6 4.5,1.1 3.2,3.4 1.3,4.4 -.9,4.6 -3.2,3 -3.6,.3 -2.5,-1.4 -1.6,-2.9 .2,-3.2 1.6,-1.9 2.9,-.7 2.4,.9 2.2,2.2 1.3,2.9 .2,3.6 -1.2,2.7 -1.7,1.5 -2.2,.2 -2.4,-1.8 -1.2,-2.7 .4,-3.6 1.8,-1.8 2.6,0 2.7,1.8 2,4.1 .3,4 -1.3,3.9 -2.4,2.4 -3.6,.2 -2.8,-1.5 -1.5,-3.3 .8,-2.9 2.1,-2.4 3,-.6 2.6,1.1 2.2,3.2 .1,4.4 -1.8,3.4 -3,2.4 -2.9,.8 -2.5,-.5 -2.1,-2.5 -.5,-2.7 .3,-2.3 1.5,-1.1 1.7,.7 2.2,2.5 1.1,3.8 -.5,4.2 -1.7,2.8 -2.3,.7 -2,-1.2 -1.4,-2.3 -.3,-2.2 1,-2.4 2.4,-1.2 2.3,.7 1.6,1.9 1.1,2.6 -.3,3.2 -1.3,2.3 -1.3,1.4 -3.1,-.2 -2.1,-1.8 -.9,-2.5 .8,-3 2,-1.8 2.9,-.6" fill="none" stroke="#f8a368" stroke-width="1.06" stroke-linejoin="round"/>
<path d="M1939.6,1120.6 l -2.4,-1.3 -1.5,-2.5 .1,-2.7 .9,-1.8 1.7,-.6 1.9,1.5 1.4,3.1 .1,3.1 -1,2.7 -1.6,2.1 -2.8,.5 -2.1,-1 -.9,-1.7 .3,-2.1 2.1,-1.4 2.7,.1 2.4,1.1 2,2.5 .6,3 -1,2.9 -2.1,2.1 -2.4,.4 -1.9,-.6 -.8,-1.2 -.1,-2.1 1.3,-1.5 2.4,-.7 2.5,.9 2.3,1.7 1.2,2.8 -.2,2.9 -1.5,2 -1.8,.7 -.6,-.5 -.7,-1.4 .1,-1.6 1.1,-1.4 1.9,-.3 2.4,1.2 2,2.3 1,2.7 -.1,2.8 -.9,1.8 -1.4,.3 -1.1,-.7 -.6,-2.2 .3,-1.8 1.1,-1.4 1.9,-.1 2.3,1.1 1.6,2.2 .6,3.3 -.7,2.9 -1.5,1.8 -2.5,.2 -1.9,-1.2 -.6,-1.6 .8,-1.4 1.6,-.9 1.7,.5 1.8,1.5 1.1,2.5 .1,2.4 -1.4,2.4 -2.1,1.3 -2.1,.7 -2,-.2 -1.2,-1.9 .4,-2.1 1.7,-1 2.3,-.2 2.6,1.6 1.9,2.8 .3,3.6 -1.2,2.7 -2.3,1.7 -2.8,-.1 -1.6,-1.5 -.7,-2.4 .9,-2.3 2.5,-1.3 3,.1 2.8,1.7 1.9,3.8 -.2,3.6 -1.7,2.7 -3,1.7 -1.7,-.5 -.8,-1.9 .4,-2.4 1.5,-2.4 2.3,-.9 2.5,.2 2.4,1.8 1.3,2.6 0,3 -1.1,2.6 -1.4,1 -1.5,.3 -.9,-1.2 -.6,-2 .5,-2.4 1.7,-1.5 2.1,-.2 2.4,1.6 1.5,2.4 .7,3.5 -.6,3.1 -1.7,2.7 -2.1,.7 -2.9,-.8 -1.7,-2.3 .1,-2.6 1.4,-1.3 1.9,-.3 2.1,.7 1.9,1.9 1.1,3 -.3,2.8 -1.6,2.6 -2.2,1.4 -1.7,-.4 -1.3,-1.2 -.6,-2.1 .8,-1.8 1.6,-.5 1.9,.7 1.4,2.1 .6,2.9 -.7,3 -1.8,2.5 -2.2,1.1 -3.4,.2 -2.3,-1.4 -.7,-2 .7,-1.8 2.1,-1.1 2.5,.4 2.2,1.7 1.3,2.7 -.3,2.7 -1.9,2.5 -2.7,.8 -2.1,-1 -1.5,-2.1" fill="none" stroke="#f8a368" stroke-width="0.98" stroke-linejoin="round"/>
<path d="M1868.5,1128.6 l -.8,-3.2 .4,-2.8 1.6,-2 2.2,-.4 2.6,1.5 1.5,3 .2,3.6 -1.5,3.4 -2.3,1.7 -2.6,.1 -2.6,-2 -.2,-3.1 .3,-2.9 1.7,-1.4 2.6,.4 2,2.5 .9,3.7 -.1,4.1 -1.4,3 -1.8,1 -2.2,-.7 -1.5,-1.8 -1.1,-2.4 .2,-2.8 1.6,-1.7 2.6,-.1 2.7,1.8 2.3,3.4 .9,4.3 -.7,3.9 -2,2.3 -2.2,.2 -2.1,-2.1 -1.8,-2.9 .2,-4.2 2.2,-2.6 2.6,-.4 2.4,1.5 1.6,3.2 .3,4.9 -1.6,4.5 -2.7,2.4 -3.4,.6 -3.4,-2 -.9,-3.6 .6,-3 2,-1.8 2.4,0 2.3,1.8 1.6,2.5 .4,3.5 -.9,2.9 -2,1.9 -1.9,.7 -1.5,-.7 -.7,-2.3 .2,-2.7 1.3,-2.7 2,-.9 2.7,1 2.1,2.6 1.1,3.8 .1,3.8 -1.5,3.8 -1.8,1.4 -2.1,-.5 -2.1,-2.6 -.5,-3.3 1.1,-3.8 2.6,-2.2 3.1,.5 2.6,2.3 1.9,3.8 .4,4.2 -.7,3.6 -2,2.9 -2.9,0 -1.7,-1.8 -4,-3 1.5,-3.2 3.9,-2.4 3.4,-.3 3.3,1.4 2.8,3.1 .4,3.6 -1.3,3.4 -3,2 -3.4,.4 -2.5,-1.5 -1.5,-2.4 .9,-3 2.3,-2 3.2,-.8 4,1.4 2.9,3.6 .6,3.8 -1.5,3.6 -3.3,2.6 -4.1,.3 -1.2,-2.9 -.7,-2.6 .7,-2.3 2.1,-1.6 2.3,0 2.3,1.5 2.1,2.6 1.1,3 -.7,2.5 -1.8,1.2 -1.9,.4 -1.7,-.9 -1,-1.8 .5,-2.5 1.7,-1.8 2.6,-.4 2.6,1.3 1.7,2.5 .7,2.9 -.5,2.6 -1.9,2.1 -2.4,.3 -1.9,-1.5 -.9,-2.2 .6,-2.7 1.9,-1.6 3.3,.1 2.9,2.3 1.3,4.5 -.5,3.8 -2.6,4 -3.4,1.2 -2.3,-1.3 -1.5,-2.8 1.3,-3.6 2.9,-2.5 3.7,-.5 3.6,1.9 2,3.3 .5,3.5 -1.2,4.2 -2.7,2.7 -2.9,.5 -2.2,-1.5 -1.3,-2.9 -.9,-3.4 2.3,-2.2 3,-.2 3.5,1.4 2,2.8 .7,3.7 -1.3,3.5 -2.7,2.8 -3.4,1 -3.1,-.8 -2.4,-2 -.1,-2.7 1.4,-2.5 2.5,-1.4 3.2,.4 2.9,2.1 .9,3.8 -1,3.7 -2.3,2.5 -2.9,1.4 -2.9,-.3 -2.2,-1.5 0,-2.9 1.1,-2.1 2.4,-1.4 1.9,.3 2.1,2 1.1,3.1 -.6,3.6 -2,2.5 -3.2,1.4 -2.6,-.8 -1.3,-1.8 -.4,-2.1 1.1,-1.8 1.9,-1.2 2.5,.3 2,1.6 1.1,3 -.8,3.5 -2.5,3 -3.2,1.1 -3,-.4 -1.7,-1.8 -.6,-3.1 1.2,-2.6 2.8,-1.2 3.3,.7 2.2,2.2 1,3.4 -.9,3.9 -3,3 -3.8,1 -3.3,-1.1 -1.8,-2.6 1.4,-2.7 1.5,-3.2 2.2,-1.4 1.9,.3 1.4,2.2 -.1,3.1 -1.6,4.1 -2.4,2.8 -3.4,1.2 -3,-1.5" fill="none" stroke="#f8a368" stroke-width="1.06" stroke-linejoin="round"/>
<path d="M1874.5,1130.4 l -2,.2 -1.8,-1.2 -.9,-2.4 .2,-2.7 1.3,-2 2.1,-1.1 2.4,.7 2.4,2.3 1.2,3.2 -.2,2.9 -1.1,1.9 -1.7,.5 -2,-.5 -1.2,-1.8 .6,-2.1 2.1,-1.5 2.8,-.5 3,1.2 1.9,2.3 .6,2.9 -.5,2.9 -2,2.2 -2.1,1 -1.8,-.6 -1.1,-1.6 .2,-1.7 1.4,-1.9 2.6,-.4 2.1,.9 2.3,2.5 .8,3.3 -.5,2.8 -2,1.9 -2.3,1.3 -2.8,-.1 -1.9,-2 .1,-2.4 1.8,-2.2 2.8,-.4 3.1,1.3 2.3,2.8 1,3.5 -.5,3.8 -2.5,2.5 -3.6,1.3 -2.8,-.9 -1.5,-2.1 -.1,-2.9 1.7,-1.8 3.1,-.5 3.3,2 2,2.7 .9,3.4 -.3,3.2 -1.9,2.2 -3,.8 -2.4,-.7 -1.9,-2.2 -.8,-1.9 .3,-1.6 1.1,-.5 1,.6 1,2.3 .2,3 -.7,3.4 -1.8,2.4 -1.7,1 -2.3,-.3 -1.4,-1.3 -.7,-1.8 .2,-1.8 1.4,-1.2 2.1,.5 2.3,1.7 2.1,3.2 .8,3.3 -.7,2.4 -1.6,1.3 -1.8,-.1 -1.5,-1.2 -.9,-2 .4,-1.8 1.8,-.7 1.7,.4 1.7,1.5 1.6,2.8 .4,2.8 -.8,2.3 -1.7,1.3 -2.3,.6 -1.9,-.8 -1.1,-2 .5,-1.8 2.2,-.9 2.7,.5 2.4,2.1 1.4,2.5 .1,2.7 -1.3,2.3 -1.7,.4 -1.3,-.7 -.8,-1.9 .7,-2 1.8,-1.5 2.8,0 2.1,1.2 1.5,2.4 .2,2.8 -1.1,2.2 -2.3,1.3 -2.1,.5 -2.7,-1 -1.4,-1.9 .5,-2.1 2.5,-1.1 3.6,.6 2.8,2.6 1,3.4 -1,3.5 -2.6,2.4 -4,.8 -3.5,-1 -2.1,-2.1 -.3,-2.2 .5,-1.7 1.3,-1 1.6,.2 1.3,1.7 .9,2.6 -.7,3.1 -1.9,2.2 -2.6,1.5 -2.4,-.2 -1.1,-1.6 0,-2.2 1.3,-1.9 2.7,-1 2.9,.8 1.7,2.1 .5,3 -1,3.9 -2.6,2.8 -2.8,.3 -2.8,-1 -1.4,-2.2 .2,-1.6 1.5,-1.3 1.9,-.2 2.2,1.1 1.2,2.5 .2,2.3 -.8,2.2 -1.8,1.8 -2.4,.9 -1.9,-.2 -.9,-1.3 0,-2 1.2,-1.5 2.8,-.8 3.2,1 2.6,2.7 1.5,3.2 .4,3.4 -1.4,3.3 -2,1.6 -2.2,-.2 -1,-1.3 .1,-2.5 1.7,-2.2 2.5,-1.5 2.7,-.1 2.3,1 1.7,2.4" fill="none" stroke="#f8a368" stroke-width="0.98" stroke-linejoin="round"/>
<path d="M1737,1236.9 l 3,-1.5 3.3,.4 3,1.7 1.7,2.7 -.5,2.4 -2.4,1.8 -3.4,.2 -3,-1.6 -1.5,-2.7 .7,-3 2.1,-2.1 3.4,-1.1 4.2,.5 3.1,1.8 1.4,3 -.6,2.6 -2.2,1.8 -2.8,.4 -3,-1.2 -1.7,-2.2 -.4,-3 1.8,-2.2 3.1,-1.4 3.9,-.2 3.4,1.2 2.4,2.5 .3,2.3 -1.5,1.6 -2.5,.8 -2.7,-.5 -2.2,-1.6 -.4,-1.9 1.2,-2.5 2.7,-1.7 4.4,-.1 4.2,2.4 2.6,4.1 0,4.6 -2.3,3.2 -3.6,1.1 -3.4,-.9 -2.2,-2.5 -.1,-3.5 2.9,-2.7 3.5,-.5 3.4,.8 2.7,2.1 2.2,3.2 .2,3.7 -1.1,2.7 -2.3,1.9 -2.5,-.5 -1.6,-1.7 -.5,-2.3 .7,-2.3 2,-2.1 3.5,-.5 3.4,.5 2.6,1.9 1,2.5 -.7,2.5 -2,1.5 -3.2,.2 -2.6,-1.5 -1.7,-2.8 .7,-3.2 2.9,-2.6 4.1,-1 3.9,.7 2.8,2 1.8,3.2 -.8,3.2 -2.2,2.1 -3,.5 -3.2,-1.2 -1.8,-2.6 .3,-2.9 2.6,-3.2 4,-1.6 4.2,.8 3.1,2.5 1.6,3.8 -.6,3 -2.5,2.2 -2.4,.2 -2.7,-1.8 -1.4,-3.2 .8,-3.2 2.1,-2.2 3.7,-1.7 4.2,-.1 3.3,1.9 1.8,3 -.4,3.5 -2.7,2 -3.3,0 -2.7,-1.7 -1.5,-3 -.2,-3.7 1.5,-3.3 3.6,-2.7 4.3,-1 3.9,1 2.5,3 -.1,3.3 -2.1,3.1 -3.8,1.5 -4,-.8 -2,-2.6 -.3,-3.3 2,-2.4 3.6,-1.6 5.1,-.1 4.5,1.9 2.2,3.1 -.1,2.9 -2.3,2.4 -3.9,1.1 -3,-.4 -2.4,-1.9 -.5,-2.4 1.4,-4.2 3.5,-2.7 5.1,-.5 4.6,2 3,3.9 .4,4.5 -2.3,3.5 -3.4,1.4 -4.3,-1 -3,-3.5 -.4,-3.8 3,-3.1 4.5,-1.7 4.2,0 3.2,1.5 1.4,2 -.5,2.2 -1.6,1.7 -1.9,.4 -2.1,-.5 -1,-1.6 .5,-1.8 1.1,-3.3 2.7,-2.1 3.6,-.6 3.6,1.2 2.2,2.9 .4,3.5 -1.5,2.5 -3.3,1 -4,-1.4 -2.3,-3.4 -.1,-4.6 2.6,-3.9 3.5,-1.5 4.1,.4 3,2.1 1.5,3 -.1,3.1 -1.5,1.7 -2.3,.4 -2.4,-1.3 -1.5,-2.6 .2,-2.9 1.5,-2.1 2.6,-1.5 2.9,-.5 2.9,1.2 1.9,2.1 -.5,2.8 -2.1,2 -3.3,.6 -2.6,-.8 -1.6,-1.9 -.4,-2.4 1,-2.5" fill="none" stroke="#f8a368" stroke-width="1.06" stroke-linejoin="round"/>
<path d="M1743.2,1243.8 l -2.6,-.2 -2.4,-1.4 -.8,-2 .5,-2.4 2.1,-1.9 3.2,-.7 3.5,.6 2.2,1.9 .6,2.1 -1.2,1.3 -2.1,-.2 -2.4,-1.5 -.8,-2.4 .3,-2.8 2,-2.4 3.3,-.8 3.4,.8 2.3,1.7 1.4,2.7 -.4,2.3 -1.8,1 -2.3,1.2 -2.2,-1.2 -1,-2.2 .7,-2.4 2.2,-1.6 2.7,-.8 3.8,.7 2.6,2.1 1.4,3.2 0,3.2 -1.9,2 -2.8,.8 -2.1,-1.4 -.8,-2.5 .4,-3.4 1.7,-3.2 3.3,-1.9 3.3,.2 2.5,1.4 1.6,2.6 -.1,2.8 -1.1,2 -1.9,1.5 -1.9,-.4 -1.5,-2.4 0,-3.5 1.9,-3.4 2.7,-1.6 3.2,-.1 2.9,1.3 2.6,2.6 .7,2.8 -.8,3.3 -2.2,.2 -2.6,-.2 -1.8,-1.3 -.7,-1.5 .8,-2.1 2.4,-1.8 3.1,-.3 3.5,.7 2.8,1.6 1.1,2.1 -.4,2.3 -1.8,1 -2.5,0 -2,-1.2 -.8,-2 .5,-2.7 2,-1.3 3.9,-.8 3.3,.6 2.2,1.2 1.2,2.3 -.7,2.3 -1.8,.7 -2.5,.1 -2.3,-1.3 -.4,-1.9 1.5,-2.3 2.8,-1.6 3.6,0 3.3,.7 1.9,1.6 .7,2.5 -1.2,1.8 -2,2.9 -2,-.2 -1.5,-1.6 -.6,-2.2 1,-2.3 2.7,-1.8 3.5,-.3 3.5,1.6 1.7,2.5 .7,2.6 -.9,2.2 -1.6,.6 -1.9,-.6 -1.6,-1.6 -.3,-2.5 1.2,-2.1 2.3,-2.1 2.5,-1 2.2,-.2 2,1 .8,1.6 -.3,1.4 -1.2,1.2 -2.1,.2 -1.6,-1 -.6,-2.3 .7,-2.5 2.2,-2.4 3.3,-.9 2.6,.7 2.4,1.9 1.3,2.6 -.1,3 -1.4,1.9 -2.2,.8 -1.4,-.6 -.8,-2.2 .7,-2.6 2.4,-2.3 2.8,-1 3.1,.7 2.6,1.7 .9,2.3 -.6,2.1 -1.4,1.3 -2.4,.2 -2.5,-1.7 -.7,-2.8 .8,-3.1 2.2,-2.5 3.8,-1.4 4,.7 1.9,1.8 .5,2.5 -1,2.6 -2.7,1.7 -3.1,-.2" fill="none" stroke="#f8a368" stroke-width="0.98" stroke-linejoin="round"/>
<path d="M1771.4,1214.4 l -.2,-2.5 1.3,-2.6 3,-1.8 3,-.3 2.7,1.1 1.7,2.1 .2,2.5 -1.5,3 -3,1.5 -2.7,0 -2.2,-1.2 -.5,-2.1 1.9,-2.3 2.7,-1.3 3.8,-.7 2.5,.4 2,1 .7,1.8 -.9,1.5 -1.9,1.2 -1.9,.5 -1.8,-.6 -1.2,-1.5 .5,-2.6 2.2,-2.6 4.2,-1.4 4.2,.9 3,2.4 .8,3.6 -1.9,3.3 -2.9,1.9 -3.6,-.2 -2.4,-1.7 -.7,-3.1 1.4,-4.4 2.9,-3.7 4.1,-1.5 4.4,1 3.4,2.8 1.4,3.6 -.4,3.6 -2.9,3.3 -4,.3 -3.7,-2.2 -1.7,-3.9 .9,-3.3 3.3,-2.9 4.7,-1.4 4.4,.6 2.8,2.2 1,2.6 -1.1,3.1 -2.8,1.4 -3.4,.4 -2.9,-1.2 -1.3,-2.6 .3,-3.8 2.3,-3.2 3.6,-2.2 4.4,-.3 3.2,1.3 1.8,2.7 -.2,3.5 -2.3,2.4 -3,.5 -3.3,-1.1 -2.4,-3.2 .2,-4.4 2.6,-3.7 3.4,-1.4 3.6,.6 3.1,2.4 1.2,3.4 -.3,2.7 -1.9,2.1 -2,.6 -2,-.7 -1.3,-1.6 0,-2.3 2,-2.9 3.5,-1.7 4.2,.2 3.1,1.3 2,3.2 -.1,3.8 -2.5,3 -3.5,.9 -3.8,-1.1 -2.2,-3.2 .9,-2.9 3,-2.9 3.4,-1 4.3,.1 2.7,1 .7,1.7 -.6,1.8 -2.4,1.7 -2.1,.4 -2,-.4 -1,-1.6 .2,-2.3 1.8,-2 3.2,-1.4 3,-.1 2.6,.5 1.7,1.7 0,1.9 -1.1,1.5 -2.4,1 -2.4,-.3 -1.2,-1.6 -.4,-1.7 1.2,-2.8 2.9,-2.3 3.7,-.9 3.6,.9 2.2,2.2 .8,3.3 -1.8,3.1 -3.8,1.4 -3.4,-.5 -3,-2.5 -.4,-3.9 2.3,-3.4 3.7,-2.2 4,-.8 2.9,.5 2.1,2.2 -.1,2.2 -1.4,2 -2.5,1.4 -3.3,-.4 -2.4,-2.3 -.8,-2.9 1.5,-3.4 3.3,-2.7 4.3,-1.4 3.5,.2 2.4,1.7 .4,2.6 -1.9,2.1 -3.9,1 -3.9,-.5 -2.4,-2.2 .2,-3.7 2.6,-3.8 3.8,-1.5 4.6,.7 4.2,3.3 1.9,4.1 -.4,4.2 -2.4,2.9 -3.2,.9 -2.8,-1.4 -1.6,-3.1 .6,-2.9 2.5,-2 3.2,-1.4 3.8,-.5 3,.8 1.4,1.3 .1,1.4 -1.3,1 -2.6,.5 -2.5,-.6 -1.4,-1.3 -.2,-2 1.4,-2.2 2.7,-1.8 4.3,-.6 3.6,1.1 2.4,2.8 -.2,3.2 -1.8,1.9 -3,.8 -3.5,-.6 -2.1,-2 -.3,-2.9 2,-3.7 3.1,-2 3.9,-.4 3.4,1.3 2,2.3 .7,3.1 -.8,2.9 -1.9,1.7 -2.8,.2 -2.5,-1.2 -1.2,-2.6 .2,-3.1 2.6,-2.5 4,-.9 3.5,.6 2.5,1.4 1.2,2.3 -.5,2.2 -2.4,1.7 -2.9,.3 -2.3,-.9 -.9,-2.3 .9,-2.9 2.6,-2.5 3.5,-.9 3.5,.5 3.1,2.1 1.1,2.3 -.6,2.7 -1.9,1.2 -2.7,-.2 -2.5,-1.7 -.8,-2.5 .5,-3.3 3.3,-2.6 3.5,-1 4,.3 2.8,1.8 1.2,2.7 -.9,1.9 -2.9,1.7 -3.4,.7 -2.9,-1 -1.6,-2.2 .2,-3.2 2.4,-2.4 4.7,-1.3 4.5,.5 3.7,2.1 2.1,3.3 -.4,2.9 -2.5,1.9 -3.4,.4 -3.8,-1.9 -2.2,-2.9 .7,-2.8 2.8,-2.7 4.1,-.6 4.3,1.5 2.5,2.8 .8,3.3 -1.2,2.7 -2.4,1.6 -2.8,-.2 -2.1,-2.3 -.3,-2.2 1.1,-2 2.3,-.5 2.7,.7 2.6,1.4 2.1,2.1 .8,2.4 -.6,1.7 -1.9,.7 -2.1,.1 -2.1,-.8 -1.2,-1.2 .1,-.9 1.7,-1.4 2.7,-.3 2.5,.8 2.1,2.3 .9,3.2 -.5,3.3 -1.7,2 -2.4,1 -2.3,-.4 -1,-1.8 .1,-2.1 1,-2.1 2.2,-.4 3,.6 3.3,2.1 2.3,2.7 .9,2.3 -1.2,2.1 -2.6,.5 -3.4,-1.1 -2.7,-2.4 -1.2,-3 1,-2.2 2.3,-.9 4.3,.4 3.8,1.9 2.8,3.4 .3,3 -1.5,2.2 -3.3,1.1 -3.8,-.8 -3.6,-2.1" fill="none" stroke="#f8a368" stroke-width="1.06" stroke-linejoin="round"/>
<path d="M1772.8,1210.8 l 1.5,-2 2.7,-1.1 2.6,.2 1.5,1.5 0,1.9 -1.2,2.1 -1.6,1 -2.1,.2 -1.5,-1 -.9,-2 .6,-2.3 2.4,-1.5 3,-1.3 3,-.3 2.1,.4 1,1 -.3,1.5 -2,1 -2.1,.1 -1.7,-.9 -.4,-1.4 .9,-2 2.1,-3.3 3.1,-1.1 2.8,.4 2,1.6 1.4,2.6 -.3,2.3 -1.4,1.3 -1.8,.2 -1.4,-.8 -.7,-1.4 .4,-1.6 2.1,-2.7 3.4,-1 3.5,1 2.4,2.5 1.3,2.9 -.2,3.2 -1.5,2.2 -2.1,.5 -1.7,-1.2 -.9,-2.3 .9,-3 2.5,-.8 3.6,-1.2 3.6,.4 3,2.3 .6,2.4 -1.1,2.1 -2.8,1.2 -3,-.8 -1.7,-2 -.5,-2.6 1.6,-3.7 3.1,-2.4 3.6,-.9 2.5,.6 1.8,1.5 .1,1.6 -.9,1.4 -1.7,.8 -1.9,-.9 -1.3,-1.4 -.3,-2.3 1,-2.3 2,-1.8 2.8,-.9 2.6,.6 1.9,1.4 .3,1.5 -1,1.4 -2.1,0 -1.7,-1.3 -.8,-2.1 .1,-2.5 1.6,-2 2.7,-1.6 2.9,-.1 2,.9 1.1,1.4 -.2,1.7 -1.5,1.3 -2.1,.2 -1.2,-.7 -.7,-1.8 .9,-2.4 2.2,-1.9 2.2,-1 2.2,.1 1.6,.7 1.1,1.9 -.3,1.9 -1.1,1.2 -2,.1 -1.3,-.8 -.8,-1.7 .4,-2 1.8,-.7 2.8,-.7 2.7,.1 2.2,.8 .9,1.2 .1,1.4 -1.1,1 -1.3,.3 -1.1,-.5 -.4,-1.1 .7,-1.2 1.6,-2 2.8,-1 2.9,0 2.1,.8 .7,1.3 -.7,1.8 -2.3,.9 -2.1,.1 -1.8,-1.1 -.4,-1.9 .7,-2.3 2.5,-.8 3.2,-.7 2.8,0 2.4,1 1.4,1.8 -.1,1.9 -1.4,1.6 -1.7,.5 -1.7,-.3 -.6,-.8 .9,-1.7 1.1,-3.1 2.7,-1.3 3.1,.1 3.1,2 1.7,2.7 0,3.4 -1.8,2.8 -2.2,.9 -2.4,-1.5 -1.1,-2.5 .5,-3.9 2.4,-1.5 3.5,-1.3 4,.4 2.6,1.7 1.4,2.3 .2,2.3 -1.6,1.8 -2.7,.9 -2.6,-.7 -1.5,-2.1 .3,-2.3 2.3,-2.5 3.7,-1.2 3.8,.7 2.9,2 1.5,2.6 -.1,2.8 -1.3,2.1 -2.5,.9 -2.3,-.5 -1.7,-1.6 .3,-2.6 2.1,-2.6 3.2,-1.4 3.1,-.1 2.4,1.2 1.6,2.2 .1,1.8 -1.2,1.1 -1.8,0 -1.6,-1.2 -.6,-1.7 .8,-2.6 1.5,-2.3 2.8,-1 3.1,.3 2,1.8 1.2,2.6 -.3,2.1 -1.3,1.5 -1.7,.2 -1.1,-.8 -.4,-1.7 .6,-1.8 1.6,-.4 2.3,-.3 3.1,.6 2.4,1.2 1.1,1.8 -.6,1.8 -1.9,.9 -1.8,0 -1.8,-1.1 -.4,-1.9 1.5,-2 2.9,-1.2 3.7,.5 2.4,1.4 1.5,2.4 .2,2.1 -1.1,1.4 -1.8,.5 -2.1,-.7 -.6,-1.4 .5,-1.8 1.7,-.5 2,0 2.5,1.1 2.2,2.3 .8,2.7 -.5,2.1 -1.6,1.1 -2,-.3 -1.7,-1.3 -.2,-1.4 .7,-1.4 2.2,-.4 2.6,.8 2.1,1.5 1.2,2.7 .2,2.5 -.6,1.8 -1.6,.7 -1.4,-.2 -.8,-1.2 -.4,-2.2 1,-2.2 1.7,-.8 2,.4" fill="none" stroke="#f8a368" stroke-width="0.98" stroke-linejoin="round"/>
<path d="M1783.4,1193.4 l 2.5,1.8 1.8,3.2 .1,2.9 -1.5,2.5 -2.1,.5 -2.6,-1.2 -1.8,-2.9 -.3,-3 1.1,-2.7 2.6,-1 2.8,1 1.4,3.2 .8,3.9 -.5,3.1 -1.5,2.6 -2,.5 -2,-1 -1.4,-1.6 -.6,-2 .7,-1.6 1.5,-.4 2.2,1.1 1.8,2 .8,2.8 0,3.2 -1.2,2.1 -2.3,.8 -1.9,-.6 -1.1,-1.4 -.4,-2.2 .8,-1.4 1.7,-.8 2,.8 2.9,1.5 1,2.9 -.1,3.2 -1.7,2.5 -2.4,1.8 -3.4,.1 -2.5,-1 -1.3,-1.9 .9,-2.4 3,-1.7 3.2,.4 1,2.4 1.3,3.3 .4,3 -.4,2.2 -1.2,.8 -1.6,-.5 -1.7,-1.9 -.6,-2.6 .6,-1.9 1.5,-1.1 2.3,.5 2.8,1.4 2.1,2.8 1.1,3.1 -.5,3.2 -1.8,1.2 -1.8,-.6 -1.6,-1.8 -.7,-3.1 .8,-2.9 2.4,-1.5 3.3,.7 5.1,1.6 2.2,3.3 .1,3.9 -2.2,3.5 -3.1,1.5 -3.2,-.4 -2.3,-2.5 -.6,-3.7 1.7,-3.2 3.8,-2.5 4.8,0 3.7,2.4 1.6,3.7 -.3,4.4 -2.3,3.3 -3.2,1.5 -2.8,-.6 -1.7,-1.9 -.3,-2.8 1.2,-2.1 2.1,-1.2 3.2,-.1 2.9,1.3 1.5,2.5 -.2,3.8 -1.7,3.1 -3,2.4 -3.3,.3 -3,-1.4 -1.3,-2.3 .7,-2.4 1.9,-1.9 3.5,-.4 2.5,1.6 1.7,3.1 0,3.6 -1.6,3.6 -2.8,2 -3.2,.8 -3.1,-1.1 -1.7,-2.2 .1,-2.3 2.4,-2.2 3.1,-.8 2.9,1.7 1.9,2.4 1.1,3.3 -.1,2.2 -1.1,1.4 -1.3,.1 -1.2,-1.2 -.6,-2.6 .4,-2.4 1.7,-2 2.6,-.9 2.6,.1 2.7,1.7 1.6,2.2" fill="none" stroke="#f8a368" stroke-width="1.06" stroke-linejoin="round"/>
<path d="M1782.1,1194.5 l 2.3,1.2 1.2,2.3 .3,2.3 -1.2,2.4 -1.9,.8 -1.6,-.6 -1.2,-1.5 -.1,-2.5 1.4,-2.2 2.5,-1.1 1.9,.1 2.4,1.4 1.7,2.5 .8,3.3 -.3,3.3 -1.4,1.4 -1.8,0 -1.4,-1.5 -.6,-2.5 .8,-3 1.8,-1.3 2.4,-.2 3,1.5 1.3,2.9 .3,3.5 -1.2,3.1 -1.8,1.9 -2.2,.3 -1.8,-1.3 -1,-1.6 0,-2.4 .9,-.7 1.6,0 2,1 1.7,2.5 .3,3 -.7,3.4 -1.8,1.8 -2.2,.6 -1.9,-.6 -1.2,-1.2 -.5,-1.8 1.2,-1.3 1.9,-.3 2.7,.8 1.6,1.8 1.1,2.7 0,3.2 -1.2,2.3 -1.8,1 -1.6,-.8 -.9,-1.9 .4,-2.3 1.5,-1.8 2.4,-.5 3,1.2 1.6,2.3 .5,3.1 -.8,2.3 -1.8,1.9 -2,.9 -2.3,-.3 -1.2,-.9 0,-2.1 1.1,-1.3 2.2,-.4 1.6,.6 1.7,2 .6,2.5 -.2,2.9 -1.3,2.3 -1.8,.7 -1.5,-.4 -1.2,-1.4 -.5,-1.5 .4,-1.3 1.3,-.1 1.4,.6 1.4,2.2 1,3.2 -.2,3.4 -1,1.9 -1.1,.3 -1.5,-.4 -1.1,-1.3 -.2,-1.8 .6,-1.4 1.3,-.2 1.6,.5 2.4,1.4 1.4,2.5 .4,3.5 -.5,2.4 -1.5,1.3 -1.9,.1 -1.5,-1.9 -.6,-2.2 1,-2.1 2.3,-1.3 2.5,.6 2.2,1.4 1.4,2.1 .7,2.4 -.3,1.6 -1.2,.5" fill="none" stroke="#f8a368" stroke-width="0.98" stroke-linejoin="round"/>
<path d="M1835.7,1273.7 l 3.1,-2.1 3.6,-.2 2.7,1.4 1,2.4 -1,2.9 -2.2,1.8 -3.6,.9 -3.3,-.8 -1.6,-2.3 .1,-3.4 2.3,-3 3.2,-1.7 4.2,-.4 2.8,1.1 1.4,2.4 -.8,2.5 -2.1,1.7 -2.9,.4 -2.6,-.8 -1.8,-2.1 -.2,-3.4 1.3,-4 2.7,-2.2 3.4,-.4 2.8,1.1 1.8,2.5 .3,2.8 -1,2.3 -2.1,1.1 -2.6,-.3 -1.6,-1.5 -.2,-2.5 .8,-2.5 2.8,-1.7 3.7,-1.6 3.1,-.1 1.9,1.2 .5,2.7 -1.5,3 -2.9,1.6 -3.4,.1 -2.2,-1.9 -.5,-3 1.5,-3.9 2.1,-3.6 4.2,-1.2 4,.9 2.1,2.1 .8,2.9 -.6,3 -2.3,1.9 -2.6,0 -2.4,-1.8 -1.4,-2.9 .4,-3.6 2.6,-1.9 3.3,-1.8 3.4,-.2 1.8,1.1 .5,1.7 -.8,2.1 -2,1.2 -2.8,.4 -2.6,-.9 -1.8,-2.4 0,-2.9 1.1,-2.7 2.7,-2.8 3.6,-1.3 3.5,.7 2,2.7 -.3,3.4 -2,2.3 -2.8,1.2 -2.7,-.4 -2,-2.5 -.3,-3.9 2.3,-3.2 3.7,-2.9 4.1,-.7 3.2,1.4 1.1,3.2 -1.2,3.2 -2.8,2.2 -3,.5 -2.6,-1.2 -1.1,-2.6 .5,-3.6 1.9,-3.8 3.3,-2.1 3.7,-.4 3.1,1.1 1.9,2.5 .6,3 -1.7,3.1 -2.8,1.5 -2.8,-.6 -1.7,-2.2 -.5,-3.9 1.7,-3.5 2.4,-2.5 3.5,-1.2 3,.7 2.4,1.8 .6,2.5 -1.2,2.6 -2.4,1.7 -3,.2 -2.2,-1.8 -.4,-2.8 .9,-3 3.8,-1.9 4,-1.7 3.3,.3 2.2,2 .4,2.8 -1.4,2.7 -1.9,1.7 -2.6,.5 -1.3,-1.5 .2,-2.5 1.8,-2.6 2.9,-1.9 3.5,-1.2 3,.5 2.1,1.7 .7,2.5 -.8,2.8 -2.6,1.4 -2.3,.1 -2,-1.3 -.3,-2.6 .8,-3 2.5,-2.4 3.2,-1.9 3.4,-.1 2.1,1.9 .2,2.6 -1.7,2.5 -3.1,1.5 -3.6,.1 -2.6,-1.8 -.6,-3.8 .2,-4.4 2.6,-3.2 4,-1.9 3.7,.8 2.5,2.9 .5,2.8 -1.6,3.4 -2.6,1.6 -2.9,-.8 -1.9,-2.3 -.1,-3.1 1.2,-3.1 3.2,-2.4 3.9,-.7 3.5,1.2 1.9,2.1 .8,2.4 -.6,2.4 -1.7,1.5 -2.7,-.6 -2.3,-2.2 -1.2,-3.1 1.1,-2.6 2,-2.9 3.3,-2.2 3.2,-.2 2.8,1.7 1.2,3.4 -.9,3.2 -2.6,1.9 -3.2,0 -3.2,-2.2 -1.4,-3.2 .8,-4.3 2.2,-3.2 3.1,-2.1 3.6,-.3 2.8,1.8 .5,2.7 -1.2,2.6 -2.4,1.7 -2.8,.2 -2.5,-1.5 -1.1,-2.7 .6,-3.7 3.4,-2.3 3,-1.5 2.7,.3 1.6,1.6 .3,2.4 -1,3 -1.6,2.5" fill="none" stroke="#f8a368" stroke-width="1.06" stroke-linejoin="round"/>
<path d="M1838.1,1272.5 l 2.2,-1 2.2,.2 1.1,1.6 -.7,1.9 -1.8,1.2 -2.4,.2 -2.2,-1.1 -1.8,-2.1 -.6,-2.8 1.5,-2.8 2.5,-1.8 3.6,-.5 2.9,1.1 2.2,2.1 .3,2.5 -1,2.1 -2,1.2 -2.1,-.2 -.6,-1.2 .9,-2.3 2,-1.5 2.6,-1.4 4.1,.7 3.7,1.8 2.4,2.9 .1,3 -1.1,2.1 -2.3,.9 -2,-.8 -1.1,-2.5 -.3,-3.2 1.7,-2.9 2.8,-1.6 2.7,-.2 2.4,1.3 1.2,1.7 -.4,1.6 -1.6,.9 -1.8,-.5 -1.4,-1.8 -1.1,-2.6 .3,-2.7 1.6,-2.6 1.7,-1.4 1.7,-.4 1.8,.6 .6,1.3 -.3,1.5 -1.1,1.2 -1.4,.4 -1.5,-.7 -.6,-1.5 .4,-2.4 1.6,-2 3,-1.2 2.1,-.7 1.7,-.1 1,1.2 -.3,1.7 -1,1.5 -1.7,.7 -1.9,-.2 -1,-1.1 0,-2.4 1.2,-2.4 1.7,-3.1 3.2,-1.1 2.7,.3 1.8,1.4 .4,2.1 -1,1.8 -2.2,.8 -2,-.4 -2.1,-1.8 -.8,-2.9 .8,-3.1 2.9,-1.4 2.7,-1.4 2.3,.2 1.5,1 .7,1.9 -.9,1.9 -1.6,1.1 -1.7,-.2 -1.2,-1.1 -.1,-1.9 .9,-2.2 .7,-3.2 2.8,-1.3 3.1,0 2.9,2 1.3,2.5 -.4,2.4 -1.5,1.1 -2.4,.1 -2.6,-1.5 -1.5,-2.7 -.3,-3.3 1.2,-3.2 3.5,-1.9 3,-.3 2.3,.9 1.3,1.7 .1,2.6 -1.5,1.9 -2.1,.6 -2.3,-.6 -1.1,-2 -.3,-2.8 1.2,-3.2 2.8,-2.1 3,-1.1 2,.3 1.1,1.7 -.6,2.1 -2,1.6 -2.4,.2 -2.2,-1.1 -1.8,-2.5 -.3,-2.8 1.7,-3.2 4,-1.1 3.1,-.6 2.1,.8 .9,2 -.1,2.3 -.5,1.5 -.9,1.1 -.7,.3 .1,-1 .6,-1.6 1.4,-1.7 1.5,-2.2 2.8,-.9 2.9,.6 2.3,1.8 .6,2.4 -.2,2.2 -1.5,1.5 -2.2,0 -1.8,-2.3 .1,-3.5 1.7,-3.5 2.7,-2.1 2.4,-.6 1.7,.5 .9,1.4 0,1.8 -1,1.8 -1.5,.6 -1.5,-.5 -.8,-1.7 .3,-2.5 1.5,-2.3 1.9,-2 2.6,-1.3 1.8,-.1 1.1,1.6 -.4,2.1 -1.3,1.9 -2.1,1.1 -2,-.6 -1.2,-2.2 .3,-2.8 .9,-3.7 2.7,-.8 2.4,.4 1.7,1.3" fill="none" stroke="#f8a368" stroke-width="0.98" stroke-linejoin="round"/>
<path d="M1896.9,1223.6 l -1,-2.4 .6,-2.3 2,-1.8 3.2,-.8 3.2,.8 2.3,2 .9,2.4 -.3,2.5 -1.9,1.8 -3.1,.4 -2.7,-1.4 -1.2,-1.8 .4,-3.3 2,-2.7 3.2,-1.5 3,.1 2.8,1.4 1.5,2.1 .1,2.6 -1.2,1.5 -1.7,.4 -1.8,-.5 -1.8,-2.3 -.6,-2 1.4,-1.9 2.7,-.9 4.2,.5 3.3,1.5 2.5,2.9 .5,3.1 -1.3,2.3 -2.5,1.5 -3.7,.2 -2.4,-1.3 -.6,-2 1.8,-1.8 3.5,-.7 3.7,.7 3.3,1.7 2.6,2.9 .3,2.7 -1.5,2.4 -2.6,.8 -3.3,-.7 -2.5,-1.8 -.9,-2.3 1.3,-3.6 2.4,-2.9 4.2,-1.4 4,1.1 2.7,2.5 1,3.3 -.9,2.8 -2.4,1.9 -3.1,.2 -2.3,-1.8 -.9,-3.5 .6,-3 2.1,-2.3 3.9,-1.5 3.8,.3 3.2,2.1 1.3,2.6 -.3,2.4 -1.9,1.7 -2.8,.2 -2.4,-1 -1.3,-2.8 .1,-3 2.1,-3 3.6,-2 3.2,-.2 2.8,1.1 1.5,1.5 .4,1.7 -.7,1.6 -1.8,.5 -1.6,-1.2 -1.1,-1.6 -.5,-2 1.7,-2.4 2.6,-1.2 4.4,.3 3.1,1.8 2.4,4.1 -.6,3.6 -2.1,2.2 -3.6,.6 -3,-1.5 -1.6,-2.8 .8,-3.8 2.9,-2.8 4.1,-1.2 4.9,1.3 3.1,3.2 1.1,4.8 -1.6,4.3 -2.8,2.6 -3.6,.6 -3.5,-1.4 -1.9,-3.3 1.3,-3.8 2.6,-1.4 3.1,.3 3.4,1.5 2.5,2.8 .9,3.2 -.8,2.3 -2.1,1.4 -2.7,.1 -1.9,-.7 -1.9,-.7 .5,-2.3 1.9,-1.3 3,-.1 3.3,1.3 1.8,2.3 .6,2.9 -1.1,2.4 -2.9,1.7 -3.7,-.1 -3.1,-2" fill="none" stroke="#f8a368" stroke-width="1.06" stroke-linejoin="round"/>
<path d="M1903.4,1224.7 l -2.7,.2 -2.4,-1.3 -1,-2.4 .5,-2 1.8,-1.6 3.1,-.6 3.1,.5 2,1.4 1.1,2.3 -.7,2 -1.4,1.3 -2.4,-.2 -2.1,-1.8 -.6,-2.7 1.8,-2.4 3.1,-1.3 3.9,.4 3.4,2 2,2.9 0,2.6 -1.4,1.7 -2.3,.9 -2.3,-.7 -1.5,-2.2 .4,-2.8 2.2,-3 2.8,-1.7 3.3,-.1 3,1.6 1.7,2.2 .2,2.3 -1.6,1.9 -1.9,.1 -1.7,-.9 -.6,-2 .3,-2.3 1.7,-2 2.5,-1.2 2.8,0 2.1,1 1.4,1.7 -.2,1.7 -1.1,1 -1.4,0 -1.6,-.6 -.9,-1.2 .1,-2.2 1.1,-1.6 2.2,-.8 2.9,.1 2.9,1.1 1.8,1.8 .5,2 -.4,1.7 -2,1.6 -2.4,0 -1.6,-1.5 -.2,-3.1 1.8,-3.2 2.8,-1.9 3.7,.2 2.9,1.6 2.4,3.6 .2,3.3 -1,2.7 -2.3,-.4 -2.2,-.3 -1.5,-1.2 -.4,-1.8 1.2,-1.7 2.1,-1.1 2.7,.1 2.6,1.1 2.1,2.1 .3,2.1 -.8,1.4 -1.7,1.5 -2.1,-.3 -1.4,-1.7 .2,-2.4 1.4,-1.7 3,-.9 3.4,.9 2.5,2.6 1.1,4 -.8,3.5 -2.4,1.9 -2.8,.5 -2,-1.4 -.7,-2.7 1.5,-2.7 2.8,-2.2 3.2,-.2 3.1,1.2 2.1,2.6 .6,3.5 -1,3.4 -2.5,1.9 -2.5,.2 -2,-1.4 -.6,-2 .8,-2.6 2.1,-2 2.5,-.2 2.4,1.1 1.7,2.9 -.1,3.2" fill="none" stroke="#f8a368" stroke-width="0.98" stroke-linejoin="round"/>
<path d="M1824.8,1268.3 l .1,3 -1.2,3.3 -2.6,2.1 -2.8,.2 -2.4,-1.5 -1.1,-3.1 .8,-4.1 2.2,-3.3 2.7,-1.7 2,.3 1.6,2.4 -.1,2.6 -1.8,2.2 -2.8,.6 -2.9,-1.1 -2.4,-2.3 -1.2,-3.5 .2,-3.3 1.9,-1.9 2.6,-.3 2.3,.5 1,1 .2,2 -.9,2.1 -1.9,1.8 -1.9,.1 -1.4,-1.5 -.2,-2.5" fill="none" stroke="#f8a368" stroke-width="1.06" stroke-linejoin="round"/>
<path d="M1819.3,1275.5 l -2,-.7 -1.1,-1.9 .2,-2.2 1.3,-2 2.2,-1.9 3,-.8 2.1,.7 1.4,1.9 .4,2.5 -.9,1.9 -1.7,.8 -1.3,-.6 -1.3,-1.6 -.1,-2.7 .9,-2.7 1.7,-1.9 2.2,-.7 1.9,.5 1.3,1.6 .3,1.5 -.8,1.3 -1,.8 -1.4,0 -.5,-.8 -.1,-1.4 .2,-2.1 1,-1.4" fill="none" stroke="#f8a368" stroke-width="0.98" stroke-linejoin="round"/></g>
<path d="M513.0,336.0 C575.0,326.0 640.0,295.0 670.0,255.0" fill="none" stroke="#222" stroke-width="4.2" stroke-linecap="round"/>
<line x1="670.0" y1="255.0" x2="623.0" y2="274.3" stroke="#222" stroke-width="3.4" stroke-linecap="round"/>
<polygon points="665.6,253.8 658.9,287.3 663.7,288.5 674.4,256.2" fill="#222" stroke="#222" stroke-width="1.5" stroke-linejoin="round"/>
<path d="M1184.0,563.0 C1246.0,553.0 1311.0,522.0 1341.0,482.0" fill="none" stroke="#222" stroke-width="4.2" stroke-linecap="round"/>
<line x1="1341.0" y1="482.0" x2="1294.0" y2="501.3" stroke="#222" stroke-width="3.4" stroke-linecap="round"/>
<polygon points="1336.6,480.8 1329.9,514.3 1334.7,515.5 1345.4,483.2" fill="#222" stroke="#222" stroke-width="1.5" stroke-linejoin="round"/>
<path d="M496.0,841.0 C560.0,845.0 620.0,880.0 651.0,922.0" fill="none" stroke="#222" stroke-width="4.2" stroke-linecap="round"/>
<line x1="651.0" y1="922.0" x2="605.0" y2="902.0" stroke="#222" stroke-width="3.4" stroke-linecap="round"/>
<polygon points="655.4,921.3 648.1,889.2 643.1,890.0 646.6,922.7" fill="#222" stroke="#222" stroke-width="1.5" stroke-linejoin="round"/>
<path d="M1105.5,1265.3 C1160.0,1280.0 1230.0,1270.0 1280.0,1238.0" fill="none" stroke="#222" stroke-width="4.2" stroke-linecap="round"/>
<line x1="1280.0" y1="1238.0" x2="1229.0" y2="1242.6" stroke="#222" stroke-width="3.4" stroke-linecap="round"/>
<polygon points="1276.2,1235.6 1258.6,1266.4 1262.8,1269.2 1283.8,1240.4" fill="#222" stroke="#222" stroke-width="1.5" stroke-linejoin="round"/>
<line x1="371.0" y1="589.0" x2="371.0" y2="786.0" stroke="#111" stroke-width="3"/>
<line x1="371.0" y1="786.0" x2="378.0" y2="771.6" stroke="#111" stroke-width="3" stroke-linecap="round"/>
<line x1="371.0" y1="786.0" x2="364.0" y2="771.6" stroke="#111" stroke-width="3" stroke-linecap="round"/>
<line x1="506.7" y1="400.4" x2="899.0" y2="503.8" stroke="#111" stroke-width="3"/>
<line x1="899.0" y1="503.8" x2="886.9" y2="493.4" stroke="#111" stroke-width="3" stroke-linecap="round"/>
<line x1="899.0" y1="503.8" x2="883.3" y2="506.9" stroke="#111" stroke-width="3" stroke-linecap="round"/>
<line x1="494.0" y1="1004.6" x2="813.3" y2="1188.9" stroke="#111" stroke-width="3"/>
<line x1="813.3" y1="1188.9" x2="804.4" y2="1175.6" stroke="#111" stroke-width="3" stroke-linecap="round"/>
<line x1="813.3" y1="1188.9" x2="797.3" y2="1187.8" stroke="#111" stroke-width="3" stroke-linecap="round"/>
<text x="136.0" y="279.0" font-family="'Liberation Sans', Arial, sans-serif" font-size="34.0" fill="#1a1a1a" textLength="226.0" lengthAdjust="spacingAndGlyphs">agglomerates</text>
<text x="801.0" y="414.0" font-family="'Liberation Sans', Arial, sans-serif" font-size="34.0" fill="#1a1a1a" textLength="226.0" lengthAdjust="spacingAndGlyphs">agglomerates</text>
<text x="26.0" y="778.0" font-family="'Liberation Sans', Arial, sans-serif" font-size="34.0" fill="#1a1a1a" textLength="308.0" lengthAdjust="spacingAndGlyphs">free-floating grains</text>
<text x="921.0" y="1141.0" font-family="'Liberation Sans', Arial, sans-serif" font-size="34.0" fill="#1a1a1a" textLength="309.0" lengthAdjust="spacingAndGlyphs">free-floating grains</text>
<text transform="translate(473,441) rotate(14.8)" font-family="'Liberation Sans', Arial, sans-serif" font-size="43" fill="#1a1a1a" textLength="418" lengthAdjust="spacingAndGlyphs">temperature (500°C)</text>
<text transform="translate(476.5,956) rotate(30)" font-family="'Liberation Sans', Arial, sans-serif" font-size="43" fill="#1a1a1a" textLength="419" lengthAdjust="spacingAndGlyphs">temperature (500°C)</text>
<rect x="158.5" y="462.0" width="236.3" height="103.0" fill="none" stroke="#808080" stroke-width="1.8" stroke-dasharray="6 3.4"/>
<text x="175.6" y="501.5" font-family="'Liberation Sans', Arial, sans-serif" font-size="33.0" fill="#1a1a1a">d</text>
<text x="197.6" y="511.5" font-family="'Liberation Sans', Arial, sans-serif" font-size="23.0" fill="#1a1a1a">h</text>
<text x="212.1" y="501.5" font-family="'Liberation Sans', Arial, sans-serif" font-size="33.0" fill="#1a1a1a" textLength="164.0" lengthAdjust="spacingAndGlyphs">=2200 nm</text>
<text x="168.6" y="548.5" font-family="'Liberation Sans', Arial, sans-serif" font-size="33.0" fill="#1a1a1a">d</text>
<text x="190.4" y="558.0" font-family="'Liberation Sans', Arial, sans-serif" font-size="20.0" fill="#1a1a1a" textLength="46.5" lengthAdjust="spacingAndGlyphs">SEM</text>
<text x="240.1" y="548.5" font-family="'Liberation Sans', Arial, sans-serif" font-size="33.0" fill="#1a1a1a" textLength="143.0" lengthAdjust="spacingAndGlyphs">=236 nm</text>
<rect x="540.0" y="79.0" width="222.0" height="57.0" fill="none" stroke="#808080" stroke-width="1.8" stroke-dasharray="6 3.4"/>
<text x="550.0" y="118.0" font-family="'Liberation Sans', Arial, sans-serif" font-size="33.0" fill="#1a1a1a">d</text>
<text x="572.0" y="128.0" font-family="'Liberation Sans', Arial, sans-serif" font-size="23.0" fill="#1a1a1a">h</text>
<text x="586.5" y="118.0" font-family="'Liberation Sans', Arial, sans-serif" font-size="33.0" fill="#1a1a1a" textLength="164.0" lengthAdjust="spacingAndGlyphs">=1500 nm</text>
<rect x="965.0" y="79.0" width="221.0" height="57.0" fill="none" stroke="#808080" stroke-width="1.8" stroke-dasharray="6 3.4"/>
<text x="974.5" y="118.0" font-family="'Liberation Sans', Arial, sans-serif" font-size="33.0" fill="#1a1a1a">d</text>
<text x="996.5" y="128.0" font-family="'Liberation Sans', Arial, sans-serif" font-size="23.0" fill="#1a1a1a">h</text>
<text x="1011.0" y="118.0" font-family="'Liberation Sans', Arial, sans-serif" font-size="33.0" fill="#1a1a1a" textLength="164.0" lengthAdjust="spacingAndGlyphs">=1620 nm</text>
<rect x="1272.0" y="293.0" width="221.0" height="55.0" fill="none" stroke="#808080" stroke-width="1.8" stroke-dasharray="6 3.4"/>
<text x="1281.5" y="332.0" font-family="'Liberation Sans', Arial, sans-serif" font-size="33.0" fill="#1a1a1a">d</text>
<text x="1303.5" y="342.0" font-family="'Liberation Sans', Arial, sans-serif" font-size="23.0" fill="#1a1a1a">h</text>
<text x="1318.0" y="332.0" font-family="'Liberation Sans', Arial, sans-serif" font-size="33.0" fill="#1a1a1a" textLength="164.0" lengthAdjust="spacingAndGlyphs">=1650 nm</text>
<rect x="1628.0" y="293.0" width="222.0" height="58.0" fill="none" stroke="#808080" stroke-width="1.8" stroke-dasharray="6 3.4"/>
<text x="1638.0" y="332.0" font-family="'Liberation Sans', Arial, sans-serif" font-size="33.0" fill="#1a1a1a">d</text>
<text x="1660.0" y="342.0" font-family="'Liberation Sans', Arial, sans-serif" font-size="23.0" fill="#1a1a1a">h</text>
<text x="1674.5" y="332.0" font-family="'Liberation Sans', Arial, sans-serif" font-size="33.0" fill="#1a1a1a" textLength="164.0" lengthAdjust="spacingAndGlyphs">=2810 nm</text>
<rect x="930.0" y="593.0" width="236.0" height="104.0" fill="none" stroke="#808080" stroke-width="1.8" stroke-dasharray="6 3.4"/>
<text x="947.0" y="632.5" font-family="'Liberation Sans', Arial, sans-serif" font-size="33.0" fill="#1a1a1a">d</text>
<text x="969.0" y="642.5" font-family="'Liberation Sans', Arial, sans-serif" font-size="23.0" fill="#1a1a1a">h</text>
<text x="983.5" y="632.5" font-family="'Liberation Sans', Arial, sans-serif" font-size="33.0" fill="#1a1a1a" textLength="164.0" lengthAdjust="spacingAndGlyphs">=3630 nm</text>
<text x="940.0" y="679.5" font-family="'Liberation Sans', Arial, sans-serif" font-size="33.0" fill="#1a1a1a">d</text>
<text x="961.8" y="689.0" font-family="'Liberation Sans', Arial, sans-serif" font-size="20.0" fill="#1a1a1a" textLength="46.5" lengthAdjust="spacingAndGlyphs">SEM</text>
<text x="1011.5" y="679.5" font-family="'Liberation Sans', Arial, sans-serif" font-size="33.0" fill="#1a1a1a" textLength="143.0" lengthAdjust="spacingAndGlyphs">=236 nm</text>
<rect x="212.0" y="984.0" width="257.0" height="102.0" fill="none" stroke="#808080" stroke-width="1.8" stroke-dasharray="6 3.4"/>
<text x="239.5" y="1023.5" font-family="'Liberation Sans', Arial, sans-serif" font-size="33.0" fill="#1a1a1a">d</text>
<text x="261.5" y="1033.5" font-family="'Liberation Sans', Arial, sans-serif" font-size="23.0" fill="#1a1a1a">h</text>
<text x="276.0" y="1023.5" font-family="'Liberation Sans', Arial, sans-serif" font-size="33.0" fill="#1a1a1a" textLength="164.0" lengthAdjust="spacingAndGlyphs">=1070 nm</text>
<text x="222.0" y="1070.5" font-family="'Liberation Sans', Arial, sans-serif" font-size="33.0" fill="#1a1a1a">d</text>
<text x="243.8" y="1080.0" font-family="'Liberation Sans', Arial, sans-serif" font-size="20.0" fill="#1a1a1a" textLength="46.5" lengthAdjust="spacingAndGlyphs">SEM</text>
<text x="293.5" y="1070.5" font-family="'Liberation Sans', Arial, sans-serif" font-size="33.0" fill="#1a1a1a" textLength="164.0" lengthAdjust="spacingAndGlyphs">=1255 nm</text>
<rect x="787.0" y="752.0" width="220.0" height="57.0" fill="none" stroke="#808080" stroke-width="1.8" stroke-dasharray="6 3.4"/>
<text x="796.0" y="791.0" font-family="'Liberation Sans', Arial, sans-serif" font-size="33.0" fill="#1a1a1a">d</text>
<text x="818.0" y="801.0" font-family="'Liberation Sans', Arial, sans-serif" font-size="23.0" fill="#1a1a1a">h</text>
<text x="832.5" y="791.0" font-family="'Liberation Sans', Arial, sans-serif" font-size="33.0" fill="#1a1a1a" textLength="164.0" lengthAdjust="spacingAndGlyphs">=1450 nm</text>
<rect x="1213.0" y="754.0" width="222.0" height="57.0" fill="none" stroke="#808080" stroke-width="1.8" stroke-dasharray="6 3.4"/>
<text x="1223.0" y="793.0" font-family="'Liberation Sans', Arial, sans-serif" font-size="33.0" fill="#1a1a1a">d</text>
<text x="1245.0" y="803.0" font-family="'Liberation Sans', Arial, sans-serif" font-size="23.0" fill="#1a1a1a">h</text>
<text x="1259.5" y="793.0" font-family="'Liberation Sans', Arial, sans-serif" font-size="33.0" fill="#1a1a1a" textLength="164.0" lengthAdjust="spacingAndGlyphs">=2070 nm</text>
<rect x="666.0" y="1297.0" width="258.0" height="103.0" fill="none" stroke="#808080" stroke-width="1.8" stroke-dasharray="6 3.4"/>
<text x="694.0" y="1336.5" font-family="'Liberation Sans', Arial, sans-serif" font-size="33.0" fill="#1a1a1a">d</text>
<text x="716.0" y="1346.5" font-family="'Liberation Sans', Arial, sans-serif" font-size="23.0" fill="#1a1a1a">h</text>
<text x="730.5" y="1336.5" font-family="'Liberation Sans', Arial, sans-serif" font-size="33.0" fill="#1a1a1a" textLength="164.0" lengthAdjust="spacingAndGlyphs">=1270 nm</text>
<text x="676.5" y="1383.5" font-family="'Liberation Sans', Arial, sans-serif" font-size="33.0" fill="#1a1a1a">d</text>
<text x="698.3" y="1393.0" font-family="'Liberation Sans', Arial, sans-serif" font-size="20.0" fill="#1a1a1a" textLength="46.5" lengthAdjust="spacingAndGlyphs">SEM</text>
<text x="748.0" y="1383.5" font-family="'Liberation Sans', Arial, sans-serif" font-size="33.0" fill="#1a1a1a" textLength="164.0" lengthAdjust="spacingAndGlyphs">=1255 nm</text>
<rect x="1458.0" y="1063.0" width="222.0" height="56.0" fill="none" stroke="#808080" stroke-width="1.8" stroke-dasharray="6 3.4"/>
<text x="1468.0" y="1102.0" font-family="'Liberation Sans', Arial, sans-serif" font-size="33.0" fill="#1a1a1a">d</text>
<text x="1490.0" y="1112.0" font-family="'Liberation Sans', Arial, sans-serif" font-size="23.0" fill="#1a1a1a">h</text>
<text x="1504.5" y="1102.0" font-family="'Liberation Sans', Arial, sans-serif" font-size="33.0" fill="#1a1a1a" textLength="164.0" lengthAdjust="spacingAndGlyphs">=1290 nm</text>
<rect x="1909.0" y="1055.0" width="223.0" height="58.0" fill="none" stroke="#808080" stroke-width="1.8" stroke-dasharray="6 3.4"/>
<text x="1919.5" y="1094.0" font-family="'Liberation Sans', Arial, sans-serif" font-size="33.0" fill="#1a1a1a">d</text>
<text x="1941.5" y="1104.0" font-family="'Liberation Sans', Arial, sans-serif" font-size="23.0" fill="#1a1a1a">h</text>
<text x="1956.0" y="1094.0" font-family="'Liberation Sans', Arial, sans-serif" font-size="33.0" fill="#1a1a1a" textLength="164.0" lengthAdjust="spacingAndGlyphs">=2930 nm</text>
<clipPath id="clipb"><rect x="347.6" y="1497.4" width="724.2" height="1282.9"/></clipPath>
<rect x="542.3" y="1547" width="21.8" height="1220.7" fill="#bbc2fb"/>
<rect x="690.5" y="1547" width="21.8" height="1220.7" fill="#f8e6c2"/>
<text transform="translate(498.4,2729) rotate(-90)" font-family="'Liberation Sans', Arial, sans-serif" font-size="67">MB</text>
<text transform="translate(657.6,2732) rotate(-90)" font-family="'Liberation Sans', Arial, sans-serif" font-size="67">MO</text>
<path d="M438.0,1975.0 C440.3,1976.7 447.0,1980.2 452.0,1985.0 C457.0,1989.8 461.0,1996.0 468.0,2004.0 C475.0,2012.0 486.0,2025.3 494.0,2033.0 C502.0,2040.7 509.2,2045.2 516.0,2050.0 C522.8,2054.8 528.7,2058.5 535.0,2062.0 C541.3,2065.5 547.5,2067.8 554.0,2071.0 C560.5,2074.2 567.0,2077.7 574.0,2081.0 C581.0,2084.3 589.2,2086.2 596.0,2091.0 C602.8,2095.8 606.5,2102.7 615.0,2110.0 C623.5,2117.3 635.2,2124.8 647.0,2135.0 C658.8,2145.2 674.8,2160.3 686.0,2171.0 C697.2,2181.7 706.5,2191.5 714.0,2199.0 C721.5,2206.5 723.0,2207.2 731.0,2216.0 C739.0,2224.8 751.5,2240.3 762.0,2252.0 C772.5,2263.7 784.0,2275.5 794.0,2286.0 C804.0,2296.5 812.0,2304.2 822.0,2315.0 C832.0,2325.8 844.0,2339.5 854.0,2351.0 C864.0,2362.5 874.7,2375.7 882.0,2384.0 C889.3,2392.3 892.8,2395.3 898.0,2401.0 C903.2,2406.7 908.5,2412.7 913.0,2418.0 C917.5,2423.3 919.7,2426.8 925.0,2433.0 C930.3,2439.2 939.0,2448.8 945.0,2455.0 C951.0,2461.2 954.3,2462.5 961.0,2470.0 C967.7,2477.5 978.2,2490.8 985.0,2500.0 C991.8,2509.2 995.8,2518.3 1002.0,2525.0 C1008.2,2531.7 1014.8,2535.8 1022.0,2540.0 C1029.2,2544.2 1036.2,2547.3 1045.0,2550.0 C1053.8,2552.7 1070.0,2555.0 1075.0,2556.0" fill="none" stroke="#1dd38b" stroke-width="3" stroke-dasharray="9 11" clip-path="url(#clipb)"/>
<path d="M455.0,1752.0 C457.5,1756.7 464.7,1770.5 470.0,1780.0 C475.3,1789.5 478.8,1796.7 487.0,1809.0 C495.2,1821.3 508.5,1838.5 519.0,1854.0 C529.5,1869.5 543.2,1891.0 550.0,1902.0 C556.8,1913.0 556.3,1913.5 560.0,1920.0 C563.7,1926.5 568.2,1934.3 572.0,1941.0 C575.8,1947.7 579.3,1953.5 583.0,1960.0 C586.7,1966.5 590.5,1973.5 594.0,1980.0 C597.5,1986.5 599.3,1990.7 604.0,1999.0 C608.7,2007.3 616.3,2018.5 622.0,2030.0 C627.7,2041.5 633.7,2059.0 638.0,2068.0 C642.3,2077.0 643.8,2074.8 648.0,2084.0 C652.2,2093.2 657.7,2111.2 663.0,2123.0 C668.3,2134.8 673.5,2145.8 680.0,2155.0 C686.5,2164.2 693.8,2168.7 702.0,2178.0 C710.2,2187.3 719.7,2199.5 729.0,2211.0 C738.3,2222.5 748.3,2235.0 758.0,2247.0 C767.7,2259.0 777.5,2271.3 787.0,2283.0 C796.5,2294.7 805.5,2305.7 815.0,2317.0 C824.5,2328.3 834.0,2339.8 844.0,2351.0 C854.0,2362.2 867.5,2375.3 875.0,2384.0 C882.5,2392.7 884.0,2396.8 889.0,2403.0 C894.0,2409.2 900.2,2415.3 905.0,2421.0 C909.8,2426.7 912.2,2430.2 918.0,2437.0 C923.8,2443.8 933.0,2454.0 940.0,2462.0 C947.0,2470.0 950.8,2475.3 960.0,2485.0 C969.2,2494.7 985.0,2511.3 995.0,2520.0 C1005.0,2528.7 1011.7,2531.7 1020.0,2537.0 C1028.3,2542.3 1035.8,2547.8 1045.0,2552.0 C1054.2,2556.2 1070.0,2560.3 1075.0,2562.0" fill="none" stroke="#f83c40" stroke-width="3" stroke-dasharray="9 11" clip-path="url(#clipb)"/>
<path d="M412.0,1805.0 C418.3,1805.2 437.3,1805.2 450.0,1806.0 C462.7,1806.8 476.0,1805.5 488.0,1810.0 C500.0,1814.5 513.0,1826.7 522.0,1833.0 C531.0,1839.3 535.5,1843.3 542.0,1848.0 C548.5,1852.7 554.8,1856.3 561.0,1861.0 C567.2,1865.7 573.0,1871.2 579.0,1876.0 C585.0,1880.8 591.3,1885.5 597.0,1890.0 C602.7,1894.5 606.8,1898.7 613.0,1903.0 C619.2,1907.3 627.3,1911.7 634.0,1916.0 C640.7,1920.3 645.3,1924.0 653.0,1929.0 C660.7,1934.0 670.8,1939.7 680.0,1946.0 C689.2,1952.3 701.0,1960.8 708.0,1967.0 C715.0,1973.2 717.3,1977.5 722.0,1983.0 C726.7,1988.5 731.7,1993.8 736.0,2000.0 C740.3,2006.2 743.8,2013.3 748.0,2020.0 C752.2,2026.7 756.8,2033.5 761.0,2040.0 C765.2,2046.5 769.2,2052.7 773.0,2059.0 C776.8,2065.3 780.2,2071.7 784.0,2078.0 C787.8,2084.3 792.2,2090.3 796.0,2097.0 C799.8,2103.7 803.3,2111.3 807.0,2118.0 C810.7,2124.7 814.2,2130.7 818.0,2137.0 C821.8,2143.3 826.3,2149.7 830.0,2156.0 C833.7,2162.3 836.5,2168.3 840.0,2175.0 C843.5,2181.7 847.3,2189.3 851.0,2196.0 C854.7,2202.7 858.2,2208.5 862.0,2215.0 C865.8,2221.5 870.2,2228.3 874.0,2235.0 C877.8,2241.7 881.2,2247.8 885.0,2255.0 C888.8,2262.2 892.8,2271.2 897.0,2278.0 C901.2,2284.8 906.0,2290.3 910.0,2296.0 C914.0,2301.7 917.3,2306.2 921.0,2312.0 C924.7,2317.8 927.2,2323.7 932.0,2331.0 C936.8,2338.3 942.7,2349.0 950.0,2356.0 C957.3,2363.0 967.7,2367.7 976.0,2373.0 C984.3,2378.3 991.0,2383.5 1000.0,2388.0 C1009.0,2392.5 1017.5,2396.3 1030.0,2400.0 C1042.5,2403.7 1067.5,2408.3 1075.0,2410.0" fill="none" stroke="#9b00cf" stroke-width="3" stroke-dasharray="9 11" clip-path="url(#clipb)"/>
<path d="M476.0,1790.0 C480.5,1791.8 493.7,1798.2 503.0,1801.0 C512.3,1803.8 520.8,1804.8 532.0,1807.0 C543.2,1809.2 561.0,1808.5 570.0,1814.0 C579.0,1819.5 581.0,1832.5 586.0,1840.0 C591.0,1847.5 594.2,1852.0 600.0,1859.0 C605.8,1866.0 615.0,1872.3 621.0,1882.0 C627.0,1891.7 631.5,1907.7 636.0,1917.0 C640.5,1926.3 644.0,1931.5 648.0,1938.0 C652.0,1944.5 656.2,1949.7 660.0,1956.0 C663.8,1962.3 667.3,1969.3 671.0,1976.0 C674.7,1982.7 678.2,1989.5 682.0,1996.0 C685.8,2002.5 690.2,2008.5 694.0,2015.0 C697.8,2021.5 701.3,2028.5 705.0,2035.0 C708.7,2041.5 712.5,2047.5 716.0,2054.0 C719.5,2060.5 722.3,2067.3 726.0,2074.0 C729.7,2080.7 734.3,2087.5 738.0,2094.0 C741.7,2100.5 744.3,2106.7 748.0,2113.0 C751.7,2119.3 756.2,2125.5 760.0,2132.0 C763.8,2138.5 767.3,2145.3 771.0,2152.0 C774.7,2158.7 778.5,2165.3 782.0,2172.0 C785.5,2178.7 788.5,2185.5 792.0,2192.0 C795.5,2198.5 799.3,2204.7 803.0,2211.0 C806.7,2217.3 810.3,2223.3 814.0,2230.0 C817.7,2236.7 821.2,2244.3 825.0,2251.0 C828.8,2257.7 833.2,2263.7 837.0,2270.0 C840.8,2276.3 844.5,2282.3 848.0,2289.0 C851.5,2295.7 854.5,2303.3 858.0,2310.0 C861.5,2316.7 865.2,2322.7 869.0,2329.0 C872.8,2335.3 877.2,2341.5 881.0,2348.0 C884.8,2354.5 888.2,2361.2 892.0,2368.0 C895.8,2374.8 900.3,2382.3 904.0,2389.0 C907.7,2395.7 910.7,2401.5 914.0,2408.0 C917.3,2414.5 920.2,2420.8 924.0,2428.0 C927.8,2435.2 931.3,2441.7 937.0,2451.0 C942.7,2460.3 952.5,2474.7 958.0,2484.0 C963.5,2493.3 965.5,2499.2 970.0,2507.0 C974.5,2514.8 980.0,2520.5 985.0,2531.0 C990.0,2541.5 995.8,2560.2 1000.0,2570.0 C1004.2,2579.8 1003.3,2585.0 1010.0,2590.0 C1016.7,2595.0 1029.2,2597.5 1040.0,2600.0 C1050.8,2602.5 1069.2,2604.2 1075.0,2605.0" fill="none" stroke="#e6ae30" stroke-width="3" stroke-dasharray="9 11" clip-path="url(#clipb)"/>
<path d="M400.0,1806.0 C406.7,1807.0 428.3,1810.8 440.0,1812.0 C451.7,1813.2 456.7,1812.5 470.0,1813.0 C483.3,1813.5 507.0,1814.7 520.0,1815.0 C533.0,1815.3 538.0,1814.5 548.0,1815.0 C558.0,1815.5 568.0,1815.8 580.0,1818.0 C592.0,1820.2 607.8,1824.8 620.0,1828.0 C632.2,1831.2 642.2,1833.8 653.0,1837.0 C663.8,1840.2 676.3,1843.8 685.0,1847.0 C693.7,1850.2 698.2,1852.5 705.0,1856.0 C711.8,1859.5 718.0,1864.0 726.0,1868.0 C734.0,1872.0 742.7,1873.8 753.0,1880.0 C763.3,1886.2 777.8,1896.0 788.0,1905.0 C798.2,1914.0 803.8,1921.8 814.0,1934.0 C824.2,1946.2 836.3,1964.7 849.0,1978.0 C861.7,1991.3 877.2,2002.0 890.0,2014.0 C902.8,2026.0 915.2,2038.7 926.0,2050.0 C936.8,2061.3 946.0,2072.8 955.0,2082.0 C964.0,2091.2 971.7,2097.0 980.0,2105.0 C988.3,2113.0 995.0,2121.2 1005.0,2130.0 C1015.0,2138.8 1030.8,2150.5 1040.0,2158.0 C1049.2,2165.5 1054.2,2170.3 1060.0,2175.0 C1065.8,2179.7 1072.5,2184.2 1075.0,2186.0" fill="none" stroke="#00a8ff" stroke-width="3" stroke-dasharray="9 11" clip-path="url(#clipb)"/>
<g clip-path="url(#clipb)"><rect x="419.5" y="1947.5" width="33.0" height="33.0" fill="none" stroke="#1dd38b" stroke-width="4.8"/>
<rect x="506.5" y="2055.5" width="33.0" height="33.0" fill="none" stroke="#1dd38b" stroke-width="4.8"/>
<rect x="579.5" y="2047.5" width="33.0" height="33.0" fill="none" stroke="#1dd38b" stroke-width="4.8"/>
<rect x="944.5" y="2452.5" width="33.0" height="33.0" fill="none" stroke="#1dd38b" stroke-width="4.8"/>
<rect x="985.5" y="2511.5" width="33.0" height="33.0" fill="none" stroke="#1dd38b" stroke-width="4.8"/>
<rect x="1005.5" y="2523.5" width="33.0" height="33.0" fill="none" stroke="#1dd38b" stroke-width="4.8"/>
<rect x="1040.5" y="2538.0" width="33.0" height="33.0" fill="none" stroke="#1dd38b" stroke-width="4.8"/>
<circle cx="422.0" cy="1757.0" r="18.6" fill="none" stroke="#f83c40" stroke-width="4.8"/>
<circle cx="453.0" cy="1734.0" r="18.6" fill="none" stroke="#f83c40" stroke-width="4.8"/>
<circle cx="629.0" cy="2036.0" r="18.6" fill="none" stroke="#f83c40" stroke-width="4.8"/>
<circle cx="671.0" cy="2152.0" r="18.6" fill="none" stroke="#f83c40" stroke-width="4.8"/>
<circle cx="956.6" cy="2481.5" r="18.6" fill="none" stroke="#f83c40" stroke-width="4.8"/>
<circle cx="992.7" cy="2517.6" r="18.6" fill="none" stroke="#f83c40" stroke-width="4.8"/>
<circle cx="1011.0" cy="2533.4" r="18.6" fill="none" stroke="#f83c40" stroke-width="4.8"/>
<circle cx="1042.0" cy="2552.8" r="18.6" fill="none" stroke="#f83c40" stroke-width="4.8"/>
<polygon points="471.0,1758.0 493.5,1797.0 448.5,1797.0" fill="none" stroke="#9b00cf" stroke-width="4.8" stroke-linejoin="miter" stroke-miterlimit="3"/>
<polygon points="667.5,1923.0 690.0,1962.0 645.0,1962.0" fill="none" stroke="#9b00cf" stroke-width="4.8" stroke-linejoin="miter" stroke-miterlimit="3"/>
<polygon points="714.3,1918.9 736.8,1957.9 691.8,1957.9" fill="none" stroke="#9b00cf" stroke-width="4.8" stroke-linejoin="miter" stroke-miterlimit="3"/>
<polygon points="897.4,2258.5 919.9,2297.5 874.9,2297.5" fill="none" stroke="#9b00cf" stroke-width="4.8" stroke-linejoin="miter" stroke-miterlimit="3"/>
<polygon points="949.5,2337.0 972.0,2376.0 927.0,2376.0" fill="none" stroke="#9b00cf" stroke-width="4.8" stroke-linejoin="miter" stroke-miterlimit="3"/>
<polygon points="976.5,2353.5 999.0,2392.5 954.0,2392.5" fill="none" stroke="#9b00cf" stroke-width="4.8" stroke-linejoin="miter" stroke-miterlimit="3"/>
<polygon points="995.3,2371.5 1017.8,2410.5 972.8,2410.5" fill="none" stroke="#9b00cf" stroke-width="4.8" stroke-linejoin="miter" stroke-miterlimit="3"/>
<polygon points="1010.3,2374.0 1032.8,2413.0 987.8,2413.0" fill="none" stroke="#9b00cf" stroke-width="4.8" stroke-linejoin="miter" stroke-miterlimit="3"/>
<polygon points="1052.5,2387.2 1075.0,2426.2 1030.0,2426.2" fill="none" stroke="#9b00cf" stroke-width="4.8" stroke-linejoin="miter" stroke-miterlimit="3"/>
<polygon points="378.8,1747.9 400.3,1771.4 378.8,1794.9 357.3,1771.4" fill="none" stroke="#e6ae30" stroke-width="4.8" stroke-linejoin="round"/>
<polygon points="424.3,1753.5 445.8,1777.0 424.3,1800.5 402.8,1777.0" fill="none" stroke="#e6ae30" stroke-width="4.8" stroke-linejoin="round"/>
<polygon points="442.3,1790.3 463.8,1813.8 442.3,1837.3 420.8,1813.8" fill="none" stroke="#e6ae30" stroke-width="4.8" stroke-linejoin="round"/>
<polygon points="476.9,1766.8 498.4,1790.3 476.9,1813.8 455.4,1790.3" fill="none" stroke="#e6ae30" stroke-width="4.8" stroke-linejoin="round"/>
<polygon points="570.8,1789.9 592.3,1813.4 570.8,1836.9 549.3,1813.4" fill="none" stroke="#e6ae30" stroke-width="4.8" stroke-linejoin="round"/>
<polygon points="621.3,1858.9 642.8,1882.4 621.3,1905.9 599.8,1882.4" fill="none" stroke="#e6ae30" stroke-width="4.8" stroke-linejoin="round"/>
<polygon points="937.2,2427.2 958.7,2450.7 937.2,2474.2 915.7,2450.7" fill="none" stroke="#e6ae30" stroke-width="4.8" stroke-linejoin="round"/>
<polygon points="985.3,2508.1 1006.8,2531.6 985.3,2555.1 963.8,2531.6" fill="none" stroke="#e6ae30" stroke-width="4.8" stroke-linejoin="round"/>
<polygon points="1005.0,2563.5 1026.5,2587.0 1005.0,2610.5 983.5,2587.0" fill="none" stroke="#e6ae30" stroke-width="4.8" stroke-linejoin="round"/>
<polygon points="1053.4,2575.9 1074.9,2599.4 1053.4,2622.9 1031.9,2599.4" fill="none" stroke="#e6ae30" stroke-width="4.8" stroke-linejoin="round"/>
<polygon points="394.4,1777.5 400.7,1790.3 414.8,1792.4 404.6,1802.3 407.0,1816.4 394.4,1809.8 381.8,1816.4 384.2,1802.3 374.0,1792.4 388.1,1790.3" fill="none" stroke="#00a8ff" stroke-width="5.2" stroke-linejoin="round"/>
<polygon points="502.4,1804.5 508.7,1817.3 522.8,1819.4 512.6,1829.3 515.0,1843.4 502.4,1836.8 489.8,1843.4 492.2,1829.3 482.0,1819.4 496.1,1817.3" fill="none" stroke="#00a8ff" stroke-width="5.2" stroke-linejoin="round"/>
<polygon points="579.4,1786.5 585.7,1799.3 599.8,1801.4 589.6,1811.3 592.0,1825.4 579.4,1818.8 566.8,1825.4 569.2,1811.3 559.0,1801.4 573.1,1799.3" fill="none" stroke="#00a8ff" stroke-width="5.2" stroke-linejoin="round"/>
<polygon points="607.0,1796.5 613.3,1809.3 627.4,1811.4 617.2,1821.3 619.6,1835.4 607.0,1828.8 594.4,1835.4 596.8,1821.3 586.6,1811.4 600.7,1809.3" fill="none" stroke="#00a8ff" stroke-width="5.2" stroke-linejoin="round"/>
<polygon points="653.3,1810.5 659.6,1823.3 673.7,1825.4 663.5,1835.3 665.9,1849.4 653.3,1842.8 640.7,1849.4 643.1,1835.3 632.9,1825.4 647.0,1823.3" fill="none" stroke="#00a8ff" stroke-width="5.2" stroke-linejoin="round"/>
<polygon points="782.0,1862.5 788.3,1875.3 802.4,1877.4 792.2,1887.3 794.6,1901.4 782.0,1894.8 769.4,1901.4 771.8,1887.3 761.6,1877.4 775.7,1875.3" fill="none" stroke="#00a8ff" stroke-width="5.2" stroke-linejoin="round"/>
<polygon points="975.0,2097.5 981.3,2110.3 995.4,2112.4 985.2,2122.3 987.6,2136.4 975.0,2129.8 962.4,2136.4 964.8,2122.3 954.6,2112.4 968.7,2110.3" fill="none" stroke="#00a8ff" stroke-width="5.2" stroke-linejoin="round"/></g>
<line x1="786.2" y1="1537.3" x2="826.3" y2="1537.3" stroke="#1dd38b" stroke-width="3" stroke-dasharray="11.5 12.4"/>
<line x1="872" y1="1537.3" x2="906.5" y2="1537.3" stroke="#1dd38b" stroke-width="3" stroke-dasharray="11.5 11"/>
<rect x="829.5" y="1520.8" width="33.0" height="33.0" fill="none" stroke="#1dd38b" stroke-width="4.8"/>
<text x="915.5" y="1553.1" font-family="'Liberation Sans', Arial, sans-serif" font-size="53">IC</text>
<line x1="786.2" y1="1600.3" x2="826.3" y2="1600.3" stroke="#f83c40" stroke-width="3" stroke-dasharray="11.5 12.4"/>
<line x1="872" y1="1600.3" x2="906.5" y2="1600.3" stroke="#f83c40" stroke-width="3" stroke-dasharray="11.5 11"/>
<circle cx="846.0" cy="1600.3" r="18.6" fill="none" stroke="#f83c40" stroke-width="4.8"/>
<text x="915.5" y="1616.1" font-family="'Liberation Sans', Arial, sans-serif" font-size="53">IC-HT</text>
<line x1="786.2" y1="1663.3" x2="826.3" y2="1663.3" stroke="#9b00cf" stroke-width="3" stroke-dasharray="11.5 12.4"/>
<line x1="872" y1="1663.3" x2="906.5" y2="1663.3" stroke="#9b00cf" stroke-width="3" stroke-dasharray="11.5 11"/>
<polygon points="846.0,1639.2 867.5,1676.4 824.5,1676.4" fill="none" stroke="#9b00cf" stroke-width="4.8" stroke-linejoin="miter" stroke-miterlimit="3"/>
<text x="915.5" y="1679.1" font-family="'Liberation Sans', Arial, sans-serif" font-size="53">ID</text>
<line x1="786.2" y1="1727.6" x2="826.3" y2="1727.6" stroke="#e6ae30" stroke-width="3" stroke-dasharray="11.5 12.4"/>
<line x1="872" y1="1727.6" x2="906.5" y2="1727.6" stroke="#e6ae30" stroke-width="3" stroke-dasharray="11.5 11"/>
<polygon points="846.0,1704.1 867.5,1727.6 846.0,1751.1 824.5,1727.6" fill="none" stroke="#e6ae30" stroke-width="4.8" stroke-linejoin="round"/>
<text x="915.5" y="1743.4" font-family="'Liberation Sans', Arial, sans-serif" font-size="53">ID-HT</text>
<line x1="786.2" y1="1789.7" x2="826.3" y2="1789.7" stroke="#00a8ff" stroke-width="3" stroke-dasharray="11.5 12.4"/>
<line x1="872" y1="1789.7" x2="906.5" y2="1789.7" stroke="#00a8ff" stroke-width="3" stroke-dasharray="11.5 11"/>
<polygon points="846.0,1768.2 852.3,1781.0 866.4,1783.1 856.2,1793.0 858.6,1807.1 846.0,1800.5 833.4,1807.1 835.8,1793.0 825.6,1783.1 839.7,1781.0" fill="none" stroke="#00a8ff" stroke-width="5.2" stroke-linejoin="round"/>
<text x="915.5" y="1805.5" font-family="'Liberation Sans', Arial, sans-serif" font-size="53">IK</text>
<line x1="322.6" y1="2780.2" x2="347.6" y2="2780.2" stroke="#000" stroke-width="3.6"/>
<text x="304.3" y="2797.7" font-family="'Liberation Sans', Arial, sans-serif" font-size="57" text-anchor="end" textLength="91.4" lengthAdjust="spacingAndGlyphs">−80</text>
<line x1="334.6" y1="2709.0" x2="347.6" y2="2709.0" stroke="#000" stroke-width="3.6"/>
<line x1="322.6" y1="2637.7" x2="347.6" y2="2637.7" stroke="#000" stroke-width="3.6"/>
<text x="304.3" y="2655.2" font-family="'Liberation Sans', Arial, sans-serif" font-size="57" text-anchor="end" textLength="91.4" lengthAdjust="spacingAndGlyphs">−60</text>
<line x1="334.6" y1="2566.4" x2="347.6" y2="2566.4" stroke="#000" stroke-width="3.6"/>
<line x1="322.6" y1="2495.1" x2="347.6" y2="2495.1" stroke="#000" stroke-width="3.6"/>
<text x="304.3" y="2512.6" font-family="'Liberation Sans', Arial, sans-serif" font-size="57" text-anchor="end" textLength="91.4" lengthAdjust="spacingAndGlyphs">−40</text>
<line x1="334.6" y1="2423.8" x2="347.6" y2="2423.8" stroke="#000" stroke-width="3.6"/>
<line x1="322.6" y1="2352.6" x2="347.6" y2="2352.6" stroke="#000" stroke-width="3.6"/>
<text x="304.3" y="2370.1" font-family="'Liberation Sans', Arial, sans-serif" font-size="57" text-anchor="end" textLength="91.4" lengthAdjust="spacingAndGlyphs">−20</text>
<line x1="334.6" y1="2281.3" x2="347.6" y2="2281.3" stroke="#000" stroke-width="3.6"/>
<line x1="322.6" y1="2210.0" x2="347.6" y2="2210.0" stroke="#000" stroke-width="3.6"/>
<text x="304.3" y="2227.5" font-family="'Liberation Sans', Arial, sans-serif" font-size="57" text-anchor="end" textLength="29.9" lengthAdjust="spacingAndGlyphs">0</text>
<line x1="334.6" y1="2138.7" x2="347.6" y2="2138.7" stroke="#000" stroke-width="3.6"/>
<line x1="322.6" y1="2067.4" x2="347.6" y2="2067.4" stroke="#000" stroke-width="3.6"/>
<text x="304.3" y="2084.9" font-family="'Liberation Sans', Arial, sans-serif" font-size="57" text-anchor="end" textLength="59.9" lengthAdjust="spacingAndGlyphs">20</text>
<line x1="334.6" y1="1996.2" x2="347.6" y2="1996.2" stroke="#000" stroke-width="3.6"/>
<line x1="322.6" y1="1924.9" x2="347.6" y2="1924.9" stroke="#000" stroke-width="3.6"/>
<text x="304.3" y="1942.4" font-family="'Liberation Sans', Arial, sans-serif" font-size="57" text-anchor="end" textLength="59.9" lengthAdjust="spacingAndGlyphs">40</text>
<line x1="334.6" y1="1853.6" x2="347.6" y2="1853.6" stroke="#000" stroke-width="3.6"/>
<line x1="322.6" y1="1782.3" x2="347.6" y2="1782.3" stroke="#000" stroke-width="3.6"/>
<text x="304.3" y="1799.8" font-family="'Liberation Sans', Arial, sans-serif" font-size="57" text-anchor="end" textLength="59.9" lengthAdjust="spacingAndGlyphs">60</text>
<line x1="334.6" y1="1711.0" x2="347.6" y2="1711.0" stroke="#000" stroke-width="3.6"/>
<line x1="322.6" y1="1639.8" x2="347.6" y2="1639.8" stroke="#000" stroke-width="3.6"/>
<text x="304.3" y="1657.3" font-family="'Liberation Sans', Arial, sans-serif" font-size="57" text-anchor="end" textLength="59.9" lengthAdjust="spacingAndGlyphs">80</text>
<line x1="334.6" y1="1568.5" x2="347.6" y2="1568.5" stroke="#000" stroke-width="3.6"/>
<line x1="322.6" y1="1497.2" x2="347.6" y2="1497.2" stroke="#000" stroke-width="3.6"/>
<text x="304.3" y="1514.7" font-family="'Liberation Sans', Arial, sans-serif" font-size="57" text-anchor="end" textLength="89.8" lengthAdjust="spacingAndGlyphs">100</text>
<line x1="348.0" y1="2780.3" x2="348.0" y2="2792.3" stroke="#000" stroke-width="3.6"/>
<line x1="438.4" y1="2780.3" x2="438.4" y2="2802.3" stroke="#000" stroke-width="3.6"/>
<text x="438.4" y="2866.3" font-family="'Liberation Sans', Arial, sans-serif" font-size="56" text-anchor="middle">4</text>
<line x1="528.7" y1="2780.3" x2="528.7" y2="2792.3" stroke="#000" stroke-width="3.6"/>
<line x1="619.0" y1="2780.3" x2="619.0" y2="2802.3" stroke="#000" stroke-width="3.6"/>
<text x="619.0" y="2866.3" font-family="'Liberation Sans', Arial, sans-serif" font-size="56" text-anchor="middle">6</text>
<line x1="709.4" y1="2780.3" x2="709.4" y2="2792.3" stroke="#000" stroke-width="3.6"/>
<line x1="799.8" y1="2780.3" x2="799.8" y2="2802.3" stroke="#000" stroke-width="3.6"/>
<text x="799.8" y="2866.3" font-family="'Liberation Sans', Arial, sans-serif" font-size="56" text-anchor="middle">8</text>
<line x1="890.1" y1="2780.3" x2="890.1" y2="2792.3" stroke="#000" stroke-width="3.6"/>
<line x1="980.4" y1="2780.3" x2="980.4" y2="2802.3" stroke="#000" stroke-width="3.6"/>
<text x="980.4" y="2866.3" font-family="'Liberation Sans', Arial, sans-serif" font-size="56" text-anchor="middle">10</text>
<line x1="1070.8" y1="2780.3" x2="1070.8" y2="2792.3" stroke="#000" stroke-width="3.6"/>
<rect x="347.6" y="1497.4" width="724.2" height="1282.9" fill="none" stroke="#000" stroke-width="3.8"/>
<text x="709.0" y="2969.0" font-family="'Liberation Sans', Arial, sans-serif" font-size="67" text-anchor="middle">pH (a.u.)</text>
<text transform="translate(184.7,2419) rotate(-90)" font-family="'Liberation Sans', Arial, sans-serif" font-size="67">zeta potential (mV)</text>
<rect x="60.7" y="1488.3" width="144.9" height="122.5" fill="none" stroke="#7f7f7f" stroke-width="1.6"/>
<text x="83" y="1575" font-family="'Liberation Sans', Arial, sans-serif" font-size="78" textLength="99" lengthAdjust="spacing">(b)</text>
<clipPath id="clipc"><rect x="1371.6" y="1503.3" width="724.6" height="1283.5"/></clipPath>
<rect x="1566.8" y="1554" width="21.8" height="1219" fill="#bbc2fb"/>
<rect x="1714.3" y="1554" width="21.7" height="1054" fill="#f8e6c2"/>
<rect x="1718.2" y="2607.5" width="17.8" height="166" fill="#f8e6c2"/>
<text transform="translate(1531,2745) rotate(-90)" font-family="'Liberation Sans', Arial, sans-serif" font-size="67">MB</text>
<text transform="translate(1689,2746) rotate(-90)" font-family="'Liberation Sans', Arial, sans-serif" font-size="67">MO</text>
<path d="M1466.0,1985.0 C1467.3,1983.5 1471.0,1980.3 1474.0,1976.0 C1477.0,1971.7 1480.7,1964.8 1484.0,1959.0 C1487.3,1953.2 1489.5,1947.3 1494.0,1941.0 C1498.5,1934.7 1504.7,1926.0 1511.0,1921.0 C1517.3,1916.0 1525.2,1911.5 1532.0,1911.0 C1538.8,1910.5 1546.7,1913.8 1552.0,1918.0 C1557.3,1922.2 1560.2,1929.7 1564.0,1936.0 C1567.8,1942.3 1571.5,1949.2 1575.0,1956.0 C1578.5,1962.8 1581.2,1968.8 1585.0,1977.0 C1588.8,1985.2 1593.5,1995.3 1598.0,2005.0 C1602.5,2014.7 1607.5,2026.3 1612.0,2035.0 C1616.5,2043.7 1619.0,2046.2 1625.0,2057.0 C1631.0,2067.8 1643.0,2090.3 1648.0,2100.0 C1653.0,2109.7 1649.7,2105.7 1655.0,2115.0 C1660.3,2124.3 1673.7,2146.3 1680.0,2156.0 C1686.3,2165.7 1686.2,2164.2 1693.0,2173.0 C1699.8,2181.8 1714.7,2199.7 1721.0,2209.0 C1727.3,2218.3 1724.5,2218.8 1731.0,2229.0 C1737.5,2239.2 1748.5,2254.5 1760.0,2270.0 C1771.5,2285.5 1786.7,2304.5 1800.0,2322.0 C1813.3,2339.5 1828.7,2359.8 1840.0,2375.0 C1851.3,2390.2 1861.2,2403.8 1868.0,2413.0 C1874.8,2422.2 1876.5,2424.5 1881.0,2430.0 C1885.5,2435.5 1890.2,2440.3 1895.0,2446.0 C1899.8,2451.7 1905.0,2458.0 1910.0,2464.0 C1915.0,2470.0 1920.2,2476.3 1925.0,2482.0 C1929.8,2487.7 1934.2,2492.3 1939.0,2498.0 C1943.8,2503.7 1948.8,2510.3 1954.0,2516.0 C1959.2,2521.7 1964.8,2526.3 1970.0,2532.0 C1975.2,2537.7 1982.5,2547.0 1985.0,2550.0" fill="none" stroke="#1dd38b" stroke-width="3" stroke-dasharray="9 11" clip-path="url(#clipc)"/>
<path d="M1490.0,1890.0 C1493.3,1895.0 1504.3,1911.0 1510.0,1920.0 C1515.7,1929.0 1519.2,1936.7 1524.0,1944.0 C1528.8,1951.3 1534.3,1957.7 1539.0,1964.0 C1543.7,1970.3 1547.8,1975.7 1552.0,1982.0 C1556.2,1988.3 1557.7,1992.3 1564.0,2002.0 C1570.3,2011.7 1583.7,2030.8 1590.0,2040.0 C1596.3,2049.2 1598.3,2051.7 1602.0,2057.0 C1605.7,2062.3 1608.2,2066.0 1612.0,2072.0 C1615.8,2078.0 1620.7,2086.7 1625.0,2093.0 C1629.3,2099.3 1633.5,2102.5 1638.0,2110.0 C1642.5,2117.5 1645.8,2128.3 1652.0,2138.0 C1658.2,2147.7 1668.0,2158.3 1675.0,2168.0 C1682.0,2177.7 1687.7,2186.7 1694.0,2196.0 C1700.3,2205.3 1702.0,2208.3 1713.0,2224.0 C1724.0,2239.7 1745.5,2269.8 1760.0,2290.0 C1774.5,2310.2 1786.7,2326.7 1800.0,2345.0 C1813.3,2363.3 1828.7,2382.3 1840.0,2400.0 C1851.3,2417.7 1861.3,2439.5 1868.0,2451.0 C1874.7,2462.5 1875.8,2462.8 1880.0,2469.0 C1884.2,2475.2 1888.7,2481.8 1893.0,2488.0 C1897.3,2494.2 1901.7,2500.0 1906.0,2506.0 C1910.3,2512.0 1914.7,2518.3 1919.0,2524.0 C1923.3,2529.7 1927.2,2534.2 1932.0,2540.0 C1936.8,2545.8 1942.5,2552.7 1948.0,2559.0 C1953.5,2565.3 1962.2,2574.8 1965.0,2578.0" fill="none" stroke="#f83c40" stroke-width="3" stroke-dasharray="9 11" clip-path="url(#clipc)"/>
<path d="M1470.0,1905.0 C1473.7,1907.0 1485.2,1911.3 1492.0,1917.0 C1498.8,1922.7 1505.2,1932.5 1511.0,1939.0 C1516.8,1945.5 1521.8,1950.5 1527.0,1956.0 C1532.2,1961.5 1537.0,1966.0 1542.0,1972.0 C1547.0,1978.0 1552.5,1986.7 1557.0,1992.0 C1561.5,1997.3 1561.5,1996.0 1569.0,2004.0 C1576.5,2012.0 1594.0,2031.5 1602.0,2040.0 C1610.0,2048.5 1607.3,2043.7 1617.0,2055.0 C1626.7,2066.3 1650.2,2096.2 1660.0,2108.0 C1669.8,2119.8 1668.3,2117.7 1676.0,2126.0 C1683.7,2134.3 1698.5,2149.2 1706.0,2158.0 C1713.5,2166.8 1711.8,2167.5 1721.0,2179.0 C1730.2,2190.5 1747.8,2210.2 1761.0,2227.0 C1774.2,2243.8 1786.8,2261.2 1800.0,2280.0 C1813.2,2298.8 1825.3,2321.7 1840.0,2340.0 C1854.7,2358.3 1877.7,2378.7 1888.0,2390.0 C1898.3,2401.3 1895.0,2399.7 1902.0,2408.0 C1909.0,2416.3 1922.3,2431.3 1930.0,2440.0 C1937.7,2448.7 1942.7,2454.2 1948.0,2460.0 C1953.3,2465.8 1957.2,2470.8 1962.0,2475.0 C1966.8,2479.2 1970.7,2482.2 1977.0,2485.0 C1983.3,2487.8 1992.8,2490.8 2000.0,2492.0 C2007.2,2493.2 2016.7,2492.0 2020.0,2492.0" fill="none" stroke="#9b00cf" stroke-width="3" stroke-dasharray="9 11" clip-path="url(#clipc)"/>
<path d="M1500.0,1902.0 C1502.7,1904.3 1510.3,1911.0 1516.0,1916.0 C1521.7,1921.0 1528.8,1926.2 1534.0,1932.0 C1539.2,1937.8 1542.3,1944.8 1547.0,1951.0 C1551.7,1957.2 1557.3,1963.0 1562.0,1969.0 C1566.7,1975.0 1569.5,1979.7 1575.0,1987.0 C1580.5,1994.3 1588.0,2003.8 1595.0,2013.0 C1602.0,2022.2 1611.2,2034.2 1617.0,2042.0 C1622.8,2049.8 1625.3,2054.5 1630.0,2060.0 C1634.7,2065.5 1640.3,2068.7 1645.0,2075.0 C1649.7,2081.3 1653.8,2090.8 1658.0,2098.0 C1662.2,2105.2 1664.5,2108.8 1670.0,2118.0 C1675.5,2127.2 1685.0,2143.8 1691.0,2153.0 C1697.0,2162.2 1701.5,2166.7 1706.0,2173.0 C1710.5,2179.3 1714.2,2185.0 1718.0,2191.0 C1721.8,2197.0 1724.7,2202.2 1729.0,2209.0 C1733.3,2215.8 1733.8,2216.8 1744.0,2232.0 C1754.2,2247.2 1775.7,2277.8 1790.0,2300.0 C1804.3,2322.2 1817.7,2344.8 1830.0,2365.0 C1842.3,2385.2 1856.5,2408.7 1864.0,2421.0 C1871.5,2433.3 1870.8,2433.0 1875.0,2439.0 C1879.2,2445.0 1884.5,2450.8 1889.0,2457.0 C1893.5,2463.2 1897.8,2469.5 1902.0,2476.0 C1906.2,2482.5 1910.0,2489.7 1914.0,2496.0 C1918.0,2502.3 1921.8,2508.0 1926.0,2514.0 C1930.2,2520.0 1934.7,2526.2 1939.0,2532.0 C1943.3,2537.8 1948.2,2542.7 1952.0,2549.0 C1955.8,2555.3 1960.3,2566.5 1962.0,2570.0" fill="none" stroke="#e6ae30" stroke-width="3" stroke-dasharray="9 11" clip-path="url(#clipc)"/>
<path d="M1428.0,1782.0 C1430.8,1778.3 1438.0,1769.0 1445.0,1760.0 C1452.0,1751.0 1460.8,1740.0 1470.0,1728.0 C1479.2,1716.0 1490.7,1700.7 1500.0,1688.0 C1509.3,1675.3 1517.7,1663.3 1526.0,1652.0 C1534.3,1640.7 1541.8,1630.0 1550.0,1620.0 C1558.2,1610.0 1566.7,1600.0 1575.0,1592.0 C1583.3,1584.0 1589.2,1576.0 1600.0,1572.0 C1610.8,1568.0 1623.3,1566.8 1640.0,1568.0 C1656.7,1569.2 1684.3,1575.2 1700.0,1579.0 C1715.7,1582.8 1721.2,1584.8 1734.0,1591.0 C1746.8,1597.2 1761.5,1603.8 1777.0,1616.0 C1792.5,1628.2 1809.8,1644.2 1827.0,1664.0 C1844.2,1683.8 1862.8,1710.3 1880.0,1735.0 C1897.2,1759.7 1915.2,1790.0 1930.0,1812.0 C1944.8,1834.0 1955.3,1849.5 1969.0,1867.0 C1982.7,1884.5 1999.7,1902.5 2012.0,1917.0 C2024.3,1931.5 2028.5,1939.5 2043.0,1954.0 C2057.5,1968.5 2089.7,1995.7 2099.0,2004.0" fill="none" stroke="#00a8ff" stroke-width="3" stroke-dasharray="9 11" clip-path="url(#clipc)"/>
<g clip-path="url(#clipc)"><rect x="1530.2" y="1828.0" width="33.0" height="33.0" fill="none" stroke="#1dd38b" stroke-width="4.8"/>
<rect x="1443.6" y="1982.7" width="33.0" height="33.0" fill="none" stroke="#1dd38b" stroke-width="4.8"/>
<rect x="1603.5" y="2086.8" width="33.0" height="33.0" fill="none" stroke="#1dd38b" stroke-width="4.8"/>
<rect x="1969.0" y="2549.0" width="33.0" height="33.0" fill="none" stroke="#1dd38b" stroke-width="4.8"/>
<rect x="2009.8" y="2556.7" width="33.0" height="33.0" fill="none" stroke="#1dd38b" stroke-width="4.8"/>
<rect x="2028.2" y="2549.8" width="33.0" height="33.0" fill="none" stroke="#1dd38b" stroke-width="4.8"/>
<rect x="2068.3" y="2535.1" width="33.0" height="33.0" fill="none" stroke="#1dd38b" stroke-width="4.8"/>
<circle cx="1443.2" cy="1869.2" r="18.6" fill="none" stroke="#f83c40" stroke-width="4.8"/>
<circle cx="1477.3" cy="1861.7" r="18.6" fill="none" stroke="#f83c40" stroke-width="4.8"/>
<circle cx="1652.3" cy="2138.1" r="18.6" fill="none" stroke="#f83c40" stroke-width="4.8"/>
<circle cx="1694.4" cy="2196.2" r="18.6" fill="none" stroke="#f83c40" stroke-width="4.8"/>
<circle cx="1980.8" cy="2623.2" r="18.6" fill="none" stroke="#f83c40" stroke-width="4.8"/>
<circle cx="2034.0" cy="2592.4" r="18.6" fill="none" stroke="#f83c40" stroke-width="4.8"/>
<circle cx="2065.5" cy="2554.7" r="18.6" fill="none" stroke="#f83c40" stroke-width="4.8"/>
<polygon points="1457.0,1852.3 1479.5,1891.3 1434.5,1891.3" fill="none" stroke="#9b00cf" stroke-width="4.8" stroke-linejoin="miter" stroke-miterlimit="3"/>
<polygon points="1492.4,1897.2 1514.9,1936.2 1469.9,1936.2" fill="none" stroke="#9b00cf" stroke-width="4.8" stroke-linejoin="miter" stroke-miterlimit="3"/>
<polygon points="1691.4,2109.0 1713.9,2148.0 1668.9,2148.0" fill="none" stroke="#9b00cf" stroke-width="4.8" stroke-linejoin="miter" stroke-miterlimit="3"/>
<polygon points="1738.0,2176.7 1760.5,2215.7 1715.5,2215.7" fill="none" stroke="#9b00cf" stroke-width="4.8" stroke-linejoin="miter" stroke-miterlimit="3"/>
<polygon points="1922.3,2407.8 1944.8,2446.8 1899.8,2446.8" fill="none" stroke="#9b00cf" stroke-width="4.8" stroke-linejoin="miter" stroke-miterlimit="3"/>
<polygon points="1977.0,2465.5 1999.5,2504.5 1954.5,2504.5" fill="none" stroke="#9b00cf" stroke-width="4.8" stroke-linejoin="miter" stroke-miterlimit="3"/>
<polygon points="2005.5,2479.8 2028.0,2518.8 1983.0,2518.8" fill="none" stroke="#9b00cf" stroke-width="4.8" stroke-linejoin="miter" stroke-miterlimit="3"/>
<polygon points="2021.6,2465.9 2044.1,2504.9 1999.1,2504.9" fill="none" stroke="#9b00cf" stroke-width="4.8" stroke-linejoin="miter" stroke-miterlimit="3"/>
<polygon points="2034.7,2476.7 2057.2,2515.7 2012.2,2515.7" fill="none" stroke="#9b00cf" stroke-width="4.8" stroke-linejoin="miter" stroke-miterlimit="3"/>
<polygon points="2076.3,2465.2 2098.8,2504.2 2053.8,2504.2" fill="none" stroke="#9b00cf" stroke-width="4.8" stroke-linejoin="miter" stroke-miterlimit="3"/>
<polygon points="1402.8,1916.4 1424.3,1939.9 1402.8,1963.4 1381.3,1939.9" fill="none" stroke="#e6ae30" stroke-width="4.8" stroke-linejoin="round"/>
<polygon points="1448.3,1892.5 1469.8,1916.0 1448.3,1939.5 1426.8,1916.0" fill="none" stroke="#e6ae30" stroke-width="4.8" stroke-linejoin="round"/>
<polygon points="1466.0,1863.5 1487.5,1887.0 1466.0,1910.5 1444.5,1887.0" fill="none" stroke="#e6ae30" stroke-width="4.8" stroke-linejoin="round"/>
<polygon points="1500.0,1860.9 1521.5,1884.4 1500.0,1907.9 1478.5,1884.4" fill="none" stroke="#e6ae30" stroke-width="4.8" stroke-linejoin="round"/>
<polygon points="1594.7,1989.6 1616.2,2013.1 1594.7,2036.6 1573.2,2013.1" fill="none" stroke="#e6ae30" stroke-width="4.8" stroke-linejoin="round"/>
<polygon points="1645.2,2051.5 1666.7,2075.0 1645.2,2098.5 1623.7,2075.0" fill="none" stroke="#e6ae30" stroke-width="4.8" stroke-linejoin="round"/>
<polygon points="1961.6,2556.6 1983.1,2580.1 1961.6,2603.6 1940.1,2580.1" fill="none" stroke="#e6ae30" stroke-width="4.8" stroke-linejoin="round"/>
<polygon points="2009.3,2579.7 2030.8,2603.2 2009.3,2626.7 1987.8,2603.2" fill="none" stroke="#e6ae30" stroke-width="4.8" stroke-linejoin="round"/>
<polygon points="2029.3,2585.1 2050.8,2608.6 2029.3,2632.1 2007.8,2608.6" fill="none" stroke="#e6ae30" stroke-width="4.8" stroke-linejoin="round"/>
<polygon points="2077.8,2551.2 2099.3,2574.7 2077.8,2598.2 2056.3,2574.7" fill="none" stroke="#e6ae30" stroke-width="4.8" stroke-linejoin="round"/>
<polygon points="1419.2,1776.5 1425.5,1789.3 1439.6,1791.4 1429.4,1801.3 1431.8,1815.4 1419.2,1808.8 1406.6,1815.4 1409.0,1801.3 1398.8,1791.4 1412.9,1789.3" fill="none" stroke="#00a8ff" stroke-width="5.2" stroke-linejoin="round"/>
<polygon points="1526.1,1627.5 1532.4,1640.3 1546.5,1642.4 1536.3,1652.3 1538.7,1666.4 1526.1,1659.8 1513.5,1666.4 1515.9,1652.3 1505.7,1642.4 1519.8,1640.3" fill="none" stroke="#00a8ff" stroke-width="5.2" stroke-linejoin="round"/>
<polygon points="1603.0,1540.0 1609.3,1552.8 1623.4,1554.9 1613.2,1564.8 1615.6,1578.9 1603.0,1572.2 1590.4,1578.9 1592.8,1564.8 1582.6,1554.9 1596.7,1552.8" fill="none" stroke="#00a8ff" stroke-width="5.2" stroke-linejoin="round"/>
<polygon points="1630.6,1549.5 1636.9,1562.3 1651.0,1564.4 1640.8,1574.3 1643.2,1588.4 1630.6,1581.8 1618.0,1588.4 1620.4,1574.3 1610.2,1564.4 1624.3,1562.3" fill="none" stroke="#00a8ff" stroke-width="5.2" stroke-linejoin="round"/>
<polygon points="1677.4,1558.0 1683.7,1570.8 1697.8,1572.9 1687.6,1582.8 1690.0,1596.9 1677.4,1590.2 1664.8,1596.9 1667.2,1582.8 1657.0,1572.9 1671.1,1570.8" fill="none" stroke="#00a8ff" stroke-width="5.2" stroke-linejoin="round"/>
<polygon points="1807.0,1577.5 1813.3,1590.3 1827.4,1592.4 1817.2,1602.3 1819.6,1616.4 1807.0,1609.8 1794.4,1616.4 1796.8,1602.3 1786.6,1592.4 1800.7,1590.3" fill="none" stroke="#00a8ff" stroke-width="5.2" stroke-linejoin="round"/>
<polygon points="1998.3,1925.0 2004.6,1937.8 2018.7,1939.9 2008.5,1949.8 2010.9,1963.9 1998.3,1957.2 1985.7,1963.9 1988.1,1949.8 1977.9,1939.9 1992.0,1937.8" fill="none" stroke="#00a8ff" stroke-width="5.2" stroke-linejoin="round"/></g>
<line x1="1346.6" y1="2784.8" x2="1371.6" y2="2784.8" stroke="#000" stroke-width="3.6"/>
<text x="1329.1" y="2802.3" font-family="'Liberation Sans', Arial, sans-serif" font-size="57" text-anchor="end" textLength="91.4" lengthAdjust="spacingAndGlyphs">−80</text>
<line x1="1358.6" y1="2713.4" x2="1371.6" y2="2713.4" stroke="#000" stroke-width="3.6"/>
<line x1="1346.6" y1="2642.1" x2="1371.6" y2="2642.1" stroke="#000" stroke-width="3.6"/>
<text x="1329.1" y="2659.6" font-family="'Liberation Sans', Arial, sans-serif" font-size="57" text-anchor="end" textLength="91.4" lengthAdjust="spacingAndGlyphs">−60</text>
<line x1="1358.6" y1="2570.8" x2="1371.6" y2="2570.8" stroke="#000" stroke-width="3.6"/>
<line x1="1346.6" y1="2499.4" x2="1371.6" y2="2499.4" stroke="#000" stroke-width="3.6"/>
<text x="1329.1" y="2516.9" font-family="'Liberation Sans', Arial, sans-serif" font-size="57" text-anchor="end" textLength="91.4" lengthAdjust="spacingAndGlyphs">−40</text>
<line x1="1358.6" y1="2428.1" x2="1371.6" y2="2428.1" stroke="#000" stroke-width="3.6"/>
<line x1="1346.6" y1="2356.7" x2="1371.6" y2="2356.7" stroke="#000" stroke-width="3.6"/>
<text x="1329.1" y="2374.2" font-family="'Liberation Sans', Arial, sans-serif" font-size="57" text-anchor="end" textLength="91.4" lengthAdjust="spacingAndGlyphs">−20</text>
<line x1="1358.6" y1="2285.3" x2="1371.6" y2="2285.3" stroke="#000" stroke-width="3.6"/>
<line x1="1346.6" y1="2214.0" x2="1371.6" y2="2214.0" stroke="#000" stroke-width="3.6"/>
<text x="1329.1" y="2231.5" font-family="'Liberation Sans', Arial, sans-serif" font-size="57" text-anchor="end" textLength="29.9" lengthAdjust="spacingAndGlyphs">0</text>
<line x1="1358.6" y1="2142.7" x2="1371.6" y2="2142.7" stroke="#000" stroke-width="3.6"/>
<line x1="1346.6" y1="2071.3" x2="1371.6" y2="2071.3" stroke="#000" stroke-width="3.6"/>
<text x="1329.1" y="2088.8" font-family="'Liberation Sans', Arial, sans-serif" font-size="57" text-anchor="end" textLength="59.9" lengthAdjust="spacingAndGlyphs">20</text>
<line x1="1358.6" y1="2000.0" x2="1371.6" y2="2000.0" stroke="#000" stroke-width="3.6"/>
<line x1="1346.6" y1="1928.6" x2="1371.6" y2="1928.6" stroke="#000" stroke-width="3.6"/>
<text x="1329.1" y="1946.1" font-family="'Liberation Sans', Arial, sans-serif" font-size="57" text-anchor="end" textLength="59.9" lengthAdjust="spacingAndGlyphs">40</text>
<line x1="1358.6" y1="1857.2" x2="1371.6" y2="1857.2" stroke="#000" stroke-width="3.6"/>
<line x1="1346.6" y1="1785.9" x2="1371.6" y2="1785.9" stroke="#000" stroke-width="3.6"/>
<text x="1329.1" y="1803.4" font-family="'Liberation Sans', Arial, sans-serif" font-size="57" text-anchor="end" textLength="59.9" lengthAdjust="spacingAndGlyphs">60</text>
<line x1="1358.6" y1="1714.5" x2="1371.6" y2="1714.5" stroke="#000" stroke-width="3.6"/>
<line x1="1346.6" y1="1643.2" x2="1371.6" y2="1643.2" stroke="#000" stroke-width="3.6"/>
<text x="1329.1" y="1660.7" font-family="'Liberation Sans', Arial, sans-serif" font-size="57" text-anchor="end" textLength="59.9" lengthAdjust="spacingAndGlyphs">80</text>
<line x1="1358.6" y1="1571.8" x2="1371.6" y2="1571.8" stroke="#000" stroke-width="3.6"/>
<line x1="1346.6" y1="1500.5" x2="1371.6" y2="1500.5" stroke="#000" stroke-width="3.6"/>
<text x="1329.1" y="1518.0" font-family="'Liberation Sans', Arial, sans-serif" font-size="57" text-anchor="end" textLength="89.8" lengthAdjust="spacingAndGlyphs">100</text>
<line x1="1371.6" y1="2786.8" x2="1371.6" y2="2798.8" stroke="#000" stroke-width="3.6"/>
<line x1="1462.3" y1="2786.8" x2="1462.3" y2="2808.8" stroke="#000" stroke-width="3.6"/>
<text x="1462.3" y="2872.8" font-family="'Liberation Sans', Arial, sans-serif" font-size="56" text-anchor="middle">4</text>
<line x1="1553.0" y1="2786.8" x2="1553.0" y2="2798.8" stroke="#000" stroke-width="3.6"/>
<line x1="1643.7" y1="2786.8" x2="1643.7" y2="2808.8" stroke="#000" stroke-width="3.6"/>
<text x="1643.7" y="2872.8" font-family="'Liberation Sans', Arial, sans-serif" font-size="56" text-anchor="middle">6</text>
<line x1="1734.4" y1="2786.8" x2="1734.4" y2="2798.8" stroke="#000" stroke-width="3.6"/>
<line x1="1825.1" y1="2786.8" x2="1825.1" y2="2808.8" stroke="#000" stroke-width="3.6"/>
<text x="1825.1" y="2872.8" font-family="'Liberation Sans', Arial, sans-serif" font-size="56" text-anchor="middle">8</text>
<line x1="1915.8" y1="2786.8" x2="1915.8" y2="2798.8" stroke="#000" stroke-width="3.6"/>
<line x1="2006.5" y1="2786.8" x2="2006.5" y2="2808.8" stroke="#000" stroke-width="3.6"/>
<text x="2006.5" y="2872.8" font-family="'Liberation Sans', Arial, sans-serif" font-size="56" text-anchor="middle">10</text>
<line x1="2097.2" y1="2786.8" x2="2097.2" y2="2798.8" stroke="#000" stroke-width="3.6"/>
<rect x="1371.6" y="1503.3" width="724.6" height="1283.5" fill="none" stroke="#000" stroke-width="3.8"/>
<text x="1733.0" y="2973.0" font-family="'Liberation Sans', Arial, sans-serif" font-size="67" text-anchor="middle">pH (a.u.)</text>
<text transform="translate(1208,2491) rotate(-90)" font-family="'Liberation Sans', Arial, sans-serif" font-size="66">wall zeta potential (mV)</text>
<rect x="1094.8" y="1488.3" width="114.9" height="122.5" fill="none" stroke="#7f7f7f" stroke-width="1.6"/>
<text x="1116" y="1575" font-family="'Liberation Sans', Arial, sans-serif" font-size="78" textLength="70" lengthAdjust="spacing">c)</text>
</svg>
</body></html>
